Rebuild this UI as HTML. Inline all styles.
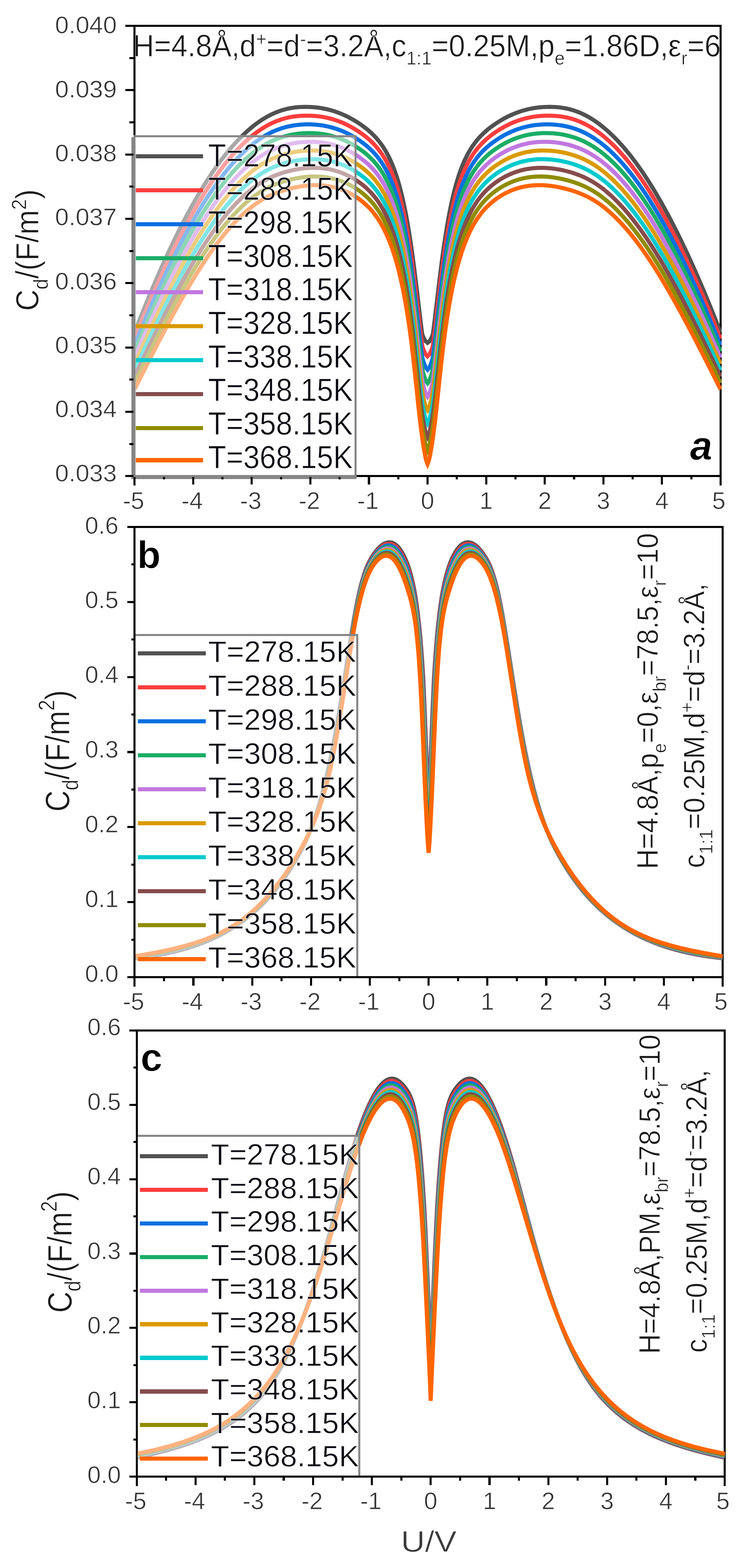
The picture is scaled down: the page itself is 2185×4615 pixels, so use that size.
<!DOCTYPE html>
<html lang="en">
<head>
<meta charset="utf-8">
<title>Differential capacitance curves</title>
<style>
html,body{margin:0;padding:0;background:#fff;}
body{width:2185px;height:4615px;overflow:hidden;}
svg{display:block;}
svg text{font-family:"Liberation Sans", Arial, sans-serif;white-space:pre;stroke:#fff;stroke-width:1.1px;}
</style>
</head>
<body>
<svg width="2185" height="4615" viewBox="0 0 2185 4615">
<rect x="0" y="0" width="2185" height="4615" fill="#fff"/>
<g shape-rendering="crispEdges">
<rect x="393.2" y="72.9" width="1731.6" height="6.1" fill="#000"/>
<rect x="393.2" y="1398.2" width="1731.6" height="6.1" fill="#000"/>
<rect x="393.2" y="72.9" width="6.1" height="1331.4" fill="#000"/>
<rect x="2118.7" y="72.9" width="6.1" height="1356.0" fill="#000"/>
</g>
<clipPath id="clipA"><rect x="399.4" y="76.0" width="1725.5" height="1325.3"/></clipPath>
<g clip-path="url(#clipA)" fill="none" stroke-width="12.0" stroke-linejoin="miter" stroke-miterlimit="3" stroke-linecap="butt">
<path d="M396.3,978.5 397.0,976.6 399.9,969.1 402.8,961.7 405.8,954.2 408.7,946.8 411.7,939.3 414.6,931.9 417.6,924.5 420.6,917.0 423.6,909.6 426.6,902.2 429.7,894.8 432.7,887.4 435.8,880.0 438.8,872.6 441.9,865.2 445.0,857.8 448.1,850.4 451.3,843.1 454.4,835.7 457.6,828.3 460.8,821.0 464.0,813.6 467.2,806.3 470.4,799.0 473.6,791.7 476.9,784.4 480.2,777.1 483.5,769.8 486.8,762.5 490.2,755.2 493.5,747.9 496.9,740.7 500.3,733.4 503.8,726.2 507.2,719.0 510.7,711.7 514.2,704.5 517.7,697.3 521.2,690.2 524.8,683.0 528.4,675.8 532.0,668.7 535.6,661.6 539.3,654.4 543.0,647.3 546.7,640.3 550.5,633.2 554.3,626.1 558.1,619.1 561.9,612.1 565.8,605.1 569.7,598.1 573.7,591.1 577.7,584.2 581.7,577.2 585.8,570.3 589.9,563.5 594.0,556.6 598.2,549.8 602.4,543.0 606.7,536.2 611.0,529.5 615.4,522.7 619.8,516.1 624.2,509.4 628.7,502.8 633.3,496.2 637.9,489.7 642.6,483.2 647.3,476.7 652.1,470.3 657.0,463.9 661.9,457.6 666.9,451.4 672.0,445.2 677.1,439.0 682.3,432.9 687.6,426.9 693.0,421.0 698.4,415.1 703.9,409.3 709.6,403.6 715.3,398.0 721.1,392.5 727.0,387.0 733.0,381.7 739.1,376.6 745.3,371.5 751.6,366.6 758.0,361.8 764.6,357.2 771.2,352.7 778.0,348.5 784.9,344.4 791.9,340.6 799.1,336.9 806.3,333.6 813.7,330.4 821.2,327.6 828.7,325.0 836.4,322.7 844.2,320.7 852.0,319.0 859.9,317.6 867.8,316.4 875.8,315.6 883.7,315.0 891.7,314.7 899.7,314.6 907.8,314.7 915.8,315.0 923.7,315.5 931.7,316.3 939.7,317.3 947.6,318.5 955.4,320.0 963.3,321.7 971.0,323.6 978.8,325.8 986.4,328.1 994.0,330.8 1001.4,333.6 1008.8,336.7 1016.1,340.0 1023.4,343.4 1030.5,347.1 1037.5,351.0 1044.4,355.0 1051.2,359.2 1057.9,363.6 1064.5,368.1 1071.0,372.8 1077.4,377.7 1083.6,382.7 1089.6,388.0 1095.5,393.4 1101.2,399.0 1106.7,404.9 1112.0,410.9 1117.0,417.1 1121.9,423.5 1126.5,430.0 1130.9,436.7 1135.1,443.5 1139.1,450.5 1142.8,457.5 1146.4,464.7 1149.9,471.9 1153.1,479.3 1156.2,486.6 1159.1,494.1 1161.9,501.6 1164.6,509.1 1167.1,516.7 1169.6,524.4 1171.9,532.0 1174.2,539.7 1176.4,547.4 1178.4,555.1 1180.5,562.9 1182.4,570.7 1184.3,578.4 1186.1,586.2 1187.8,594.1 1189.5,601.9 1191.2,609.7 1192.8,617.6 1194.4,625.4 1195.9,633.3 1197.3,641.2 1198.8,649.0 1200.1,656.9 1201.5,664.8 1202.8,672.7 1204.1,680.6 1205.4,688.5 1206.6,696.4 1207.8,704.3 1209.0,712.3 1210.2,720.2 1211.4,728.1 1212.5,736.0 1213.6,744.0 1214.7,751.9 1215.8,759.8 1216.8,767.8 1217.9,775.7 1218.9,783.6 1219.9,791.6 1220.9,799.5 1221.9,807.5 1222.9,815.4 1223.9,823.4 1224.9,831.3 1225.8,839.3 1226.8,847.2 1227.8,855.2 1228.7,863.1 1229.6,871.1 1230.6,879.0 1231.5,887.0 1232.4,894.9 1233.4,902.9 1234.3,910.8 1235.3,918.8 1236.2,926.7 1237.1,934.7 1238.1,942.6 1239.1,950.6 1240.1,958.5 1241.1,966.5 1242.1,974.4 1243.2,982.3 1245.6,990.0 1248.9,997.2 1253.1,1004.0 1259.1,1009.0 1265.0,1004.0 1269.2,997.2 1272.5,990.0 1274.9,982.3 1276.0,974.4 1277.0,966.5 1278.0,958.5 1279.0,950.6 1280.0,942.6 1281.0,934.7 1281.9,926.7 1282.8,918.8 1283.8,910.8 1284.7,902.9 1285.7,894.9 1286.6,887.0 1287.5,879.0 1288.5,871.1 1289.4,863.1 1290.3,855.2 1291.3,847.2 1292.3,839.3 1293.2,831.3 1294.2,823.4 1295.2,815.4 1296.2,807.5 1297.2,799.5 1298.2,791.6 1299.2,783.6 1300.2,775.7 1301.3,767.8 1302.3,759.8 1303.4,751.9 1304.5,744.0 1305.6,736.0 1306.7,728.1 1307.9,720.2 1309.1,712.3 1310.3,704.3 1311.5,696.4 1312.7,688.5 1314.0,680.6 1315.3,672.7 1316.6,664.8 1318.0,656.9 1319.3,649.0 1320.8,641.2 1322.2,633.3 1323.7,625.4 1325.3,617.6 1326.9,609.7 1328.6,601.9 1330.3,594.1 1332.0,586.2 1333.8,578.4 1335.7,570.7 1337.6,562.9 1339.7,555.1 1341.7,547.4 1343.9,539.7 1346.2,532.0 1348.5,524.4 1351.0,516.7 1353.5,509.1 1356.2,501.6 1359.0,494.1 1361.9,486.6 1365.0,479.3 1368.2,471.9 1371.7,464.7 1375.3,457.5 1379.0,450.5 1383.0,443.5 1387.2,436.7 1391.6,430.0 1396.2,423.5 1401.1,417.1 1406.1,410.9 1411.4,404.9 1416.9,399.0 1422.6,393.4 1428.5,388.0 1434.5,382.7 1440.7,377.7 1447.1,372.8 1453.6,368.1 1460.2,363.6 1466.9,359.2 1473.7,355.0 1480.6,351.0 1487.6,347.1 1494.7,343.4 1502.0,340.0 1509.3,336.7 1516.7,333.6 1524.1,330.8 1531.7,328.1 1539.3,325.8 1547.1,323.6 1554.8,321.7 1562.7,320.0 1570.5,318.5 1578.4,317.3 1586.4,316.3 1594.4,315.5 1602.3,315.0 1610.3,314.7 1618.4,314.6 1626.4,314.7 1634.4,315.0 1642.3,315.6 1650.3,316.4 1658.2,317.6 1666.1,319.0 1673.9,320.7 1681.7,322.7 1689.4,325.0 1696.9,327.6 1704.4,330.4 1711.8,333.6 1719.0,336.9 1726.2,340.6 1733.2,344.4 1740.1,348.5 1746.9,352.7 1753.5,357.2 1760.1,361.8 1766.5,366.6 1772.8,371.5 1779.0,376.6 1785.1,381.7 1791.1,387.0 1797.0,392.5 1802.8,398.0 1808.5,403.6 1814.2,409.3 1819.7,415.1 1825.1,421.0 1830.5,426.9 1835.8,432.9 1841.0,439.0 1846.1,445.2 1851.2,451.4 1856.2,457.6 1861.1,463.9 1866.0,470.3 1870.8,476.7 1875.5,483.2 1880.2,489.7 1884.8,496.2 1889.4,502.8 1893.9,509.4 1898.3,516.1 1902.7,522.7 1907.1,529.5 1911.4,536.2 1915.7,543.0 1919.9,549.8 1924.1,556.6 1928.2,563.5 1932.3,570.3 1936.4,577.2 1940.4,584.2 1944.4,591.1 1948.4,598.1 1952.3,605.1 1956.2,612.1 1960.0,619.1 1963.8,626.1 1967.6,633.2 1971.4,640.3 1975.1,647.3 1978.8,654.4 1982.5,661.6 1986.1,668.7 1989.7,675.8 1993.3,683.0 1996.9,690.2 2000.4,697.3 2003.9,704.5 2007.4,711.7 2010.9,719.0 2014.3,726.2 2017.8,733.4 2021.2,740.7 2024.6,747.9 2027.9,755.2 2031.3,762.5 2034.6,769.8 2037.9,777.1 2041.2,784.4 2044.5,791.7 2047.7,799.0 2050.9,806.3 2054.1,813.6 2057.3,821.0 2060.5,828.3 2063.7,835.7 2066.8,843.1 2070.0,850.4 2073.1,857.8 2076.2,865.2 2079.3,872.6 2082.3,880.0 2085.4,887.4 2088.4,894.8 2091.5,902.2 2094.5,909.6 2097.5,917.0 2100.5,924.5 2103.5,931.9 2106.4,939.3 2109.4,946.8 2112.3,954.2 2115.3,961.7 2118.2,969.1 2121.1,976.6 2121.8,978.5" stroke="#515151"/>
<path d="M396.3,997.1 397.0,995.2 400.0,987.8 403.0,980.4 406.0,972.9 409.0,965.5 412.0,958.1 415.0,950.7 418.0,943.3 421.1,935.9 424.2,928.5 427.2,921.1 430.3,913.7 433.4,906.4 436.5,899.0 439.7,891.6 442.8,884.3 446.0,876.9 449.1,869.6 452.3,862.2 455.5,854.9 458.7,847.6 462.0,840.3 465.2,833.0 468.5,825.7 471.8,818.4 475.1,811.1 478.4,803.8 481.7,796.5 485.1,789.3 488.4,782.0 491.8,774.8 495.2,767.5 498.7,760.3 502.1,753.1 505.6,745.9 509.1,738.7 512.6,731.5 516.1,724.3 519.7,717.1 523.3,710.0 526.9,702.8 530.5,695.7 534.2,688.6 537.9,681.5 541.6,674.4 545.3,667.3 549.1,660.3 552.9,653.2 556.7,646.2 560.6,639.2 564.5,632.2 568.4,625.2 572.3,618.3 576.3,611.4 580.4,604.4 584.4,597.6 588.5,590.7 592.7,583.8 596.9,577.0 601.1,570.2 605.4,563.5 609.7,556.7 614.0,550.0 618.4,543.3 622.9,536.7 627.4,530.1 632.0,523.5 636.6,517.0 641.3,510.5 646.0,504.0 650.8,497.6 655.6,491.3 660.5,485.0 665.5,478.7 670.6,472.5 675.7,466.3 680.9,460.3 686.2,454.2 691.5,448.3 697.0,442.4 702.5,436.6 708.1,430.9 713.8,425.3 719.6,419.8 725.4,414.4 731.4,409.0 737.5,403.8 743.7,398.8 750.0,393.8 756.4,389.1 762.9,384.4 769.6,380.0 776.3,375.7 783.2,371.6 790.2,367.8 797.3,364.1 804.6,360.7 811.9,357.5 819.4,354.6 826.9,352.0 834.6,349.6 842.3,347.5 850.1,345.7 857.9,344.1 865.8,342.9 873.8,341.9 881.7,341.2 889.7,340.7 897.7,340.4 905.7,340.4 913.7,340.5 921.7,340.9 929.7,341.5 937.6,342.4 945.5,343.4 953.4,344.7 961.3,346.3 969.1,348.1 976.8,350.1 984.5,352.4 992.1,354.9 999.6,357.7 1007.0,360.6 1014.4,363.8 1021.6,367.3 1028.7,370.9 1035.8,374.7 1042.7,378.7 1049.5,382.9 1056.2,387.2 1062.8,391.7 1069.3,396.4 1075.7,401.2 1081.9,406.3 1087.9,411.5 1093.8,417.0 1099.5,422.6 1104.9,428.5 1110.2,434.5 1115.2,440.7 1120.1,447.1 1124.7,453.6 1129.1,460.3 1133.3,467.1 1137.3,474.0 1141.1,481.1 1144.7,488.2 1148.1,495.4 1151.4,502.7 1154.5,510.1 1157.5,517.5 1160.3,525.0 1163.0,532.6 1165.6,540.1 1168.0,547.7 1170.4,555.4 1172.7,563.1 1174.9,570.7 1177.0,578.5 1179.0,586.2 1181.0,594.0 1182.9,601.7 1184.7,609.5 1186.5,617.3 1188.2,625.1 1189.9,633.0 1191.5,640.8 1193.1,648.6 1194.6,656.5 1196.1,664.3 1197.5,672.2 1198.9,680.1 1200.3,688.0 1201.7,695.9 1203.0,703.8 1204.2,711.7 1205.5,719.6 1206.7,727.5 1207.9,735.4 1209.1,743.3 1210.2,751.2 1211.4,759.1 1212.5,767.0 1213.6,775.0 1214.6,782.9 1215.7,790.8 1216.7,798.8 1217.8,806.7 1218.8,814.6 1219.8,822.6 1220.8,830.5 1221.8,838.4 1222.7,846.4 1223.7,854.3 1224.7,862.3 1225.6,870.2 1226.5,878.2 1227.5,886.1 1228.4,894.1 1229.3,902.0 1230.3,909.9 1231.2,917.9 1232.1,925.8 1233.0,933.8 1234.0,941.7 1234.9,949.7 1235.8,957.6 1236.8,965.6 1237.7,973.5 1238.7,981.5 1239.7,989.4 1240.7,997.3 1241.7,1005.3 1242.8,1013.2 1244.3,1021.0 1246.9,1028.6 1249.9,1036.0 1253.7,1043.0 1259.1,1048.7 1264.4,1043.0 1268.2,1036.0 1271.2,1028.6 1273.8,1021.0 1275.3,1013.2 1276.4,1005.3 1277.4,997.3 1278.4,989.4 1279.4,981.5 1280.4,973.5 1281.3,965.6 1282.3,957.6 1283.2,949.7 1284.1,941.7 1285.1,933.8 1286.0,925.8 1286.9,917.9 1287.8,909.9 1288.8,902.0 1289.7,894.1 1290.6,886.1 1291.6,878.2 1292.5,870.2 1293.4,862.3 1294.4,854.3 1295.4,846.4 1296.3,838.4 1297.3,830.5 1298.3,822.6 1299.3,814.6 1300.3,806.7 1301.4,798.8 1302.4,790.8 1303.5,782.9 1304.5,775.0 1305.6,767.0 1306.7,759.1 1307.9,751.2 1309.0,743.3 1310.2,735.4 1311.4,727.5 1312.6,719.6 1313.9,711.7 1315.1,703.8 1316.4,695.9 1317.8,688.0 1319.2,680.1 1320.6,672.2 1322.0,664.3 1323.5,656.5 1325.0,648.6 1326.6,640.8 1328.2,633.0 1329.9,625.1 1331.6,617.3 1333.4,609.5 1335.2,601.7 1337.1,594.0 1339.1,586.2 1341.1,578.5 1343.2,570.7 1345.4,563.1 1347.7,555.4 1350.1,547.7 1352.5,540.1 1355.1,532.6 1357.8,525.0 1360.6,517.5 1363.6,510.1 1366.7,502.7 1370.0,495.4 1373.4,488.2 1377.0,481.1 1380.8,474.0 1384.8,467.1 1389.0,460.3 1393.4,453.6 1398.0,447.1 1402.9,440.7 1407.9,434.5 1413.2,428.5 1418.6,422.6 1424.3,417.0 1430.2,411.5 1436.2,406.3 1442.4,401.2 1448.8,396.4 1455.3,391.7 1461.9,387.2 1468.6,382.9 1475.4,378.7 1482.3,374.7 1489.4,370.9 1496.5,367.3 1503.7,363.8 1511.1,360.6 1518.5,357.7 1526.0,354.9 1533.6,352.4 1541.3,350.1 1549.0,348.1 1556.8,346.3 1564.7,344.7 1572.6,343.4 1580.5,342.4 1588.4,341.5 1596.4,340.9 1604.4,340.5 1612.4,340.4 1620.4,340.4 1628.4,340.7 1636.4,341.2 1644.3,341.9 1652.3,342.9 1660.2,344.1 1668.0,345.7 1675.8,347.5 1683.5,349.6 1691.2,352.0 1698.7,354.6 1706.2,357.5 1713.5,360.7 1720.8,364.1 1727.9,367.8 1734.9,371.6 1741.8,375.7 1748.5,380.0 1755.2,384.4 1761.7,389.1 1768.1,393.8 1774.4,398.8 1780.6,403.8 1786.7,409.0 1792.7,414.4 1798.5,419.8 1804.3,425.3 1810.0,430.9 1815.6,436.6 1821.1,442.4 1826.6,448.3 1831.9,454.2 1837.2,460.3 1842.4,466.3 1847.5,472.5 1852.6,478.7 1857.6,485.0 1862.5,491.3 1867.3,497.6 1872.1,504.0 1876.8,510.5 1881.5,517.0 1886.1,523.5 1890.7,530.1 1895.2,536.7 1899.7,543.3 1904.1,550.0 1908.4,556.7 1912.7,563.5 1917.0,570.2 1921.2,577.0 1925.4,583.8 1929.6,590.7 1933.7,597.6 1937.7,604.4 1941.8,611.4 1945.8,618.3 1949.7,625.2 1953.6,632.2 1957.5,639.2 1961.4,646.2 1965.2,653.2 1969.0,660.3 1972.8,667.3 1976.5,674.4 1980.2,681.5 1983.9,688.6 1987.6,695.7 1991.2,702.8 1994.8,710.0 1998.4,717.1 2002.0,724.3 2005.5,731.5 2009.0,738.7 2012.5,745.9 2016.0,753.1 2019.4,760.3 2022.9,767.5 2026.3,774.8 2029.7,782.0 2033.0,789.3 2036.4,796.5 2039.7,803.8 2043.0,811.1 2046.3,818.4 2049.6,825.7 2052.9,833.0 2056.1,840.3 2059.4,847.6 2062.6,854.9 2065.8,862.2 2069.0,869.6 2072.1,876.9 2075.3,884.3 2078.4,891.6 2081.6,899.0 2084.7,906.4 2087.8,913.7 2090.9,921.1 2093.9,928.5 2097.0,935.9 2100.1,943.3 2103.1,950.7 2106.1,958.1 2109.1,965.5 2112.1,972.9 2115.1,980.4 2118.1,987.8 2121.1,995.2 2121.8,997.1" stroke="#FB3E3E"/>
<path d="M396.3,1015.7 396.3,1015.7 399.3,1008.3 402.4,1000.9 405.4,993.5 408.5,986.1 411.6,978.7 414.7,971.3 417.8,963.9 420.9,956.6 424.0,949.2 427.1,941.8 430.3,934.5 433.4,927.1 436.6,919.8 439.8,912.4 443.0,905.1 446.2,897.8 449.4,890.4 452.7,883.1 455.9,875.8 459.2,868.5 462.5,861.2 465.8,853.9 469.1,846.6 472.4,839.3 475.8,832.1 479.1,824.8 482.5,817.6 485.9,810.3 489.3,803.1 492.8,795.9 496.2,788.6 499.7,781.4 503.2,774.2 506.7,767.0 510.3,759.9 513.8,752.7 517.4,745.5 521.0,738.4 524.6,731.3 528.3,724.1 532.0,717.0 535.7,709.9 539.4,702.8 543.2,695.8 546.9,688.7 550.7,681.7 554.6,674.7 558.5,667.6 562.4,660.7 566.3,653.7 570.3,646.7 574.2,639.8 578.3,632.9 582.3,626.0 586.5,619.1 590.6,612.3 594.8,605.5 599.0,598.7 603.3,591.9 607.6,585.1 612.0,578.4 616.4,571.7 620.8,565.1 625.3,558.5 629.9,551.9 634.5,545.4 639.1,538.9 643.9,532.4 648.6,526.0 653.5,519.6 658.4,513.3 663.4,507.0 668.4,500.8 673.5,494.6 678.7,488.5 683.9,482.5 689.3,476.5 694.7,470.6 700.2,464.8 705.8,459.1 711.4,453.4 717.2,447.9 723.1,442.4 729.0,437.1 735.1,431.8 741.3,426.7 747.5,421.8 753.9,417.0 760.4,412.3 767.0,407.8 773.8,403.5 780.6,399.4 787.6,395.4 794.7,391.7 801.9,388.3 809.2,385.0 816.7,382.0 824.2,379.3 831.8,376.8 839.5,374.6 847.2,372.6 855.1,371.0 862.9,369.5 870.9,368.4 878.8,367.4 886.8,366.8 894.8,366.3 902.8,366.1 910.8,366.1 918.8,366.3 926.8,366.7 934.7,367.4 942.7,368.3 950.6,369.4 958.5,370.8 966.3,372.5 974.1,374.4 981.8,376.5 989.5,378.9 997.0,381.5 1004.5,384.4 1011.9,387.4 1019.2,390.8 1026.3,394.3 1033.4,398.0 1040.4,402.0 1047.2,406.1 1054.0,410.4 1060.6,414.9 1067.1,419.6 1073.5,424.4 1079.7,429.5 1085.8,434.7 1091.6,440.1 1097.3,445.8 1102.8,451.6 1108.1,457.6 1113.1,463.8 1118.0,470.2 1122.6,476.7 1127.0,483.4 1131.2,490.2 1135.2,497.1 1139.1,504.1 1142.7,511.3 1146.2,518.5 1149.5,525.8 1152.6,533.1 1155.6,540.6 1158.5,548.0 1161.2,555.6 1163.8,563.1 1166.4,570.7 1168.8,578.3 1171.1,586.0 1173.3,593.7 1175.4,601.4 1177.5,609.1 1179.5,616.9 1181.4,624.7 1183.3,632.4 1185.1,640.2 1186.8,648.1 1188.5,655.9 1190.2,663.7 1191.8,671.6 1193.3,679.4 1194.8,687.3 1196.3,695.1 1197.7,703.0 1199.1,710.9 1200.4,718.8 1201.8,726.7 1203.0,734.6 1204.3,742.5 1205.5,750.4 1206.7,758.3 1207.9,766.2 1209.1,774.1 1210.2,782.1 1211.3,790.0 1212.4,797.9 1213.5,805.9 1214.6,813.8 1215.6,821.7 1216.6,829.7 1217.7,837.6 1218.7,845.5 1219.6,853.5 1220.6,861.4 1221.6,869.4 1222.5,877.3 1223.5,885.3 1224.4,893.2 1225.4,901.2 1226.3,909.1 1227.2,917.1 1228.1,925.0 1229.1,933.0 1230.0,940.9 1230.9,948.9 1231.8,956.8 1232.7,964.8 1233.6,972.7 1234.5,980.7 1235.5,988.6 1236.4,996.6 1237.4,1004.5 1238.3,1012.5 1239.3,1020.4 1240.3,1028.3 1241.3,1036.3 1242.4,1044.2 1243.6,1052.1 1245.6,1059.9 1248.0,1067.5 1250.8,1075.0 1254.1,1082.2 1259.1,1088.3 1264.0,1082.2 1267.3,1075.0 1270.1,1067.5 1272.5,1059.9 1274.5,1052.1 1275.7,1044.2 1276.8,1036.3 1277.8,1028.3 1278.8,1020.4 1279.8,1012.5 1280.7,1004.5 1281.7,996.6 1282.6,988.6 1283.6,980.7 1284.5,972.7 1285.4,964.8 1286.3,956.8 1287.2,948.9 1288.1,940.9 1289.0,933.0 1290.0,925.0 1290.9,917.1 1291.8,909.1 1292.7,901.2 1293.7,893.2 1294.6,885.3 1295.6,877.3 1296.5,869.4 1297.5,861.4 1298.5,853.5 1299.4,845.5 1300.4,837.6 1301.5,829.7 1302.5,821.7 1303.5,813.8 1304.6,805.9 1305.7,797.9 1306.8,790.0 1307.9,782.1 1309.0,774.1 1310.2,766.2 1311.4,758.3 1312.6,750.4 1313.8,742.5 1315.1,734.6 1316.3,726.7 1317.7,718.8 1319.0,710.9 1320.4,703.0 1321.8,695.1 1323.3,687.3 1324.8,679.4 1326.3,671.6 1327.9,663.7 1329.6,655.9 1331.3,648.1 1333.0,640.2 1334.8,632.4 1336.7,624.7 1338.6,616.9 1340.6,609.1 1342.7,601.4 1344.8,593.7 1347.0,586.0 1349.3,578.3 1351.7,570.7 1354.3,563.1 1356.9,555.6 1359.6,548.0 1362.5,540.6 1365.5,533.1 1368.6,525.8 1371.9,518.5 1375.4,511.3 1379.0,504.1 1382.9,497.1 1386.9,490.2 1391.1,483.4 1395.5,476.7 1400.1,470.2 1405.0,463.8 1410.0,457.6 1415.3,451.6 1420.8,445.8 1426.5,440.1 1432.3,434.7 1438.4,429.5 1444.6,424.4 1451.0,419.6 1457.5,414.9 1464.1,410.4 1470.9,406.1 1477.7,402.0 1484.7,398.0 1491.8,394.3 1498.9,390.8 1506.2,387.4 1513.6,384.4 1521.1,381.5 1528.6,378.9 1536.3,376.5 1544.0,374.4 1551.8,372.5 1559.6,370.8 1567.5,369.4 1575.4,368.3 1583.4,367.4 1591.3,366.7 1599.3,366.3 1607.3,366.1 1615.3,366.1 1623.3,366.3 1631.3,366.8 1639.3,367.4 1647.2,368.4 1655.2,369.5 1663.0,371.0 1670.9,372.6 1678.6,374.6 1686.3,376.8 1693.9,379.3 1701.4,382.0 1708.9,385.0 1716.2,388.3 1723.4,391.7 1730.5,395.4 1737.5,399.4 1744.3,403.5 1751.1,407.8 1757.7,412.3 1764.2,417.0 1770.6,421.8 1776.8,426.7 1783.0,431.8 1789.1,437.1 1795.0,442.4 1800.9,447.9 1806.7,453.4 1812.3,459.1 1817.9,464.8 1823.4,470.6 1828.8,476.5 1834.2,482.5 1839.4,488.5 1844.6,494.6 1849.7,500.8 1854.7,507.0 1859.7,513.3 1864.6,519.6 1869.5,526.0 1874.2,532.4 1879.0,538.9 1883.6,545.4 1888.2,551.9 1892.8,558.5 1897.3,565.1 1901.7,571.7 1906.1,578.4 1910.5,585.1 1914.8,591.9 1919.1,598.7 1923.3,605.5 1927.5,612.3 1931.6,619.1 1935.8,626.0 1939.8,632.9 1943.9,639.8 1947.8,646.7 1951.8,653.7 1955.7,660.7 1959.6,667.6 1963.5,674.7 1967.4,681.7 1971.2,688.7 1974.9,695.8 1978.7,702.8 1982.4,709.9 1986.1,717.0 1989.8,724.1 1993.5,731.3 1997.1,738.4 2000.7,745.5 2004.3,752.7 2007.8,759.9 2011.4,767.0 2014.9,774.2 2018.4,781.4 2021.9,788.6 2025.3,795.9 2028.8,803.1 2032.2,810.3 2035.6,817.6 2039.0,824.8 2042.3,832.1 2045.7,839.3 2049.0,846.6 2052.3,853.9 2055.6,861.2 2058.9,868.5 2062.2,875.8 2065.4,883.1 2068.7,890.4 2071.9,897.8 2075.1,905.1 2078.3,912.4 2081.5,919.8 2084.7,927.1 2087.8,934.5 2091.0,941.8 2094.1,949.2 2097.2,956.6 2100.3,963.9 2103.4,971.3 2106.5,978.7 2109.6,986.1 2112.7,993.5 2115.7,1000.9 2118.8,1008.3 2121.8,1015.7 2121.8,1015.7" stroke="#0A70E0"/>
<path d="M396.3,1034.3 398.6,1028.8 401.7,1021.4 404.9,1014.0 408.0,1006.6 411.1,999.3 414.3,991.9 417.4,984.6 420.6,977.2 423.8,969.9 427.0,962.5 430.2,955.2 433.4,947.9 436.7,940.5 439.9,933.2 443.2,925.9 446.4,918.6 449.7,911.3 453.0,904.0 456.3,896.7 459.7,889.4 463.0,882.1 466.4,874.9 469.7,867.6 473.1,860.3 476.5,853.1 479.9,845.8 483.4,838.6 486.8,831.4 490.3,824.2 493.8,817.0 497.3,809.8 500.8,802.6 504.4,795.4 507.9,788.2 511.5,781.1 515.1,773.9 518.7,766.8 522.4,759.6 526.1,752.5 529.8,745.4 533.5,738.3 537.2,731.2 541.0,724.2 544.8,717.1 548.6,710.1 552.5,703.1 556.3,696.1 560.2,689.1 564.2,682.1 568.2,675.1 572.2,668.2 576.2,661.3 580.3,654.4 584.4,647.5 588.5,640.7 592.7,633.9 596.9,627.1 601.2,620.3 605.5,613.5 609.9,606.8 614.3,600.1 618.7,593.5 623.2,586.8 627.8,580.3 632.4,573.7 637.0,567.2 641.8,560.7 646.5,554.3 651.4,547.9 656.3,541.6 661.2,535.3 666.2,529.0 671.3,522.9 676.5,516.7 681.7,510.7 687.1,504.7 692.5,498.8 697.9,492.9 703.5,487.2 709.2,481.5 714.9,475.9 720.7,470.5 726.7,465.1 732.7,459.8 738.9,454.7 745.1,449.7 751.5,444.8 758.0,440.1 764.6,435.6 771.3,431.2 778.1,427.1 785.1,423.1 792.2,419.3 799.3,415.8 806.6,412.5 814.0,409.4 821.5,406.6 829.1,404.1 836.8,401.7 844.5,399.7 852.3,397.8 860.1,396.2 868.0,394.9 876.0,393.8 883.9,393.0 891.9,392.3 899.9,391.9 907.9,391.8 915.9,391.8 923.9,392.0 931.9,392.5 939.9,393.3 947.8,394.2 955.8,395.5 963.6,396.9 971.4,398.7 979.2,400.7 986.9,402.9 994.5,405.4 1002.0,408.1 1009.5,411.1 1016.8,414.4 1024.0,417.8 1031.1,421.5 1038.1,425.4 1045.0,429.4 1051.8,433.7 1058.4,438.2 1065.0,442.8 1071.4,447.6 1077.6,452.6 1083.7,457.9 1089.5,463.3 1095.2,468.9 1100.7,474.8 1106.0,480.8 1111.1,487.0 1115.9,493.4 1120.6,499.9 1125.0,506.5 1129.2,513.3 1133.3,520.3 1137.1,527.3 1140.8,534.4 1144.3,541.6 1147.6,548.9 1150.8,556.2 1153.8,563.6 1156.7,571.1 1159.5,578.6 1162.2,586.2 1164.7,593.8 1167.1,601.4 1169.5,609.1 1171.7,616.7 1173.9,624.4 1176.0,632.2 1178.0,639.9 1180.0,647.7 1181.9,655.5 1183.7,663.3 1185.5,671.1 1187.2,678.9 1188.8,686.7 1190.5,694.6 1192.0,702.4 1193.5,710.3 1195.0,718.2 1196.5,726.0 1197.9,733.9 1199.2,741.8 1200.6,749.7 1201.9,757.6 1203.2,765.5 1204.4,773.4 1205.6,781.3 1206.8,789.3 1208.0,797.2 1209.1,805.1 1210.2,813.0 1211.3,821.0 1212.4,828.9 1213.5,836.8 1214.5,844.8 1215.5,852.7 1216.6,860.7 1217.6,868.6 1218.5,876.6 1219.5,884.5 1220.5,892.5 1221.4,900.4 1222.4,908.4 1223.3,916.3 1224.2,924.3 1225.2,932.2 1226.1,940.2 1227.0,948.1 1227.9,956.1 1228.8,964.1 1229.7,972.0 1230.6,980.0 1231.5,987.9 1232.4,995.9 1233.3,1003.8 1234.2,1011.8 1235.1,1019.7 1236.1,1027.7 1237.0,1035.7 1238.0,1043.6 1238.9,1051.6 1239.9,1059.5 1240.9,1067.4 1242.0,1075.4 1243.1,1083.3 1244.7,1091.2 1246.7,1098.9 1249.0,1106.6 1251.5,1114.2 1254.6,1121.6 1259.1,1128.0 1263.5,1121.6 1266.6,1114.2 1269.1,1106.6 1271.4,1098.9 1273.4,1091.2 1275.0,1083.3 1276.1,1075.4 1277.2,1067.4 1278.2,1059.5 1279.2,1051.6 1280.1,1043.6 1281.1,1035.7 1282.0,1027.7 1283.0,1019.7 1283.9,1011.8 1284.8,1003.8 1285.7,995.9 1286.6,987.9 1287.5,980.0 1288.4,972.0 1289.3,964.1 1290.2,956.1 1291.1,948.1 1292.0,940.2 1292.9,932.2 1293.9,924.3 1294.8,916.3 1295.7,908.4 1296.7,900.4 1297.6,892.5 1298.6,884.5 1299.6,876.6 1300.5,868.6 1301.5,860.7 1302.6,852.7 1303.6,844.8 1304.6,836.8 1305.7,828.9 1306.8,821.0 1307.9,813.0 1309.0,805.1 1310.1,797.2 1311.3,789.3 1312.5,781.3 1313.7,773.4 1314.9,765.5 1316.2,757.6 1317.5,749.7 1318.9,741.8 1320.2,733.9 1321.6,726.0 1323.1,718.2 1324.6,710.3 1326.1,702.4 1327.6,694.6 1329.3,686.7 1330.9,678.9 1332.6,671.1 1334.4,663.3 1336.2,655.5 1338.1,647.7 1340.1,639.9 1342.1,632.2 1344.2,624.4 1346.4,616.7 1348.6,609.1 1351.0,601.4 1353.4,593.8 1355.9,586.2 1358.6,578.6 1361.4,571.1 1364.3,563.6 1367.3,556.2 1370.5,548.9 1373.8,541.6 1377.3,534.4 1381.0,527.3 1384.8,520.3 1388.9,513.3 1393.1,506.5 1397.5,499.9 1402.2,493.4 1407.0,487.0 1412.1,480.8 1417.4,474.8 1422.9,468.9 1428.6,463.3 1434.4,457.9 1440.5,452.6 1446.7,447.6 1453.1,442.8 1459.7,438.2 1466.3,433.7 1473.1,429.4 1480.0,425.4 1487.0,421.5 1494.1,417.8 1501.3,414.4 1508.6,411.1 1516.1,408.1 1523.6,405.4 1531.2,402.9 1538.9,400.7 1546.7,398.7 1554.5,396.9 1562.3,395.5 1570.3,394.2 1578.2,393.3 1586.2,392.5 1594.2,392.0 1602.2,391.8 1610.2,391.8 1618.2,391.9 1626.2,392.3 1634.2,393.0 1642.1,393.8 1650.1,394.9 1658.0,396.2 1665.8,397.8 1673.6,399.7 1681.3,401.7 1689.0,404.1 1696.6,406.6 1704.1,409.4 1711.5,412.5 1718.8,415.8 1725.9,419.3 1733.0,423.1 1740.0,427.1 1746.8,431.2 1753.5,435.6 1760.1,440.1 1766.6,444.8 1773.0,449.7 1779.2,454.7 1785.4,459.8 1791.4,465.1 1797.4,470.5 1803.2,475.9 1808.9,481.5 1814.6,487.2 1820.2,492.9 1825.6,498.8 1831.0,504.7 1836.4,510.7 1841.6,516.7 1846.8,522.9 1851.9,529.0 1856.9,535.3 1861.8,541.6 1866.7,547.9 1871.6,554.3 1876.3,560.7 1881.1,567.2 1885.7,573.7 1890.3,580.3 1894.9,586.8 1899.4,593.5 1903.8,600.1 1908.2,606.8 1912.6,613.5 1916.9,620.3 1921.2,627.1 1925.4,633.9 1929.6,640.7 1933.7,647.5 1937.8,654.4 1941.9,661.3 1945.9,668.2 1949.9,675.1 1953.9,682.1 1957.9,689.1 1961.8,696.1 1965.6,703.1 1969.5,710.1 1973.3,717.1 1977.1,724.2 1980.9,731.2 1984.6,738.3 1988.3,745.4 1992.0,752.5 1995.7,759.6 1999.4,766.8 2003.0,773.9 2006.6,781.1 2010.2,788.2 2013.7,795.4 2017.3,802.6 2020.8,809.8 2024.3,817.0 2027.8,824.2 2031.3,831.4 2034.7,838.6 2038.2,845.8 2041.6,853.1 2045.0,860.3 2048.4,867.6 2051.7,874.9 2055.1,882.1 2058.4,889.4 2061.8,896.7 2065.1,904.0 2068.4,911.3 2071.7,918.6 2074.9,925.9 2078.2,933.2 2081.4,940.5 2084.7,947.9 2087.9,955.2 2091.1,962.5 2094.3,969.9 2097.5,977.2 2100.7,984.6 2103.8,991.9 2107.0,999.3 2110.1,1006.6 2113.2,1014.0 2116.4,1021.4 2119.5,1028.8 2121.8,1034.3" stroke="#1AAD66"/>
<path d="M396.3,1052.9 398.7,1047.4 401.9,1040.1 405.0,1032.7 408.2,1025.4 411.5,1018.1 414.7,1010.7 417.9,1003.4 421.1,996.1 424.4,988.8 427.7,981.5 430.9,974.2 434.2,966.9 437.5,959.6 440.8,952.3 444.1,945.0 447.5,937.7 450.8,930.4 454.2,923.2 457.5,915.9 460.9,908.7 464.3,901.4 467.7,894.2 471.2,886.9 474.6,879.7 478.0,872.5 481.5,865.3 485.0,858.1 488.5,850.9 492.0,843.7 495.6,836.5 499.1,829.3 502.7,822.2 506.3,815.0 509.9,807.9 513.5,800.8 517.2,793.6 520.9,786.5 524.6,779.4 528.3,772.3 532.0,765.3 535.8,758.2 539.6,751.1 543.4,744.1 547.2,737.1 551.1,730.1 555.0,723.1 558.9,716.1 562.8,709.1 566.8,702.2 570.8,695.3 574.9,688.4 579.0,681.5 583.1,674.6 587.2,667.8 591.4,661.0 595.7,654.2 599.9,647.4 604.3,640.7 608.6,633.9 613.0,627.3 617.5,620.6 622.0,614.0 626.5,607.4 631.1,600.9 635.8,594.4 640.5,587.9 645.3,581.5 650.1,575.1 655.0,568.7 659.9,562.4 665.0,556.2 670.1,550.0 675.2,543.9 680.4,537.9 685.8,531.9 691.1,526.0 696.6,520.1 702.2,514.4 707.8,508.7 713.6,503.1 719.4,497.6 725.3,492.2 731.3,487.0 737.5,481.8 743.7,476.8 750.1,472.0 756.5,467.2 763.1,462.7 769.8,458.3 776.7,454.1 783.6,450.2 790.7,446.4 797.8,442.8 805.1,439.5 812.5,436.4 820.0,433.6 827.5,431.0 835.2,428.6 842.9,426.4 850.7,424.5 858.5,422.8 866.3,421.4 874.3,420.1 882.2,419.1 890.2,418.4 898.1,417.8 906.1,417.5 914.1,417.4 922.1,417.5 930.1,417.8 938.1,418.4 946.1,419.2 954.0,420.3 961.9,421.7 969.7,423.3 977.5,425.2 985.2,427.3 992.9,429.7 1000.4,432.3 1007.9,435.2 1015.2,438.4 1022.5,441.7 1029.6,445.4 1036.7,449.2 1043.6,453.2 1050.4,457.5 1057.0,461.9 1063.6,466.5 1069.9,471.4 1076.2,476.4 1082.2,481.6 1088.1,487.1 1093.8,492.7 1099.2,498.5 1104.5,504.6 1109.6,510.8 1114.4,517.1 1119.0,523.7 1123.5,530.3 1127.7,537.1 1131.7,544.0 1135.6,551.1 1139.3,558.2 1142.8,565.4 1146.1,572.6 1149.3,580.0 1152.3,587.4 1155.3,594.8 1158.0,602.3 1160.7,609.9 1163.3,617.5 1165.7,625.1 1168.1,632.7 1170.4,640.4 1172.6,648.1 1174.7,655.8 1176.7,663.6 1178.7,671.3 1180.6,679.1 1182.4,686.9 1184.2,694.7 1185.9,702.5 1187.6,710.3 1189.3,718.2 1190.8,726.0 1192.4,733.9 1193.9,741.7 1195.3,749.6 1196.8,757.5 1198.1,765.3 1199.5,773.2 1200.8,781.1 1202.1,789.0 1203.3,796.9 1204.6,804.8 1205.8,812.8 1206.9,820.7 1208.1,828.6 1209.2,836.5 1210.3,844.5 1211.4,852.4 1212.4,860.3 1213.5,868.3 1214.5,876.2 1215.5,884.1 1216.5,892.1 1217.5,900.0 1218.5,908.0 1219.4,915.9 1220.4,923.9 1221.3,931.8 1222.2,939.8 1223.2,947.7 1224.1,955.7 1225.0,963.6 1225.9,971.6 1226.8,979.5 1227.7,987.5 1228.6,995.4 1229.5,1003.4 1230.3,1011.3 1231.2,1019.3 1232.1,1027.2 1233.0,1035.2 1233.9,1043.1 1234.8,1051.1 1235.8,1059.0 1236.7,1067.0 1237.6,1074.9 1238.6,1082.9 1239.6,1090.8 1240.6,1098.8 1241.6,1106.7 1242.7,1114.6 1244.0,1122.5 1245.7,1130.3 1247.7,1138.1 1249.7,1145.8 1252.1,1153.5 1254.9,1161.0 1259.1,1167.7 1263.2,1161.0 1266.0,1153.5 1268.4,1145.8 1270.4,1138.1 1272.4,1130.3 1274.1,1122.5 1275.4,1114.6 1276.5,1106.7 1277.5,1098.8 1278.5,1090.8 1279.5,1082.9 1280.5,1074.9 1281.4,1067.0 1282.3,1059.0 1283.3,1051.1 1284.2,1043.1 1285.1,1035.2 1286.0,1027.2 1286.9,1019.3 1287.8,1011.3 1288.6,1003.4 1289.5,995.4 1290.4,987.5 1291.3,979.5 1292.2,971.6 1293.1,963.6 1294.0,955.7 1294.9,947.7 1295.9,939.8 1296.8,931.8 1297.7,923.9 1298.7,915.9 1299.6,908.0 1300.6,900.0 1301.6,892.1 1302.6,884.1 1303.6,876.2 1304.6,868.3 1305.7,860.3 1306.7,852.4 1307.8,844.5 1308.9,836.5 1310.0,828.6 1311.2,820.7 1312.3,812.8 1313.5,804.8 1314.8,796.9 1316.0,789.0 1317.3,781.1 1318.6,773.2 1320.0,765.3 1321.3,757.5 1322.8,749.6 1324.2,741.7 1325.7,733.9 1327.3,726.0 1328.8,718.2 1330.5,710.3 1332.2,702.5 1333.9,694.7 1335.7,686.9 1337.5,679.1 1339.4,671.3 1341.4,663.6 1343.4,655.8 1345.5,648.1 1347.7,640.4 1350.0,632.7 1352.4,625.1 1354.8,617.5 1357.4,609.9 1360.1,602.3 1362.8,594.8 1365.8,587.4 1368.8,580.0 1372.0,572.6 1375.3,565.4 1378.8,558.2 1382.5,551.1 1386.4,544.0 1390.4,537.1 1394.6,530.3 1399.1,523.7 1403.7,517.1 1408.5,510.8 1413.6,504.6 1418.9,498.5 1424.3,492.7 1430.0,487.1 1435.9,481.6 1441.9,476.4 1448.2,471.4 1454.5,466.5 1461.1,461.9 1467.7,457.5 1474.5,453.2 1481.4,449.2 1488.5,445.4 1495.6,441.7 1502.9,438.4 1510.2,435.2 1517.7,432.3 1525.2,429.7 1532.9,427.3 1540.6,425.2 1548.4,423.3 1556.2,421.7 1564.1,420.3 1572.0,419.2 1580.0,418.4 1588.0,417.8 1596.0,417.5 1604.0,417.4 1612.0,417.5 1620.0,417.8 1627.9,418.4 1635.9,419.1 1643.8,420.1 1651.8,421.4 1659.6,422.8 1667.4,424.5 1675.2,426.4 1682.9,428.6 1690.6,431.0 1698.1,433.6 1705.6,436.4 1713.0,439.5 1720.3,442.8 1727.4,446.4 1734.5,450.2 1741.4,454.1 1748.3,458.3 1755.0,462.7 1761.6,467.2 1768.0,472.0 1774.4,476.8 1780.6,481.8 1786.8,487.0 1792.8,492.2 1798.7,497.6 1804.5,503.1 1810.3,508.7 1815.9,514.4 1821.5,520.1 1827.0,526.0 1832.3,531.9 1837.7,537.9 1842.9,543.9 1848.0,550.0 1853.1,556.2 1858.2,562.4 1863.1,568.7 1868.0,575.1 1872.8,581.5 1877.6,587.9 1882.3,594.4 1887.0,600.9 1891.6,607.4 1896.1,614.0 1900.6,620.6 1905.1,627.3 1909.5,633.9 1913.8,640.7 1918.2,647.4 1922.4,654.2 1926.7,661.0 1930.9,667.8 1935.0,674.6 1939.1,681.5 1943.2,688.4 1947.3,695.3 1951.3,702.2 1955.3,709.1 1959.2,716.1 1963.1,723.1 1967.0,730.1 1970.9,737.1 1974.7,744.1 1978.5,751.1 1982.3,758.2 1986.1,765.3 1989.8,772.3 1993.5,779.4 1997.2,786.5 2000.9,793.6 2004.6,800.8 2008.2,807.9 2011.8,815.0 2015.4,822.2 2019.0,829.3 2022.5,836.5 2026.1,843.7 2029.6,850.9 2033.1,858.1 2036.6,865.3 2040.1,872.5 2043.5,879.7 2046.9,886.9 2050.4,894.2 2053.8,901.4 2057.2,908.7 2060.6,915.9 2063.9,923.2 2067.3,930.4 2070.6,937.7 2074.0,945.0 2077.3,952.3 2080.6,959.6 2083.9,966.9 2087.2,974.2 2090.4,981.5 2093.7,988.8 2097.0,996.1 2100.2,1003.4 2103.4,1010.7 2106.6,1018.1 2109.9,1025.4 2113.1,1032.7 2116.2,1040.1 2119.4,1047.4 2121.8,1052.9" stroke="#C078E0"/>
<path d="M396.3,1071.5 398.7,1066.1 402.0,1058.7 405.3,1051.4 408.5,1044.1 411.8,1036.8 415.1,1029.6 418.4,1022.3 421.7,1015.0 425.0,1007.7 428.3,1000.4 431.7,993.2 435.0,985.9 438.4,978.6 441.8,971.4 445.1,964.1 448.5,956.9 451.9,949.6 455.4,942.4 458.8,935.2 462.2,927.9 465.7,920.7 469.1,913.5 472.6,906.3 476.1,899.1 479.6,891.9 483.2,884.7 486.7,877.6 490.2,870.4 493.8,863.2 497.4,856.1 501.0,849.0 504.6,841.8 508.3,834.7 511.9,827.6 515.6,820.5 519.3,813.4 523.0,806.3 526.8,799.2 530.5,792.2 534.3,785.1 538.1,778.1 542.0,771.1 545.8,764.0 549.7,757.0 553.6,750.1 557.5,743.1 561.5,736.1 565.5,729.2 569.5,722.3 573.6,715.4 577.7,708.5 581.8,701.7 586.0,694.8 590.2,688.0 594.4,681.3 598.7,674.5 603.0,667.8 607.4,661.1 611.8,654.4 616.2,647.7 620.7,641.1 625.3,634.5 629.9,628.0 634.5,621.5 639.3,615.0 644.0,608.6 648.8,602.2 653.7,595.9 658.7,589.6 663.7,583.4 668.8,577.2 673.9,571.1 679.2,565.0 684.5,559.0 689.9,553.1 695.3,547.3 700.9,541.5 706.5,535.8 712.2,530.2 718.0,524.7 724.0,519.4 730.0,514.1 736.1,508.9 742.3,503.9 748.7,499.0 755.1,494.3 761.7,489.8 768.4,485.4 775.2,481.2 782.2,477.2 789.2,473.4 796.4,469.9 803.6,466.5 811.0,463.4 818.5,460.5 826.0,457.9 833.6,455.4 841.3,453.2 849.1,451.2 856.9,449.4 864.7,447.9 872.6,446.5 880.5,445.4 888.5,444.5 896.4,443.8 904.4,443.3 912.4,443.0 920.4,443.0 928.4,443.2 936.4,443.6 944.4,444.3 952.3,445.3 960.2,446.5 968.1,447.9 975.9,449.7 983.6,451.7 991.3,454.0 998.9,456.5 1006.4,459.3 1013.7,462.4 1021.0,465.7 1028.2,469.3 1035.2,473.1 1042.2,477.1 1049.0,481.3 1055.6,485.7 1062.2,490.3 1068.6,495.1 1074.8,500.1 1080.8,505.4 1086.7,510.8 1092.4,516.5 1097.8,522.3 1103.1,528.3 1108.1,534.6 1112.9,540.9 1117.6,547.5 1122.0,554.1 1126.2,560.9 1130.2,567.8 1134.1,574.9 1137.7,582.0 1141.3,589.2 1144.6,596.4 1147.8,603.8 1150.9,611.1 1153.8,618.6 1156.6,626.1 1159.3,633.6 1161.9,641.2 1164.3,648.8 1166.7,656.4 1169.0,664.1 1171.2,671.8 1173.4,679.5 1175.4,687.2 1177.4,695.0 1179.3,702.8 1181.2,710.5 1183.0,718.3 1184.7,726.1 1186.4,734.0 1188.1,741.8 1189.7,749.6 1191.2,757.5 1192.7,765.3 1194.2,773.2 1195.6,781.1 1197.0,788.9 1198.4,796.8 1199.7,804.7 1201.0,812.6 1202.3,820.5 1203.5,828.4 1204.7,836.3 1205.9,844.2 1207.1,852.2 1208.2,860.1 1209.3,868.0 1210.4,875.9 1211.4,883.9 1212.5,891.8 1213.5,899.7 1214.5,907.7 1215.5,915.6 1216.5,923.5 1217.5,931.5 1218.4,939.4 1219.4,947.4 1220.3,955.3 1221.2,963.3 1222.1,971.2 1223.0,979.2 1223.9,987.1 1224.8,995.1 1225.7,1003.0 1226.6,1011.0 1227.5,1018.9 1228.4,1026.9 1229.2,1034.8 1230.1,1042.8 1231.0,1050.7 1231.9,1058.7 1232.8,1066.6 1233.7,1074.6 1234.6,1082.5 1235.5,1090.5 1236.4,1098.4 1237.3,1106.4 1238.3,1114.3 1239.3,1122.2 1240.3,1130.2 1241.3,1138.1 1242.4,1146.0 1243.5,1154.0 1245.0,1161.8 1246.7,1169.6 1248.5,1177.4 1250.4,1185.2 1252.6,1192.9 1255.2,1200.4 1259.1,1207.3 1262.9,1200.4 1265.5,1192.9 1267.7,1185.2 1269.6,1177.4 1271.4,1169.6 1273.1,1161.8 1274.6,1154.0 1275.7,1146.0 1276.8,1138.1 1277.8,1130.2 1278.8,1122.2 1279.8,1114.3 1280.8,1106.4 1281.7,1098.4 1282.6,1090.5 1283.5,1082.5 1284.4,1074.6 1285.3,1066.6 1286.2,1058.7 1287.1,1050.7 1288.0,1042.8 1288.9,1034.8 1289.7,1026.9 1290.6,1018.9 1291.5,1011.0 1292.4,1003.0 1293.3,995.1 1294.2,987.1 1295.1,979.2 1296.0,971.2 1296.9,963.3 1297.8,955.3 1298.7,947.4 1299.7,939.4 1300.6,931.5 1301.6,923.5 1302.6,915.6 1303.6,907.7 1304.6,899.7 1305.6,891.8 1306.7,883.9 1307.7,875.9 1308.8,868.0 1309.9,860.1 1311.0,852.2 1312.2,844.2 1313.4,836.3 1314.6,828.4 1315.8,820.5 1317.1,812.6 1318.4,804.7 1319.7,796.8 1321.1,788.9 1322.5,781.1 1323.9,773.2 1325.4,765.3 1326.9,757.5 1328.4,749.6 1330.0,741.8 1331.7,734.0 1333.4,726.1 1335.1,718.3 1336.9,710.5 1338.8,702.8 1340.7,695.0 1342.7,687.2 1344.7,679.5 1346.9,671.8 1349.1,664.1 1351.4,656.4 1353.8,648.8 1356.2,641.2 1358.8,633.6 1361.5,626.1 1364.3,618.6 1367.2,611.1 1370.3,603.8 1373.5,596.4 1376.8,589.2 1380.4,582.0 1384.0,574.9 1387.9,567.8 1391.9,560.9 1396.1,554.1 1400.5,547.5 1405.2,540.9 1410.0,534.6 1415.0,528.3 1420.3,522.3 1425.7,516.5 1431.4,510.8 1437.3,505.4 1443.3,500.1 1449.5,495.1 1455.9,490.3 1462.5,485.7 1469.1,481.3 1475.9,477.1 1482.9,473.1 1489.9,469.3 1497.1,465.7 1504.4,462.4 1511.7,459.3 1519.2,456.5 1526.8,454.0 1534.5,451.7 1542.2,449.7 1550.0,447.9 1557.9,446.5 1565.8,445.3 1573.7,444.3 1581.7,443.6 1589.7,443.2 1597.7,443.0 1605.7,443.0 1613.7,443.3 1621.7,443.8 1629.6,444.5 1637.6,445.4 1645.5,446.5 1653.4,447.9 1661.2,449.4 1669.0,451.2 1676.8,453.2 1684.5,455.4 1692.1,457.9 1699.6,460.5 1707.1,463.4 1714.5,466.5 1721.7,469.9 1728.9,473.4 1735.9,477.2 1742.9,481.2 1749.7,485.4 1756.4,489.8 1763.0,494.3 1769.4,499.0 1775.8,503.9 1782.0,508.9 1788.1,514.1 1794.1,519.4 1800.1,524.7 1805.9,530.2 1811.6,535.8 1817.2,541.5 1822.8,547.3 1828.2,553.1 1833.6,559.0 1838.9,565.0 1844.2,571.1 1849.3,577.2 1854.4,583.4 1859.4,589.6 1864.4,595.9 1869.3,602.2 1874.1,608.6 1878.8,615.0 1883.6,621.5 1888.2,628.0 1892.8,634.5 1897.4,641.1 1901.9,647.7 1906.3,654.4 1910.7,661.1 1915.1,667.8 1919.4,674.5 1923.7,681.3 1927.9,688.0 1932.1,694.8 1936.3,701.7 1940.4,708.5 1944.5,715.4 1948.6,722.3 1952.6,729.2 1956.6,736.1 1960.6,743.1 1964.5,750.1 1968.4,757.0 1972.3,764.0 1976.1,771.1 1980.0,778.1 1983.8,785.1 1987.6,792.2 1991.3,799.2 1995.1,806.3 1998.8,813.4 2002.5,820.5 2006.2,827.6 2009.8,834.7 2013.5,841.8 2017.1,849.0 2020.7,856.1 2024.3,863.2 2027.9,870.4 2031.4,877.6 2034.9,884.7 2038.5,891.9 2042.0,899.1 2045.5,906.3 2049.0,913.5 2052.4,920.7 2055.9,927.9 2059.3,935.2 2062.7,942.4 2066.2,949.6 2069.6,956.9 2073.0,964.1 2076.3,971.4 2079.7,978.6 2083.1,985.9 2086.4,993.2 2089.8,1000.4 2093.1,1007.7 2096.4,1015.0 2099.7,1022.3 2103.0,1029.6 2106.3,1036.8 2109.6,1044.1 2112.8,1051.4 2116.1,1058.7 2119.4,1066.1 2121.8,1071.5" stroke="#DA9A00"/>
<path d="M396.3,1090.2 398.0,1086.5 401.3,1079.2 404.6,1072.0 408.0,1064.7 411.3,1057.4 414.7,1050.2 418.1,1042.9 421.5,1035.6 424.8,1028.4 428.2,1021.1 431.6,1013.9 435.1,1006.6 438.5,999.4 441.9,992.2 445.4,984.9 448.8,977.7 452.3,970.5 455.8,963.3 459.3,956.1 462.8,948.9 466.3,941.7 469.8,934.5 473.3,927.3 476.9,920.1 480.5,913.0 484.0,905.8 487.6,898.7 491.2,891.5 494.9,884.4 498.5,877.2 502.2,870.1 505.8,863.0 509.5,855.9 513.2,848.8 517.0,841.7 520.7,834.6 524.5,827.6 528.2,820.5 532.0,813.5 535.9,806.4 539.7,799.4 543.6,792.4 547.5,785.4 551.4,778.4 555.4,771.5 559.4,764.5 563.4,757.6 567.4,750.7 571.5,743.8 575.6,736.9 579.7,730.0 583.9,723.2 588.1,716.4 592.3,709.6 596.6,702.8 600.9,696.1 605.3,689.4 609.7,682.7 614.1,676.1 618.7,669.4 623.2,662.8 627.8,656.3 632.5,649.8 637.2,643.3 641.9,636.9 646.7,630.5 651.6,624.1 656.6,617.8 661.6,611.6 666.7,605.4 671.8,599.2 677.0,593.2 682.3,587.2 687.7,581.2 693.1,575.4 698.6,569.6 704.3,563.9 710.0,558.2 715.8,552.7 721.7,547.3 727.7,542.0 733.8,536.8 740.0,531.8 746.3,526.9 752.7,522.1 759.3,517.5 766.0,513.1 772.8,508.9 779.7,504.8 786.7,501.0 793.9,497.4 801.1,494.0 808.5,490.8 815.9,487.9 823.4,485.1 831.0,482.6 838.7,480.3 846.4,478.2 854.2,476.3 862.0,474.6 869.9,473.1 877.8,471.8 885.7,470.7 893.7,469.8 901.7,469.2 909.6,468.7 917.7,468.5 925.7,468.5 933.7,468.8 941.6,469.3 949.6,470.1 957.6,471.2 965.4,472.5 973.3,474.1 981.1,475.9 988.8,478.1 996.4,480.5 1004.0,483.2 1011.4,486.1 1018.7,489.3 1026.0,492.8 1033.1,496.5 1040.0,500.4 1046.9,504.6 1053.6,509.0 1060.1,513.6 1066.5,518.4 1072.8,523.4 1078.9,528.6 1084.7,534.0 1090.4,539.7 1095.9,545.5 1101.2,551.5 1106.2,557.7 1111.1,564.1 1115.7,570.6 1120.1,577.3 1124.4,584.1 1128.4,591.0 1132.3,598.0 1136.0,605.1 1139.5,612.3 1142.9,619.6 1146.1,626.9 1149.2,634.3 1152.1,641.7 1154.9,649.2 1157.7,656.8 1160.3,664.3 1162.8,671.9 1165.2,679.6 1167.5,687.2 1169.7,694.9 1171.9,702.6 1174.0,710.4 1176.0,718.1 1177.9,725.9 1179.8,733.7 1181.6,741.5 1183.4,749.3 1185.1,757.1 1186.8,764.9 1188.4,772.8 1190.0,780.6 1191.5,788.5 1193.0,796.3 1194.4,804.2 1195.9,812.1 1197.2,820.0 1198.6,827.9 1199.9,835.8 1201.2,843.7 1202.4,851.6 1203.6,859.5 1204.8,867.4 1206.0,875.3 1207.1,883.3 1208.2,891.2 1209.3,899.1 1210.4,907.1 1211.5,915.0 1212.5,922.9 1213.5,930.9 1214.5,938.8 1215.5,946.8 1216.4,954.7 1217.4,962.7 1218.3,970.6 1219.3,978.6 1220.2,986.5 1221.1,994.5 1222.0,1002.4 1222.9,1010.4 1223.8,1018.3 1224.7,1026.3 1225.5,1034.3 1226.4,1042.2 1227.3,1050.2 1228.1,1058.1 1229.0,1066.1 1229.9,1074.1 1230.7,1082.0 1231.6,1090.0 1232.5,1097.9 1233.4,1105.9 1234.3,1113.8 1235.2,1121.8 1236.1,1129.8 1237.0,1137.7 1238.0,1145.7 1238.9,1153.6 1239.9,1161.6 1241.0,1169.5 1242.0,1177.4 1243.1,1185.4 1244.4,1193.3 1245.9,1201.1 1247.5,1209.0 1249.2,1216.8 1251.0,1224.6 1253.0,1232.3 1255.5,1240.0 1259.1,1247.0 1262.6,1240.0 1265.1,1232.3 1267.1,1224.6 1268.9,1216.8 1270.6,1209.0 1272.2,1201.1 1273.7,1193.3 1275.0,1185.4 1276.1,1177.4 1277.1,1169.5 1278.2,1161.6 1279.2,1153.6 1280.1,1145.7 1281.1,1137.7 1282.0,1129.8 1282.9,1121.8 1283.8,1113.8 1284.7,1105.9 1285.6,1097.9 1286.5,1090.0 1287.4,1082.0 1288.2,1074.1 1289.1,1066.1 1290.0,1058.1 1290.8,1050.2 1291.7,1042.2 1292.6,1034.3 1293.4,1026.3 1294.3,1018.3 1295.2,1010.4 1296.1,1002.4 1297.0,994.5 1297.9,986.5 1298.8,978.6 1299.8,970.6 1300.7,962.7 1301.7,954.7 1302.6,946.8 1303.6,938.8 1304.6,930.9 1305.6,922.9 1306.6,915.0 1307.7,907.1 1308.8,899.1 1309.9,891.2 1311.0,883.3 1312.1,875.3 1313.3,867.4 1314.5,859.5 1315.7,851.6 1316.9,843.7 1318.2,835.8 1319.5,827.9 1320.9,820.0 1322.2,812.1 1323.7,804.2 1325.1,796.3 1326.6,788.5 1328.1,780.6 1329.7,772.8 1331.3,764.9 1333.0,757.1 1334.7,749.3 1336.5,741.5 1338.3,733.7 1340.2,725.9 1342.1,718.1 1344.1,710.4 1346.2,702.6 1348.4,694.9 1350.6,687.2 1352.9,679.6 1355.3,671.9 1357.8,664.3 1360.4,656.8 1363.2,649.2 1366.0,641.7 1368.9,634.3 1372.0,626.9 1375.2,619.6 1378.6,612.3 1382.1,605.1 1385.8,598.0 1389.7,591.0 1393.7,584.1 1398.0,577.3 1402.4,570.6 1407.0,564.1 1411.9,557.7 1416.9,551.5 1422.2,545.5 1427.7,539.7 1433.4,534.0 1439.2,528.6 1445.3,523.4 1451.6,518.4 1458.0,513.6 1464.5,509.0 1471.2,504.6 1478.1,500.4 1485.0,496.5 1492.1,492.8 1499.4,489.3 1506.7,486.1 1514.1,483.2 1521.7,480.5 1529.3,478.1 1537.0,475.9 1544.8,474.1 1552.7,472.5 1560.5,471.2 1568.5,470.1 1576.5,469.3 1584.4,468.8 1592.4,468.5 1600.4,468.5 1608.5,468.7 1616.4,469.2 1624.4,469.8 1632.4,470.7 1640.3,471.8 1648.2,473.1 1656.1,474.6 1663.9,476.3 1671.7,478.2 1679.4,480.3 1687.1,482.6 1694.7,485.1 1702.2,487.9 1709.6,490.8 1717.0,494.0 1724.2,497.4 1731.4,501.0 1738.4,504.8 1745.3,508.9 1752.1,513.1 1758.8,517.5 1765.4,522.1 1771.8,526.9 1778.1,531.8 1784.3,536.8 1790.4,542.0 1796.4,547.3 1802.3,552.7 1808.1,558.2 1813.8,563.9 1819.5,569.6 1825.0,575.4 1830.4,581.2 1835.8,587.2 1841.1,593.2 1846.3,599.2 1851.4,605.4 1856.5,611.6 1861.5,617.8 1866.5,624.1 1871.4,630.5 1876.2,636.9 1880.9,643.3 1885.6,649.8 1890.3,656.3 1894.9,662.8 1899.4,669.4 1904.0,676.1 1908.4,682.7 1912.8,689.4 1917.2,696.1 1921.5,702.8 1925.8,709.6 1930.0,716.4 1934.2,723.2 1938.4,730.0 1942.5,736.9 1946.6,743.8 1950.7,750.7 1954.7,757.6 1958.7,764.5 1962.7,771.5 1966.7,778.4 1970.6,785.4 1974.5,792.4 1978.4,799.4 1982.2,806.4 1986.1,813.5 1989.9,820.5 1993.6,827.6 1997.4,834.6 2001.1,841.7 2004.9,848.8 2008.6,855.9 2012.3,863.0 2015.9,870.1 2019.6,877.2 2023.2,884.4 2026.9,891.5 2030.5,898.7 2034.1,905.8 2037.6,913.0 2041.2,920.1 2044.8,927.3 2048.3,934.5 2051.8,941.7 2055.3,948.9 2058.8,956.1 2062.3,963.3 2065.8,970.5 2069.3,977.7 2072.7,984.9 2076.2,992.2 2079.6,999.4 2083.0,1006.6 2086.5,1013.9 2089.9,1021.1 2093.3,1028.4 2096.6,1035.6 2100.0,1042.9 2103.4,1050.2 2106.8,1057.4 2110.1,1064.7 2113.5,1072.0 2116.8,1079.2 2120.1,1086.5 2121.8,1090.2" stroke="#00CACD"/>
<path d="M396.3,1108.8 398.0,1105.2 401.4,1097.9 404.8,1090.7 408.3,1083.4 411.7,1076.2 415.1,1069.0 418.6,1061.8 422.0,1054.5 425.5,1047.3 429.0,1040.1 432.4,1032.9 435.9,1025.7 439.4,1018.5 442.9,1011.3 446.4,1004.1 450.0,996.9 453.5,989.7 457.0,982.6 460.6,975.4 464.1,968.2 467.7,961.0 471.3,953.9 474.9,946.7 478.5,939.6 482.1,932.5 485.8,925.3 489.4,918.2 493.1,911.1 496.7,904.0 500.4,896.9 504.1,889.8 507.9,882.7 511.6,875.6 515.3,868.5 519.1,861.5 522.9,854.4 526.7,847.4 530.5,840.4 534.4,833.3 538.3,826.3 542.2,819.3 546.1,812.4 550.0,805.4 554.0,798.4 558.0,791.5 562.0,784.6 566.0,777.7 570.1,770.8 574.2,763.9 578.4,757.1 582.6,750.3 586.8,743.4 591.0,736.7 595.3,729.9 599.6,723.2 604.0,716.5 608.4,709.8 612.9,703.2 617.4,696.5 622.0,690.0 626.6,683.4 631.2,676.9 635.9,670.4 640.7,664.0 645.5,657.6 650.4,651.3 655.3,645.0 660.3,638.7 665.4,632.5 670.5,626.4 675.7,620.3 681.0,614.3 686.4,608.3 691.8,602.5 697.4,596.7 703.0,591.0 708.7,585.4 714.5,579.8 720.3,574.4 726.3,569.1 732.4,563.9 738.6,558.9 744.9,553.9 751.4,549.2 757.9,544.6 764.6,540.1 771.4,535.9 778.3,531.9 785.3,528.0 792.4,524.4 799.7,521.0 807.0,517.8 814.4,514.8 822.0,512.1 829.5,509.5 837.2,507.1 844.9,505.0 852.7,503.0 860.4,501.2 868.3,499.5 876.2,498.1 884.1,496.9 892.0,495.9 900.0,495.1 908.0,494.5 916.0,494.1 924.0,494.0 932.0,494.1 940.0,494.5 947.9,495.1 955.9,496.1 963.8,497.2 971.7,498.7 979.5,500.4 987.2,502.5 994.9,504.8 1002.5,507.4 1009.9,510.2 1017.3,513.4 1024.5,516.8 1031.7,520.4 1038.6,524.3 1045.5,528.4 1052.2,532.8 1058.8,537.4 1065.2,542.1 1071.5,547.1 1077.5,552.3 1083.4,557.8 1089.1,563.4 1094.6,569.3 1099.8,575.3 1104.9,581.5 1109.7,587.9 1114.3,594.4 1118.7,601.1 1122.9,607.9 1127.0,614.8 1130.8,621.8 1134.5,628.9 1138.0,636.1 1141.4,643.4 1144.6,650.7 1147.7,658.1 1150.7,665.5 1153.5,673.0 1156.3,680.5 1158.9,688.1 1161.4,695.7 1163.8,703.3 1166.2,711.0 1168.4,718.7 1170.6,726.4 1172.7,734.1 1174.7,741.8 1176.7,749.6 1178.6,757.4 1180.4,765.1 1182.2,773.0 1183.9,780.8 1185.6,788.6 1187.3,796.4 1188.8,804.3 1190.4,812.1 1191.9,820.0 1193.3,827.9 1194.8,835.7 1196.2,843.6 1197.5,851.5 1198.8,859.4 1200.1,867.3 1201.4,875.2 1202.6,883.1 1203.8,891.0 1205.0,898.9 1206.1,906.9 1207.3,914.8 1208.4,922.7 1209.4,930.7 1210.5,938.6 1211.5,946.5 1212.5,954.5 1213.5,962.4 1214.5,970.3 1215.5,978.3 1216.4,986.2 1217.4,994.2 1218.3,1002.1 1219.2,1010.1 1220.1,1018.0 1221.0,1026.0 1221.9,1034.0 1222.8,1041.9 1223.6,1049.9 1224.5,1057.8 1225.4,1065.8 1226.2,1073.7 1227.1,1081.7 1227.9,1089.7 1228.8,1097.6 1229.7,1105.6 1230.5,1113.5 1231.4,1121.5 1232.2,1129.4 1233.1,1137.4 1234.0,1145.4 1234.9,1153.3 1235.8,1161.3 1236.7,1169.2 1237.7,1177.2 1238.6,1185.1 1239.6,1193.1 1240.6,1201.0 1241.7,1208.9 1242.8,1216.9 1243.9,1224.8 1245.3,1232.7 1246.7,1240.5 1248.2,1248.4 1249.8,1256.3 1251.5,1264.1 1253.4,1271.8 1255.7,1279.5 1259.1,1286.7 1262.4,1279.5 1264.7,1271.8 1266.6,1264.1 1268.3,1256.3 1269.9,1248.4 1271.4,1240.5 1272.8,1232.7 1274.2,1224.8 1275.3,1216.9 1276.4,1208.9 1277.5,1201.0 1278.5,1193.1 1279.5,1185.1 1280.4,1177.2 1281.4,1169.2 1282.3,1161.3 1283.2,1153.3 1284.1,1145.4 1285.0,1137.4 1285.9,1129.4 1286.7,1121.5 1287.6,1113.5 1288.4,1105.6 1289.3,1097.6 1290.2,1089.7 1291.0,1081.7 1291.9,1073.7 1292.7,1065.8 1293.6,1057.8 1294.5,1049.9 1295.3,1041.9 1296.2,1034.0 1297.1,1026.0 1298.0,1018.0 1298.9,1010.1 1299.8,1002.1 1300.7,994.2 1301.7,986.2 1302.6,978.3 1303.6,970.3 1304.6,962.4 1305.6,954.5 1306.6,946.5 1307.6,938.6 1308.7,930.7 1309.7,922.7 1310.8,914.8 1312.0,906.9 1313.1,898.9 1314.3,891.0 1315.5,883.1 1316.7,875.2 1318.0,867.3 1319.3,859.4 1320.6,851.5 1321.9,843.6 1323.3,835.7 1324.8,827.9 1326.2,820.0 1327.7,812.1 1329.3,804.3 1330.8,796.4 1332.5,788.6 1334.2,780.8 1335.9,773.0 1337.7,765.1 1339.5,757.4 1341.4,749.6 1343.4,741.8 1345.4,734.1 1347.5,726.4 1349.7,718.7 1351.9,711.0 1354.3,703.3 1356.7,695.7 1359.2,688.1 1361.8,680.5 1364.6,673.0 1367.4,665.5 1370.4,658.1 1373.5,650.7 1376.7,643.4 1380.1,636.1 1383.6,628.9 1387.3,621.8 1391.1,614.8 1395.2,607.9 1399.4,601.1 1403.8,594.4 1408.4,587.9 1413.2,581.5 1418.3,575.3 1423.5,569.3 1429.0,563.4 1434.7,557.8 1440.6,552.3 1446.6,547.1 1452.9,542.1 1459.3,537.4 1465.9,532.8 1472.6,528.4 1479.5,524.3 1486.4,520.4 1493.6,516.8 1500.8,513.4 1508.2,510.2 1515.6,507.4 1523.2,504.8 1530.9,502.5 1538.6,500.4 1546.4,498.7 1554.3,497.2 1562.2,496.1 1570.2,495.1 1578.1,494.5 1586.1,494.1 1594.1,494.0 1602.1,494.1 1610.1,494.5 1618.1,495.1 1626.1,495.9 1634.0,496.9 1641.9,498.1 1649.8,499.5 1657.7,501.2 1665.4,503.0 1673.2,505.0 1680.9,507.1 1688.6,509.5 1696.1,512.1 1703.7,514.8 1711.1,517.8 1718.4,521.0 1725.7,524.4 1732.8,528.0 1739.8,531.9 1746.7,535.9 1753.5,540.1 1760.2,544.6 1766.7,549.2 1773.2,553.9 1779.5,558.9 1785.7,563.9 1791.8,569.1 1797.8,574.4 1803.6,579.8 1809.4,585.4 1815.1,591.0 1820.7,596.7 1826.3,602.5 1831.7,608.3 1837.1,614.3 1842.4,620.3 1847.6,626.4 1852.7,632.5 1857.8,638.7 1862.8,645.0 1867.7,651.3 1872.6,657.6 1877.4,664.0 1882.2,670.4 1886.9,676.9 1891.5,683.4 1896.1,690.0 1900.7,696.5 1905.2,703.2 1909.7,709.8 1914.1,716.5 1918.5,723.2 1922.8,729.9 1927.1,736.7 1931.3,743.4 1935.5,750.3 1939.7,757.1 1943.9,763.9 1948.0,770.8 1952.1,777.7 1956.1,784.6 1960.1,791.5 1964.1,798.4 1968.1,805.4 1972.0,812.4 1975.9,819.3 1979.8,826.3 1983.7,833.3 1987.6,840.4 1991.4,847.4 1995.2,854.4 1999.0,861.5 2002.8,868.5 2006.5,875.6 2010.2,882.7 2014.0,889.8 2017.7,896.9 2021.4,904.0 2025.0,911.1 2028.7,918.2 2032.3,925.3 2036.0,932.5 2039.6,939.6 2043.2,946.7 2046.8,953.9 2050.4,961.0 2054.0,968.2 2057.5,975.4 2061.1,982.6 2064.6,989.7 2068.1,996.9 2071.7,1004.1 2075.2,1011.3 2078.7,1018.5 2082.2,1025.7 2085.7,1032.9 2089.1,1040.1 2092.6,1047.3 2096.1,1054.5 2099.5,1061.8 2103.0,1069.0 2106.4,1076.2 2109.8,1083.4 2113.3,1090.7 2116.7,1097.9 2120.1,1105.2 2121.8,1108.8" stroke="#864C4C"/>
<path d="M396.3,1127.4 398.0,1123.8 401.5,1116.6 405.0,1109.4 408.6,1102.2 412.1,1095.0 415.6,1087.8 419.1,1080.6 422.6,1073.5 426.2,1066.3 429.7,1059.1 433.3,1051.9 436.8,1044.8 440.4,1037.6 444.0,1030.4 447.5,1023.3 451.1,1016.1 454.7,1009.0 458.3,1001.8 461.9,994.7 465.6,987.6 469.2,980.4 472.8,973.3 476.5,966.2 480.2,959.1 483.8,952.0 487.5,944.9 491.2,937.8 494.9,930.7 498.7,923.6 502.4,916.5 506.2,909.5 509.9,902.4 513.7,895.4 517.5,888.3 521.3,881.3 525.2,874.3 529.0,867.2 532.9,860.2 536.8,853.3 540.7,846.3 544.6,839.3 548.6,832.4 552.6,825.4 556.6,818.5 560.6,811.6 564.7,804.7 568.8,797.8 572.9,790.9 577.1,784.1 581.2,777.3 585.5,770.5 589.7,763.7 594.0,757.0 598.4,750.2 602.7,743.5 607.2,736.9 611.6,730.2 616.1,723.6 620.7,717.0 625.3,710.5 630.0,704.0 634.7,697.5 639.4,691.1 644.3,684.7 649.1,678.4 654.1,672.1 659.1,665.8 664.1,659.6 669.3,653.5 674.5,647.4 679.8,641.4 685.1,635.5 690.6,629.6 696.1,623.8 701.7,618.1 707.4,612.4 713.1,606.9 719.0,601.5 725.0,596.2 731.1,591.0 737.3,585.9 743.6,581.0 750.0,576.2 756.6,571.6 763.2,567.2 770.0,562.9 776.9,558.9 783.9,555.0 791.0,551.4 798.3,547.9 805.6,544.7 813.0,541.7 820.5,539.0 828.1,536.4 835.7,534.0 843.4,531.7 851.1,529.7 858.9,527.8 866.7,526.0 874.6,524.5 882.5,523.1 890.4,522.0 898.3,521.0 906.3,520.3 914.3,519.8 922.3,519.5 930.3,519.5 938.3,519.7 946.3,520.2 954.2,521.0 962.1,522.0 970.0,523.4 977.9,525.0 985.6,526.9 993.3,529.1 1000.9,531.6 1008.4,534.4 1015.8,537.4 1023.1,540.8 1030.3,544.3 1037.3,548.2 1044.2,552.3 1050.9,556.6 1057.5,561.1 1063.9,565.9 1070.2,570.9 1076.2,576.1 1082.1,581.5 1087.8,587.2 1093.2,593.0 1098.5,599.1 1103.5,605.3 1108.3,611.7 1112.9,618.2 1117.3,624.9 1121.6,631.7 1125.6,638.6 1129.4,645.6 1133.1,652.7 1136.6,659.9 1140.0,667.2 1143.2,674.5 1146.3,681.9 1149.3,689.3 1152.2,696.8 1154.9,704.3 1157.5,711.9 1160.1,719.5 1162.5,727.1 1164.9,734.7 1167.1,742.4 1169.3,750.1 1171.4,757.8 1173.5,765.5 1175.4,773.3 1177.4,781.1 1179.2,788.9 1181.0,796.7 1182.8,804.5 1184.5,812.3 1186.1,820.1 1187.7,828.0 1189.3,835.8 1190.8,843.7 1192.3,851.5 1193.7,859.4 1195.1,867.3 1196.5,875.2 1197.8,883.1 1199.1,890.9 1200.4,898.8 1201.6,906.8 1202.8,914.7 1204.0,922.6 1205.1,930.5 1206.3,938.4 1207.4,946.3 1208.5,954.3 1209.5,962.2 1210.6,970.1 1211.6,978.1 1212.6,986.0 1213.6,994.0 1214.5,1001.9 1215.5,1009.8 1216.4,1017.8 1217.3,1025.7 1218.2,1033.7 1219.1,1041.6 1220.0,1049.6 1220.9,1057.5 1221.8,1065.5 1222.7,1073.5 1223.5,1081.4 1224.4,1089.4 1225.2,1097.3 1226.1,1105.3 1226.9,1113.2 1227.8,1121.2 1228.6,1129.2 1229.4,1137.1 1230.3,1145.1 1231.1,1153.0 1232.0,1161.0 1232.9,1168.9 1233.7,1176.9 1234.6,1184.8 1235.5,1192.8 1236.4,1200.7 1237.4,1208.7 1238.3,1216.6 1239.3,1224.6 1240.3,1232.5 1241.3,1240.5 1242.4,1248.4 1243.5,1256.3 1244.8,1264.2 1246.0,1272.1 1247.4,1280.0 1248.8,1287.9 1250.3,1295.7 1251.9,1303.6 1253.7,1311.4 1255.9,1319.1 1259.1,1326.3 1262.2,1319.1 1264.4,1311.4 1266.2,1303.6 1267.8,1295.7 1269.3,1287.9 1270.7,1280.0 1272.1,1272.1 1273.3,1264.2 1274.6,1256.3 1275.7,1248.4 1276.8,1240.5 1277.8,1232.5 1278.8,1224.6 1279.8,1216.6 1280.7,1208.7 1281.7,1200.7 1282.6,1192.8 1283.5,1184.8 1284.4,1176.9 1285.2,1168.9 1286.1,1161.0 1287.0,1153.0 1287.8,1145.1 1288.7,1137.1 1289.5,1129.2 1290.3,1121.2 1291.2,1113.2 1292.0,1105.3 1292.9,1097.3 1293.7,1089.4 1294.6,1081.4 1295.4,1073.5 1296.3,1065.5 1297.2,1057.5 1298.1,1049.6 1299.0,1041.6 1299.9,1033.7 1300.8,1025.7 1301.7,1017.8 1302.6,1009.8 1303.6,1001.9 1304.5,994.0 1305.5,986.0 1306.5,978.1 1307.5,970.1 1308.6,962.2 1309.6,954.3 1310.7,946.3 1311.8,938.4 1313.0,930.5 1314.1,922.6 1315.3,914.7 1316.5,906.8 1317.7,898.8 1319.0,890.9 1320.3,883.1 1321.6,875.2 1323.0,867.3 1324.4,859.4 1325.8,851.5 1327.3,843.7 1328.8,835.8 1330.4,828.0 1332.0,820.1 1333.6,812.3 1335.3,804.5 1337.1,796.7 1338.9,788.9 1340.7,781.1 1342.7,773.3 1344.6,765.5 1346.7,757.8 1348.8,750.1 1351.0,742.4 1353.2,734.7 1355.6,727.1 1358.0,719.5 1360.6,711.9 1363.2,704.3 1365.9,696.8 1368.8,689.3 1371.8,681.9 1374.9,674.5 1378.1,667.2 1381.5,659.9 1385.0,652.7 1388.7,645.6 1392.5,638.6 1396.5,631.7 1400.8,624.9 1405.2,618.2 1409.8,611.7 1414.6,605.3 1419.6,599.1 1424.9,593.0 1430.3,587.2 1436.0,581.5 1441.9,576.1 1447.9,570.9 1454.2,565.9 1460.6,561.1 1467.2,556.6 1473.9,552.3 1480.8,548.2 1487.8,544.3 1495.0,540.8 1502.3,537.4 1509.7,534.4 1517.2,531.6 1524.8,529.1 1532.5,526.9 1540.2,525.0 1548.1,523.4 1556.0,522.0 1563.9,521.0 1571.8,520.2 1579.8,519.7 1587.8,519.5 1595.8,519.5 1603.8,519.8 1611.8,520.3 1619.8,521.0 1627.7,522.0 1635.6,523.1 1643.5,524.5 1651.4,526.0 1659.2,527.8 1667.0,529.7 1674.7,531.7 1682.4,534.0 1690.0,536.4 1697.6,539.0 1705.1,541.7 1712.5,544.7 1719.8,547.9 1727.1,551.4 1734.2,555.0 1741.2,558.9 1748.1,562.9 1754.9,567.2 1761.5,571.6 1768.1,576.2 1774.5,581.0 1780.8,585.9 1787.0,591.0 1793.1,596.2 1799.1,601.5 1805.0,606.9 1810.7,612.4 1816.4,618.1 1822.0,623.8 1827.5,629.6 1833.0,635.5 1838.3,641.4 1843.6,647.4 1848.8,653.5 1854.0,659.6 1859.0,665.8 1864.0,672.1 1869.0,678.4 1873.8,684.7 1878.7,691.1 1883.4,697.5 1888.1,704.0 1892.8,710.5 1897.4,717.0 1902.0,723.6 1906.5,730.2 1910.9,736.9 1915.4,743.5 1919.7,750.2 1924.1,757.0 1928.4,763.7 1932.6,770.5 1936.9,777.3 1941.0,784.1 1945.2,790.9 1949.3,797.8 1953.4,804.7 1957.5,811.6 1961.5,818.5 1965.5,825.4 1969.5,832.4 1973.5,839.3 1977.4,846.3 1981.3,853.3 1985.2,860.2 1989.1,867.2 1992.9,874.3 1996.8,881.3 2000.6,888.3 2004.4,895.4 2008.2,902.4 2011.9,909.5 2015.7,916.5 2019.4,923.6 2023.2,930.7 2026.9,937.8 2030.6,944.9 2034.3,952.0 2037.9,959.1 2041.6,966.2 2045.3,973.3 2048.9,980.4 2052.5,987.6 2056.2,994.7 2059.8,1001.8 2063.4,1009.0 2067.0,1016.1 2070.6,1023.3 2074.1,1030.4 2077.7,1037.6 2081.3,1044.8 2084.8,1051.9 2088.4,1059.1 2091.9,1066.3 2095.5,1073.5 2099.0,1080.6 2102.5,1087.8 2106.0,1095.0 2109.5,1102.2 2113.1,1109.4 2116.6,1116.6 2120.1,1123.8 2121.8,1127.4" stroke="#8F8C00"/>
<path d="M396.3,1146.0 398.1,1142.4 401.7,1135.3 405.3,1128.1 408.9,1121.0 412.5,1113.8 416.1,1106.7 419.7,1099.5 423.3,1092.4 426.9,1085.3 430.5,1078.1 434.1,1071.0 437.8,1063.9 441.4,1056.7 445.0,1049.6 448.7,1042.5 452.3,1035.4 456.0,1028.3 459.7,1021.2 463.3,1014.0 467.0,1006.9 470.7,999.8 474.4,992.8 478.1,985.7 481.8,978.6 485.6,971.5 489.3,964.4 493.1,957.4 496.8,950.3 500.6,943.3 504.4,936.2 508.2,929.2 512.0,922.2 515.9,915.1 519.7,908.1 523.6,901.1 527.5,894.1 531.4,887.1 535.3,880.2 539.2,873.2 543.2,866.2 547.2,859.3 551.2,852.4 555.2,845.5 559.2,838.6 563.3,831.7 567.4,824.8 571.6,818.0 575.7,811.1 579.9,804.3 584.2,797.5 588.4,790.8 592.7,784.0 597.1,777.3 601.5,770.6 605.9,763.9 610.4,757.3 614.9,750.7 619.4,744.1 624.1,737.6 628.7,731.1 633.4,724.6 638.2,718.2 643.0,711.8 647.9,705.5 652.8,699.2 657.8,692.9 662.9,686.7 668.0,680.6 673.2,674.5 678.5,668.5 683.8,662.6 689.3,656.7 694.8,650.9 700.4,645.2 706.1,639.5 711.8,634.0 717.7,628.6 723.7,623.2 729.8,618.0 736.0,613.0 742.2,608.0 748.7,603.2 755.2,598.6 761.8,594.2 768.6,589.9 775.5,585.9 782.5,582.0 789.6,578.3 796.9,574.9 804.2,571.7 811.6,568.7 819.1,565.9 826.6,563.3 834.3,560.8 841.9,558.5 849.6,556.4 857.4,554.4 865.2,552.6 873.0,550.9 880.9,549.4 888.7,548.1 896.7,547.0 904.6,546.2 912.6,545.5 920.6,545.1 928.6,544.9 936.6,545.0 944.6,545.4 952.6,546.0 960.5,546.9 968.4,548.1 976.3,549.6 984.1,551.4 991.8,553.5 999.4,555.9 1007.0,558.5 1014.4,561.5 1021.7,564.8 1028.9,568.3 1035.9,572.1 1042.8,576.1 1049.6,580.4 1056.2,584.9 1062.6,589.7 1068.9,594.7 1074.9,599.9 1080.8,605.3 1086.5,610.9 1091.9,616.8 1097.2,622.8 1102.2,629.1 1107.0,635.5 1111.6,642.0 1116.0,648.7 1120.2,655.5 1124.2,662.4 1128.1,669.4 1131.7,676.5 1135.3,683.7 1138.6,691.0 1141.9,698.3 1145.0,705.7 1147.9,713.1 1150.8,720.6 1153.6,728.1 1156.2,735.6 1158.7,743.2 1161.2,750.8 1163.6,758.5 1165.8,766.1 1168.0,773.8 1170.2,781.5 1172.2,789.3 1174.2,797.0 1176.1,804.8 1178.0,812.6 1179.8,820.4 1181.6,828.2 1183.3,836.0 1185.0,843.8 1186.6,851.6 1188.1,859.5 1189.7,867.3 1191.2,875.2 1192.6,883.1 1194.0,890.9 1195.4,898.8 1196.7,906.7 1198.1,914.6 1199.3,922.5 1200.6,930.4 1201.8,938.3 1203.0,946.2 1204.2,954.1 1205.3,962.1 1206.4,970.0 1207.5,977.9 1208.6,985.8 1209.6,993.8 1210.6,1001.7 1211.6,1009.6 1212.6,1017.6 1213.6,1025.5 1214.5,1033.5 1215.5,1041.4 1216.4,1049.4 1217.3,1057.3 1218.2,1065.3 1219.1,1073.2 1220.0,1081.2 1220.8,1089.1 1221.7,1097.1 1222.6,1105.0 1223.4,1113.0 1224.2,1120.9 1225.1,1128.9 1225.9,1136.8 1226.8,1144.8 1227.6,1152.8 1228.4,1160.7 1229.2,1168.7 1230.1,1176.6 1230.9,1184.6 1231.8,1192.5 1232.6,1200.5 1233.5,1208.5 1234.4,1216.4 1235.2,1224.4 1236.2,1232.3 1237.1,1240.3 1238.0,1248.2 1239.0,1256.1 1240.0,1264.1 1241.0,1272.0 1242.1,1279.9 1243.2,1287.9 1244.3,1295.8 1245.5,1303.7 1246.7,1311.6 1248.0,1319.5 1249.4,1327.4 1250.8,1335.3 1252.3,1343.1 1254.0,1350.9 1256.1,1358.7 1259.1,1366.0 1262.0,1358.7 1264.1,1350.9 1265.8,1343.1 1267.3,1335.3 1268.7,1327.4 1270.1,1319.5 1271.4,1311.6 1272.6,1303.7 1273.8,1295.8 1274.9,1287.9 1276.0,1279.9 1277.1,1272.0 1278.1,1264.1 1279.1,1256.1 1280.1,1248.2 1281.0,1240.3 1281.9,1232.3 1282.9,1224.4 1283.7,1216.4 1284.6,1208.5 1285.5,1200.5 1286.3,1192.5 1287.2,1184.6 1288.0,1176.6 1288.9,1168.7 1289.7,1160.7 1290.5,1152.8 1291.3,1144.8 1292.2,1136.8 1293.0,1128.9 1293.9,1120.9 1294.7,1113.0 1295.5,1105.0 1296.4,1097.1 1297.3,1089.1 1298.1,1081.2 1299.0,1073.2 1299.9,1065.3 1300.8,1057.3 1301.7,1049.4 1302.6,1041.4 1303.6,1033.5 1304.5,1025.5 1305.5,1017.6 1306.5,1009.6 1307.5,1001.7 1308.5,993.8 1309.5,985.8 1310.6,977.9 1311.7,970.0 1312.8,962.1 1313.9,954.1 1315.1,946.2 1316.3,938.3 1317.5,930.4 1318.8,922.5 1320.0,914.6 1321.4,906.7 1322.7,898.8 1324.1,890.9 1325.5,883.1 1326.9,875.2 1328.4,867.3 1330.0,859.5 1331.5,851.6 1333.1,843.8 1334.8,836.0 1336.5,828.2 1338.3,820.4 1340.1,812.6 1342.0,804.8 1343.9,797.0 1345.9,789.3 1347.9,781.5 1350.1,773.8 1352.3,766.1 1354.5,758.5 1356.9,750.8 1359.4,743.2 1361.9,735.6 1364.5,728.1 1367.3,720.6 1370.2,713.1 1373.1,705.7 1376.2,698.3 1379.5,691.0 1382.8,683.7 1386.4,676.5 1390.0,669.4 1393.9,662.4 1397.9,655.5 1402.1,648.7 1406.5,642.0 1411.1,635.5 1415.9,629.1 1420.9,622.8 1426.2,616.8 1431.6,610.9 1437.3,605.3 1443.2,599.9 1449.2,594.7 1455.5,589.7 1461.9,584.9 1468.5,580.4 1475.3,576.1 1482.2,572.1 1489.2,568.3 1496.4,564.8 1503.7,561.5 1511.1,558.5 1518.7,555.9 1526.3,553.5 1534.0,551.4 1541.8,549.6 1549.7,548.1 1557.6,546.9 1565.5,546.0 1573.5,545.4 1581.5,545.0 1589.5,544.9 1597.5,545.1 1605.5,545.5 1613.5,546.2 1621.4,547.0 1629.4,548.1 1637.2,549.4 1645.1,550.9 1652.9,552.6 1660.7,554.4 1668.5,556.4 1676.2,558.5 1683.8,560.8 1691.5,563.3 1699.0,565.9 1706.5,568.7 1713.9,571.7 1721.2,574.9 1728.5,578.3 1735.6,582.0 1742.6,585.9 1749.5,589.9 1756.3,594.2 1762.9,598.6 1769.4,603.2 1775.9,608.0 1782.1,613.0 1788.3,618.0 1794.4,623.2 1800.4,628.6 1806.3,634.0 1812.0,639.5 1817.7,645.2 1823.3,650.9 1828.8,656.7 1834.3,662.6 1839.6,668.5 1844.9,674.5 1850.1,680.6 1855.2,686.7 1860.3,692.9 1865.3,699.2 1870.2,705.5 1875.1,711.8 1879.9,718.2 1884.7,724.6 1889.4,731.1 1894.0,737.6 1898.7,744.1 1903.2,750.7 1907.7,757.3 1912.2,763.9 1916.6,770.6 1921.0,777.3 1925.4,784.0 1929.7,790.8 1933.9,797.5 1938.2,804.3 1942.4,811.1 1946.5,818.0 1950.7,824.8 1954.8,831.7 1958.9,838.6 1962.9,845.5 1966.9,852.4 1970.9,859.3 1974.9,866.2 1978.9,873.2 1982.8,880.2 1986.7,887.1 1990.6,894.1 1994.5,901.1 1998.4,908.1 2002.2,915.1 2006.1,922.2 2009.9,929.2 2013.7,936.2 2017.5,943.3 2021.3,950.3 2025.0,957.4 2028.8,964.4 2032.5,971.5 2036.3,978.6 2040.0,985.7 2043.7,992.8 2047.4,999.8 2051.1,1006.9 2054.8,1014.0 2058.4,1021.2 2062.1,1028.3 2065.8,1035.4 2069.4,1042.5 2073.1,1049.6 2076.7,1056.7 2080.3,1063.9 2084.0,1071.0 2087.6,1078.1 2091.2,1085.3 2094.8,1092.4 2098.4,1099.5 2102.0,1106.7 2105.6,1113.8 2109.2,1121.0 2112.8,1128.1 2116.4,1135.3 2120.0,1142.4 2121.8,1146.0" stroke="#FF6501"/>
</g>
<rect x="387.0" y="397.5" width="663.0" height="1012.5" fill="#fff" fill-opacity="0.5"/>
<g shape-rendering="crispEdges">
<rect x="399.3" y="397.5" width="650.7" height="6.1" fill="#868686"/>
<rect x="1043.9" y="397.5" width="6.1" height="1012.5" fill="#868686"/>
<rect x="387.0" y="403.6" width="12.3" height="1006.4" fill="#868686"/>
<rect x="387.0" y="1397.7" width="663.0" height="12.3" fill="#868686"/>
<rect x="399.5" y="453.9" width="198.5" height="12.3" fill="#515151"/>
<rect x="399.5" y="553.9" width="198.5" height="12.3" fill="#FB3E3E"/>
<rect x="399.5" y="653.9" width="198.5" height="12.3" fill="#0A70E0"/>
<rect x="399.5" y="753.9" width="198.5" height="12.3" fill="#1AAD66"/>
<rect x="399.5" y="853.9" width="198.5" height="12.3" fill="#C078E0"/>
<rect x="399.5" y="953.9" width="198.5" height="12.3" fill="#DA9A00"/>
<rect x="399.5" y="1053.9" width="198.5" height="12.3" fill="#00CACD"/>
<rect x="399.5" y="1153.9" width="198.5" height="12.3" fill="#864C4C"/>
<rect x="399.5" y="1253.9" width="198.5" height="12.3" fill="#8F8C00"/>
<rect x="399.5" y="1348.4" width="198.5" height="12.3" fill="#FF6501"/>
</g>
<text x="613.0" y="489.5" font-size="95.0" text-anchor="start" fill="#0a0a14" textLength="426.0" lengthAdjust="spacingAndGlyphs">T=278.15K</text>
<text x="613.0" y="588.2" font-size="95.0" text-anchor="start" fill="#0a0a14" textLength="426.0" lengthAdjust="spacingAndGlyphs">T=288.15K</text>
<text x="613.0" y="686.9" font-size="95.0" text-anchor="start" fill="#0a0a14" textLength="426.0" lengthAdjust="spacingAndGlyphs">T=298.15K</text>
<text x="613.0" y="785.6" font-size="95.0" text-anchor="start" fill="#0a0a14" textLength="426.0" lengthAdjust="spacingAndGlyphs">T=308.15K</text>
<text x="613.0" y="884.3" font-size="95.0" text-anchor="start" fill="#0a0a14" textLength="426.0" lengthAdjust="spacingAndGlyphs">T=318.15K</text>
<text x="613.0" y="983.0" font-size="95.0" text-anchor="start" fill="#0a0a14" textLength="426.0" lengthAdjust="spacingAndGlyphs">T=328.15K</text>
<text x="613.0" y="1081.7" font-size="95.0" text-anchor="start" fill="#0a0a14" textLength="426.0" lengthAdjust="spacingAndGlyphs">T=338.15K</text>
<text x="613.0" y="1180.4" font-size="95.0" text-anchor="start" fill="#0a0a14" textLength="426.0" lengthAdjust="spacingAndGlyphs">T=348.15K</text>
<text x="613.0" y="1279.1" font-size="95.0" text-anchor="start" fill="#0a0a14" textLength="426.0" lengthAdjust="spacingAndGlyphs">T=358.15K</text>
<text x="613.0" y="1377.8" font-size="95.0" text-anchor="start" fill="#0a0a14" textLength="426.0" lengthAdjust="spacingAndGlyphs">T=368.15K</text>
<g shape-rendering="crispEdges">
<rect x="368.7" y="1398.2" width="24.6" height="6.1" fill="#000"/>
<rect x="381.0" y="1303.6" width="12.3" height="6.1" fill="#000"/>
<rect x="368.7" y="1208.9" width="24.6" height="6.1" fill="#000"/>
<rect x="381.0" y="1114.2" width="12.3" height="6.1" fill="#000"/>
<rect x="368.7" y="1019.6" width="24.6" height="6.1" fill="#000"/>
<rect x="381.0" y="924.9" width="12.3" height="6.1" fill="#000"/>
<rect x="368.7" y="830.2" width="24.6" height="6.1" fill="#000"/>
<rect x="381.0" y="735.6" width="12.3" height="6.1" fill="#000"/>
<rect x="368.7" y="640.9" width="24.6" height="6.1" fill="#000"/>
<rect x="381.0" y="546.3" width="12.3" height="6.1" fill="#000"/>
<rect x="368.7" y="451.6" width="24.6" height="6.1" fill="#000"/>
<rect x="381.0" y="356.9" width="12.3" height="6.1" fill="#000"/>
<rect x="368.7" y="262.3" width="24.6" height="6.1" fill="#000"/>
<rect x="381.0" y="167.6" width="12.3" height="6.1" fill="#000"/>
<rect x="368.7" y="72.9" width="24.6" height="6.1" fill="#000"/>
<rect x="393.2" y="1404.4" width="6.1" height="24.6" fill="#000"/>
<rect x="479.5" y="1404.4" width="6.1" height="6.1" fill="#000"/>
<rect x="565.8" y="1404.4" width="6.1" height="21.5" fill="#000"/>
<rect x="652.1" y="1404.4" width="6.1" height="6.1" fill="#000"/>
<rect x="738.3" y="1404.4" width="6.1" height="21.5" fill="#000"/>
<rect x="824.6" y="1404.4" width="6.1" height="6.1" fill="#000"/>
<rect x="910.9" y="1404.4" width="6.1" height="21.5" fill="#000"/>
<rect x="997.2" y="1404.4" width="6.1" height="6.1" fill="#000"/>
<rect x="1083.4" y="1404.4" width="6.1" height="21.5" fill="#000"/>
<rect x="1169.7" y="1404.4" width="6.1" height="6.1" fill="#000"/>
<rect x="1256.0" y="1404.4" width="6.1" height="21.5" fill="#000"/>
<rect x="1342.3" y="1404.4" width="6.1" height="6.1" fill="#000"/>
<rect x="1428.5" y="1404.4" width="6.1" height="21.5" fill="#000"/>
<rect x="1514.8" y="1404.4" width="6.1" height="6.1" fill="#000"/>
<rect x="1601.1" y="1404.4" width="6.1" height="21.5" fill="#000"/>
<rect x="1687.4" y="1404.4" width="6.1" height="6.1" fill="#000"/>
<rect x="1773.6" y="1404.4" width="6.1" height="21.5" fill="#000"/>
<rect x="1859.9" y="1404.4" width="6.1" height="6.1" fill="#000"/>
<rect x="1946.2" y="1404.4" width="6.1" height="21.5" fill="#000"/>
<rect x="2032.5" y="1404.4" width="6.1" height="6.1" fill="#000"/>
<rect x="2118.7" y="1404.4" width="6.1" height="24.6" fill="#000"/>
</g>
<text x="344.0" y="1416.5" font-size="71.0" text-anchor="end" fill="#343434" textLength="182.0" lengthAdjust="spacingAndGlyphs">0.033</text>
<text x="344.0" y="1228.2" font-size="71.0" text-anchor="end" fill="#343434" textLength="182.0" lengthAdjust="spacingAndGlyphs">0.034</text>
<text x="344.0" y="1039.9" font-size="71.0" text-anchor="end" fill="#343434" textLength="182.0" lengthAdjust="spacingAndGlyphs">0.035</text>
<text x="344.0" y="851.6" font-size="71.0" text-anchor="end" fill="#343434" textLength="182.0" lengthAdjust="spacingAndGlyphs">0.036</text>
<text x="344.0" y="663.3" font-size="71.0" text-anchor="end" fill="#343434" textLength="182.0" lengthAdjust="spacingAndGlyphs">0.037</text>
<text x="344.0" y="475.0" font-size="71.0" text-anchor="end" fill="#343434" textLength="182.0" lengthAdjust="spacingAndGlyphs">0.038</text>
<text x="344.0" y="286.7" font-size="71.0" text-anchor="end" fill="#343434" textLength="182.0" lengthAdjust="spacingAndGlyphs">0.039</text>
<text x="344.0" y="98.4" font-size="71.0" text-anchor="end" fill="#343434" textLength="182.0" lengthAdjust="spacingAndGlyphs">0.040</text>
<text x="393.3" y="1498.0" font-size="71.0" text-anchor="middle" fill="#343434">-5</text>
<text x="565.9" y="1498.0" font-size="71.0" text-anchor="middle" fill="#343434">-4</text>
<text x="738.4" y="1498.0" font-size="71.0" text-anchor="middle" fill="#343434">-3</text>
<text x="911.0" y="1498.0" font-size="71.0" text-anchor="middle" fill="#343434">-2</text>
<text x="1083.5" y="1498.0" font-size="71.0" text-anchor="middle" fill="#343434">-1</text>
<text x="1259.1" y="1498.0" font-size="71.0" text-anchor="middle" fill="#343434">0</text>
<text x="1431.6" y="1498.0" font-size="71.0" text-anchor="middle" fill="#343434">1</text>
<text x="1604.2" y="1498.0" font-size="71.0" text-anchor="middle" fill="#343434">2</text>
<text x="1776.7" y="1498.0" font-size="71.0" text-anchor="middle" fill="#343434">3</text>
<text x="1949.3" y="1498.0" font-size="71.0" text-anchor="middle" fill="#343434">4</text>
<text x="2116.8" y="1498.0" font-size="71.0" text-anchor="middle" fill="#343434">5</text>
<text x="391.5" y="165.5" font-size="90.0" text-anchor="start" fill="#1a1a1a" textLength="1731.0" lengthAdjust="spacingAndGlyphs">H=4.8Å,d<tspan dy="-32" font-size="56">+</tspan><tspan dy="32">=d</tspan><tspan dy="-32" font-size="56">-</tspan><tspan dy="32">=3.2Å,c</tspan><tspan dy="24" font-size="56">1:1</tspan><tspan dy="-24">=0.25M,p</tspan><tspan dy="24" font-size="56">e</tspan><tspan dy="-24">=1.86D,ε</tspan><tspan dy="24" font-size="56">r</tspan><tspan dy="-24">=6</tspan></text>
<text x="2032.0" y="1353.0" font-size="118.0" text-anchor="start" fill="#000" font-weight="bold" font-style="italic">a</text>
<text transform="translate(113.0,915.0) rotate(-90)" font-size="94.0" text-anchor="start" fill="#1a1a1a" textLength="358.0" lengthAdjust="spacingAndGlyphs">C<tspan dy="28" font-size="62">d</tspan><tspan dy="-28">/(F/m</tspan><tspan dy="-36" font-size="62">2</tspan><tspan dy="36">)</tspan></text>
<g shape-rendering="crispEdges">
<rect x="393.2" y="1547.9" width="1737.8" height="6.1" fill="#000"/>
<rect x="393.2" y="2872.9" width="1737.8" height="6.1" fill="#000"/>
<rect x="393.2" y="1547.9" width="6.1" height="1331.1" fill="#000"/>
<rect x="2124.9" y="1547.9" width="6.1" height="1355.7" fill="#000"/>
</g>
<clipPath id="clipB"><rect x="399.4" y="1551.0" width="1731.7" height="1325.0"/></clipPath>
<g clip-path="url(#clipB)" fill="none" stroke-width="12.0" stroke-linejoin="miter" stroke-miterlimit="3" stroke-linecap="butt">
<path d="M396.3,2820.4 402.3,2819.8 410.2,2818.8 418.2,2817.9 426.1,2816.8 434.0,2815.7 442.0,2814.6 449.9,2813.4 457.8,2812.1 465.7,2810.7 473.5,2809.3 481.4,2807.7 489.2,2806.2 497.1,2804.5 504.9,2802.7 512.7,2800.9 520.4,2799.0 528.2,2797.0 535.9,2794.9 543.6,2792.7 551.3,2790.5 559.0,2788.1 566.6,2785.7 574.2,2783.1 581.7,2780.5 589.2,2777.7 596.7,2774.9 604.1,2771.9 611.5,2768.8 618.9,2765.7 626.2,2762.4 633.5,2759.0 640.7,2755.5 647.8,2751.9 654.9,2748.2 661.9,2744.4 668.9,2740.4 675.8,2736.4 682.7,2732.2 689.4,2728.0 696.1,2723.6 702.8,2719.1 709.3,2714.5 715.8,2709.8 722.2,2705.1 728.5,2700.1 734.8,2695.1 741.0,2690.0 747.0,2684.8 753.0,2679.5 759.0,2674.2 764.8,2668.7 770.5,2663.1 776.2,2657.4 781.8,2651.7 787.3,2645.9 792.7,2640.0 798.0,2634.0 803.2,2627.9 808.4,2621.8 813.4,2615.6 818.4,2609.3 823.3,2603.0 828.1,2596.6 832.8,2590.1 837.5,2583.6 842.0,2577.0 846.5,2570.4 850.9,2563.7 855.3,2557.0 859.5,2550.2 863.7,2543.4 867.8,2536.5 871.9,2529.6 875.9,2522.7 879.8,2515.7 883.6,2508.6 887.3,2501.6 891.0,2494.4 894.6,2487.3 898.1,2480.1 901.4,2472.8 904.7,2465.5 908.0,2458.2 911.1,2450.8 914.1,2443.4 917.1,2436.0 919.9,2428.5 922.7,2421.0 925.4,2413.5 928.0,2405.9 930.6,2398.3 933.1,2390.7 935.5,2383.1 937.8,2375.4 940.1,2367.8 942.4,2360.1 944.6,2352.4 946.7,2344.7 948.8,2336.9 950.9,2329.2 952.9,2321.4 954.9,2313.7 956.8,2305.9 958.7,2298.1 960.6,2290.4 962.4,2282.6 964.2,2274.8 966.0,2267.0 967.7,2259.1 969.4,2251.3 971.1,2243.5 972.8,2235.7 974.4,2227.8 976.0,2220.0 977.6,2212.1 979.1,2204.3 980.7,2196.4 982.2,2188.6 983.7,2180.7 985.2,2172.8 986.6,2165.0 988.1,2157.1 989.5,2149.2 990.9,2141.3 992.3,2133.5 993.6,2125.6 995.0,2117.7 996.3,2109.8 997.7,2101.9 999.0,2094.0 1000.3,2086.1 1001.6,2078.2 1002.9,2070.3 1004.2,2062.4 1005.4,2054.5 1006.7,2046.6 1008.0,2038.7 1009.2,2030.8 1010.5,2022.9 1011.7,2015.0 1013.0,2007.1 1014.2,1999.1 1015.4,1991.2 1016.7,1983.3 1017.9,1975.4 1019.1,1967.5 1020.3,1959.6 1021.6,1951.7 1022.8,1943.8 1024.0,1935.9 1025.3,1928.0 1026.5,1920.0 1027.7,1912.1 1029.0,1904.2 1030.2,1896.3 1031.5,1888.4 1032.8,1880.5 1034.0,1872.6 1035.3,1864.7 1036.6,1856.8 1037.9,1848.9 1039.2,1841.0 1040.6,1833.1 1041.9,1825.2 1043.3,1817.3 1044.7,1809.5 1046.1,1801.6 1047.6,1793.7 1049.0,1785.8 1050.6,1778.0 1052.1,1770.1 1053.7,1762.3 1055.4,1754.5 1057.1,1746.7 1058.9,1738.8 1060.8,1731.1 1062.7,1723.3 1064.8,1715.6 1066.9,1707.8 1069.2,1700.2 1071.5,1692.5 1074.1,1684.9 1076.7,1677.4 1079.6,1669.9 1082.7,1662.5 1086.1,1655.3 1089.8,1648.2 1093.8,1641.2 1098.1,1634.5 1102.7,1627.9 1107.6,1621.6 1112.7,1615.5 1118.3,1609.8 1124.4,1604.6 1131.1,1600.2 1138.5,1597.2 1146.3,1596.0 1154.2,1597.1 1161.4,1600.4 1167.8,1605.2 1173.4,1610.9 1178.3,1617.2 1182.7,1623.9 1186.7,1630.8 1190.4,1637.9 1193.8,1645.1 1197.0,1652.5 1199.9,1660.0 1202.5,1667.5 1205.0,1675.1 1207.3,1682.8 1209.5,1690.5 1211.5,1698.2 1213.4,1706.0 1215.2,1713.8 1216.9,1721.6 1218.5,1729.5 1220.0,1737.3 1221.4,1745.2 1222.8,1753.1 1224.1,1761.0 1225.3,1768.9 1226.5,1776.8 1227.6,1784.8 1228.7,1792.7 1229.7,1800.6 1230.7,1808.6 1231.6,1816.5 1232.5,1824.5 1233.4,1832.4 1234.3,1840.4 1235.1,1848.4 1235.9,1856.3 1236.6,1864.3 1237.4,1872.3 1238.1,1880.2 1238.8,1888.2 1239.4,1896.2 1240.1,1904.2 1240.7,1912.1 1241.3,1920.1 1241.9,1928.1 1242.5,1936.1 1243.0,1944.1 1243.6,1952.1 1244.1,1960.1 1244.6,1968.0 1245.1,1976.0 1245.6,1984.0 1246.1,1992.0 1246.6,2000.0 1246.9,2008.0 1247.3,2016.0 1247.6,2024.0 1248.0,2032.0 1248.3,2040.0 1248.7,2048.0 1249.0,2056.0 1249.4,2064.0 1249.7,2072.0 1250.0,2080.0 1250.4,2088.0 1250.7,2096.0 1251.0,2104.0 1251.4,2112.0 1251.7,2120.0 1252.0,2128.0 1252.3,2136.0 1252.7,2144.0 1253.0,2152.0 1253.3,2160.0 1253.6,2168.0 1253.9,2176.0 1254.2,2184.0 1254.5,2192.0 1254.9,2200.0 1255.2,2208.0 1255.5,2216.0 1255.8,2224.0 1256.0,2232.0 1256.3,2240.0 1256.6,2248.0 1256.9,2256.0 1257.2,2264.0 1257.5,2272.0 1257.8,2280.0 1258.0,2288.0 1258.3,2296.0 1258.6,2304.0 1258.8,2312.0 1259.1,2320.0 1259.3,2328.0 1259.6,2336.0 1259.8,2344.0 1260.1,2352.0 1260.3,2360.0 1260.5,2368.0 1260.7,2376.0 1261.0,2384.0 1261.2,2392.0 1261.4,2400.0 1261.6,2408.0 1261.7,2416.0 1261.9,2424.0 1262.0,2432.0 1262.2,2440.0 1262.3,2432.0 1262.4,2424.0 1262.6,2416.0 1262.7,2408.0 1262.9,2400.0 1263.1,2392.0 1263.3,2384.0 1263.6,2376.0 1263.8,2368.0 1264.0,2360.0 1264.2,2352.0 1264.5,2344.0 1264.7,2336.0 1265.0,2328.0 1265.2,2320.0 1265.5,2312.0 1265.7,2304.0 1266.0,2296.0 1266.3,2288.0 1266.5,2280.0 1266.8,2272.0 1267.1,2264.0 1267.4,2256.0 1267.7,2248.0 1268.0,2240.0 1268.3,2232.0 1268.5,2224.0 1268.8,2216.0 1269.1,2208.0 1269.4,2200.0 1269.8,2192.0 1270.1,2184.0 1270.4,2176.0 1270.7,2168.0 1271.0,2160.0 1271.3,2152.0 1271.6,2144.0 1272.0,2136.0 1272.3,2128.0 1272.6,2120.0 1272.9,2112.0 1273.3,2104.0 1273.6,2096.0 1273.9,2088.0 1274.3,2080.0 1274.6,2072.0 1274.9,2064.0 1275.3,2056.0 1275.6,2048.0 1276.0,2040.0 1276.3,2032.0 1276.7,2024.0 1277.0,2016.0 1277.4,2008.0 1277.7,2000.0 1278.2,1992.0 1278.7,1984.0 1279.2,1976.0 1279.7,1968.0 1280.2,1960.1 1280.7,1952.1 1281.3,1944.1 1281.8,1936.1 1282.4,1928.1 1283.0,1920.1 1283.6,1912.1 1284.2,1904.2 1284.9,1896.2 1285.5,1888.2 1286.2,1880.2 1286.9,1872.3 1287.7,1864.3 1288.4,1856.3 1289.2,1848.4 1290.0,1840.4 1290.9,1832.4 1291.8,1824.5 1292.7,1816.5 1293.6,1808.6 1294.6,1800.6 1295.6,1792.7 1296.7,1784.8 1297.8,1776.8 1299.0,1768.9 1300.2,1761.0 1301.5,1753.1 1302.9,1745.2 1304.3,1737.3 1305.8,1729.5 1307.4,1721.6 1309.1,1713.8 1310.9,1706.0 1312.8,1698.2 1314.8,1690.5 1317.0,1682.8 1319.3,1675.1 1321.8,1667.5 1324.4,1660.0 1327.3,1652.5 1330.5,1645.1 1333.9,1637.9 1337.6,1630.8 1341.6,1623.9 1346.0,1617.2 1350.9,1610.9 1356.5,1605.2 1362.9,1600.4 1370.1,1597.1 1378.0,1596.0 1385.8,1597.2 1393.2,1600.2 1399.9,1604.6 1406.0,1609.8 1411.6,1615.5 1416.7,1621.6 1421.6,1627.9 1426.2,1634.5 1430.5,1641.2 1434.5,1648.2 1438.2,1655.3 1441.6,1662.5 1444.7,1669.9 1447.6,1677.4 1450.2,1684.9 1452.8,1692.5 1455.1,1700.2 1457.4,1707.8 1459.5,1715.6 1461.6,1723.3 1463.5,1731.1 1465.4,1738.8 1467.2,1746.7 1468.9,1754.5 1470.6,1762.3 1472.2,1770.1 1473.7,1778.0 1475.3,1785.8 1476.7,1793.7 1478.2,1801.6 1479.6,1809.5 1481.0,1817.3 1482.4,1825.2 1483.7,1833.1 1485.1,1841.0 1486.4,1848.9 1487.7,1856.8 1489.0,1864.7 1490.3,1872.6 1491.5,1880.5 1492.8,1888.4 1494.1,1896.3 1495.3,1904.2 1496.6,1912.1 1497.8,1920.0 1499.0,1928.0 1500.3,1935.9 1501.5,1943.8 1502.7,1951.7 1504.0,1959.6 1505.2,1967.5 1506.4,1975.4 1507.6,1983.3 1508.9,1991.2 1510.1,1999.1 1511.3,2007.1 1512.6,2015.0 1513.8,2022.9 1515.1,2030.8 1516.3,2038.7 1517.6,2046.6 1518.9,2054.5 1520.1,2062.4 1521.4,2070.3 1522.7,2078.2 1524.0,2086.1 1525.3,2094.0 1526.6,2101.9 1528.0,2109.8 1529.3,2117.7 1530.7,2125.6 1532.0,2133.5 1533.4,2141.3 1534.8,2149.2 1536.2,2157.1 1537.7,2165.0 1539.1,2172.8 1540.6,2180.7 1542.1,2188.6 1543.6,2196.4 1545.2,2204.3 1546.7,2212.1 1548.3,2220.0 1549.9,2227.8 1551.5,2235.7 1553.2,2243.5 1554.9,2251.3 1556.6,2259.1 1558.3,2267.0 1560.1,2274.8 1561.9,2282.6 1563.7,2290.4 1565.6,2298.1 1567.5,2305.9 1569.4,2313.7 1571.4,2321.4 1573.4,2329.2 1575.5,2336.9 1577.6,2344.7 1579.7,2352.4 1581.9,2360.1 1584.2,2367.8 1586.5,2375.4 1588.8,2383.1 1591.2,2390.7 1593.7,2398.3 1596.3,2405.9 1598.9,2413.5 1601.6,2421.0 1604.4,2428.5 1607.2,2436.0 1610.2,2443.4 1613.2,2450.8 1616.3,2458.2 1619.6,2465.5 1622.9,2472.8 1626.2,2480.1 1629.7,2487.3 1633.3,2494.4 1637.0,2501.6 1640.7,2508.6 1644.5,2515.7 1648.4,2522.7 1652.4,2529.6 1656.5,2536.5 1660.6,2543.4 1664.8,2550.2 1669.0,2557.0 1673.4,2563.7 1677.8,2570.4 1682.3,2577.0 1686.8,2583.6 1691.5,2590.1 1696.2,2596.6 1701.0,2603.0 1705.9,2609.3 1710.9,2615.6 1715.9,2621.8 1721.1,2627.9 1726.3,2634.0 1731.6,2640.0 1737.0,2645.9 1742.5,2651.7 1748.1,2657.4 1753.8,2663.1 1759.5,2668.7 1765.3,2674.2 1771.3,2679.5 1777.3,2684.8 1783.3,2690.0 1789.5,2695.1 1795.8,2700.1 1802.1,2705.1 1808.5,2709.8 1815.0,2714.5 1821.5,2719.1 1828.2,2723.6 1834.9,2728.0 1841.6,2732.2 1848.5,2736.4 1855.4,2740.4 1862.4,2744.4 1869.4,2748.2 1876.5,2751.9 1883.6,2755.5 1890.8,2759.0 1898.1,2762.4 1905.4,2765.7 1912.8,2768.8 1920.2,2771.9 1927.6,2774.9 1935.1,2777.7 1942.6,2780.5 1950.1,2783.1 1957.7,2785.7 1965.3,2788.1 1973.0,2790.5 1980.7,2792.7 1988.4,2794.9 1996.1,2797.0 2003.9,2799.0 2011.6,2800.9 2019.4,2802.7 2027.2,2804.5 2035.1,2806.2 2042.9,2807.7 2050.8,2809.3 2058.6,2810.7 2066.5,2812.1 2074.4,2813.4 2082.3,2814.6 2090.3,2815.7 2098.2,2816.8 2106.1,2817.9 2114.1,2818.8 2122.0,2819.8 2128.0,2820.4" stroke="#515151"/>
<path d="M396.3,2819.8 400.3,2819.3 408.2,2818.3 416.2,2817.3 424.1,2816.3 432.0,2815.2 439.9,2814.0 447.8,2812.8 455.7,2811.5 463.6,2810.1 471.5,2808.7 479.4,2807.2 487.2,2805.6 495.0,2803.9 502.9,2802.2 510.7,2800.4 518.4,2798.5 526.2,2796.6 533.9,2794.5 541.6,2792.4 549.3,2790.1 557.0,2787.8 564.6,2785.4 572.2,2782.9 579.8,2780.3 587.3,2777.6 594.8,2774.8 602.3,2771.9 609.7,2768.9 617.1,2765.7 624.4,2762.5 631.6,2759.2 638.9,2755.7 646.0,2752.2 653.2,2748.5 660.2,2744.7 667.2,2740.8 674.1,2736.8 681.0,2732.7 687.8,2728.5 694.5,2724.1 701.2,2719.7 707.7,2715.1 714.2,2710.4 720.6,2705.7 727.0,2700.8 733.3,2695.8 739.4,2690.7 745.5,2685.5 751.5,2680.2 757.5,2674.9 763.3,2669.4 769.1,2663.8 774.7,2658.2 780.3,2652.5 785.8,2646.6 791.2,2640.8 796.6,2634.8 801.8,2628.7 807.0,2622.6 812.0,2616.4 817.0,2610.2 822.0,2603.9 826.8,2597.5 831.5,2591.0 836.2,2584.5 840.8,2578.0 845.3,2571.4 849.7,2564.7 854.1,2558.0 858.4,2551.2 862.6,2544.4 866.7,2537.6 870.8,2530.7 874.8,2523.8 878.8,2516.8 882.6,2509.8 886.4,2502.7 890.1,2495.6 893.7,2488.5 897.2,2481.3 900.7,2474.1 904.0,2466.8 907.3,2459.5 910.5,2452.2 913.6,2444.8 916.6,2437.4 919.5,2429.9 922.3,2422.4 925.0,2414.9 927.7,2407.4 930.3,2399.8 932.8,2392.2 935.3,2384.6 937.7,2376.9 940.0,2369.3 942.3,2361.6 944.6,2353.9 946.7,2346.2 948.9,2338.5 950.9,2330.8 953.0,2323.1 955.0,2315.3 956.9,2307.5 958.9,2299.8 960.8,2292.0 962.6,2284.2 964.4,2276.4 966.2,2268.6 968.0,2260.8 969.7,2253.0 971.4,2245.2 973.0,2237.3 974.7,2229.5 976.3,2221.7 977.9,2213.8 979.4,2206.0 981.0,2198.1 982.5,2190.3 984.0,2182.4 985.5,2174.5 986.9,2166.7 988.4,2158.8 989.8,2150.9 991.2,2143.0 992.5,2135.1 993.9,2127.3 995.3,2119.4 996.6,2111.5 997.9,2103.6 999.3,2095.7 1000.6,2087.8 1001.9,2079.9 1003.1,2072.0 1004.4,2064.1 1005.7,2056.2 1007.0,2048.3 1008.2,2040.4 1009.5,2032.5 1010.7,2024.6 1011.9,2016.7 1013.2,2008.8 1014.4,2000.9 1015.7,1992.9 1016.9,1985.0 1018.1,1977.1 1019.3,1969.2 1020.6,1961.3 1021.8,1953.4 1023.0,1945.5 1024.2,1937.6 1025.5,1929.7 1026.7,1921.8 1028.0,1913.9 1029.2,1906.0 1030.5,1898.1 1031.7,1890.2 1033.0,1882.3 1034.3,1874.3 1035.5,1866.4 1036.8,1858.6 1038.1,1850.7 1039.5,1842.8 1040.8,1834.9 1042.2,1827.0 1043.6,1819.1 1045.0,1811.2 1046.4,1803.4 1047.9,1795.5 1049.4,1787.6 1050.9,1779.8 1052.5,1771.9 1054.1,1764.1 1055.8,1756.3 1057.6,1748.5 1059.4,1740.7 1061.3,1732.9 1063.3,1725.1 1065.3,1717.4 1067.5,1709.7 1069.7,1702.0 1072.2,1694.4 1074.7,1686.8 1077.4,1679.3 1080.4,1671.8 1083.5,1664.5 1086.9,1657.2 1090.7,1650.2 1094.7,1643.2 1099.1,1636.5 1103.7,1630.0 1108.7,1623.8 1114.0,1617.8 1119.7,1612.2 1126.0,1607.3 1133.0,1603.4 1140.6,1601.0 1148.5,1600.8 1156.1,1602.9 1163.0,1607.0 1169.0,1612.2 1174.2,1618.2 1178.9,1624.7 1183.1,1631.5 1187.0,1638.5 1190.6,1645.7 1193.9,1653.0 1196.9,1660.4 1199.8,1667.8 1202.4,1675.4 1204.9,1683.0 1207.2,1690.7 1209.4,1698.4 1211.4,1706.1 1213.3,1713.9 1215.1,1721.7 1216.8,1729.5 1218.3,1737.4 1219.8,1745.2 1221.2,1753.1 1222.6,1761.0 1223.9,1768.9 1225.1,1776.8 1226.2,1784.7 1227.3,1792.7 1228.4,1800.6 1229.4,1808.5 1230.3,1816.5 1231.3,1824.4 1232.1,1832.4 1233.0,1840.3 1233.8,1848.3 1234.6,1856.3 1235.3,1864.2 1236.1,1872.2 1236.8,1880.2 1237.5,1888.1 1238.1,1896.1 1238.8,1904.1 1239.4,1912.1 1240.0,1920.1 1240.6,1928.0 1241.2,1936.0 1241.7,1944.0 1242.3,1952.0 1242.8,1960.0 1243.3,1968.0 1243.8,1976.0 1244.3,1983.9 1244.8,1991.9 1245.3,1999.9 1245.8,2007.9 1246.2,2015.9 1246.6,2023.9 1247.0,2031.9 1247.3,2039.9 1247.7,2047.9 1248.0,2055.9 1248.4,2063.9 1248.7,2071.9 1249.1,2079.9 1249.4,2087.9 1249.7,2095.9 1250.1,2103.9 1250.4,2111.8 1250.7,2119.8 1251.1,2127.8 1251.4,2135.8 1251.7,2143.8 1252.1,2151.8 1252.4,2159.8 1252.7,2167.8 1253.0,2175.8 1253.4,2183.8 1253.7,2191.8 1254.0,2199.8 1254.3,2207.8 1254.6,2215.8 1254.9,2223.8 1255.3,2231.8 1255.6,2239.8 1255.9,2247.8 1256.2,2255.8 1256.5,2263.8 1256.8,2271.8 1257.1,2279.8 1257.4,2287.8 1257.7,2295.8 1257.9,2303.8 1258.2,2311.8 1258.5,2319.8 1258.8,2327.8 1259.0,2335.8 1259.3,2343.8 1259.6,2351.8 1259.8,2359.8 1260.1,2367.8 1260.3,2375.8 1260.6,2383.8 1260.8,2391.8 1261.1,2399.8 1261.3,2407.8 1261.5,2415.8 1261.7,2423.8 1261.9,2431.8 1262.0,2439.8 1262.2,2447.8 1262.3,2439.8 1262.4,2431.8 1262.6,2423.8 1262.8,2415.8 1263.0,2407.8 1263.2,2399.8 1263.5,2391.8 1263.7,2383.8 1264.0,2375.8 1264.2,2367.8 1264.5,2359.8 1264.7,2351.8 1265.0,2343.8 1265.3,2335.8 1265.5,2327.8 1265.8,2319.8 1266.1,2311.8 1266.4,2303.8 1266.6,2295.8 1266.9,2287.8 1267.2,2279.8 1267.5,2271.8 1267.8,2263.8 1268.1,2255.8 1268.4,2247.8 1268.7,2239.8 1269.0,2231.8 1269.4,2223.8 1269.7,2215.8 1270.0,2207.8 1270.3,2199.8 1270.6,2191.8 1270.9,2183.8 1271.3,2175.8 1271.6,2167.8 1271.9,2159.8 1272.2,2151.8 1272.6,2143.8 1272.9,2135.8 1273.2,2127.8 1273.6,2119.8 1273.9,2111.8 1274.2,2103.9 1274.6,2095.9 1274.9,2087.9 1275.2,2079.9 1275.6,2071.9 1275.9,2063.9 1276.3,2055.9 1276.6,2047.9 1277.0,2039.9 1277.3,2031.9 1277.7,2023.9 1278.1,2015.9 1278.5,2007.9 1279.0,1999.9 1279.5,1991.9 1280.0,1983.9 1280.5,1976.0 1281.0,1968.0 1281.5,1960.0 1282.0,1952.0 1282.6,1944.0 1283.1,1936.0 1283.7,1928.0 1284.3,1920.1 1284.9,1912.1 1285.5,1904.1 1286.2,1896.1 1286.8,1888.1 1287.5,1880.2 1288.2,1872.2 1289.0,1864.2 1289.7,1856.3 1290.5,1848.3 1291.3,1840.3 1292.2,1832.4 1293.0,1824.4 1294.0,1816.5 1294.9,1808.5 1295.9,1800.6 1297.0,1792.7 1298.1,1784.7 1299.2,1776.8 1300.4,1768.9 1301.7,1761.0 1303.1,1753.1 1304.5,1745.2 1306.0,1737.4 1307.5,1729.5 1309.2,1721.7 1311.0,1713.9 1312.9,1706.1 1314.9,1698.4 1317.1,1690.7 1319.4,1683.0 1321.9,1675.4 1324.5,1667.8 1327.4,1660.4 1330.4,1653.0 1333.7,1645.7 1337.3,1638.5 1341.2,1631.5 1345.4,1624.7 1350.1,1618.2 1355.3,1612.2 1361.3,1607.0 1368.2,1602.9 1375.8,1600.8 1383.7,1601.0 1391.3,1603.4 1398.3,1607.3 1404.6,1612.2 1410.3,1617.8 1415.6,1623.8 1420.6,1630.0 1425.2,1636.5 1429.6,1643.2 1433.6,1650.2 1437.4,1657.2 1440.8,1664.5 1443.9,1671.8 1446.9,1679.3 1449.6,1686.8 1452.1,1694.4 1454.6,1702.0 1456.8,1709.7 1459.0,1717.4 1461.0,1725.1 1463.0,1732.9 1464.9,1740.7 1466.7,1748.5 1468.5,1756.3 1470.2,1764.1 1471.8,1771.9 1473.4,1779.8 1474.9,1787.6 1476.4,1795.5 1477.9,1803.4 1479.3,1811.2 1480.7,1819.1 1482.1,1827.0 1483.5,1834.9 1484.8,1842.8 1486.2,1850.7 1487.5,1858.6 1488.8,1866.4 1490.0,1874.3 1491.3,1882.3 1492.6,1890.2 1493.8,1898.1 1495.1,1906.0 1496.3,1913.9 1497.6,1921.8 1498.8,1929.7 1500.1,1937.6 1501.3,1945.5 1502.5,1953.4 1503.7,1961.3 1505.0,1969.2 1506.2,1977.1 1507.4,1985.0 1508.6,1992.9 1509.9,2000.9 1511.1,2008.8 1512.4,2016.7 1513.6,2024.6 1514.8,2032.5 1516.1,2040.4 1517.3,2048.3 1518.6,2056.2 1519.9,2064.1 1521.2,2072.0 1522.4,2079.9 1523.7,2087.8 1525.0,2095.7 1526.4,2103.6 1527.7,2111.5 1529.0,2119.4 1530.4,2127.3 1531.8,2135.1 1533.1,2143.0 1534.5,2150.9 1535.9,2158.8 1537.4,2166.7 1538.8,2174.5 1540.3,2182.4 1541.8,2190.3 1543.3,2198.1 1544.9,2206.0 1546.4,2213.8 1548.0,2221.7 1549.6,2229.5 1551.3,2237.3 1552.9,2245.2 1554.6,2253.0 1556.3,2260.8 1558.1,2268.6 1559.9,2276.4 1561.7,2284.2 1563.5,2292.0 1565.4,2299.8 1567.4,2307.5 1569.3,2315.3 1571.3,2323.1 1573.4,2330.8 1575.4,2338.5 1577.6,2346.2 1579.7,2353.9 1582.0,2361.6 1584.3,2369.3 1586.6,2376.9 1589.0,2384.6 1591.5,2392.2 1594.0,2399.8 1596.6,2407.4 1599.3,2414.9 1602.0,2422.4 1604.8,2429.9 1607.7,2437.4 1610.7,2444.8 1613.8,2452.2 1617.0,2459.5 1620.3,2466.8 1623.6,2474.1 1627.1,2481.3 1630.6,2488.5 1634.2,2495.6 1637.9,2502.7 1641.7,2509.8 1645.5,2516.8 1649.5,2523.8 1653.5,2530.7 1657.6,2537.6 1661.7,2544.4 1665.9,2551.2 1670.2,2558.0 1674.6,2564.7 1679.0,2571.4 1683.5,2578.0 1688.1,2584.5 1692.8,2591.0 1697.5,2597.5 1702.3,2603.9 1707.3,2610.2 1712.3,2616.4 1717.3,2622.6 1722.5,2628.7 1727.7,2634.8 1733.1,2640.8 1738.5,2646.6 1744.0,2652.5 1749.6,2658.2 1755.2,2663.8 1761.0,2669.4 1766.8,2674.9 1772.8,2680.2 1778.8,2685.5 1784.9,2690.7 1791.0,2695.8 1797.3,2700.8 1803.7,2705.7 1810.1,2710.4 1816.6,2715.1 1823.1,2719.7 1829.8,2724.1 1836.5,2728.5 1843.3,2732.7 1850.2,2736.8 1857.1,2740.8 1864.1,2744.7 1871.1,2748.5 1878.3,2752.2 1885.4,2755.7 1892.7,2759.2 1899.9,2762.5 1907.2,2765.7 1914.6,2768.9 1922.0,2771.9 1929.5,2774.8 1937.0,2777.6 1944.5,2780.3 1952.1,2782.9 1959.7,2785.4 1967.3,2787.8 1975.0,2790.1 1982.7,2792.4 1990.4,2794.5 1998.1,2796.6 2005.9,2798.5 2013.6,2800.4 2021.4,2802.2 2029.3,2803.9 2037.1,2805.6 2044.9,2807.2 2052.8,2808.7 2060.7,2810.1 2068.6,2811.5 2076.5,2812.8 2084.4,2814.0 2092.3,2815.2 2100.2,2816.3 2108.1,2817.3 2116.1,2818.3 2124.0,2819.3 2128.0,2819.8" stroke="#FB3E3E"/>
<path d="M396.3,2819.1 398.3,2818.9 406.2,2817.9 414.2,2816.8 422.1,2815.8 430.0,2814.6 437.9,2813.4 445.8,2812.2 453.7,2810.9 461.6,2809.5 469.5,2808.1 477.3,2806.6 485.2,2805.0 493.0,2803.4 500.8,2801.7 508.6,2799.9 516.4,2798.0 524.2,2796.1 531.9,2794.1 539.7,2792.0 547.3,2789.8 555.0,2787.5 562.7,2785.1 570.3,2782.7 577.9,2780.1 585.4,2777.5 592.9,2774.7 600.4,2771.8 607.8,2768.9 615.2,2765.8 622.6,2762.6 629.8,2759.3 637.1,2755.9 644.3,2752.4 651.4,2748.8 658.5,2745.1 665.5,2741.2 672.5,2737.2 679.3,2733.2 686.1,2729.0 692.9,2724.6 699.6,2720.2 706.1,2715.7 712.7,2711.0 719.1,2706.3 725.4,2701.4 731.7,2696.4 737.9,2691.4 744.0,2686.2 750.0,2680.9 756.0,2675.6 761.8,2670.1 767.6,2664.6 773.3,2658.9 778.9,2653.2 784.4,2647.4 789.8,2641.5 795.2,2635.6 800.4,2629.6 805.6,2623.4 810.7,2617.3 815.7,2611.0 820.6,2604.7 825.5,2598.4 830.2,2591.9 834.9,2585.5 839.5,2578.9 844.1,2572.3 848.5,2565.7 852.9,2559.0 857.2,2552.2 861.5,2545.5 865.6,2538.6 869.7,2531.8 873.8,2524.8 877.7,2517.9 881.6,2510.9 885.5,2503.9 889.2,2496.8 892.9,2489.7 896.4,2482.5 899.9,2475.3 903.3,2468.1 906.6,2460.8 909.8,2453.5 913.0,2446.1 916.0,2438.7 919.0,2431.3 921.9,2423.8 924.7,2416.3 927.4,2408.8 930.0,2401.2 932.6,2393.7 935.1,2386.1 937.6,2378.4 939.9,2370.8 942.3,2363.1 944.5,2355.5 946.8,2347.8 948.9,2340.1 951.0,2332.4 953.1,2324.6 955.1,2316.9 957.1,2309.1 959.1,2301.4 961.0,2293.6 962.8,2285.8 964.7,2278.0 966.5,2270.2 968.2,2262.4 970.0,2254.6 971.7,2246.8 973.3,2239.0 975.0,2231.1 976.6,2223.3 978.2,2215.5 979.7,2207.6 981.3,2199.8 982.8,2191.9 984.3,2184.0 985.8,2176.2 987.2,2168.3 988.6,2160.4 990.1,2152.6 991.5,2144.7 992.8,2136.8 994.2,2128.9 995.5,2121.0 996.9,2113.1 998.2,2105.2 999.5,2097.3 1000.8,2089.5 1002.1,2081.6 1003.4,2073.7 1004.7,2065.8 1005.9,2057.9 1007.2,2050.0 1008.4,2042.0 1009.7,2034.1 1010.9,2026.2 1012.2,2018.3 1013.4,2010.4 1014.6,2002.5 1015.9,1994.6 1017.1,1986.7 1018.3,1978.8 1019.6,1970.9 1020.8,1963.0 1022.0,1955.1 1023.2,1947.2 1024.5,1939.3 1025.7,1931.4 1026.9,1923.4 1028.2,1915.5 1029.4,1907.6 1030.7,1899.7 1031.9,1891.8 1033.2,1883.9 1034.5,1876.0 1035.8,1868.1 1037.1,1860.2 1038.4,1852.3 1039.7,1844.5 1041.1,1836.6 1042.5,1828.7 1043.9,1820.8 1045.3,1812.9 1046.7,1805.1 1048.2,1797.2 1049.7,1789.3 1051.3,1781.5 1052.9,1773.7 1054.6,1765.8 1056.3,1758.0 1058.0,1750.2 1059.9,1742.4 1061.8,1734.7 1063.8,1726.9 1065.9,1719.2 1068.1,1711.5 1070.4,1703.8 1072.8,1696.2 1075.4,1688.6 1078.2,1681.1 1081.1,1673.7 1084.3,1666.4 1087.8,1659.1 1091.6,1652.1 1095.7,1645.2 1100.1,1638.6 1104.8,1632.1 1109.9,1625.9 1115.3,1620.0 1121.2,1614.7 1127.8,1610.1 1135.0,1606.7 1142.7,1605.1 1150.6,1606.0 1157.9,1609.0 1164.4,1613.7 1170.0,1619.3 1175.0,1625.6 1179.5,1632.3 1183.5,1639.2 1187.2,1646.2 1190.7,1653.5 1193.9,1660.8 1196.9,1668.2 1199.7,1675.7 1202.3,1683.3 1204.8,1690.9 1207.1,1698.5 1209.2,1706.2 1211.3,1714.0 1213.2,1721.8 1214.9,1729.6 1216.6,1737.4 1218.2,1745.2 1219.7,1753.1 1221.1,1761.0 1222.4,1768.9 1223.7,1776.8 1224.9,1784.7 1226.0,1792.6 1227.1,1800.5 1228.1,1808.5 1229.1,1816.4 1230.0,1824.3 1230.9,1832.3 1231.8,1840.3 1232.6,1848.2 1233.4,1856.2 1234.2,1864.1 1234.9,1872.1 1235.6,1880.1 1236.3,1888.1 1236.9,1896.0 1237.6,1904.0 1238.2,1912.0 1238.8,1920.0 1239.4,1927.9 1240.0,1935.9 1240.5,1943.9 1241.1,1951.9 1241.6,1959.9 1242.1,1967.9 1242.6,1975.8 1243.1,1983.8 1243.6,1991.8 1244.1,1999.8 1244.5,2007.8 1245.0,2015.8 1245.4,2023.8 1245.9,2031.8 1246.3,2039.8 1246.7,2047.7 1247.0,2055.7 1247.4,2063.7 1247.7,2071.7 1248.1,2079.7 1248.4,2087.7 1248.8,2095.7 1249.1,2103.7 1249.4,2111.7 1249.8,2119.7 1250.1,2127.7 1250.5,2135.7 1250.8,2143.7 1251.1,2151.7 1251.5,2159.7 1251.8,2167.7 1252.1,2175.7 1252.5,2183.7 1252.8,2191.7 1253.1,2199.7 1253.4,2207.6 1253.8,2215.6 1254.1,2223.6 1254.4,2231.6 1254.7,2239.6 1255.1,2247.6 1255.4,2255.6 1255.7,2263.6 1256.0,2271.6 1256.3,2279.6 1256.6,2287.6 1256.9,2295.6 1257.2,2303.6 1257.5,2311.6 1257.8,2319.6 1258.1,2327.6 1258.4,2335.6 1258.7,2343.6 1259.0,2351.6 1259.3,2359.6 1259.6,2367.6 1259.9,2375.6 1260.1,2383.6 1260.4,2391.6 1260.7,2399.6 1260.9,2407.6 1261.2,2415.6 1261.4,2423.6 1261.6,2431.6 1261.8,2439.6 1262.0,2447.6 1262.2,2455.6 1262.3,2447.6 1262.5,2439.6 1262.7,2431.6 1262.9,2423.6 1263.1,2415.6 1263.4,2407.6 1263.6,2399.6 1263.9,2391.6 1264.2,2383.6 1264.4,2375.6 1264.7,2367.6 1265.0,2359.6 1265.3,2351.6 1265.6,2343.6 1265.9,2335.6 1266.2,2327.6 1266.5,2319.6 1266.8,2311.6 1267.1,2303.6 1267.4,2295.6 1267.7,2287.6 1268.0,2279.6 1268.3,2271.6 1268.6,2263.6 1268.9,2255.6 1269.2,2247.6 1269.6,2239.6 1269.9,2231.6 1270.2,2223.6 1270.5,2215.6 1270.9,2207.6 1271.2,2199.7 1271.5,2191.7 1271.8,2183.7 1272.2,2175.7 1272.5,2167.7 1272.8,2159.7 1273.2,2151.7 1273.5,2143.7 1273.8,2135.7 1274.2,2127.7 1274.5,2119.7 1274.9,2111.7 1275.2,2103.7 1275.5,2095.7 1275.9,2087.7 1276.2,2079.7 1276.6,2071.7 1276.9,2063.7 1277.3,2055.7 1277.6,2047.7 1278.0,2039.8 1278.4,2031.8 1278.9,2023.8 1279.3,2015.8 1279.8,2007.8 1280.2,1999.8 1280.7,1991.8 1281.2,1983.8 1281.7,1975.8 1282.2,1967.9 1282.7,1959.9 1283.2,1951.9 1283.8,1943.9 1284.3,1935.9 1284.9,1927.9 1285.5,1920.0 1286.1,1912.0 1286.7,1904.0 1287.4,1896.0 1288.0,1888.1 1288.7,1880.1 1289.4,1872.1 1290.1,1864.1 1290.9,1856.2 1291.7,1848.2 1292.5,1840.3 1293.4,1832.3 1294.3,1824.3 1295.2,1816.4 1296.2,1808.5 1297.2,1800.5 1298.3,1792.6 1299.4,1784.7 1300.6,1776.8 1301.9,1768.9 1303.2,1761.0 1304.6,1753.1 1306.1,1745.2 1307.7,1737.4 1309.4,1729.6 1311.1,1721.8 1313.0,1714.0 1315.1,1706.2 1317.2,1698.5 1319.5,1690.9 1322.0,1683.3 1324.6,1675.7 1327.4,1668.2 1330.4,1660.8 1333.6,1653.5 1337.1,1646.2 1340.8,1639.2 1344.8,1632.3 1349.3,1625.6 1354.3,1619.3 1359.9,1613.7 1366.4,1609.0 1373.7,1606.0 1381.6,1605.1 1389.3,1606.7 1396.5,1610.1 1403.1,1614.7 1409.0,1620.0 1414.4,1625.9 1419.5,1632.1 1424.2,1638.6 1428.6,1645.2 1432.7,1652.1 1436.5,1659.1 1440.0,1666.4 1443.2,1673.7 1446.1,1681.1 1448.9,1688.6 1451.5,1696.2 1453.9,1703.8 1456.2,1711.5 1458.4,1719.2 1460.5,1726.9 1462.5,1734.7 1464.4,1742.4 1466.3,1750.2 1468.0,1758.0 1469.7,1765.8 1471.4,1773.7 1473.0,1781.5 1474.6,1789.3 1476.1,1797.2 1477.6,1805.1 1479.0,1812.9 1480.4,1820.8 1481.8,1828.7 1483.2,1836.6 1484.6,1844.5 1485.9,1852.3 1487.2,1860.2 1488.5,1868.1 1489.8,1876.0 1491.1,1883.9 1492.4,1891.8 1493.6,1899.7 1494.9,1907.6 1496.1,1915.5 1497.4,1923.4 1498.6,1931.4 1499.8,1939.3 1501.1,1947.2 1502.3,1955.1 1503.5,1963.0 1504.7,1970.9 1506.0,1978.8 1507.2,1986.7 1508.4,1994.6 1509.7,2002.5 1510.9,2010.4 1512.1,2018.3 1513.4,2026.2 1514.6,2034.1 1515.9,2042.0 1517.1,2050.0 1518.4,2057.9 1519.6,2065.8 1520.9,2073.7 1522.2,2081.6 1523.5,2089.5 1524.8,2097.3 1526.1,2105.2 1527.4,2113.1 1528.8,2121.0 1530.1,2128.9 1531.5,2136.8 1532.8,2144.7 1534.2,2152.6 1535.7,2160.4 1537.1,2168.3 1538.5,2176.2 1540.0,2184.0 1541.5,2191.9 1543.0,2199.8 1544.6,2207.6 1546.1,2215.5 1547.7,2223.3 1549.3,2231.1 1551.0,2239.0 1552.6,2246.8 1554.3,2254.6 1556.1,2262.4 1557.8,2270.2 1559.6,2278.0 1561.5,2285.8 1563.3,2293.6 1565.2,2301.4 1567.2,2309.1 1569.2,2316.9 1571.2,2324.6 1573.3,2332.4 1575.4,2340.1 1577.5,2347.8 1579.8,2355.5 1582.0,2363.1 1584.4,2370.8 1586.7,2378.4 1589.2,2386.1 1591.7,2393.7 1594.3,2401.2 1596.9,2408.8 1599.6,2416.3 1602.4,2423.8 1605.3,2431.3 1608.3,2438.7 1611.3,2446.1 1614.5,2453.5 1617.7,2460.8 1621.0,2468.1 1624.4,2475.3 1627.9,2482.5 1631.4,2489.7 1635.1,2496.8 1638.8,2503.9 1642.7,2510.9 1646.6,2517.9 1650.5,2524.8 1654.6,2531.8 1658.7,2538.6 1662.8,2545.5 1667.1,2552.2 1671.4,2559.0 1675.8,2565.7 1680.2,2572.3 1684.8,2578.9 1689.4,2585.5 1694.1,2591.9 1698.8,2598.4 1703.7,2604.7 1708.6,2611.0 1713.6,2617.3 1718.7,2623.4 1723.9,2629.6 1729.1,2635.6 1734.5,2641.5 1739.9,2647.4 1745.4,2653.2 1751.0,2658.9 1756.7,2664.6 1762.5,2670.1 1768.3,2675.6 1774.3,2680.9 1780.3,2686.2 1786.4,2691.4 1792.6,2696.4 1798.9,2701.4 1805.2,2706.3 1811.6,2711.0 1818.2,2715.7 1824.7,2720.2 1831.4,2724.6 1838.2,2729.0 1845.0,2733.2 1851.8,2737.2 1858.8,2741.2 1865.8,2745.1 1872.9,2748.8 1880.0,2752.4 1887.2,2755.9 1894.5,2759.3 1901.7,2762.6 1909.1,2765.8 1916.5,2768.9 1923.9,2771.8 1931.4,2774.7 1938.9,2777.5 1946.4,2780.1 1954.0,2782.7 1961.6,2785.1 1969.3,2787.5 1977.0,2789.8 1984.6,2792.0 1992.4,2794.1 2000.1,2796.1 2007.9,2798.0 2015.7,2799.9 2023.5,2801.7 2031.3,2803.4 2039.1,2805.0 2047.0,2806.6 2054.8,2808.1 2062.7,2809.5 2070.6,2810.9 2078.5,2812.2 2086.4,2813.4 2094.3,2814.6 2102.2,2815.8 2110.1,2816.8 2118.1,2817.9 2126.0,2818.9 2128.0,2819.1" stroke="#0A70E0"/>
<path d="M396.3,2818.4 396.3,2818.4 404.2,2817.4 412.2,2816.4 420.1,2815.2 428.0,2814.1 435.9,2812.9 443.8,2811.6 451.7,2810.3 459.6,2808.9 467.5,2807.5 475.3,2806.0 483.2,2804.4 491.0,2802.8 498.8,2801.1 506.6,2799.4 514.4,2797.5 522.2,2795.6 529.9,2793.6 537.7,2791.6 545.4,2789.4 553.1,2787.2 560.7,2784.8 568.3,2782.4 575.9,2779.9 583.5,2777.3 591.0,2774.6 598.5,2771.8 606.0,2768.9 613.4,2765.8 620.7,2762.7 628.0,2759.5 635.3,2756.1 642.5,2752.7 649.7,2749.1 656.8,2745.4 663.8,2741.6 670.8,2737.6 677.7,2733.6 684.5,2729.4 691.3,2725.1 698.0,2720.7 704.6,2716.2 711.1,2711.6 717.5,2706.9 723.9,2702.0 730.2,2697.1 736.4,2692.0 742.5,2686.9 748.5,2681.6 754.5,2676.3 760.4,2670.8 766.1,2665.3 771.8,2659.7 777.4,2654.0 783.0,2648.2 788.4,2642.3 793.8,2636.4 799.0,2630.3 804.2,2624.3 809.3,2618.1 814.4,2611.9 819.3,2605.6 824.2,2599.2 829.0,2592.8 833.7,2586.3 838.3,2579.8 842.9,2573.2 847.3,2566.6 851.7,2559.9 856.1,2553.2 860.4,2546.5 864.5,2539.6 868.7,2532.8 872.7,2525.9 876.7,2519.0 880.7,2512.0 884.5,2505.0 888.3,2497.9 892.0,2490.8 895.6,2483.7 899.1,2476.5 902.6,2469.3 905.9,2462.0 909.2,2454.7 912.4,2447.4 915.5,2440.0 918.5,2432.6 921.5,2425.2 924.3,2417.7 927.1,2410.2 929.8,2402.6 932.4,2395.1 935.0,2387.5 937.4,2379.9 939.9,2372.3 942.2,2364.6 944.5,2357.0 946.8,2349.3 949.0,2341.6 951.1,2333.9 953.2,2326.2 955.3,2318.4 957.3,2310.7 959.3,2302.9 961.2,2295.2 963.1,2287.4 964.9,2279.6 966.7,2271.8 968.5,2264.0 970.2,2256.2 972.0,2248.4 973.6,2240.6 975.3,2232.7 976.9,2224.9 978.5,2217.1 980.1,2209.2 981.6,2201.4 983.1,2193.5 984.6,2185.6 986.1,2177.8 987.5,2169.9 988.9,2162.0 990.4,2154.2 991.7,2146.3 993.1,2138.4 994.5,2130.5 995.8,2122.6 997.2,2114.7 998.5,2106.9 999.8,2099.0 1001.1,2091.1 1002.4,2083.2 1003.7,2075.3 1004.9,2067.4 1006.2,2059.5 1007.4,2051.6 1008.7,2043.7 1009.9,2035.8 1011.2,2027.9 1012.4,2020.0 1013.7,2012.0 1014.9,2004.1 1016.1,1996.2 1017.3,1988.3 1018.6,1980.4 1019.8,1972.5 1021.0,1964.6 1022.2,1956.7 1023.5,1948.8 1024.7,1940.9 1025.9,1933.0 1027.2,1925.1 1028.4,1917.2 1029.7,1909.3 1030.9,1901.4 1032.2,1893.5 1033.4,1885.6 1034.7,1877.7 1036.0,1869.8 1037.3,1861.9 1038.7,1854.0 1040.0,1846.1 1041.4,1838.2 1042.8,1830.3 1044.2,1822.5 1045.6,1814.6 1047.1,1806.7 1048.6,1798.9 1050.1,1791.0 1051.7,1783.2 1053.3,1775.3 1055.0,1767.5 1056.7,1759.7 1058.5,1751.9 1060.4,1744.1 1062.3,1736.4 1064.3,1728.6 1066.5,1720.9 1068.7,1713.2 1071.0,1705.6 1073.5,1698.0 1076.1,1690.4 1078.9,1682.9 1081.9,1675.5 1085.2,1668.2 1088.7,1661.0 1092.5,1654.0 1096.7,1647.1 1101.2,1640.5 1106.0,1634.1 1111.1,1628.0 1116.7,1622.3 1122.8,1617.2 1129.6,1613.0 1137.1,1610.3 1145.0,1609.7 1152.7,1611.5 1159.6,1615.4 1165.7,1620.6 1171.0,1626.6 1175.7,1633.0 1179.9,1639.8 1183.8,1646.8 1187.4,1653.9 1190.7,1661.2 1193.9,1668.6 1196.8,1676.0 1199.6,1683.5 1202.2,1691.1 1204.6,1698.7 1206.9,1706.4 1209.1,1714.1 1211.1,1721.8 1213.0,1729.6 1214.8,1737.4 1216.5,1745.2 1218.0,1753.1 1219.5,1760.9 1220.9,1768.8 1222.2,1776.7 1223.5,1784.6 1224.6,1792.5 1225.8,1800.4 1226.8,1808.4 1227.8,1816.3 1228.8,1824.2 1229.7,1832.2 1230.6,1840.1 1231.4,1848.1 1232.2,1856.1 1233.0,1864.0 1233.7,1872.0 1234.5,1880.0 1235.1,1887.9 1235.8,1895.9 1236.4,1903.9 1237.1,1911.9 1237.7,1919.8 1238.3,1927.8 1238.8,1935.8 1239.4,1943.8 1239.9,1951.8 1240.4,1959.7 1241.0,1967.7 1241.5,1975.7 1242.0,1983.7 1242.4,1991.7 1242.9,1999.7 1243.4,2007.7 1243.8,2015.7 1244.3,2023.6 1244.7,2031.6 1245.1,2039.6 1245.6,2047.6 1246.0,2055.6 1246.4,2063.6 1246.8,2071.6 1247.1,2079.6 1247.4,2087.6 1247.8,2095.6 1248.1,2103.6 1248.5,2111.6 1248.8,2119.5 1249.1,2127.5 1249.5,2135.5 1249.8,2143.5 1250.2,2151.5 1250.5,2159.5 1250.8,2167.5 1251.2,2175.5 1251.5,2183.5 1251.8,2191.5 1252.2,2199.5 1252.5,2207.5 1252.8,2215.5 1253.2,2223.5 1253.5,2231.5 1253.8,2239.5 1254.2,2247.5 1254.5,2255.4 1254.8,2263.4 1255.2,2271.4 1255.5,2279.4 1255.8,2287.4 1256.1,2295.4 1256.5,2303.4 1256.8,2311.4 1257.1,2319.4 1257.4,2327.4 1257.7,2335.4 1258.1,2343.4 1258.4,2351.4 1258.7,2359.4 1259.0,2367.4 1259.3,2375.4 1259.6,2383.4 1259.9,2391.4 1260.2,2399.4 1260.5,2407.4 1260.7,2415.3 1261.0,2423.3 1261.3,2431.3 1261.5,2439.3 1261.8,2447.3 1262.0,2455.3 1262.2,2463.3 1262.3,2455.3 1262.5,2447.3 1262.8,2439.3 1263.0,2431.3 1263.3,2423.3 1263.6,2415.3 1263.8,2407.4 1264.1,2399.4 1264.4,2391.4 1264.7,2383.4 1265.0,2375.4 1265.3,2367.4 1265.6,2359.4 1265.9,2351.4 1266.2,2343.4 1266.6,2335.4 1266.9,2327.4 1267.2,2319.4 1267.5,2311.4 1267.8,2303.4 1268.2,2295.4 1268.5,2287.4 1268.8,2279.4 1269.1,2271.4 1269.5,2263.4 1269.8,2255.4 1270.1,2247.5 1270.5,2239.5 1270.8,2231.5 1271.1,2223.5 1271.5,2215.5 1271.8,2207.5 1272.1,2199.5 1272.5,2191.5 1272.8,2183.5 1273.1,2175.5 1273.5,2167.5 1273.8,2159.5 1274.1,2151.5 1274.5,2143.5 1274.8,2135.5 1275.2,2127.5 1275.5,2119.5 1275.8,2111.6 1276.2,2103.6 1276.5,2095.6 1276.9,2087.6 1277.2,2079.6 1277.5,2071.6 1277.9,2063.6 1278.3,2055.6 1278.7,2047.6 1279.2,2039.6 1279.6,2031.6 1280.0,2023.6 1280.5,2015.7 1280.9,2007.7 1281.4,1999.7 1281.9,1991.7 1282.3,1983.7 1282.8,1975.7 1283.3,1967.7 1283.9,1959.7 1284.4,1951.8 1284.9,1943.8 1285.5,1935.8 1286.0,1927.8 1286.6,1919.8 1287.2,1911.9 1287.9,1903.9 1288.5,1895.9 1289.2,1887.9 1289.8,1880.0 1290.6,1872.0 1291.3,1864.0 1292.1,1856.1 1292.9,1848.1 1293.7,1840.1 1294.6,1832.2 1295.5,1824.2 1296.5,1816.3 1297.5,1808.4 1298.5,1800.4 1299.7,1792.5 1300.8,1784.6 1302.1,1776.7 1303.4,1768.8 1304.8,1760.9 1306.3,1753.1 1307.8,1745.2 1309.5,1737.4 1311.3,1729.6 1313.2,1721.8 1315.2,1714.1 1317.4,1706.4 1319.7,1698.7 1322.1,1691.1 1324.7,1683.5 1327.5,1676.0 1330.4,1668.6 1333.6,1661.2 1336.9,1653.9 1340.5,1646.8 1344.4,1639.8 1348.6,1633.0 1353.3,1626.6 1358.6,1620.6 1364.7,1615.4 1371.6,1611.5 1379.3,1609.7 1387.2,1610.3 1394.7,1613.0 1401.5,1617.2 1407.6,1622.3 1413.2,1628.0 1418.3,1634.1 1423.1,1640.5 1427.6,1647.1 1431.8,1654.0 1435.6,1661.0 1439.1,1668.2 1442.4,1675.5 1445.4,1682.9 1448.2,1690.4 1450.8,1698.0 1453.3,1705.6 1455.6,1713.2 1457.8,1720.9 1460.0,1728.6 1462.0,1736.4 1463.9,1744.1 1465.8,1751.9 1467.6,1759.7 1469.3,1767.5 1471.0,1775.3 1472.6,1783.2 1474.2,1791.0 1475.7,1798.9 1477.2,1806.7 1478.7,1814.6 1480.1,1822.5 1481.5,1830.3 1482.9,1838.2 1484.3,1846.1 1485.6,1854.0 1487.0,1861.9 1488.3,1869.8 1489.6,1877.7 1490.9,1885.6 1492.1,1893.5 1493.4,1901.4 1494.6,1909.3 1495.9,1917.2 1497.1,1925.1 1498.4,1933.0 1499.6,1940.9 1500.8,1948.8 1502.1,1956.7 1503.3,1964.6 1504.5,1972.5 1505.7,1980.4 1507.0,1988.3 1508.2,1996.2 1509.4,2004.1 1510.6,2012.0 1511.9,2020.0 1513.1,2027.9 1514.4,2035.8 1515.6,2043.7 1516.9,2051.6 1518.1,2059.5 1519.4,2067.4 1520.6,2075.3 1521.9,2083.2 1523.2,2091.1 1524.5,2099.0 1525.8,2106.9 1527.1,2114.7 1528.5,2122.6 1529.8,2130.5 1531.2,2138.4 1532.6,2146.3 1533.9,2154.2 1535.4,2162.0 1536.8,2169.9 1538.2,2177.8 1539.7,2185.6 1541.2,2193.5 1542.7,2201.4 1544.2,2209.2 1545.8,2217.1 1547.4,2224.9 1549.0,2232.7 1550.7,2240.6 1552.3,2248.4 1554.1,2256.2 1555.8,2264.0 1557.6,2271.8 1559.4,2279.6 1561.2,2287.4 1563.1,2295.2 1565.0,2302.9 1567.0,2310.7 1569.0,2318.4 1571.1,2326.2 1573.2,2333.9 1575.3,2341.6 1577.5,2349.3 1579.8,2357.0 1582.1,2364.6 1584.4,2372.3 1586.9,2379.9 1589.3,2387.5 1591.9,2395.1 1594.5,2402.6 1597.2,2410.2 1600.0,2417.7 1602.8,2425.2 1605.8,2432.6 1608.8,2440.0 1611.9,2447.4 1615.1,2454.7 1618.4,2462.0 1621.7,2469.3 1625.2,2476.5 1628.7,2483.7 1632.3,2490.8 1636.0,2497.9 1639.8,2505.0 1643.6,2512.0 1647.6,2519.0 1651.6,2525.9 1655.6,2532.8 1659.8,2539.6 1663.9,2546.5 1668.2,2553.2 1672.6,2559.9 1677.0,2566.6 1681.4,2573.2 1686.0,2579.8 1690.6,2586.3 1695.3,2592.8 1700.1,2599.2 1705.0,2605.6 1709.9,2611.9 1715.0,2618.1 1720.1,2624.3 1725.3,2630.3 1730.5,2636.4 1735.9,2642.3 1741.3,2648.2 1746.9,2654.0 1752.5,2659.7 1758.2,2665.3 1763.9,2670.8 1769.8,2676.3 1775.8,2681.6 1781.8,2686.9 1787.9,2692.0 1794.1,2697.1 1800.4,2702.0 1806.8,2706.9 1813.2,2711.6 1819.7,2716.2 1826.3,2720.7 1833.0,2725.1 1839.8,2729.4 1846.6,2733.6 1853.5,2737.6 1860.5,2741.6 1867.5,2745.4 1874.6,2749.1 1881.8,2752.7 1889.0,2756.1 1896.3,2759.5 1903.6,2762.7 1910.9,2765.8 1918.3,2768.9 1925.8,2771.8 1933.3,2774.6 1940.8,2777.3 1948.4,2779.9 1956.0,2782.4 1963.6,2784.8 1971.2,2787.2 1978.9,2789.4 1986.6,2791.6 1994.4,2793.6 2002.1,2795.6 2009.9,2797.5 2017.7,2799.4 2025.5,2801.1 2033.3,2802.8 2041.1,2804.4 2049.0,2806.0 2056.8,2807.5 2064.7,2808.9 2072.6,2810.3 2080.5,2811.6 2088.4,2812.9 2096.3,2814.1 2104.2,2815.2 2112.1,2816.4 2120.1,2817.4 2128.0,2818.4 2128.0,2818.4" stroke="#1AAD66"/>
<path d="M396.3,2817.8 402.2,2817.0 410.2,2815.9 418.1,2814.7 426.0,2813.6 433.9,2812.3 441.8,2811.1 449.7,2809.7 457.6,2808.3 465.4,2806.9 473.3,2805.4 481.2,2803.9 489.0,2802.3 496.8,2800.6 504.6,2798.8 512.4,2797.0 520.2,2795.1 527.9,2793.2 535.7,2791.2 543.4,2789.0 551.1,2786.8 558.8,2784.5 566.4,2782.2 574.0,2779.7 581.6,2777.1 589.1,2774.5 596.6,2771.7 604.1,2768.8 611.5,2765.9 618.9,2762.8 626.2,2759.6 633.5,2756.3 640.8,2752.9 647.9,2749.3 655.1,2745.7 662.1,2741.9 669.1,2738.0 676.0,2734.0 682.9,2729.9 689.7,2725.6 696.4,2721.3 703.0,2716.8 709.5,2712.2 716.0,2707.4 722.4,2702.6 728.7,2697.7 734.9,2692.7 741.0,2687.5 747.1,2682.3 753.0,2676.9 758.9,2671.5 764.7,2666.0 770.4,2660.4 776.0,2654.7 781.6,2648.9 787.0,2643.1 792.4,2637.1 797.7,2631.1 802.9,2625.0 808.0,2618.9 813.0,2612.7 818.0,2606.4 822.9,2600.1 827.7,2593.7 832.4,2587.2 837.1,2580.7 841.6,2574.2 846.1,2567.5 850.6,2560.9 854.9,2554.2 859.2,2547.4 863.5,2540.6 867.6,2533.8 871.7,2526.9 875.7,2520.0 879.7,2513.1 883.6,2506.1 887.4,2499.0 891.1,2492.0 894.8,2484.8 898.4,2477.7 901.8,2470.5 905.3,2463.2 908.6,2456.0 911.8,2448.6 915.0,2441.3 918.0,2433.9 921.0,2426.5 923.9,2419.0 926.8,2411.5 929.5,2404.0 932.2,2396.5 934.8,2388.9 937.3,2381.3 939.8,2373.7 942.2,2366.1 944.5,2358.5 946.8,2350.8 949.1,2343.1 951.2,2335.4 953.4,2327.7 955.4,2320.0 957.5,2312.2 959.5,2304.5 961.4,2296.7 963.3,2288.9 965.2,2281.2 967.0,2273.4 968.8,2265.6 970.5,2257.8 972.3,2250.0 973.9,2242.1 975.6,2234.3 977.2,2226.5 978.8,2218.6 980.4,2210.8 981.9,2202.9 983.4,2195.1 984.9,2187.2 986.4,2179.4 987.8,2171.5 989.3,2163.6 990.7,2155.7 992.0,2147.9 993.4,2140.0 994.8,2132.1 996.1,2124.2 997.4,2116.3 998.8,2108.4 1000.1,2100.5 1001.4,2092.6 1002.6,2084.7 1003.9,2076.8 1005.2,2068.9 1006.4,2061.0 1007.7,2053.1 1008.9,2045.2 1010.2,2037.3 1011.4,2029.4 1012.7,2021.5 1013.9,2013.6 1015.1,2005.7 1016.3,1997.8 1017.6,1989.9 1018.8,1982.0 1020.0,1974.1 1021.2,1966.2 1022.5,1958.3 1023.7,1950.4 1024.9,1942.5 1026.2,1934.6 1027.4,1926.7 1028.6,1918.8 1029.9,1910.9 1031.2,1903.0 1032.4,1895.1 1033.7,1887.2 1035.0,1879.3 1036.3,1871.4 1037.6,1863.5 1038.9,1855.6 1040.3,1847.7 1041.7,1839.8 1043.1,1831.9 1044.5,1824.1 1045.9,1816.2 1047.4,1808.3 1048.9,1800.5 1050.5,1792.6 1052.1,1784.8 1053.7,1777.0 1055.4,1769.2 1057.2,1761.3 1059.0,1753.6 1060.9,1745.8 1062.9,1738.0 1064.9,1730.3 1067.1,1722.6 1069.3,1714.9 1071.7,1707.3 1074.2,1699.7 1076.8,1692.1 1079.7,1684.6 1082.7,1677.3 1086.0,1670.0 1089.6,1662.8 1093.5,1655.8 1097.7,1649.0 1102.3,1642.5 1107.2,1636.1 1112.5,1630.1 1118.2,1624.6 1124.6,1619.8 1131.6,1616.1 1139.3,1614.1 1147.2,1614.6 1154.6,1617.4 1161.2,1622.0 1166.9,1627.6 1171.9,1633.8 1176.3,1640.4 1180.4,1647.3 1184.1,1654.4 1187.6,1661.6 1190.8,1668.9 1193.9,1676.3 1196.7,1683.8 1199.4,1691.3 1202.0,1698.9 1204.5,1706.5 1206.8,1714.2 1208.9,1721.9 1211.0,1729.6 1212.9,1737.4 1214.7,1745.2 1216.3,1753.0 1217.9,1760.9 1219.4,1768.7 1220.7,1776.6 1222.1,1784.5 1223.3,1792.4 1224.4,1800.3 1225.5,1808.3 1226.6,1816.2 1227.6,1824.1 1228.5,1832.1 1229.4,1840.0 1230.3,1848.0 1231.1,1855.9 1231.9,1863.9 1232.6,1871.9 1233.4,1879.8 1234.1,1887.8 1234.7,1895.8 1235.4,1903.7 1236.0,1911.7 1236.6,1919.7 1237.2,1927.7 1237.7,1935.7 1238.3,1943.6 1238.8,1951.6 1239.4,1959.6 1239.9,1967.6 1240.4,1975.6 1240.9,1983.6 1241.3,1991.5 1241.8,1999.5 1242.3,2007.5 1242.7,2015.5 1243.2,2023.5 1243.6,2031.5 1244.0,2039.5 1244.5,2047.5 1244.9,2055.4 1245.3,2063.4 1245.7,2071.4 1246.1,2079.4 1246.5,2087.4 1246.8,2095.4 1247.2,2103.4 1247.5,2111.4 1247.8,2119.4 1248.2,2127.4 1248.5,2135.4 1248.8,2143.4 1249.2,2151.4 1249.5,2159.3 1249.9,2167.3 1250.2,2175.3 1250.5,2183.3 1250.9,2191.3 1251.2,2199.3 1251.6,2207.3 1251.9,2215.3 1252.2,2223.3 1252.6,2231.3 1252.9,2239.3 1253.3,2247.3 1253.6,2255.3 1253.9,2263.3 1254.3,2271.3 1254.6,2279.2 1254.9,2287.2 1255.3,2295.2 1255.6,2303.2 1256.0,2311.2 1256.3,2319.2 1256.6,2327.2 1257.0,2335.2 1257.3,2343.2 1257.6,2351.2 1258.0,2359.2 1258.3,2367.2 1258.6,2375.2 1258.9,2383.2 1259.3,2391.2 1259.6,2399.2 1259.9,2407.1 1260.2,2415.1 1260.5,2423.1 1260.8,2431.1 1261.1,2439.1 1261.4,2447.1 1261.7,2455.1 1261.9,2463.1 1262.2,2471.1 1262.4,2463.1 1262.6,2455.1 1262.9,2447.1 1263.2,2439.1 1263.5,2431.1 1263.8,2423.1 1264.1,2415.1 1264.4,2407.1 1264.7,2399.2 1265.0,2391.2 1265.4,2383.2 1265.7,2375.2 1266.0,2367.2 1266.3,2359.2 1266.7,2351.2 1267.0,2343.2 1267.3,2335.2 1267.7,2327.2 1268.0,2319.2 1268.3,2311.2 1268.7,2303.2 1269.0,2295.2 1269.4,2287.2 1269.7,2279.2 1270.0,2271.3 1270.4,2263.3 1270.7,2255.3 1271.0,2247.3 1271.4,2239.3 1271.7,2231.3 1272.1,2223.3 1272.4,2215.3 1272.7,2207.3 1273.1,2199.3 1273.4,2191.3 1273.8,2183.3 1274.1,2175.3 1274.4,2167.3 1274.8,2159.3 1275.1,2151.4 1275.5,2143.4 1275.8,2135.4 1276.1,2127.4 1276.5,2119.4 1276.8,2111.4 1277.1,2103.4 1277.5,2095.4 1277.8,2087.4 1278.2,2079.4 1278.6,2071.4 1279.0,2063.4 1279.4,2055.4 1279.8,2047.5 1280.3,2039.5 1280.7,2031.5 1281.1,2023.5 1281.6,2015.5 1282.0,2007.5 1282.5,1999.5 1283.0,1991.5 1283.4,1983.6 1283.9,1975.6 1284.4,1967.6 1284.9,1959.6 1285.5,1951.6 1286.0,1943.6 1286.6,1935.7 1287.1,1927.7 1287.7,1919.7 1288.3,1911.7 1288.9,1903.7 1289.6,1895.8 1290.2,1887.8 1290.9,1879.8 1291.7,1871.9 1292.4,1863.9 1293.2,1855.9 1294.0,1848.0 1294.9,1840.0 1295.8,1832.1 1296.7,1824.1 1297.7,1816.2 1298.8,1808.3 1299.9,1800.3 1301.0,1792.4 1302.2,1784.5 1303.6,1776.6 1304.9,1768.7 1306.4,1760.9 1308.0,1753.0 1309.6,1745.2 1311.4,1737.4 1313.3,1729.6 1315.4,1721.9 1317.5,1714.2 1319.8,1706.5 1322.3,1698.9 1324.9,1691.3 1327.6,1683.8 1330.4,1676.3 1333.5,1668.9 1336.7,1661.6 1340.2,1654.4 1343.9,1647.3 1348.0,1640.4 1352.4,1633.8 1357.4,1627.6 1363.1,1622.0 1369.7,1617.4 1377.1,1614.6 1385.0,1614.1 1392.7,1616.1 1399.7,1619.8 1406.1,1624.6 1411.8,1630.1 1417.1,1636.1 1422.0,1642.5 1426.6,1649.0 1430.8,1655.8 1434.7,1662.8 1438.3,1670.0 1441.6,1677.3 1444.6,1684.6 1447.5,1692.1 1450.1,1699.7 1452.6,1707.3 1455.0,1714.9 1457.2,1722.6 1459.4,1730.3 1461.4,1738.0 1463.4,1745.8 1465.3,1753.6 1467.1,1761.3 1468.9,1769.2 1470.6,1777.0 1472.2,1784.8 1473.8,1792.6 1475.4,1800.5 1476.9,1808.3 1478.4,1816.2 1479.8,1824.1 1481.2,1831.9 1482.6,1839.8 1484.0,1847.7 1485.4,1855.6 1486.7,1863.5 1488.0,1871.4 1489.3,1879.3 1490.6,1887.2 1491.9,1895.1 1493.1,1903.0 1494.4,1910.9 1495.7,1918.8 1496.9,1926.7 1498.1,1934.6 1499.4,1942.5 1500.6,1950.4 1501.8,1958.3 1503.1,1966.2 1504.3,1974.1 1505.5,1982.0 1506.7,1989.9 1508.0,1997.8 1509.2,2005.7 1510.4,2013.6 1511.6,2021.5 1512.9,2029.4 1514.1,2037.3 1515.4,2045.2 1516.6,2053.1 1517.9,2061.0 1519.1,2068.9 1520.4,2076.8 1521.7,2084.7 1522.9,2092.6 1524.2,2100.5 1525.5,2108.4 1526.9,2116.3 1528.2,2124.2 1529.5,2132.1 1530.9,2140.0 1532.3,2147.9 1533.6,2155.7 1535.0,2163.6 1536.5,2171.5 1537.9,2179.4 1539.4,2187.2 1540.9,2195.1 1542.4,2202.9 1543.9,2210.8 1545.5,2218.6 1547.1,2226.5 1548.7,2234.3 1550.4,2242.1 1552.0,2250.0 1553.8,2257.8 1555.5,2265.6 1557.3,2273.4 1559.1,2281.2 1561.0,2288.9 1562.9,2296.7 1564.8,2304.5 1566.8,2312.2 1568.9,2320.0 1570.9,2327.7 1573.1,2335.4 1575.2,2343.1 1577.5,2350.8 1579.8,2358.5 1582.1,2366.1 1584.5,2373.7 1587.0,2381.3 1589.5,2388.9 1592.1,2396.5 1594.8,2404.0 1597.5,2411.5 1600.4,2419.0 1603.3,2426.5 1606.3,2433.9 1609.3,2441.3 1612.5,2448.6 1615.7,2456.0 1619.0,2463.2 1622.5,2470.5 1625.9,2477.7 1629.5,2484.8 1633.2,2492.0 1636.9,2499.0 1640.7,2506.1 1644.6,2513.1 1648.6,2520.0 1652.6,2526.9 1656.7,2533.8 1660.8,2540.6 1665.1,2547.4 1669.4,2554.2 1673.7,2560.9 1678.2,2567.5 1682.7,2574.2 1687.2,2580.7 1691.9,2587.2 1696.6,2593.7 1701.4,2600.1 1706.3,2606.4 1711.3,2612.7 1716.3,2618.9 1721.4,2625.0 1726.6,2631.1 1731.9,2637.1 1737.3,2643.1 1742.7,2648.9 1748.3,2654.7 1753.9,2660.4 1759.6,2666.0 1765.4,2671.5 1771.3,2676.9 1777.2,2682.3 1783.3,2687.5 1789.4,2692.7 1795.6,2697.7 1801.9,2702.6 1808.3,2707.4 1814.8,2712.2 1821.3,2716.8 1827.9,2721.3 1834.6,2725.6 1841.4,2729.9 1848.3,2734.0 1855.2,2738.0 1862.2,2741.9 1869.2,2745.7 1876.4,2749.3 1883.5,2752.9 1890.8,2756.3 1898.1,2759.6 1905.4,2762.8 1912.8,2765.9 1920.2,2768.8 1927.7,2771.7 1935.2,2774.5 1942.7,2777.1 1950.3,2779.7 1957.9,2782.2 1965.5,2784.5 1973.2,2786.8 1980.9,2789.0 1988.6,2791.2 1996.4,2793.2 2004.1,2795.1 2011.9,2797.0 2019.7,2798.8 2027.5,2800.6 2035.3,2802.3 2043.1,2803.9 2051.0,2805.4 2058.9,2806.9 2066.7,2808.3 2074.6,2809.7 2082.5,2811.1 2090.4,2812.3 2098.3,2813.6 2106.2,2814.7 2114.1,2815.9 2122.1,2817.0 2128.0,2817.8" stroke="#C078E0"/>
<path d="M396.3,2817.1 400.3,2816.6 408.2,2815.4 416.1,2814.3 424.0,2813.0 431.9,2811.8 439.8,2810.5 447.7,2809.2 455.6,2807.8 463.4,2806.3 471.3,2804.8 479.1,2803.3 487.0,2801.7 494.8,2800.0 502.6,2798.3 510.4,2796.5 518.2,2794.7 526.0,2792.7 533.7,2790.7 541.4,2788.6 549.1,2786.5 556.8,2784.2 564.5,2781.9 572.1,2779.5 579.7,2776.9 587.2,2774.3 594.8,2771.6 602.2,2768.8 609.7,2765.9 617.1,2762.8 624.5,2759.7 631.8,2756.4 639.0,2753.1 646.2,2749.6 653.4,2746.0 660.4,2742.2 667.4,2738.4 674.4,2734.4 681.3,2730.3 688.1,2726.1 694.8,2721.7 701.4,2717.3 708.0,2712.7 714.5,2708.0 720.9,2703.2 727.2,2698.3 733.4,2693.3 739.5,2688.2 745.6,2682.9 751.6,2677.6 757.5,2672.2 763.3,2666.7 769.0,2661.1 774.6,2655.4 780.2,2649.7 785.6,2643.8 791.0,2637.9 796.3,2631.9 801.5,2625.8 806.7,2619.7 811.7,2613.5 816.7,2607.2 821.6,2600.9 826.4,2594.5 831.2,2588.1 835.8,2581.6 840.4,2575.0 845.0,2568.4 849.4,2561.8 853.8,2555.1 858.1,2548.4 862.4,2541.6 866.5,2534.8 870.7,2527.9 874.7,2521.0 878.7,2514.1 882.6,2507.1 886.5,2500.1 890.3,2493.0 894.0,2486.0 897.6,2478.8 901.1,2471.6 904.6,2464.4 907.9,2457.2 911.2,2449.9 914.4,2442.5 917.5,2435.2 920.6,2427.8 923.6,2420.4 926.4,2412.9 929.2,2405.4 932.0,2397.9 934.6,2390.3 937.2,2382.8 939.7,2375.2 942.2,2367.5 944.5,2359.9 946.9,2352.3 949.1,2344.6 951.3,2336.9 953.5,2329.2 955.6,2321.5 957.7,2313.7 959.7,2306.0 961.7,2298.2 963.6,2290.5 965.5,2282.7 967.3,2274.9 969.1,2267.1 970.9,2259.3 972.6,2251.5 974.3,2243.7 975.9,2235.9 977.6,2228.0 979.1,2220.2 980.7,2212.3 982.2,2204.5 983.8,2196.6 985.2,2188.8 986.7,2180.9 988.1,2173.0 989.6,2165.2 991.0,2157.3 992.3,2149.4 993.7,2141.5 995.1,2133.6 996.4,2125.7 997.7,2117.9 999.0,2110.0 1000.3,2102.1 1001.6,2094.2 1002.9,2086.3 1004.2,2078.4 1005.5,2070.5 1006.7,2062.6 1008.0,2054.7 1009.2,2046.8 1010.4,2038.9 1011.7,2031.0 1012.9,2023.1 1014.1,2015.2 1015.4,2007.3 1016.6,1999.3 1017.8,1991.4 1019.0,1983.5 1020.3,1975.6 1021.5,1967.7 1022.7,1959.8 1023.9,1951.9 1025.2,1944.0 1026.4,1936.1 1027.6,1928.2 1028.9,1920.3 1030.1,1912.4 1031.4,1904.5 1032.7,1896.6 1034.0,1888.7 1035.3,1880.8 1036.6,1872.9 1037.9,1865.0 1039.2,1857.1 1040.6,1849.3 1042.0,1841.4 1043.4,1833.5 1044.8,1825.6 1046.3,1817.8 1047.8,1809.9 1049.3,1802.1 1050.9,1794.2 1052.5,1786.4 1054.2,1778.6 1055.9,1770.7 1057.7,1762.9 1059.5,1755.2 1061.5,1747.4 1063.4,1739.6 1065.5,1731.9 1067.7,1724.2 1070.0,1716.5 1072.4,1708.9 1074.9,1701.3 1077.6,1693.8 1080.5,1686.3 1083.6,1679.0 1086.9,1671.7 1090.6,1664.6 1094.5,1657.6 1098.8,1650.9 1103.5,1644.4 1108.5,1638.1 1113.9,1632.3 1119.9,1626.9 1126.5,1622.5 1133.8,1619.4 1141.7,1618.4 1149.4,1620.0 1156.4,1623.6 1162.6,1628.7 1167.9,1634.7 1172.7,1641.1 1176.9,1647.9 1180.8,1654.9 1184.4,1662.0 1187.7,1669.3 1190.9,1676.7 1193.8,1684.1 1196.6,1691.6 1199.3,1699.1 1201.9,1706.7 1204.3,1714.3 1206.6,1722.0 1208.8,1729.7 1210.8,1737.4 1212.7,1745.2 1214.5,1753.0 1216.2,1760.8 1217.7,1768.7 1219.2,1776.5 1220.6,1784.4 1221.9,1792.3 1223.1,1800.2 1224.2,1808.1 1225.3,1816.0 1226.4,1824.0 1227.3,1831.9 1228.3,1839.9 1229.1,1847.8 1230.0,1855.8 1230.8,1863.7 1231.6,1871.7 1232.3,1879.7 1233.0,1887.6 1233.7,1895.6 1234.3,1903.6 1235.0,1911.5 1235.6,1919.5 1236.2,1927.5 1236.7,1935.5 1237.3,1943.5 1237.8,1951.4 1238.3,1959.4 1238.9,1967.4 1239.3,1975.4 1239.8,1983.4 1240.3,1991.4 1240.8,1999.4 1241.2,2007.3 1241.7,2015.3 1242.1,2023.3 1242.6,2031.3 1243.0,2039.3 1243.4,2047.3 1243.8,2055.3 1244.2,2063.3 1244.6,2071.3 1245.0,2079.2 1245.4,2087.2 1245.8,2095.2 1246.2,2103.2 1246.5,2111.2 1246.9,2119.2 1247.2,2127.2 1247.5,2135.2 1247.9,2143.2 1248.2,2151.2 1248.5,2159.2 1248.9,2167.2 1249.2,2175.2 1249.6,2183.1 1249.9,2191.1 1250.2,2199.1 1250.6,2207.1 1250.9,2215.1 1251.3,2223.1 1251.6,2231.1 1251.9,2239.1 1252.3,2247.1 1252.6,2255.1 1253.0,2263.1 1253.3,2271.1 1253.7,2279.1 1254.0,2287.1 1254.4,2295.0 1254.7,2303.0 1255.1,2311.0 1255.4,2319.0 1255.7,2327.0 1256.1,2335.0 1256.4,2343.0 1256.8,2351.0 1257.1,2359.0 1257.5,2367.0 1257.8,2375.0 1258.2,2383.0 1258.5,2391.0 1258.9,2399.0 1259.2,2406.9 1259.6,2414.9 1259.9,2422.9 1260.3,2430.9 1260.6,2438.9 1260.9,2446.9 1261.3,2454.9 1261.6,2462.9 1261.9,2470.9 1262.2,2478.9 1262.4,2470.9 1262.7,2462.9 1263.0,2454.9 1263.4,2446.9 1263.7,2438.9 1264.0,2430.9 1264.4,2422.9 1264.7,2414.9 1265.1,2406.9 1265.4,2399.0 1265.8,2391.0 1266.1,2383.0 1266.5,2375.0 1266.8,2367.0 1267.2,2359.0 1267.5,2351.0 1267.9,2343.0 1268.2,2335.0 1268.6,2327.0 1268.9,2319.0 1269.2,2311.0 1269.6,2303.0 1269.9,2295.0 1270.3,2287.1 1270.6,2279.1 1271.0,2271.1 1271.3,2263.1 1271.7,2255.1 1272.0,2247.1 1272.4,2239.1 1272.7,2231.1 1273.0,2223.1 1273.4,2215.1 1273.7,2207.1 1274.1,2199.1 1274.4,2191.1 1274.7,2183.1 1275.1,2175.2 1275.4,2167.2 1275.8,2159.2 1276.1,2151.2 1276.4,2143.2 1276.8,2135.2 1277.1,2127.2 1277.4,2119.2 1277.8,2111.2 1278.1,2103.2 1278.5,2095.2 1278.9,2087.2 1279.3,2079.2 1279.7,2071.3 1280.1,2063.3 1280.5,2055.3 1280.9,2047.3 1281.3,2039.3 1281.7,2031.3 1282.2,2023.3 1282.6,2015.3 1283.1,2007.3 1283.5,1999.4 1284.0,1991.4 1284.5,1983.4 1285.0,1975.4 1285.4,1967.4 1286.0,1959.4 1286.5,1951.4 1287.0,1943.5 1287.6,1935.5 1288.1,1927.5 1288.7,1919.5 1289.3,1911.5 1290.0,1903.6 1290.6,1895.6 1291.3,1887.6 1292.0,1879.7 1292.7,1871.7 1293.5,1863.7 1294.3,1855.8 1295.2,1847.8 1296.0,1839.9 1297.0,1831.9 1297.9,1824.0 1299.0,1816.0 1300.1,1808.1 1301.2,1800.2 1302.4,1792.3 1303.7,1784.4 1305.1,1776.5 1306.6,1768.7 1308.1,1760.8 1309.8,1753.0 1311.6,1745.2 1313.5,1737.4 1315.5,1729.7 1317.7,1722.0 1320.0,1714.3 1322.4,1706.7 1325.0,1699.1 1327.7,1691.6 1330.5,1684.1 1333.4,1676.7 1336.6,1669.3 1339.9,1662.0 1343.5,1654.9 1347.4,1647.9 1351.6,1641.1 1356.4,1634.7 1361.7,1628.7 1367.9,1623.6 1374.9,1620.0 1382.6,1618.4 1390.5,1619.4 1397.8,1622.5 1404.4,1626.9 1410.4,1632.3 1415.8,1638.1 1420.8,1644.4 1425.5,1650.9 1429.8,1657.6 1433.7,1664.6 1437.4,1671.7 1440.7,1679.0 1443.8,1686.3 1446.7,1693.8 1449.4,1701.3 1451.9,1708.9 1454.3,1716.5 1456.6,1724.2 1458.8,1731.9 1460.9,1739.6 1462.8,1747.4 1464.8,1755.2 1466.6,1762.9 1468.4,1770.7 1470.1,1778.6 1471.8,1786.4 1473.4,1794.2 1475.0,1802.1 1476.5,1809.9 1478.0,1817.8 1479.5,1825.6 1480.9,1833.5 1482.3,1841.4 1483.7,1849.3 1485.1,1857.1 1486.4,1865.0 1487.7,1872.9 1489.0,1880.8 1490.3,1888.7 1491.6,1896.6 1492.9,1904.5 1494.2,1912.4 1495.4,1920.3 1496.7,1928.2 1497.9,1936.1 1499.1,1944.0 1500.4,1951.9 1501.6,1959.8 1502.8,1967.7 1504.0,1975.6 1505.3,1983.5 1506.5,1991.4 1507.7,1999.3 1508.9,2007.3 1510.2,2015.2 1511.4,2023.1 1512.6,2031.0 1513.9,2038.9 1515.1,2046.8 1516.3,2054.7 1517.6,2062.6 1518.8,2070.5 1520.1,2078.4 1521.4,2086.3 1522.7,2094.2 1524.0,2102.1 1525.3,2110.0 1526.6,2117.9 1527.9,2125.7 1529.2,2133.6 1530.6,2141.5 1532.0,2149.4 1533.3,2157.3 1534.7,2165.2 1536.2,2173.0 1537.6,2180.9 1539.1,2188.8 1540.5,2196.6 1542.1,2204.5 1543.6,2212.3 1545.2,2220.2 1546.7,2228.0 1548.4,2235.9 1550.0,2243.7 1551.7,2251.5 1553.4,2259.3 1555.2,2267.1 1557.0,2274.9 1558.8,2282.7 1560.7,2290.5 1562.6,2298.2 1564.6,2306.0 1566.6,2313.7 1568.7,2321.5 1570.8,2329.2 1573.0,2336.9 1575.2,2344.6 1577.4,2352.3 1579.8,2359.9 1582.1,2367.5 1584.6,2375.2 1587.1,2382.8 1589.7,2390.3 1592.3,2397.9 1595.1,2405.4 1597.9,2412.9 1600.7,2420.4 1603.7,2427.8 1606.8,2435.2 1609.9,2442.5 1613.1,2449.9 1616.4,2457.2 1619.7,2464.4 1623.2,2471.6 1626.7,2478.8 1630.3,2486.0 1634.0,2493.0 1637.8,2500.1 1641.7,2507.1 1645.6,2514.1 1649.6,2521.0 1653.6,2527.9 1657.8,2534.8 1661.9,2541.6 1666.2,2548.4 1670.5,2555.1 1674.9,2561.8 1679.3,2568.4 1683.9,2575.0 1688.5,2581.6 1693.1,2588.1 1697.9,2594.5 1702.7,2600.9 1707.6,2607.2 1712.6,2613.5 1717.6,2619.7 1722.8,2625.8 1728.0,2631.9 1733.3,2637.9 1738.7,2643.8 1744.1,2649.7 1749.7,2655.4 1755.3,2661.1 1761.0,2666.7 1766.8,2672.2 1772.7,2677.6 1778.7,2682.9 1784.8,2688.2 1790.9,2693.3 1797.1,2698.3 1803.4,2703.2 1809.8,2708.0 1816.3,2712.7 1822.9,2717.3 1829.5,2721.7 1836.2,2726.1 1843.0,2730.3 1849.9,2734.4 1856.9,2738.4 1863.9,2742.2 1870.9,2746.0 1878.1,2749.6 1885.3,2753.1 1892.5,2756.4 1899.8,2759.7 1907.2,2762.8 1914.6,2765.9 1922.1,2768.8 1929.5,2771.6 1937.1,2774.3 1944.6,2776.9 1952.2,2779.5 1959.8,2781.9 1967.5,2784.2 1975.2,2786.5 1982.9,2788.6 1990.6,2790.7 1998.3,2792.7 2006.1,2794.7 2013.9,2796.5 2021.7,2798.3 2029.5,2800.0 2037.3,2801.7 2045.2,2803.3 2053.0,2804.8 2060.9,2806.3 2068.7,2807.8 2076.6,2809.2 2084.5,2810.5 2092.4,2811.8 2100.3,2813.0 2108.2,2814.3 2116.1,2815.4 2124.0,2816.6 2128.0,2817.1" stroke="#DA9A00"/>
<path d="M396.3,2816.5 398.3,2816.2 406.2,2815.0 414.1,2813.8 422.0,2812.6 429.9,2811.3 437.8,2810.0 445.7,2808.6 453.6,2807.2 461.4,2805.8 469.3,2804.3 477.1,2802.7 485.0,2801.1 492.8,2799.5 500.6,2797.8 508.4,2796.0 516.2,2794.2 524.0,2792.3 531.7,2790.3 539.5,2788.2 547.2,2786.1 554.9,2783.9 562.5,2781.6 570.2,2779.2 577.8,2776.7 585.3,2774.2 592.9,2771.5 600.4,2768.7 607.9,2765.8 615.3,2762.8 622.7,2759.8 630.0,2756.5 637.3,2753.2 644.5,2749.8 651.6,2746.2 658.7,2742.5 665.8,2738.7 672.7,2734.8 679.6,2730.7 686.5,2726.5 693.2,2722.2 699.9,2717.8 706.4,2713.2 712.9,2708.6 719.3,2703.8 725.7,2698.9 731.9,2693.9 738.1,2688.8 744.1,2683.6 750.1,2678.3 756.0,2672.9 761.8,2667.4 767.6,2661.8 773.2,2656.1 778.8,2650.4 784.2,2644.5 789.6,2638.6 795.0,2632.6 800.2,2626.6 805.3,2620.5 810.4,2614.3 815.4,2608.0 820.3,2601.7 825.2,2595.3 829.9,2588.9 834.6,2582.4 839.2,2575.9 843.8,2569.3 848.2,2562.7 852.7,2556.0 857.0,2549.3 861.3,2542.5 865.5,2535.7 869.6,2528.9 873.7,2522.0 877.7,2515.1 881.7,2508.1 885.6,2501.1 889.4,2494.1 893.1,2487.0 896.8,2479.9 900.4,2472.8 903.9,2465.6 907.3,2458.3 910.6,2451.1 913.9,2443.8 917.1,2436.4 920.2,2429.1 923.2,2421.6 926.1,2414.2 929.0,2406.7 931.7,2399.2 934.4,2391.7 937.1,2384.1 939.6,2376.6 942.1,2369.0 944.6,2361.3 946.9,2353.7 949.2,2346.0 951.5,2338.4 953.7,2330.7 955.8,2323.0 957.9,2315.2 959.9,2307.5 961.9,2299.7 963.8,2292.0 965.7,2284.2 967.6,2276.4 969.4,2268.6 971.2,2260.8 972.9,2253.0 974.6,2245.2 976.3,2237.4 977.9,2229.5 979.5,2221.7 981.0,2213.9 982.6,2206.0 984.1,2198.1 985.6,2190.3 987.0,2182.4 988.5,2174.5 989.9,2166.7 991.3,2158.8 992.7,2150.9 994.0,2143.0 995.4,2135.1 996.7,2127.3 998.0,2119.4 999.3,2111.5 1000.6,2103.6 1001.9,2095.7 1003.2,2087.8 1004.5,2079.9 1005.7,2072.0 1007.0,2064.1 1008.2,2056.2 1009.5,2048.3 1010.7,2040.4 1011.9,2032.5 1013.2,2024.6 1014.4,2016.7 1015.6,2008.8 1016.8,2000.8 1018.1,1992.9 1019.3,1985.0 1020.5,1977.1 1021.7,1969.2 1023.0,1961.3 1024.2,1953.4 1025.4,1945.5 1026.6,1937.6 1027.9,1929.7 1029.1,1921.8 1030.4,1913.9 1031.7,1906.0 1032.9,1898.1 1034.2,1890.2 1035.5,1882.3 1036.8,1874.4 1038.2,1866.5 1039.5,1858.6 1040.9,1850.8 1042.3,1842.9 1043.7,1835.0 1045.2,1827.1 1046.7,1819.3 1048.2,1811.4 1049.7,1803.6 1051.3,1795.7 1053.0,1787.9 1054.7,1780.1 1056.4,1772.3 1058.2,1764.5 1060.1,1756.7 1062.0,1748.9 1064.0,1741.2 1066.1,1733.5 1068.3,1725.8 1070.7,1718.1 1073.1,1710.5 1075.7,1702.9 1078.4,1695.4 1081.3,1688.0 1084.5,1680.6 1087.9,1673.4 1091.6,1666.3 1095.6,1659.4 1100.0,1652.7 1104.7,1646.3 1109.8,1640.1 1115.4,1634.4 1121.6,1629.3 1128.5,1625.3 1136.1,1623.0 1144.0,1623.1 1151.5,1625.7 1158.1,1630.1 1163.9,1635.6 1168.9,1641.8 1173.4,1648.4 1177.4,1655.3 1181.2,1662.4 1184.6,1669.6 1187.9,1676.9 1190.9,1684.3 1193.8,1691.8 1196.6,1699.3 1199.2,1706.9 1201.7,1714.5 1204.1,1722.1 1206.4,1729.7 1208.6,1737.4 1210.6,1745.2 1212.6,1752.9 1214.3,1760.7 1216.0,1768.6 1217.6,1776.4 1219.0,1784.3 1220.4,1792.2 1221.7,1800.1 1222.9,1808.0 1224.0,1815.9 1225.1,1823.8 1226.1,1831.7 1227.1,1839.7 1228.0,1847.6 1228.9,1855.6 1229.7,1863.5 1230.5,1871.5 1231.3,1879.5 1232.0,1887.4 1232.7,1895.4 1233.3,1903.4 1234.0,1911.4 1234.6,1919.3 1235.2,1927.3 1235.8,1935.3 1236.3,1943.3 1236.8,1951.3 1237.4,1959.2 1237.9,1967.2 1238.4,1975.2 1238.9,1983.2 1239.3,1991.2 1239.8,1999.2 1240.3,2007.2 1240.7,2015.1 1241.1,2023.1 1241.6,2031.1 1242.0,2039.1 1242.4,2047.1 1242.8,2055.1 1243.2,2063.1 1243.6,2071.1 1244.0,2079.1 1244.4,2087.0 1244.8,2095.0 1245.1,2103.0 1245.5,2111.0 1245.9,2119.0 1246.2,2127.0 1246.6,2135.0 1246.9,2143.0 1247.3,2151.0 1247.6,2159.0 1247.9,2167.0 1248.3,2175.0 1248.6,2183.0 1248.9,2191.0 1249.3,2198.9 1249.6,2206.9 1249.9,2214.9 1250.3,2222.9 1250.6,2230.9 1251.0,2238.9 1251.3,2246.9 1251.7,2254.9 1252.0,2262.9 1252.3,2270.9 1252.7,2278.9 1253.0,2286.9 1253.4,2294.9 1253.8,2302.9 1254.1,2310.8 1254.5,2318.8 1254.8,2326.8 1255.2,2334.8 1255.5,2342.8 1255.9,2350.8 1256.3,2358.8 1256.6,2366.8 1257.0,2374.8 1257.3,2382.8 1257.7,2390.8 1258.1,2398.8 1258.5,2406.7 1258.8,2414.7 1259.2,2422.7 1259.6,2430.7 1260.0,2438.7 1260.3,2446.7 1260.7,2454.7 1261.1,2462.7 1261.5,2470.7 1261.8,2478.7 1262.2,2486.7 1262.5,2478.7 1262.8,2470.7 1263.2,2462.7 1263.6,2454.7 1264.0,2446.7 1264.3,2438.7 1264.7,2430.7 1265.1,2422.7 1265.5,2414.7 1265.8,2406.7 1266.2,2398.8 1266.6,2390.8 1267.0,2382.8 1267.3,2374.8 1267.7,2366.8 1268.0,2358.8 1268.4,2350.8 1268.8,2342.8 1269.1,2334.8 1269.5,2326.8 1269.8,2318.8 1270.2,2310.8 1270.5,2302.9 1270.9,2294.9 1271.3,2286.9 1271.6,2278.9 1272.0,2270.9 1272.3,2262.9 1272.6,2254.9 1273.0,2246.9 1273.3,2238.9 1273.7,2230.9 1274.0,2222.9 1274.4,2214.9 1274.7,2206.9 1275.0,2198.9 1275.4,2191.0 1275.7,2183.0 1276.0,2175.0 1276.4,2167.0 1276.7,2159.0 1277.0,2151.0 1277.4,2143.0 1277.7,2135.0 1278.1,2127.0 1278.4,2119.0 1278.8,2111.0 1279.2,2103.0 1279.5,2095.0 1279.9,2087.0 1280.3,2079.1 1280.7,2071.1 1281.1,2063.1 1281.5,2055.1 1281.9,2047.1 1282.3,2039.1 1282.7,2031.1 1283.2,2023.1 1283.6,2015.1 1284.0,2007.2 1284.5,1999.2 1285.0,1991.2 1285.4,1983.2 1285.9,1975.2 1286.4,1967.2 1286.9,1959.2 1287.5,1951.3 1288.0,1943.3 1288.5,1935.3 1289.1,1927.3 1289.7,1919.3 1290.3,1911.4 1291.0,1903.4 1291.6,1895.4 1292.3,1887.4 1293.0,1879.5 1293.8,1871.5 1294.6,1863.5 1295.4,1855.6 1296.3,1847.6 1297.2,1839.7 1298.2,1831.7 1299.2,1823.8 1300.3,1815.9 1301.4,1808.0 1302.6,1800.1 1303.9,1792.2 1305.3,1784.3 1306.7,1776.4 1308.3,1768.6 1310.0,1760.7 1311.7,1752.9 1313.7,1745.2 1315.7,1737.4 1317.9,1729.7 1320.2,1722.1 1322.6,1714.5 1325.1,1706.9 1327.7,1699.3 1330.5,1691.8 1333.4,1684.3 1336.4,1676.9 1339.7,1669.6 1343.1,1662.4 1346.9,1655.3 1350.9,1648.4 1355.4,1641.8 1360.4,1635.6 1366.2,1630.1 1372.8,1625.7 1380.3,1623.1 1388.2,1623.0 1395.8,1625.3 1402.7,1629.3 1408.9,1634.4 1414.5,1640.1 1419.6,1646.3 1424.3,1652.7 1428.7,1659.4 1432.7,1666.3 1436.4,1673.4 1439.8,1680.6 1443.0,1688.0 1445.9,1695.4 1448.6,1702.9 1451.2,1710.5 1453.6,1718.1 1456.0,1725.8 1458.2,1733.5 1460.3,1741.2 1462.3,1748.9 1464.2,1756.7 1466.1,1764.5 1467.9,1772.3 1469.6,1780.1 1471.3,1787.9 1473.0,1795.7 1474.6,1803.6 1476.1,1811.4 1477.6,1819.3 1479.1,1827.1 1480.6,1835.0 1482.0,1842.9 1483.4,1850.8 1484.8,1858.6 1486.1,1866.5 1487.5,1874.4 1488.8,1882.3 1490.1,1890.2 1491.4,1898.1 1492.6,1906.0 1493.9,1913.9 1495.2,1921.8 1496.4,1929.7 1497.7,1937.6 1498.9,1945.5 1500.1,1953.4 1501.3,1961.3 1502.6,1969.2 1503.8,1977.1 1505.0,1985.0 1506.2,1992.9 1507.5,2000.8 1508.7,2008.8 1509.9,2016.7 1511.1,2024.6 1512.4,2032.5 1513.6,2040.4 1514.8,2048.3 1516.1,2056.2 1517.3,2064.1 1518.6,2072.0 1519.8,2079.9 1521.1,2087.8 1522.4,2095.7 1523.7,2103.6 1525.0,2111.5 1526.3,2119.4 1527.6,2127.3 1528.9,2135.1 1530.3,2143.0 1531.6,2150.9 1533.0,2158.8 1534.4,2166.7 1535.8,2174.5 1537.3,2182.4 1538.7,2190.3 1540.2,2198.1 1541.7,2206.0 1543.3,2213.9 1544.8,2221.7 1546.4,2229.5 1548.0,2237.4 1549.7,2245.2 1551.4,2253.0 1553.1,2260.8 1554.9,2268.6 1556.7,2276.4 1558.6,2284.2 1560.5,2292.0 1562.4,2299.7 1564.4,2307.5 1566.4,2315.2 1568.5,2323.0 1570.6,2330.7 1572.8,2338.4 1575.1,2346.0 1577.4,2353.7 1579.7,2361.3 1582.2,2369.0 1584.7,2376.6 1587.2,2384.1 1589.9,2391.7 1592.6,2399.2 1595.3,2406.7 1598.2,2414.2 1601.1,2421.6 1604.1,2429.1 1607.2,2436.4 1610.4,2443.8 1613.7,2451.1 1617.0,2458.3 1620.4,2465.6 1623.9,2472.8 1627.5,2479.9 1631.2,2487.0 1634.9,2494.1 1638.7,2501.1 1642.6,2508.1 1646.6,2515.1 1650.6,2522.0 1654.7,2528.9 1658.8,2535.7 1663.0,2542.5 1667.3,2549.3 1671.6,2556.0 1676.1,2562.7 1680.5,2569.3 1685.1,2575.9 1689.7,2582.4 1694.4,2588.9 1699.1,2595.3 1704.0,2601.7 1708.9,2608.0 1713.9,2614.3 1719.0,2620.5 1724.1,2626.6 1729.3,2632.6 1734.7,2638.6 1740.1,2644.5 1745.5,2650.4 1751.1,2656.1 1756.7,2661.8 1762.5,2667.4 1768.3,2672.9 1774.2,2678.3 1780.2,2683.6 1786.2,2688.8 1792.4,2693.9 1798.6,2698.9 1805.0,2703.8 1811.4,2708.6 1817.9,2713.2 1824.4,2717.8 1831.1,2722.2 1837.8,2726.5 1844.7,2730.7 1851.6,2734.8 1858.5,2738.7 1865.6,2742.5 1872.7,2746.2 1879.8,2749.8 1887.0,2753.2 1894.3,2756.5 1901.6,2759.8 1909.0,2762.8 1916.4,2765.8 1923.9,2768.7 1931.4,2771.5 1939.0,2774.2 1946.5,2776.7 1954.1,2779.2 1961.8,2781.6 1969.4,2783.9 1977.1,2786.1 1984.8,2788.2 1992.6,2790.3 2000.3,2792.3 2008.1,2794.2 2015.9,2796.0 2023.7,2797.8 2031.5,2799.5 2039.3,2801.1 2047.2,2802.7 2055.0,2804.3 2062.9,2805.8 2070.7,2807.2 2078.6,2808.6 2086.5,2810.0 2094.4,2811.3 2102.3,2812.6 2110.2,2813.8 2118.1,2815.0 2126.0,2816.2 2128.0,2816.5" stroke="#00CACD"/>
<path d="M396.3,2815.8 396.3,2815.8 404.2,2814.6 412.1,2813.4 420.0,2812.1 427.9,2810.8 435.8,2809.4 443.7,2808.1 451.5,2806.6 459.4,2805.2 467.3,2803.7 475.1,2802.2 483.0,2800.6 490.8,2798.9 498.6,2797.2 506.4,2795.5 514.2,2793.7 522.0,2791.8 529.7,2789.8 537.5,2787.8 545.2,2785.7 552.9,2783.5 560.6,2781.3 568.2,2778.9 575.9,2776.5 583.4,2774.0 591.0,2771.3 598.5,2768.6 606.0,2765.8 613.5,2762.9 620.9,2759.8 628.2,2756.7 635.5,2753.4 642.7,2750.0 649.9,2746.5 657.1,2742.8 664.1,2739.1 671.1,2735.2 678.0,2731.1 684.9,2727.0 691.6,2722.7 698.3,2718.3 704.9,2713.8 711.4,2709.1 717.8,2704.4 724.2,2699.5 730.4,2694.5 736.6,2689.4 742.7,2684.2 748.7,2678.9 754.6,2673.5 760.4,2668.1 766.2,2662.5 771.8,2656.8 777.4,2651.1 782.9,2645.3 788.3,2639.4 793.6,2633.4 798.9,2627.3 804.0,2621.2 809.1,2615.1 814.1,2608.8 819.0,2602.5 823.9,2596.2 828.7,2589.7 833.4,2583.3 838.0,2576.8 842.6,2570.2 847.1,2563.6 851.5,2556.9 855.9,2550.2 860.2,2543.5 864.4,2536.7 868.6,2529.8 872.7,2523.0 876.7,2516.1 880.7,2509.1 884.7,2502.2 888.5,2495.2 892.3,2488.1 896.0,2481.0 899.6,2473.9 903.2,2466.7 906.6,2459.5 910.0,2452.3 913.3,2445.0 916.6,2437.6 919.7,2430.3 922.8,2422.9 925.8,2415.5 928.7,2408.0 931.5,2400.6 934.3,2393.0 937.0,2385.5 939.6,2377.9 942.1,2370.4 944.6,2362.7 947.0,2355.1 949.3,2347.5 951.6,2339.8 953.8,2332.1 956.0,2324.4 958.1,2316.7 960.2,2309.0 962.2,2301.2 964.1,2293.5 966.0,2285.7 967.9,2277.9 969.7,2270.1 971.5,2262.3 973.2,2254.5 974.9,2246.7 976.6,2238.9 978.2,2231.0 979.8,2223.2 981.4,2215.3 982.9,2207.5 984.4,2199.6 985.9,2191.8 987.4,2183.9 988.8,2176.0 990.2,2168.2 991.6,2160.3 993.0,2152.4 994.3,2144.5 995.7,2136.6 997.0,2128.7 998.3,2120.8 999.6,2112.9 1000.9,2105.1 1002.2,2097.2 1003.5,2089.3 1004.7,2081.4 1006.0,2073.5 1007.2,2065.6 1008.5,2057.7 1009.7,2049.7 1011.0,2041.8 1012.2,2033.9 1013.4,2026.0 1014.7,2018.1 1015.9,2010.2 1017.1,2002.3 1018.3,1994.4 1019.5,1986.5 1020.8,1978.6 1022.0,1970.7 1023.2,1962.8 1024.4,1954.9 1025.7,1947.0 1026.9,1939.1 1028.1,1931.2 1029.4,1923.3 1030.7,1915.4 1031.9,1907.5 1033.2,1899.6 1034.5,1891.7 1035.8,1883.8 1037.1,1875.9 1038.5,1868.0 1039.8,1860.1 1041.2,1852.2 1042.6,1844.4 1044.1,1836.5 1045.5,1828.6 1047.0,1820.8 1048.6,1812.9 1050.2,1805.1 1051.8,1797.2 1053.4,1789.4 1055.1,1781.6 1056.9,1773.8 1058.7,1766.0 1060.6,1758.2 1062.6,1750.5 1064.6,1742.7 1066.8,1735.0 1069.0,1727.3 1071.4,1719.7 1073.8,1712.1 1076.4,1704.5 1079.2,1697.0 1082.2,1689.6 1085.4,1682.3 1088.9,1675.0 1092.6,1668.0 1096.7,1661.1 1101.2,1654.5 1106.0,1648.1 1111.3,1642.1 1117.1,1636.6 1123.5,1631.9 1130.7,1628.4 1138.5,1627.1 1146.3,1628.2 1153.4,1631.7 1159.6,1636.7 1165.0,1642.6 1169.8,1649.0 1174.0,1655.8 1177.9,1662.8 1181.5,1669.9 1184.8,1677.2 1188.0,1684.6 1190.9,1692.0 1193.8,1699.5 1196.5,1707.0 1199.1,1714.6 1201.6,1722.2 1204.0,1729.8 1206.3,1737.5 1208.4,1745.2 1210.5,1752.9 1212.4,1760.7 1214.2,1768.5 1215.9,1776.3 1217.4,1784.1 1218.9,1792.0 1220.2,1799.9 1221.5,1807.8 1222.7,1815.7 1223.9,1823.6 1224.9,1831.6 1225.9,1839.5 1226.9,1847.4 1227.8,1855.4 1228.6,1863.3 1229.4,1871.3 1230.2,1879.3 1231.0,1887.2 1231.7,1895.2 1232.4,1903.2 1233.0,1911.1 1233.6,1919.1 1234.2,1927.1 1234.8,1935.1 1235.4,1943.1 1235.9,1951.0 1236.4,1959.0 1237.0,1967.0 1237.4,1975.0 1237.9,1983.0 1238.4,1991.0 1238.9,1999.0 1239.3,2006.9 1239.8,2014.9 1240.2,2022.9 1240.6,2030.9 1241.0,2038.9 1241.4,2046.9 1241.9,2054.9 1242.3,2062.9 1242.6,2070.9 1243.0,2078.9 1243.4,2086.8 1243.8,2094.8 1244.2,2102.8 1244.5,2110.8 1244.9,2118.8 1245.2,2126.8 1245.6,2134.8 1246.0,2142.8 1246.3,2150.8 1246.6,2158.8 1247.0,2166.8 1247.3,2174.8 1247.6,2182.8 1248.0,2190.8 1248.3,2198.7 1248.6,2206.7 1249.0,2214.7 1249.3,2222.7 1249.6,2230.7 1250.0,2238.7 1250.3,2246.7 1250.7,2254.7 1251.0,2262.7 1251.4,2270.7 1251.7,2278.7 1252.1,2286.7 1252.4,2294.7 1252.8,2302.7 1253.1,2310.7 1253.5,2318.6 1253.8,2326.6 1254.2,2334.6 1254.6,2342.6 1254.9,2350.6 1255.3,2358.6 1255.7,2366.6 1256.0,2374.6 1256.4,2382.6 1256.8,2390.6 1257.2,2398.6 1257.6,2406.6 1258.0,2414.5 1258.4,2422.5 1258.8,2430.5 1259.2,2438.5 1259.6,2446.5 1260.0,2454.5 1260.4,2462.5 1260.8,2470.5 1261.3,2478.5 1261.7,2486.5 1262.2,2494.4 1262.6,2486.5 1263.0,2478.5 1263.5,2470.5 1263.9,2462.5 1264.3,2454.5 1264.7,2446.5 1265.1,2438.5 1265.5,2430.5 1265.9,2422.5 1266.3,2414.5 1266.7,2406.6 1267.1,2398.6 1267.5,2390.6 1267.9,2382.6 1268.3,2374.6 1268.6,2366.6 1269.0,2358.6 1269.4,2350.6 1269.7,2342.6 1270.1,2334.6 1270.5,2326.6 1270.8,2318.6 1271.2,2310.7 1271.5,2302.7 1271.9,2294.7 1272.2,2286.7 1272.6,2278.7 1272.9,2270.7 1273.3,2262.7 1273.6,2254.7 1274.0,2246.7 1274.3,2238.7 1274.7,2230.7 1275.0,2222.7 1275.3,2214.7 1275.7,2206.7 1276.0,2198.7 1276.3,2190.8 1276.7,2182.8 1277.0,2174.8 1277.3,2166.8 1277.7,2158.8 1278.0,2150.8 1278.3,2142.8 1278.7,2134.8 1279.1,2126.8 1279.4,2118.8 1279.8,2110.8 1280.1,2102.8 1280.5,2094.8 1280.9,2086.8 1281.3,2078.9 1281.7,2070.9 1282.0,2062.9 1282.4,2054.9 1282.9,2046.9 1283.3,2038.9 1283.7,2030.9 1284.1,2022.9 1284.5,2014.9 1285.0,2006.9 1285.4,1999.0 1285.9,1991.0 1286.4,1983.0 1286.9,1975.0 1287.3,1967.0 1287.9,1959.0 1288.4,1951.0 1288.9,1943.1 1289.5,1935.1 1290.1,1927.1 1290.7,1919.1 1291.3,1911.1 1291.9,1903.2 1292.6,1895.2 1293.3,1887.2 1294.1,1879.3 1294.9,1871.3 1295.7,1863.3 1296.5,1855.4 1297.4,1847.4 1298.4,1839.5 1299.4,1831.6 1300.4,1823.6 1301.6,1815.7 1302.8,1807.8 1304.1,1799.9 1305.4,1792.0 1306.9,1784.1 1308.4,1776.3 1310.1,1768.5 1311.9,1760.7 1313.8,1752.9 1315.9,1745.2 1318.0,1737.5 1320.3,1729.8 1322.7,1722.2 1325.2,1714.6 1327.8,1707.0 1330.5,1699.5 1333.4,1692.0 1336.3,1684.6 1339.5,1677.2 1342.8,1669.9 1346.4,1662.8 1350.3,1655.8 1354.5,1649.0 1359.3,1642.6 1364.7,1636.7 1370.9,1631.7 1378.0,1628.2 1385.8,1627.1 1393.6,1628.4 1400.8,1631.9 1407.2,1636.6 1413.0,1642.1 1418.3,1648.1 1423.1,1654.5 1427.6,1661.1 1431.7,1668.0 1435.4,1675.0 1438.9,1682.3 1442.1,1689.6 1445.1,1697.0 1447.9,1704.5 1450.5,1712.1 1452.9,1719.7 1455.3,1727.3 1457.5,1735.0 1459.7,1742.7 1461.7,1750.5 1463.7,1758.2 1465.6,1766.0 1467.4,1773.8 1469.2,1781.6 1470.9,1789.4 1472.5,1797.2 1474.1,1805.1 1475.7,1812.9 1477.3,1820.8 1478.8,1828.6 1480.2,1836.5 1481.7,1844.4 1483.1,1852.2 1484.5,1860.1 1485.8,1868.0 1487.2,1875.9 1488.5,1883.8 1489.8,1891.7 1491.1,1899.6 1492.4,1907.5 1493.6,1915.4 1494.9,1923.3 1496.2,1931.2 1497.4,1939.1 1498.6,1947.0 1499.9,1954.9 1501.1,1962.8 1502.3,1970.7 1503.5,1978.6 1504.8,1986.5 1506.0,1994.4 1507.2,2002.3 1508.4,2010.2 1509.6,2018.1 1510.9,2026.0 1512.1,2033.9 1513.3,2041.8 1514.6,2049.7 1515.8,2057.7 1517.1,2065.6 1518.3,2073.5 1519.6,2081.4 1520.8,2089.3 1522.1,2097.2 1523.4,2105.1 1524.7,2112.9 1526.0,2120.8 1527.3,2128.7 1528.6,2136.6 1530.0,2144.5 1531.3,2152.4 1532.7,2160.3 1534.1,2168.2 1535.5,2176.0 1536.9,2183.9 1538.4,2191.8 1539.9,2199.6 1541.4,2207.5 1542.9,2215.3 1544.5,2223.2 1546.1,2231.0 1547.7,2238.9 1549.4,2246.7 1551.1,2254.5 1552.8,2262.3 1554.6,2270.1 1556.4,2277.9 1558.3,2285.7 1560.2,2293.5 1562.1,2301.2 1564.1,2309.0 1566.2,2316.7 1568.3,2324.4 1570.5,2332.1 1572.7,2339.8 1575.0,2347.5 1577.3,2355.1 1579.7,2362.7 1582.2,2370.4 1584.7,2377.9 1587.3,2385.5 1590.0,2393.0 1592.8,2400.6 1595.6,2408.0 1598.5,2415.5 1601.5,2422.9 1604.6,2430.3 1607.7,2437.6 1611.0,2445.0 1614.3,2452.3 1617.7,2459.5 1621.1,2466.7 1624.7,2473.9 1628.3,2481.0 1632.0,2488.1 1635.8,2495.2 1639.6,2502.2 1643.6,2509.1 1647.6,2516.1 1651.6,2523.0 1655.7,2529.8 1659.9,2536.7 1664.1,2543.5 1668.4,2550.2 1672.8,2556.9 1677.2,2563.6 1681.7,2570.2 1686.3,2576.8 1690.9,2583.3 1695.6,2589.7 1700.4,2596.2 1705.3,2602.5 1710.2,2608.8 1715.2,2615.1 1720.3,2621.2 1725.4,2627.3 1730.7,2633.4 1736.0,2639.4 1741.4,2645.3 1746.9,2651.1 1752.5,2656.8 1758.1,2662.5 1763.9,2668.1 1769.7,2673.5 1775.6,2678.9 1781.6,2684.2 1787.7,2689.4 1793.9,2694.5 1800.1,2699.5 1806.5,2704.4 1812.9,2709.1 1819.4,2713.8 1826.0,2718.3 1832.7,2722.7 1839.4,2727.0 1846.3,2731.1 1853.2,2735.2 1860.2,2739.1 1867.2,2742.8 1874.4,2746.5 1881.6,2750.0 1888.8,2753.4 1896.1,2756.7 1903.4,2759.8 1910.8,2762.9 1918.3,2765.8 1925.8,2768.6 1933.3,2771.3 1940.9,2774.0 1948.4,2776.5 1956.1,2778.9 1963.7,2781.3 1971.4,2783.5 1979.1,2785.7 1986.8,2787.8 1994.6,2789.8 2002.3,2791.8 2010.1,2793.7 2017.9,2795.5 2025.7,2797.2 2033.5,2798.9 2041.3,2800.6 2049.2,2802.2 2057.0,2803.7 2064.9,2805.2 2072.8,2806.6 2080.6,2808.1 2088.5,2809.4 2096.4,2810.8 2104.3,2812.1 2112.2,2813.4 2120.1,2814.6 2128.0,2815.8 2128.0,2815.8" stroke="#864C4C"/>
<path d="M396.3,2815.2 402.2,2814.2 410.1,2812.9 418.0,2811.6 425.9,2810.3 433.8,2808.9 441.7,2807.5 449.5,2806.1 457.4,2804.6 465.3,2803.1 473.1,2801.6 481.0,2800.0 488.8,2798.4 496.6,2796.7 504.4,2794.9 512.2,2793.1 520.0,2791.3 527.8,2789.4 535.5,2787.4 543.2,2785.3 551.0,2783.2 558.6,2780.9 566.3,2778.6 573.9,2776.2 581.6,2773.8 589.1,2771.2 596.7,2768.5 604.2,2765.7 611.6,2762.8 619.0,2759.8 626.4,2756.7 633.7,2753.5 641.0,2750.2 648.2,2746.7 655.4,2743.1 662.4,2739.4 669.5,2735.5 676.4,2731.5 683.3,2727.4 690.0,2723.2 696.7,2718.8 703.4,2714.3 709.9,2709.7 716.3,2704.9 722.7,2700.1 729.0,2695.1 735.1,2690.0 741.2,2684.8 747.3,2679.6 753.2,2674.2 759.0,2668.7 764.8,2663.2 770.4,2657.5 776.0,2651.8 781.5,2646.0 786.9,2640.1 792.3,2634.1 797.5,2628.1 802.7,2622.0 807.8,2615.8 812.8,2609.6 817.8,2603.3 822.6,2597.0 827.4,2590.5 832.2,2584.1 836.8,2577.6 841.4,2571.0 845.9,2564.4 850.4,2557.8 854.8,2551.1 859.1,2544.4 863.4,2537.6 867.6,2530.8 871.7,2523.9 875.8,2517.0 879.8,2510.1 883.7,2503.2 887.6,2496.2 891.4,2489.1 895.2,2482.1 898.9,2475.0 902.4,2467.8 906.0,2460.6 909.4,2453.4 912.8,2446.1 916.1,2438.8 919.3,2431.5 922.4,2424.1 925.4,2416.7 928.4,2409.3 931.3,2401.9 934.1,2394.4 936.8,2386.8 939.5,2379.3 942.1,2371.7 944.6,2364.1 947.1,2356.5 949.4,2348.9 951.8,2341.2 954.0,2333.5 956.2,2325.8 958.3,2318.1 960.4,2310.4 962.5,2302.7 964.4,2294.9 966.3,2287.1 968.2,2279.4 970.1,2271.6 971.8,2263.8 973.6,2256.0 975.3,2248.2 977.0,2240.3 978.6,2232.5 980.2,2224.7 981.7,2216.8 983.3,2209.0 984.8,2201.1 986.2,2193.2 987.7,2185.4 989.1,2177.5 990.5,2169.6 991.9,2161.7 993.3,2153.8 994.6,2146.0 996.0,2138.1 997.3,2130.2 998.6,2122.3 999.9,2114.4 1001.2,2106.5 1002.5,2098.6 1003.8,2090.7 1005.0,2082.8 1006.3,2074.9 1007.5,2067.0 1008.8,2059.1 1010.0,2051.2 1011.2,2043.3 1012.5,2035.4 1013.7,2027.5 1014.9,2019.6 1016.1,2011.6 1017.4,2003.7 1018.6,1995.8 1019.8,1987.9 1021.0,1980.0 1022.2,1972.1 1023.5,1964.2 1024.7,1956.3 1025.9,1948.4 1027.2,1940.5 1028.4,1932.6 1029.7,1924.7 1030.9,1916.8 1032.2,1908.9 1033.5,1901.0 1034.8,1893.1 1036.1,1885.2 1037.4,1877.3 1038.8,1869.4 1040.1,1861.5 1041.5,1853.7 1043.0,1845.8 1044.4,1837.9 1045.9,1830.1 1047.4,1822.2 1049.0,1814.4 1050.6,1806.5 1052.2,1798.7 1053.9,1790.9 1055.7,1783.0 1057.4,1775.2 1059.3,1767.5 1061.2,1759.7 1063.2,1751.9 1065.3,1744.2 1067.4,1736.5 1069.7,1728.8 1072.1,1721.2 1074.6,1713.6 1077.2,1706.1 1080.1,1698.6 1083.1,1691.2 1086.3,1683.9 1089.9,1676.7 1093.7,1669.6 1097.9,1662.8 1102.4,1656.3 1107.4,1650.0 1112.8,1644.1 1118.8,1638.8 1125.5,1634.5 1133.0,1631.8 1140.9,1631.5 1148.5,1633.8 1155.2,1638.0 1161.0,1643.5 1166.1,1649.7 1170.6,1656.3 1174.6,1663.2 1178.3,1670.2 1181.8,1677.5 1185.0,1684.8 1188.1,1692.2 1191.0,1699.6 1193.7,1707.2 1196.4,1714.7 1198.9,1722.3 1201.4,1729.9 1203.8,1737.5 1206.1,1745.2 1208.3,1752.9 1210.3,1760.6 1212.2,1768.4 1214.0,1776.2 1215.7,1784.0 1217.3,1791.9 1218.7,1799.7 1220.1,1807.6 1221.3,1815.5 1222.5,1823.4 1223.7,1831.4 1224.7,1839.3 1225.7,1847.2 1226.6,1855.2 1227.5,1863.1 1228.4,1871.1 1229.2,1879.0 1230.0,1887.0 1230.7,1895.0 1231.4,1902.9 1232.1,1910.9 1232.7,1918.9 1233.3,1926.9 1233.9,1934.8 1234.5,1942.8 1235.0,1950.8 1235.5,1958.8 1236.1,1966.8 1236.6,1974.8 1237.0,1982.8 1237.5,1990.7 1238.0,1998.7 1238.4,2006.7 1238.9,2014.7 1239.3,2022.7 1239.7,2030.7 1240.1,2038.7 1240.6,2046.7 1241.0,2054.7 1241.3,2062.6 1241.7,2070.6 1242.1,2078.6 1242.5,2086.6 1242.9,2094.6 1243.2,2102.6 1243.6,2110.6 1244.0,2118.6 1244.3,2126.6 1244.7,2134.6 1245.0,2142.6 1245.3,2150.6 1245.7,2158.6 1246.0,2166.6 1246.4,2174.6 1246.7,2182.6 1247.0,2190.5 1247.3,2198.5 1247.7,2206.5 1248.0,2214.5 1248.3,2222.5 1248.7,2230.5 1249.0,2238.5 1249.3,2246.5 1249.7,2254.5 1250.0,2262.5 1250.4,2270.5 1250.7,2278.5 1251.1,2286.5 1251.4,2294.5 1251.8,2302.5 1252.1,2310.5 1252.5,2318.5 1252.8,2326.4 1253.2,2334.4 1253.6,2342.4 1253.9,2350.4 1254.3,2358.4 1254.7,2366.4 1255.0,2374.4 1255.4,2382.4 1255.8,2390.4 1256.2,2398.4 1256.6,2406.4 1257.0,2414.4 1257.4,2422.4 1257.8,2430.3 1258.3,2438.3 1258.7,2446.3 1259.1,2454.3 1259.6,2462.3 1260.0,2470.3 1260.5,2478.3 1261.0,2486.3 1261.6,2494.2 1262.2,2502.2 1262.7,2494.2 1263.3,2486.3 1263.8,2478.3 1264.3,2470.3 1264.7,2462.3 1265.2,2454.3 1265.6,2446.3 1266.0,2438.3 1266.5,2430.3 1266.9,2422.4 1267.3,2414.4 1267.7,2406.4 1268.1,2398.4 1268.5,2390.4 1268.9,2382.4 1269.3,2374.4 1269.6,2366.4 1270.0,2358.4 1270.4,2350.4 1270.7,2342.4 1271.1,2334.4 1271.5,2326.4 1271.8,2318.5 1272.2,2310.5 1272.5,2302.5 1272.9,2294.5 1273.2,2286.5 1273.6,2278.5 1273.9,2270.5 1274.3,2262.5 1274.6,2254.5 1275.0,2246.5 1275.3,2238.5 1275.6,2230.5 1276.0,2222.5 1276.3,2214.5 1276.6,2206.5 1277.0,2198.5 1277.3,2190.5 1277.6,2182.6 1277.9,2174.6 1278.3,2166.6 1278.6,2158.6 1279.0,2150.6 1279.3,2142.6 1279.6,2134.6 1280.0,2126.6 1280.3,2118.6 1280.7,2110.6 1281.1,2102.6 1281.4,2094.6 1281.8,2086.6 1282.2,2078.6 1282.6,2070.6 1283.0,2062.6 1283.3,2054.7 1283.7,2046.7 1284.2,2038.7 1284.6,2030.7 1285.0,2022.7 1285.4,2014.7 1285.9,2006.7 1286.3,1998.7 1286.8,1990.7 1287.3,1982.8 1287.7,1974.8 1288.2,1966.8 1288.8,1958.8 1289.3,1950.8 1289.8,1942.8 1290.4,1934.8 1291.0,1926.9 1291.6,1918.9 1292.2,1910.9 1292.9,1902.9 1293.6,1895.0 1294.3,1887.0 1295.1,1879.0 1295.9,1871.1 1296.8,1863.1 1297.7,1855.2 1298.6,1847.2 1299.6,1839.3 1300.6,1831.4 1301.8,1823.4 1303.0,1815.5 1304.2,1807.6 1305.6,1799.7 1307.0,1791.9 1308.6,1784.0 1310.3,1776.2 1312.1,1768.4 1314.0,1760.6 1316.0,1752.9 1318.2,1745.2 1320.5,1737.5 1322.9,1729.9 1325.4,1722.3 1327.9,1714.7 1330.6,1707.2 1333.3,1699.6 1336.2,1692.2 1339.3,1684.8 1342.5,1677.5 1346.0,1670.2 1349.7,1663.2 1353.7,1656.3 1358.2,1649.7 1363.3,1643.5 1369.1,1638.0 1375.8,1633.8 1383.4,1631.5 1391.3,1631.8 1398.8,1634.5 1405.5,1638.8 1411.5,1644.1 1416.9,1650.0 1421.9,1656.3 1426.4,1662.8 1430.6,1669.6 1434.4,1676.7 1438.0,1683.9 1441.2,1691.2 1444.2,1698.6 1447.1,1706.1 1449.7,1713.6 1452.2,1721.2 1454.6,1728.8 1456.9,1736.5 1459.0,1744.2 1461.1,1751.9 1463.1,1759.7 1465.0,1767.5 1466.9,1775.2 1468.6,1783.0 1470.4,1790.9 1472.1,1798.7 1473.7,1806.5 1475.3,1814.4 1476.9,1822.2 1478.4,1830.1 1479.9,1837.9 1481.3,1845.8 1482.8,1853.7 1484.2,1861.5 1485.5,1869.4 1486.9,1877.3 1488.2,1885.2 1489.5,1893.1 1490.8,1901.0 1492.1,1908.9 1493.4,1916.8 1494.6,1924.7 1495.9,1932.6 1497.1,1940.5 1498.4,1948.4 1499.6,1956.3 1500.8,1964.2 1502.1,1972.1 1503.3,1980.0 1504.5,1987.9 1505.7,1995.8 1506.9,2003.7 1508.2,2011.6 1509.4,2019.6 1510.6,2027.5 1511.8,2035.4 1513.1,2043.3 1514.3,2051.2 1515.5,2059.1 1516.8,2067.0 1518.0,2074.9 1519.3,2082.8 1520.5,2090.7 1521.8,2098.6 1523.1,2106.5 1524.4,2114.4 1525.7,2122.3 1527.0,2130.2 1528.3,2138.1 1529.7,2146.0 1531.0,2153.8 1532.4,2161.7 1533.8,2169.6 1535.2,2177.5 1536.6,2185.4 1538.1,2193.2 1539.5,2201.1 1541.0,2209.0 1542.6,2216.8 1544.1,2224.7 1545.7,2232.5 1547.3,2240.3 1549.0,2248.2 1550.7,2256.0 1552.5,2263.8 1554.2,2271.6 1556.1,2279.4 1558.0,2287.1 1559.9,2294.9 1561.8,2302.7 1563.9,2310.4 1566.0,2318.1 1568.1,2325.8 1570.3,2333.5 1572.5,2341.2 1574.9,2348.9 1577.2,2356.5 1579.7,2364.1 1582.2,2371.7 1584.8,2379.3 1587.5,2386.8 1590.2,2394.4 1593.0,2401.9 1595.9,2409.3 1598.9,2416.7 1601.9,2424.1 1605.0,2431.5 1608.2,2438.8 1611.5,2446.1 1614.9,2453.4 1618.3,2460.6 1621.9,2467.8 1625.4,2475.0 1629.1,2482.1 1632.9,2489.1 1636.7,2496.2 1640.6,2503.2 1644.5,2510.1 1648.5,2517.0 1652.6,2523.9 1656.7,2530.8 1660.9,2537.6 1665.2,2544.4 1669.5,2551.1 1673.9,2557.8 1678.4,2564.4 1682.9,2571.0 1687.5,2577.6 1692.1,2584.1 1696.9,2590.5 1701.7,2597.0 1706.5,2603.3 1711.5,2609.6 1716.5,2615.8 1721.6,2622.0 1726.8,2628.1 1732.0,2634.1 1737.4,2640.1 1742.8,2646.0 1748.3,2651.8 1753.9,2657.5 1759.5,2663.2 1765.3,2668.7 1771.1,2674.2 1777.0,2679.6 1783.1,2684.8 1789.2,2690.0 1795.3,2695.1 1801.6,2700.1 1808.0,2704.9 1814.4,2709.7 1820.9,2714.3 1827.6,2718.8 1834.3,2723.2 1841.0,2727.4 1847.9,2731.5 1854.8,2735.5 1861.9,2739.4 1868.9,2743.1 1876.1,2746.7 1883.3,2750.2 1890.6,2753.5 1897.9,2756.7 1905.3,2759.8 1912.7,2762.8 1920.1,2765.7 1927.6,2768.5 1935.2,2771.2 1942.7,2773.8 1950.4,2776.2 1958.0,2778.6 1965.7,2780.9 1973.3,2783.2 1981.1,2785.3 1988.8,2787.4 1996.5,2789.4 2004.3,2791.3 2012.1,2793.1 2019.9,2794.9 2027.7,2796.7 2035.5,2798.4 2043.3,2800.0 2051.2,2801.6 2059.0,2803.1 2066.9,2804.6 2074.8,2806.1 2082.6,2807.5 2090.5,2808.9 2098.4,2810.3 2106.3,2811.6 2114.2,2812.9 2122.1,2814.2 2128.0,2815.2" stroke="#8F8C00"/>
<path d="M396.3,2814.5 400.2,2813.8 408.1,2812.5 416.0,2811.2 423.9,2809.8 431.8,2808.4 439.7,2807.0 447.5,2805.6 455.4,2804.1 463.3,2802.6 471.1,2801.0 479.0,2799.4 486.8,2797.8 494.6,2796.1 502.4,2794.4 510.2,2792.6 518.0,2790.8 525.8,2788.9 533.5,2786.9 541.3,2784.9 549.0,2782.8 556.7,2780.6 564.4,2778.3 572.0,2776.0 579.7,2773.5 587.2,2771.0 594.8,2768.4 602.3,2765.6 609.8,2762.8 617.2,2759.9 624.6,2756.8 632.0,2753.6 639.3,2750.3 646.5,2746.9 653.7,2743.3 660.8,2739.7 667.8,2735.9 674.8,2731.9 681.7,2727.8 688.5,2723.6 695.2,2719.3 701.8,2714.8 708.4,2710.2 714.8,2705.5 721.2,2700.6 727.5,2695.7 733.7,2690.6 739.8,2685.5 745.8,2680.2 751.8,2674.8 757.6,2669.4 763.4,2663.8 769.1,2658.2 774.7,2652.5 780.2,2646.7 785.6,2640.8 790.9,2634.8 796.2,2628.8 801.4,2622.7 806.5,2616.6 811.6,2610.3 816.5,2604.1 821.4,2597.7 826.2,2591.3 831.0,2584.9 835.6,2578.4 840.2,2571.9 844.8,2565.3 849.3,2558.6 853.7,2552.0 858.0,2545.2 862.3,2538.5 866.5,2531.7 870.7,2524.8 874.8,2518.0 878.8,2511.1 882.8,2504.1 886.7,2497.2 890.6,2490.1 894.4,2483.1 898.1,2476.0 901.7,2468.9 905.3,2461.7 908.8,2454.5 912.2,2447.3 915.5,2440.0 918.8,2432.7 922.0,2425.4 925.1,2418.0 928.1,2410.6 931.1,2403.1 933.9,2395.7 936.7,2388.2 939.5,2380.6 942.1,2373.1 944.7,2365.5 947.1,2357.9 949.6,2350.3 951.9,2342.6 954.2,2335.0 956.4,2327.3 958.6,2319.6 960.7,2311.8 962.7,2304.1 964.7,2296.4 966.7,2288.6 968.6,2280.8 970.4,2273.0 972.2,2265.2 973.9,2257.4 975.6,2249.6 977.3,2241.8 978.9,2233.9 980.5,2226.1 982.1,2218.2 983.6,2210.4 985.1,2202.5 986.6,2194.7 988.0,2186.8 989.4,2178.9 990.8,2171.0 992.2,2163.2 993.6,2155.3 995.0,2147.4 996.3,2139.5 997.6,2131.6 998.9,2123.7 1000.2,2115.8 1001.5,2107.9 1002.8,2100.0 1004.0,2092.1 1005.3,2084.2 1006.6,2076.3 1007.8,2068.4 1009.0,2060.5 1010.3,2052.6 1011.5,2044.7 1012.7,2036.8 1014.0,2028.9 1015.2,2021.0 1016.4,2013.0 1017.6,2005.1 1018.8,1997.2 1020.1,1989.3 1021.3,1981.4 1022.5,1973.5 1023.7,1965.6 1025.0,1957.7 1026.2,1949.8 1027.4,1941.9 1028.7,1934.0 1029.9,1926.1 1031.2,1918.2 1032.5,1910.3 1033.8,1902.4 1035.1,1894.5 1036.4,1886.6 1037.7,1878.7 1039.1,1870.8 1040.5,1862.9 1041.9,1855.0 1043.3,1847.2 1044.8,1839.3 1046.3,1831.4 1047.8,1823.6 1049.4,1815.8 1051.0,1807.9 1052.7,1800.1 1054.4,1792.3 1056.2,1784.5 1058.0,1776.7 1059.9,1768.9 1061.8,1761.1 1063.8,1753.4 1065.9,1745.7 1068.1,1738.0 1070.4,1730.3 1072.8,1722.7 1075.4,1715.1 1078.1,1707.5 1080.9,1700.1 1084.0,1692.7 1087.3,1685.4 1090.9,1678.2 1094.8,1671.3 1099.1,1664.5 1103.8,1658.0 1108.9,1651.9 1114.5,1646.2 1120.7,1641.2 1127.7,1637.4 1135.4,1635.6 1143.3,1636.4 1150.5,1639.6 1156.8,1644.5 1162.2,1650.4 1167.0,1656.8 1171.3,1663.6 1175.2,1670.5 1178.7,1677.7 1182.1,1685.0 1185.2,1692.3 1188.2,1699.8 1191.0,1707.3 1193.7,1714.8 1196.3,1722.4 1198.8,1730.0 1201.2,1737.6 1203.6,1745.2 1205.9,1752.9 1208.1,1760.6 1210.1,1768.3 1212.0,1776.1 1213.8,1783.9 1215.5,1791.7 1217.1,1799.6 1218.5,1807.4 1219.9,1815.3 1221.2,1823.2 1222.4,1831.1 1223.5,1839.1 1224.5,1847.0 1225.5,1854.9 1226.4,1862.9 1227.3,1870.8 1228.1,1878.8 1228.9,1886.8 1229.7,1894.7 1230.4,1902.7 1231.1,1910.7 1231.8,1918.6 1232.4,1926.6 1233.0,1934.6 1233.6,1942.6 1234.1,1950.6 1234.7,1958.6 1235.2,1966.5 1235.7,1974.5 1236.2,1982.5 1236.7,1990.5 1237.1,1998.5 1237.6,2006.5 1238.0,2014.5 1238.5,2022.5 1238.9,2030.5 1239.3,2038.4 1239.7,2046.4 1240.1,2054.4 1240.5,2062.4 1240.9,2070.4 1241.3,2078.4 1241.6,2086.4 1242.0,2094.4 1242.4,2102.4 1242.7,2110.4 1243.1,2118.4 1243.4,2126.4 1243.8,2134.4 1244.1,2142.4 1244.4,2150.4 1244.8,2158.4 1245.1,2166.3 1245.4,2174.3 1245.8,2182.3 1246.1,2190.3 1246.4,2198.3 1246.7,2206.3 1247.1,2214.3 1247.4,2222.3 1247.7,2230.3 1248.0,2238.3 1248.4,2246.3 1248.7,2254.3 1249.0,2262.3 1249.4,2270.3 1249.7,2278.3 1250.1,2286.3 1250.4,2294.3 1250.8,2302.3 1251.1,2310.3 1251.5,2318.3 1251.8,2326.3 1252.2,2334.2 1252.5,2342.2 1252.9,2350.2 1253.3,2358.2 1253.6,2366.2 1254.0,2374.2 1254.4,2382.2 1254.8,2390.2 1255.2,2398.2 1255.6,2406.2 1256.0,2414.2 1256.4,2422.2 1256.8,2430.2 1257.2,2438.2 1257.7,2446.1 1258.1,2454.1 1258.6,2462.1 1259.1,2470.1 1259.6,2478.1 1260.1,2486.1 1260.7,2494.1 1261.3,2502.0 1262.2,2510.0 1263.0,2502.0 1263.6,2494.1 1264.2,2486.1 1264.7,2478.1 1265.2,2470.1 1265.7,2462.1 1266.2,2454.1 1266.6,2446.1 1267.1,2438.2 1267.5,2430.2 1267.9,2422.2 1268.3,2414.2 1268.7,2406.2 1269.1,2398.2 1269.5,2390.2 1269.9,2382.2 1270.3,2374.2 1270.7,2366.2 1271.0,2358.2 1271.4,2350.2 1271.8,2342.2 1272.1,2334.2 1272.5,2326.3 1272.8,2318.3 1273.2,2310.3 1273.5,2302.3 1273.9,2294.3 1274.2,2286.3 1274.6,2278.3 1274.9,2270.3 1275.3,2262.3 1275.6,2254.3 1275.9,2246.3 1276.3,2238.3 1276.6,2230.3 1276.9,2222.3 1277.2,2214.3 1277.6,2206.3 1277.9,2198.3 1278.2,2190.3 1278.5,2182.3 1278.9,2174.3 1279.2,2166.3 1279.5,2158.4 1279.9,2150.4 1280.2,2142.4 1280.5,2134.4 1280.9,2126.4 1281.2,2118.4 1281.6,2110.4 1281.9,2102.4 1282.3,2094.4 1282.7,2086.4 1283.0,2078.4 1283.4,2070.4 1283.8,2062.4 1284.2,2054.4 1284.6,2046.4 1285.0,2038.4 1285.4,2030.5 1285.8,2022.5 1286.3,2014.5 1286.7,2006.5 1287.2,1998.5 1287.6,1990.5 1288.1,1982.5 1288.6,1974.5 1289.1,1966.5 1289.6,1958.6 1290.2,1950.6 1290.7,1942.6 1291.3,1934.6 1291.9,1926.6 1292.5,1918.6 1293.2,1910.7 1293.9,1902.7 1294.6,1894.7 1295.4,1886.8 1296.2,1878.8 1297.0,1870.8 1297.9,1862.9 1298.8,1854.9 1299.8,1847.0 1300.8,1839.1 1301.9,1831.1 1303.1,1823.2 1304.4,1815.3 1305.8,1807.4 1307.2,1799.6 1308.8,1791.7 1310.5,1783.9 1312.3,1776.1 1314.2,1768.3 1316.2,1760.6 1318.4,1752.9 1320.7,1745.2 1323.1,1737.6 1325.5,1730.0 1328.0,1722.4 1330.6,1714.8 1333.3,1707.3 1336.1,1699.8 1339.1,1692.3 1342.2,1685.0 1345.6,1677.7 1349.1,1670.5 1353.0,1663.6 1357.3,1656.8 1362.1,1650.4 1367.5,1644.5 1373.8,1639.6 1381.0,1636.4 1388.9,1635.6 1396.6,1637.4 1403.6,1641.2 1409.8,1646.2 1415.4,1651.9 1420.5,1658.0 1425.2,1664.5 1429.5,1671.3 1433.4,1678.2 1437.0,1685.4 1440.3,1692.7 1443.4,1700.1 1446.2,1707.5 1448.9,1715.1 1451.5,1722.7 1453.9,1730.3 1456.2,1738.0 1458.4,1745.7 1460.5,1753.4 1462.5,1761.1 1464.4,1768.9 1466.3,1776.7 1468.1,1784.5 1469.9,1792.3 1471.6,1800.1 1473.3,1807.9 1474.9,1815.8 1476.5,1823.6 1478.0,1831.4 1479.5,1839.3 1481.0,1847.2 1482.4,1855.0 1483.8,1862.9 1485.2,1870.8 1486.6,1878.7 1487.9,1886.6 1489.2,1894.5 1490.5,1902.4 1491.8,1910.3 1493.1,1918.2 1494.4,1926.1 1495.6,1934.0 1496.9,1941.9 1498.1,1949.8 1499.3,1957.7 1500.6,1965.6 1501.8,1973.5 1503.0,1981.4 1504.2,1989.3 1505.5,1997.2 1506.7,2005.1 1507.9,2013.0 1509.1,2021.0 1510.3,2028.9 1511.6,2036.8 1512.8,2044.7 1514.0,2052.6 1515.3,2060.5 1516.5,2068.4 1517.7,2076.3 1519.0,2084.2 1520.3,2092.1 1521.5,2100.0 1522.8,2107.9 1524.1,2115.8 1525.4,2123.7 1526.7,2131.6 1528.0,2139.5 1529.3,2147.4 1530.7,2155.3 1532.1,2163.2 1533.5,2171.0 1534.9,2178.9 1536.3,2186.8 1537.7,2194.7 1539.2,2202.5 1540.7,2210.4 1542.2,2218.2 1543.8,2226.1 1545.4,2233.9 1547.0,2241.8 1548.7,2249.6 1550.4,2257.4 1552.1,2265.2 1553.9,2273.0 1555.7,2280.8 1557.6,2288.6 1559.6,2296.4 1561.6,2304.1 1563.6,2311.8 1565.7,2319.6 1567.9,2327.3 1570.1,2335.0 1572.4,2342.6 1574.7,2350.3 1577.2,2357.9 1579.6,2365.5 1582.2,2373.1 1584.8,2380.6 1587.6,2388.2 1590.4,2395.7 1593.2,2403.1 1596.2,2410.6 1599.2,2418.0 1602.3,2425.4 1605.5,2432.7 1608.8,2440.0 1612.1,2447.3 1615.5,2454.5 1619.0,2461.7 1622.6,2468.9 1626.2,2476.0 1629.9,2483.1 1633.7,2490.1 1637.6,2497.2 1641.5,2504.1 1645.5,2511.1 1649.5,2518.0 1653.6,2524.8 1657.8,2531.7 1662.0,2538.5 1666.3,2545.2 1670.6,2552.0 1675.0,2558.6 1679.5,2565.3 1684.1,2571.9 1688.7,2578.4 1693.3,2584.9 1698.1,2591.3 1702.9,2597.7 1707.8,2604.1 1712.7,2610.3 1717.8,2616.6 1722.9,2622.7 1728.1,2628.8 1733.4,2634.8 1738.7,2640.8 1744.1,2646.7 1749.6,2652.5 1755.2,2658.2 1760.9,2663.8 1766.7,2669.4 1772.5,2674.8 1778.5,2680.2 1784.5,2685.5 1790.6,2690.6 1796.8,2695.7 1803.1,2700.6 1809.5,2705.5 1815.9,2710.2 1822.5,2714.8 1829.1,2719.3 1835.8,2723.6 1842.6,2727.8 1849.5,2731.9 1856.5,2735.9 1863.5,2739.7 1870.6,2743.3 1877.8,2746.9 1885.0,2750.3 1892.3,2753.6 1899.7,2756.8 1907.1,2759.9 1914.5,2762.8 1922.0,2765.6 1929.5,2768.4 1937.1,2771.0 1944.6,2773.5 1952.3,2776.0 1959.9,2778.3 1967.6,2780.6 1975.3,2782.8 1983.0,2784.9 1990.8,2786.9 1998.5,2788.9 2006.3,2790.8 2014.1,2792.6 2021.9,2794.4 2029.7,2796.1 2037.5,2797.8 2045.3,2799.4 2053.2,2801.0 2061.0,2802.6 2068.9,2804.1 2076.8,2805.6 2084.6,2807.0 2092.5,2808.4 2100.4,2809.8 2108.3,2811.2 2116.2,2812.5 2124.1,2813.8 2128.0,2814.5" stroke="#FF6501"/>
</g>
<rect x="399.3" y="1866.0" width="655.7" height="1007.0" fill="#fff" fill-opacity="0.5"/>
<g shape-rendering="crispEdges">
<rect x="399.3" y="1866.0" width="655.7" height="6.1" fill="#868686"/>
<rect x="1048.9" y="1866.0" width="6.1" height="1007.0" fill="#868686"/>
<rect x="405.6" y="1916.5" width="200.0" height="12.3" fill="#515151"/>
<rect x="405.6" y="2016.5" width="200.0" height="12.3" fill="#FB3E3E"/>
<rect x="405.6" y="2116.5" width="200.0" height="12.3" fill="#0A70E0"/>
<rect x="405.6" y="2216.5" width="200.0" height="12.3" fill="#1AAD66"/>
<rect x="405.6" y="2316.5" width="200.0" height="12.3" fill="#C078E0"/>
<rect x="405.6" y="2416.5" width="200.0" height="12.3" fill="#DA9A00"/>
<rect x="405.6" y="2516.5" width="200.0" height="12.3" fill="#00CACD"/>
<rect x="405.6" y="2616.5" width="200.0" height="12.3" fill="#864C4C"/>
<rect x="405.6" y="2716.5" width="200.0" height="12.3" fill="#8F8C00"/>
<rect x="405.6" y="2816.5" width="200.0" height="12.3" fill="#FF6501"/>
</g>
<text x="613.0" y="1947.5" font-size="88.0" text-anchor="start" fill="#0a0a14" textLength="436.0" lengthAdjust="spacingAndGlyphs">T=278.15K</text>
<text x="613.0" y="2047.5" font-size="88.0" text-anchor="start" fill="#0a0a14" textLength="436.0" lengthAdjust="spacingAndGlyphs">T=288.15K</text>
<text x="613.0" y="2147.5" font-size="88.0" text-anchor="start" fill="#0a0a14" textLength="436.0" lengthAdjust="spacingAndGlyphs">T=298.15K</text>
<text x="613.0" y="2247.5" font-size="88.0" text-anchor="start" fill="#0a0a14" textLength="436.0" lengthAdjust="spacingAndGlyphs">T=308.15K</text>
<text x="613.0" y="2347.5" font-size="88.0" text-anchor="start" fill="#0a0a14" textLength="436.0" lengthAdjust="spacingAndGlyphs">T=318.15K</text>
<text x="613.0" y="2447.5" font-size="88.0" text-anchor="start" fill="#0a0a14" textLength="436.0" lengthAdjust="spacingAndGlyphs">T=328.15K</text>
<text x="613.0" y="2547.5" font-size="88.0" text-anchor="start" fill="#0a0a14" textLength="436.0" lengthAdjust="spacingAndGlyphs">T=338.15K</text>
<text x="613.0" y="2647.5" font-size="88.0" text-anchor="start" fill="#0a0a14" textLength="436.0" lengthAdjust="spacingAndGlyphs">T=348.15K</text>
<text x="613.0" y="2747.5" font-size="88.0" text-anchor="start" fill="#0a0a14" textLength="436.0" lengthAdjust="spacingAndGlyphs">T=358.15K</text>
<text x="613.0" y="2847.5" font-size="88.0" text-anchor="start" fill="#0a0a14" textLength="436.0" lengthAdjust="spacingAndGlyphs">T=368.15K</text>
<g shape-rendering="crispEdges">
<rect x="374.8" y="2872.9" width="18.4" height="6.1" fill="#000"/>
<rect x="387.1" y="2762.5" width="6.1" height="6.1" fill="#000"/>
<rect x="374.8" y="2652.1" width="18.4" height="6.1" fill="#000"/>
<rect x="387.1" y="2541.7" width="6.1" height="6.1" fill="#000"/>
<rect x="374.8" y="2431.3" width="18.4" height="6.1" fill="#000"/>
<rect x="387.1" y="2320.8" width="6.1" height="6.1" fill="#000"/>
<rect x="374.8" y="2210.4" width="18.4" height="6.1" fill="#000"/>
<rect x="387.1" y="2100.0" width="6.1" height="6.1" fill="#000"/>
<rect x="374.8" y="1989.6" width="18.4" height="6.1" fill="#000"/>
<rect x="387.1" y="1879.2" width="6.1" height="6.1" fill="#000"/>
<rect x="374.8" y="1768.8" width="18.4" height="6.1" fill="#000"/>
<rect x="387.1" y="1658.3" width="6.1" height="6.1" fill="#000"/>
<rect x="374.8" y="1547.9" width="18.4" height="6.1" fill="#000"/>
<rect x="393.2" y="2879.1" width="6.1" height="24.6" fill="#000"/>
<rect x="479.8" y="2879.1" width="6.1" height="9.2" fill="#000"/>
<rect x="566.4" y="2879.1" width="6.1" height="21.5" fill="#000"/>
<rect x="653.0" y="2879.1" width="6.1" height="9.2" fill="#000"/>
<rect x="739.6" y="2879.1" width="6.1" height="21.5" fill="#000"/>
<rect x="826.2" y="2879.1" width="6.1" height="9.2" fill="#000"/>
<rect x="912.7" y="2879.1" width="6.1" height="21.5" fill="#000"/>
<rect x="999.3" y="2879.1" width="6.1" height="9.2" fill="#000"/>
<rect x="1085.9" y="2879.1" width="6.1" height="21.5" fill="#000"/>
<rect x="1172.5" y="2879.1" width="6.1" height="9.2" fill="#000"/>
<rect x="1259.1" y="2879.1" width="6.1" height="21.5" fill="#000"/>
<rect x="1345.7" y="2879.1" width="6.1" height="9.2" fill="#000"/>
<rect x="1432.3" y="2879.1" width="6.1" height="21.5" fill="#000"/>
<rect x="1518.8" y="2879.1" width="6.1" height="9.2" fill="#000"/>
<rect x="1605.4" y="2879.1" width="6.1" height="21.5" fill="#000"/>
<rect x="1692.0" y="2879.1" width="6.1" height="9.2" fill="#000"/>
<rect x="1778.6" y="2879.1" width="6.1" height="21.5" fill="#000"/>
<rect x="1865.2" y="2879.1" width="6.1" height="9.2" fill="#000"/>
<rect x="1951.8" y="2879.1" width="6.1" height="21.5" fill="#000"/>
<rect x="2038.3" y="2879.1" width="6.1" height="9.2" fill="#000"/>
<rect x="2124.9" y="2879.1" width="6.1" height="24.6" fill="#000"/>
</g>
<text x="349.0" y="2889.9" font-size="71.0" text-anchor="end" fill="#343434">0.0</text>
<text x="349.0" y="2670.0" font-size="71.0" text-anchor="end" fill="#343434">0.1</text>
<text x="349.0" y="2450.1" font-size="71.0" text-anchor="end" fill="#343434">0.2</text>
<text x="349.0" y="2230.2" font-size="71.0" text-anchor="end" fill="#343434">0.3</text>
<text x="349.0" y="2010.3" font-size="71.0" text-anchor="end" fill="#343434">0.4</text>
<text x="349.0" y="1790.4" font-size="71.0" text-anchor="end" fill="#343434">0.5</text>
<text x="349.0" y="1570.5" font-size="71.0" text-anchor="end" fill="#343434">0.6</text>
<text x="393.3" y="2972.0" font-size="71.0" text-anchor="middle" fill="#343434">-5</text>
<text x="566.5" y="2972.0" font-size="71.0" text-anchor="middle" fill="#343434">-4</text>
<text x="739.6" y="2972.0" font-size="71.0" text-anchor="middle" fill="#343434">-3</text>
<text x="912.8" y="2972.0" font-size="71.0" text-anchor="middle" fill="#343434">-2</text>
<text x="1086.0" y="2972.0" font-size="71.0" text-anchor="middle" fill="#343434">-1</text>
<text x="1262.2" y="2972.0" font-size="71.0" text-anchor="middle" fill="#343434">0</text>
<text x="1435.3" y="2972.0" font-size="71.0" text-anchor="middle" fill="#343434">1</text>
<text x="1608.5" y="2972.0" font-size="71.0" text-anchor="middle" fill="#343434">2</text>
<text x="1781.7" y="2972.0" font-size="71.0" text-anchor="middle" fill="#343434">3</text>
<text x="1954.8" y="2972.0" font-size="71.0" text-anchor="middle" fill="#343434">4</text>
<text x="2123.0" y="2972.0" font-size="71.0" text-anchor="middle" fill="#343434">5</text>
<text x="404.0" y="1672.0" font-size="113.0" text-anchor="start" fill="#000" font-weight="bold">b</text>
<text transform="translate(1937.0,2558.0) rotate(-90)" font-size="87.0" text-anchor="start" fill="#1a1a1a" textLength="989.0" lengthAdjust="spacingAndGlyphs">H=4.8Å,p<tspan dy="24" font-size="56">e</tspan><tspan dy="-24">=0,ε</tspan><tspan dy="24" font-size="56">br</tspan><tspan dy="-24">=78.5,ε</tspan><tspan dy="24" font-size="56">r</tspan><tspan dy="-24">=10</tspan></text>
<text transform="translate(2074.0,2555.0) rotate(-90)" font-size="87.0" text-anchor="start" fill="#1a1a1a" textLength="838.0" lengthAdjust="spacingAndGlyphs">c<tspan dy="24" font-size="56">1:1</tspan><tspan dy="-24">=0.25M,d</tspan><tspan dy="-32" font-size="56">+</tspan><tspan dy="32">=d</tspan><tspan dy="-32" font-size="56">-</tspan><tspan dy="32">=3.2Å,</tspan></text>
<text transform="translate(204.0,2389.0) rotate(-90)" font-size="100.0" text-anchor="start" fill="#1a1a1a" textLength="358.0" lengthAdjust="spacingAndGlyphs">C<tspan dy="26" font-size="66">d</tspan><tspan dy="-26">/(F/m</tspan><tspan dy="-44" font-size="66">2</tspan><tspan dy="44">)</tspan></text>
<g shape-rendering="crispEdges">
<rect x="399.5" y="3029.9" width="1737.5" height="6.1" fill="#000"/>
<rect x="399.5" y="4342.9" width="1737.5" height="6.1" fill="#000"/>
<rect x="399.5" y="3029.9" width="6.1" height="1319.1" fill="#000"/>
<rect x="2130.9" y="3029.9" width="6.1" height="1343.7" fill="#000"/>
</g>
<clipPath id="clipC"><rect x="405.7" y="3033.0" width="1731.4" height="1313.0"/></clipPath>
<g clip-path="url(#clipC)" fill="none" stroke-width="12.0" stroke-linejoin="miter" stroke-miterlimit="3" stroke-linecap="butt">
<path d="M402.6,4290.0 404.6,4289.6 412.4,4287.9 420.2,4286.1 428.0,4284.4 435.8,4282.6 443.6,4280.7 451.4,4278.9 459.1,4277.0 466.9,4275.0 474.6,4273.0 482.4,4271.0 490.1,4268.9 497.8,4266.7 505.5,4264.5 513.2,4262.3 520.8,4259.9 528.5,4257.6 536.1,4255.1 543.7,4252.6 551.3,4250.0 558.8,4247.3 566.3,4244.6 573.8,4241.7 581.3,4238.8 588.7,4235.8 596.1,4232.7 603.4,4229.5 610.7,4226.2 617.9,4222.8 625.1,4219.3 632.3,4215.7 639.4,4212.0 646.4,4208.2 653.4,4204.3 660.3,4200.2 667.1,4196.1 673.9,4191.8 680.6,4187.4 687.2,4182.9 693.7,4178.3 700.2,4173.6 706.6,4168.7 712.8,4163.7 719.0,4158.6 725.1,4153.4 731.1,4148.1 736.9,4142.7 742.7,4137.1 748.3,4131.4 753.9,4125.7 759.3,4119.8 764.7,4113.8 769.9,4107.8 775.0,4101.6 780.0,4095.4 784.9,4089.0 789.7,4082.6 794.3,4076.1 798.9,4069.6 803.4,4062.9 807.8,4056.2 812.0,4049.4 816.2,4042.6 820.3,4035.7 824.3,4028.8 828.2,4021.8 832.0,4014.8 835.8,4007.7 839.5,4000.6 843.1,3993.5 846.6,3986.3 850.1,3979.1 853.5,3971.9 856.9,3964.6 860.2,3957.3 863.5,3950.0 866.7,3942.7 869.8,3935.3 872.9,3927.9 876.0,3920.5 879.0,3913.1 882.0,3905.7 884.9,3898.3 887.8,3890.8 890.7,3883.3 893.5,3875.8 896.3,3868.3 899.0,3860.8 901.8,3853.3 904.5,3845.8 907.1,3838.2 909.8,3830.7 912.4,3823.1 914.9,3815.5 917.5,3807.9 920.0,3800.3 922.5,3792.7 925.0,3785.1 927.5,3777.5 929.9,3769.9 932.3,3762.2 934.7,3754.6 937.0,3747.0 939.4,3739.3 941.7,3731.7 944.0,3724.0 946.3,3716.3 948.6,3708.7 950.9,3701.0 953.1,3693.3 955.3,3685.6 957.5,3677.9 959.7,3670.2 961.9,3662.5 964.1,3654.8 966.2,3647.1 968.4,3639.4 970.5,3631.7 972.6,3624.0 974.7,3616.2 976.8,3608.5 978.9,3600.8 981.0,3593.1 983.1,3585.3 985.2,3577.6 987.3,3569.9 989.3,3562.2 991.4,3554.4 993.4,3546.7 995.5,3539.0 997.6,3531.2 999.6,3523.5 1001.7,3515.8 1003.8,3508.0 1005.8,3500.3 1007.9,3492.6 1010.0,3484.8 1012.1,3477.1 1014.2,3469.4 1016.3,3461.7 1018.4,3453.9 1020.5,3446.2 1022.6,3438.5 1024.8,3430.8 1027.0,3423.1 1029.2,3415.4 1031.4,3407.7 1033.7,3400.1 1036.0,3392.4 1038.3,3384.7 1040.6,3377.1 1043.0,3369.4 1045.4,3361.8 1047.9,3354.2 1050.4,3346.6 1052.9,3339.0 1055.5,3331.4 1058.1,3323.8 1060.7,3316.3 1063.5,3308.8 1066.2,3301.3 1069.1,3293.8 1072.0,3286.3 1074.9,3278.9 1078.0,3271.5 1081.1,3264.1 1084.4,3256.8 1087.7,3249.5 1091.2,3242.3 1094.8,3235.2 1098.5,3228.1 1102.4,3221.1 1106.5,3214.2 1110.9,3207.5 1115.5,3201.0 1120.5,3194.8 1125.9,3188.9 1131.9,3183.5 1138.5,3179.0 1145.8,3175.9 1153.6,3174.6 1161.5,3175.6 1168.8,3178.6 1175.5,3183.0 1181.5,3188.3 1187.0,3194.1 1192.1,3200.2 1196.9,3206.6 1201.3,3213.4 1205.2,3220.4 1208.5,3227.6 1211.5,3235.0 1214.1,3242.6 1216.4,3250.3 1218.5,3258.0 1220.3,3265.8 1222.0,3273.6 1223.5,3281.5 1224.9,3289.3 1226.3,3297.2 1227.5,3305.1 1228.6,3313.1 1229.7,3321.0 1230.8,3328.9 1231.8,3336.9 1232.7,3344.8 1233.6,3352.8 1234.5,3360.7 1235.3,3368.7 1236.1,3376.6 1236.9,3384.6 1237.7,3392.6 1238.4,3400.5 1239.1,3408.5 1239.8,3416.5 1240.5,3424.5 1241.1,3432.4 1241.8,3440.4 1242.4,3448.4 1243.0,3456.4 1243.6,3464.3 1244.1,3472.3 1244.7,3480.3 1245.3,3488.3 1245.8,3496.3 1246.3,3504.3 1246.8,3512.3 1247.3,3520.2 1247.8,3528.2 1248.3,3536.2 1248.8,3544.2 1249.3,3552.2 1249.7,3560.2 1250.2,3568.2 1250.6,3576.2 1251.0,3584.2 1251.5,3592.2 1251.9,3600.1 1252.3,3608.1 1252.7,3616.1 1253.1,3624.1 1253.4,3632.1 1253.8,3640.1 1254.2,3648.1 1254.5,3656.1 1254.9,3664.1 1255.2,3672.1 1255.6,3680.1 1255.9,3688.1 1256.3,3696.1 1256.6,3704.1 1257.0,3712.1 1257.3,3720.1 1257.7,3728.1 1258.0,3736.1 1258.4,3744.1 1258.7,3752.1 1259.0,3760.1 1259.3,3768.0 1259.7,3776.0 1260.0,3784.0 1260.3,3792.0 1260.6,3800.0 1261.0,3808.0 1261.3,3816.0 1261.6,3824.0 1261.9,3832.0 1262.2,3840.0 1262.5,3848.0 1262.8,3856.0 1263.1,3864.0 1263.4,3872.0 1263.7,3880.0 1264.0,3888.0 1264.3,3896.0 1264.5,3904.0 1264.8,3912.0 1265.1,3920.0 1265.3,3928.0 1265.6,3936.0 1265.9,3944.0 1266.1,3952.0 1266.4,3960.0 1266.6,3968.0 1266.8,3976.0 1267.1,3984.0 1267.3,3992.0 1267.5,4000.0 1267.7,4008.0 1267.9,4016.0 1268.0,4024.0 1268.2,4032.0 1268.3,4040.0 1268.4,4032.0 1268.6,4024.0 1268.7,4016.0 1268.9,4008.0 1269.1,4000.0 1269.3,3992.0 1269.5,3984.0 1269.8,3976.0 1270.0,3968.0 1270.2,3960.0 1270.5,3952.0 1270.7,3944.0 1271.0,3936.0 1271.3,3928.0 1271.5,3920.0 1271.8,3912.0 1272.1,3904.0 1272.3,3896.0 1272.6,3888.0 1272.9,3880.0 1273.2,3872.0 1273.5,3864.0 1273.8,3856.0 1274.1,3848.0 1274.4,3840.0 1274.7,3832.0 1275.0,3824.0 1275.3,3816.0 1275.6,3808.0 1276.0,3800.0 1276.3,3792.0 1276.6,3784.0 1276.9,3776.0 1277.3,3768.0 1277.6,3760.1 1277.9,3752.1 1278.2,3744.1 1278.6,3736.1 1278.9,3728.1 1279.3,3720.1 1279.6,3712.1 1280.0,3704.1 1280.3,3696.1 1280.7,3688.1 1281.0,3680.1 1281.4,3672.1 1281.7,3664.1 1282.1,3656.1 1282.4,3648.1 1282.8,3640.1 1283.2,3632.1 1283.5,3624.1 1283.9,3616.1 1284.3,3608.1 1284.7,3600.1 1285.1,3592.2 1285.6,3584.2 1286.0,3576.2 1286.4,3568.2 1286.9,3560.2 1287.3,3552.2 1287.8,3544.2 1288.3,3536.2 1288.8,3528.2 1289.3,3520.2 1289.8,3512.3 1290.3,3504.3 1290.8,3496.3 1291.3,3488.3 1291.9,3480.3 1292.5,3472.3 1293.0,3464.3 1293.6,3456.4 1294.2,3448.4 1294.8,3440.4 1295.5,3432.4 1296.1,3424.5 1296.8,3416.5 1297.5,3408.5 1298.2,3400.5 1298.9,3392.6 1299.7,3384.6 1300.5,3376.6 1301.3,3368.7 1302.1,3360.7 1303.0,3352.8 1303.9,3344.8 1304.8,3336.9 1305.8,3328.9 1306.9,3321.0 1308.0,3313.1 1309.1,3305.1 1310.3,3297.2 1311.7,3289.3 1313.1,3281.5 1314.6,3273.6 1316.3,3265.8 1318.1,3258.0 1320.2,3250.3 1322.5,3242.6 1325.1,3235.0 1328.1,3227.6 1331.4,3220.4 1335.3,3213.4 1339.7,3206.6 1344.5,3200.2 1349.6,3194.1 1355.1,3188.3 1361.1,3183.0 1367.8,3178.6 1375.1,3175.6 1383.0,3174.6 1390.8,3175.9 1398.1,3179.0 1404.7,3183.5 1410.7,3188.9 1416.1,3194.8 1421.1,3201.0 1425.7,3207.5 1430.1,3214.2 1434.2,3221.1 1438.1,3228.1 1441.8,3235.2 1445.4,3242.3 1448.9,3249.5 1452.2,3256.8 1455.5,3264.1 1458.6,3271.5 1461.7,3278.9 1464.6,3286.3 1467.5,3293.8 1470.4,3301.3 1473.1,3308.8 1475.9,3316.3 1478.5,3323.8 1481.1,3331.4 1483.7,3339.0 1486.2,3346.6 1488.7,3354.2 1491.2,3361.8 1493.6,3369.4 1496.0,3377.1 1498.3,3384.7 1500.6,3392.4 1502.9,3400.1 1505.2,3407.7 1507.4,3415.4 1509.6,3423.1 1511.8,3430.8 1514.0,3438.5 1516.1,3446.2 1518.2,3453.9 1520.3,3461.7 1522.4,3469.4 1524.5,3477.1 1526.6,3484.8 1528.7,3492.6 1530.8,3500.3 1532.8,3508.0 1534.9,3515.8 1537.0,3523.5 1539.0,3531.2 1541.1,3539.0 1543.2,3546.7 1545.2,3554.4 1547.3,3562.2 1549.3,3569.9 1551.4,3577.6 1553.5,3585.3 1555.6,3593.1 1557.7,3600.8 1559.8,3608.5 1561.9,3616.2 1564.0,3624.0 1566.1,3631.7 1568.2,3639.4 1570.4,3647.1 1572.5,3654.8 1574.7,3662.5 1576.9,3670.2 1579.1,3677.9 1581.3,3685.6 1583.5,3693.3 1585.7,3701.0 1588.0,3708.7 1590.3,3716.3 1592.6,3724.0 1594.9,3731.7 1597.2,3739.3 1599.6,3747.0 1601.9,3754.6 1604.3,3762.2 1606.7,3769.9 1609.1,3777.5 1611.6,3785.1 1614.1,3792.7 1616.6,3800.3 1619.1,3807.9 1621.7,3815.5 1624.2,3823.1 1626.8,3830.7 1629.5,3838.2 1632.1,3845.8 1634.8,3853.3 1637.6,3860.8 1640.3,3868.3 1643.1,3875.8 1645.9,3883.3 1648.8,3890.8 1651.7,3898.3 1654.6,3905.7 1657.6,3913.1 1660.6,3920.5 1663.7,3927.9 1666.8,3935.3 1669.9,3942.7 1673.1,3950.0 1676.4,3957.3 1679.7,3964.6 1683.1,3971.9 1686.5,3979.1 1690.0,3986.3 1693.5,3993.5 1697.1,4000.6 1700.8,4007.7 1704.6,4014.8 1708.4,4021.8 1712.3,4028.8 1716.3,4035.7 1720.4,4042.6 1724.6,4049.4 1728.8,4056.2 1733.2,4062.9 1737.7,4069.6 1742.3,4076.1 1746.9,4082.6 1751.7,4089.0 1756.6,4095.4 1761.6,4101.6 1766.7,4107.8 1771.9,4113.8 1777.3,4119.8 1782.7,4125.7 1788.3,4131.4 1793.9,4137.1 1799.7,4142.7 1805.5,4148.1 1811.5,4153.4 1817.6,4158.6 1823.8,4163.7 1830.0,4168.7 1836.4,4173.6 1842.9,4178.3 1849.4,4182.9 1856.0,4187.4 1862.7,4191.8 1869.5,4196.1 1876.3,4200.2 1883.2,4204.3 1890.2,4208.2 1897.2,4212.0 1904.3,4215.7 1911.5,4219.3 1918.7,4222.8 1925.9,4226.2 1933.2,4229.5 1940.5,4232.7 1947.9,4235.8 1955.3,4238.8 1962.8,4241.7 1970.3,4244.6 1977.8,4247.3 1985.3,4250.0 1992.9,4252.6 2000.5,4255.1 2008.1,4257.6 2015.8,4259.9 2023.4,4262.3 2031.1,4264.5 2038.8,4266.7 2046.5,4268.9 2054.2,4271.0 2062.0,4273.0 2069.7,4275.0 2077.5,4277.0 2085.2,4278.9 2093.0,4280.7 2100.8,4282.6 2108.6,4284.4 2116.4,4286.1 2124.2,4287.9 2132.0,4289.6 2134.0,4290.0" stroke="#515151"/>
<path d="M402.6,4288.7 406.5,4287.9 414.3,4286.2 422.2,4284.5 430.0,4282.7 437.8,4280.9 445.6,4279.1 453.3,4277.2 461.1,4275.3 468.9,4273.4 476.6,4271.4 484.4,4269.3 492.1,4267.2 499.8,4265.0 507.5,4262.8 515.2,4260.6 522.8,4258.2 530.5,4255.8 538.1,4253.3 545.7,4250.8 553.2,4248.2 560.8,4245.5 568.3,4242.7 575.7,4239.8 583.2,4236.9 590.6,4233.8 597.9,4230.7 605.3,4227.5 612.6,4224.1 619.8,4220.7 627.0,4217.2 634.1,4213.5 641.2,4209.8 648.2,4205.9 655.1,4202.0 662.0,4197.9 668.8,4193.7 675.6,4189.4 682.2,4184.9 688.8,4180.4 695.3,4175.7 701.8,4171.0 708.1,4166.1 714.3,4161.1 720.5,4155.9 726.5,4150.7 732.5,4145.3 738.3,4139.8 744.0,4134.3 749.7,4128.6 755.2,4122.8 760.6,4116.9 765.9,4110.9 771.1,4104.8 776.2,4098.6 781.2,4092.3 786.1,4086.0 790.8,4079.6 795.5,4073.1 800.1,4066.5 804.5,4059.8 808.9,4053.1 813.2,4046.4 817.3,4039.5 821.4,4032.6 825.4,4025.7 829.3,4018.7 833.2,4011.7 836.9,4004.6 840.6,3997.5 844.2,3990.4 847.8,3983.2 851.2,3976.0 854.7,3968.8 858.0,3961.5 861.3,3954.2 864.6,3946.9 867.8,3939.6 871.0,3932.2 874.1,3924.8 877.1,3917.4 880.2,3910.0 883.1,3902.6 886.1,3895.2 889.0,3887.7 891.9,3880.2 894.7,3872.7 897.5,3865.2 900.2,3857.7 903.0,3850.2 905.7,3842.7 908.3,3835.1 911.0,3827.5 913.6,3820.0 916.2,3812.4 918.7,3804.8 921.2,3797.2 923.7,3789.6 926.2,3782.0 928.7,3774.4 931.1,3766.8 933.5,3759.1 935.9,3751.5 938.3,3743.8 940.6,3736.2 943.0,3728.5 945.3,3720.9 947.6,3713.2 949.9,3705.5 952.1,3697.9 954.4,3690.2 956.6,3682.5 958.8,3674.8 961.0,3667.1 963.2,3659.4 965.4,3651.7 967.6,3644.0 969.7,3636.3 971.9,3628.6 974.0,3620.9 976.1,3613.1 978.3,3605.4 980.4,3597.7 982.5,3590.0 984.6,3582.2 986.7,3574.5 988.7,3566.8 990.8,3559.1 992.9,3551.3 995.0,3543.6 997.1,3535.9 999.2,3528.1 1001.2,3520.4 1003.3,3512.7 1005.4,3505.0 1007.5,3497.2 1009.6,3489.5 1011.7,3481.8 1013.8,3474.1 1016.0,3466.4 1018.1,3458.6 1020.2,3450.9 1022.4,3443.2 1024.6,3435.5 1026.8,3427.8 1029.0,3420.1 1031.3,3412.5 1033.5,3404.8 1035.8,3397.1 1038.2,3389.4 1040.5,3381.8 1042.9,3374.2 1045.4,3366.5 1047.8,3358.9 1050.3,3351.3 1052.9,3343.7 1055.4,3336.1 1058.1,3328.6 1060.8,3321.0 1063.5,3313.5 1066.3,3306.0 1069.2,3298.5 1072.1,3291.1 1075.1,3283.7 1078.2,3276.3 1081.3,3268.9 1084.6,3261.6 1088.0,3254.4 1091.5,3247.2 1095.1,3240.0 1098.9,3233.0 1102.8,3226.0 1107.0,3219.2 1111.4,3212.5 1116.1,3206.1 1121.2,3199.9 1126.8,3194.1 1132.8,3188.9 1139.6,3184.7 1147.1,3181.9 1155.0,3181.2 1162.7,3182.8 1169.9,3186.3 1176.3,3191.1 1182.1,3196.6 1187.4,3202.6 1192.4,3208.9 1197.0,3215.4 1201.1,3222.2 1204.9,3229.3 1208.2,3236.6 1211.1,3244.1 1213.6,3251.6 1215.9,3259.3 1217.9,3267.1 1219.8,3274.8 1221.5,3282.7 1223.0,3290.5 1224.4,3298.4 1225.7,3306.3 1227.0,3314.2 1228.1,3322.1 1229.2,3330.1 1230.3,3338.0 1231.2,3345.9 1232.2,3353.9 1233.1,3361.8 1234.0,3369.8 1234.8,3377.8 1235.6,3385.7 1236.4,3393.7 1237.2,3401.7 1237.9,3409.6 1238.6,3417.6 1239.3,3425.6 1240.0,3433.6 1240.6,3441.5 1241.2,3449.5 1241.9,3457.5 1242.5,3465.5 1243.1,3473.5 1243.6,3481.4 1244.2,3489.4 1244.7,3497.4 1245.3,3505.4 1245.8,3513.4 1246.3,3521.4 1246.8,3529.4 1247.3,3537.4 1247.8,3545.4 1248.3,3553.3 1248.8,3561.3 1249.2,3569.3 1249.7,3577.3 1250.1,3585.3 1250.6,3593.3 1251.0,3601.3 1251.4,3609.3 1251.8,3617.3 1252.3,3625.3 1252.7,3633.3 1253.0,3641.3 1253.4,3649.3 1253.8,3657.3 1254.1,3665.3 1254.5,3673.3 1254.9,3681.3 1255.2,3689.2 1255.6,3697.2 1255.9,3705.2 1256.3,3713.2 1256.6,3721.2 1257.0,3729.2 1257.3,3737.2 1257.7,3745.2 1258.0,3753.2 1258.4,3761.2 1258.7,3769.2 1259.0,3777.2 1259.4,3785.2 1259.7,3793.2 1260.0,3801.2 1260.4,3809.2 1260.7,3817.2 1261.0,3825.2 1261.3,3833.2 1261.6,3841.2 1262.0,3849.2 1262.3,3857.2 1262.6,3865.2 1262.9,3873.2 1263.2,3881.2 1263.5,3889.2 1263.8,3897.2 1264.1,3905.2 1264.4,3913.2 1264.6,3921.2 1264.9,3929.2 1265.2,3937.2 1265.5,3945.2 1265.7,3953.2 1266.0,3961.2 1266.2,3969.2 1266.5,3977.2 1266.7,3985.2 1267.0,3993.2 1267.2,4001.2 1267.4,4009.2 1267.6,4017.2 1267.8,4025.2 1268.0,4033.2 1268.2,4041.2 1268.3,4049.2 1268.4,4041.2 1268.6,4033.2 1268.8,4025.2 1269.0,4017.2 1269.2,4009.2 1269.4,4001.2 1269.6,3993.2 1269.9,3985.2 1270.1,3977.2 1270.4,3969.2 1270.6,3961.2 1270.9,3953.2 1271.1,3945.2 1271.4,3937.2 1271.7,3929.2 1272.0,3921.2 1272.2,3913.2 1272.5,3905.2 1272.8,3897.2 1273.1,3889.2 1273.4,3881.2 1273.7,3873.2 1274.0,3865.2 1274.3,3857.2 1274.6,3849.2 1275.0,3841.2 1275.3,3833.2 1275.6,3825.2 1275.9,3817.2 1276.2,3809.2 1276.6,3801.2 1276.9,3793.2 1277.2,3785.2 1277.6,3777.2 1277.9,3769.2 1278.2,3761.2 1278.6,3753.2 1278.9,3745.2 1279.3,3737.2 1279.6,3729.2 1280.0,3721.2 1280.3,3713.2 1280.7,3705.2 1281.0,3697.2 1281.4,3689.2 1281.7,3681.3 1282.1,3673.3 1282.5,3665.3 1282.8,3657.3 1283.2,3649.3 1283.6,3641.3 1283.9,3633.3 1284.3,3625.3 1284.8,3617.3 1285.2,3609.3 1285.6,3601.3 1286.0,3593.3 1286.5,3585.3 1286.9,3577.3 1287.4,3569.3 1287.8,3561.3 1288.3,3553.3 1288.8,3545.4 1289.3,3537.4 1289.8,3529.4 1290.3,3521.4 1290.8,3513.4 1291.3,3505.4 1291.9,3497.4 1292.4,3489.4 1293.0,3481.4 1293.5,3473.5 1294.1,3465.5 1294.7,3457.5 1295.4,3449.5 1296.0,3441.5 1296.6,3433.6 1297.3,3425.6 1298.0,3417.6 1298.7,3409.6 1299.4,3401.7 1300.2,3393.7 1301.0,3385.7 1301.8,3377.8 1302.6,3369.8 1303.5,3361.8 1304.4,3353.9 1305.4,3345.9 1306.3,3338.0 1307.4,3330.1 1308.5,3322.1 1309.6,3314.2 1310.9,3306.3 1312.2,3298.4 1313.6,3290.5 1315.1,3282.7 1316.8,3274.8 1318.7,3267.1 1320.7,3259.3 1323.0,3251.6 1325.5,3244.1 1328.4,3236.6 1331.7,3229.3 1335.5,3222.2 1339.6,3215.4 1344.2,3208.9 1349.2,3202.6 1354.5,3196.6 1360.3,3191.1 1366.7,3186.3 1373.9,3182.8 1381.6,3181.2 1389.5,3181.9 1397.0,3184.7 1403.8,3188.9 1409.8,3194.1 1415.4,3199.9 1420.5,3206.1 1425.2,3212.5 1429.6,3219.2 1433.8,3226.0 1437.7,3233.0 1441.5,3240.0 1445.1,3247.2 1448.6,3254.4 1452.0,3261.6 1455.3,3268.9 1458.4,3276.3 1461.5,3283.7 1464.5,3291.1 1467.4,3298.5 1470.3,3306.0 1473.1,3313.5 1475.8,3321.0 1478.5,3328.6 1481.2,3336.1 1483.7,3343.7 1486.3,3351.3 1488.8,3358.9 1491.2,3366.5 1493.7,3374.2 1496.1,3381.8 1498.4,3389.4 1500.8,3397.1 1503.1,3404.8 1505.3,3412.5 1507.6,3420.1 1509.8,3427.8 1512.0,3435.5 1514.2,3443.2 1516.4,3450.9 1518.5,3458.6 1520.6,3466.4 1522.8,3474.1 1524.9,3481.8 1527.0,3489.5 1529.1,3497.2 1531.2,3505.0 1533.3,3512.7 1535.4,3520.4 1537.4,3528.1 1539.5,3535.9 1541.6,3543.6 1543.7,3551.3 1545.8,3559.1 1547.9,3566.8 1549.9,3574.5 1552.0,3582.2 1554.1,3590.0 1556.2,3597.7 1558.3,3605.4 1560.5,3613.1 1562.6,3620.9 1564.7,3628.6 1566.9,3636.3 1569.0,3644.0 1571.2,3651.7 1573.4,3659.4 1575.6,3667.1 1577.8,3674.8 1580.0,3682.5 1582.2,3690.2 1584.5,3697.9 1586.7,3705.5 1589.0,3713.2 1591.3,3720.9 1593.6,3728.5 1596.0,3736.2 1598.3,3743.8 1600.7,3751.5 1603.1,3759.1 1605.5,3766.8 1607.9,3774.4 1610.4,3782.0 1612.9,3789.6 1615.4,3797.2 1617.9,3804.8 1620.4,3812.4 1623.0,3820.0 1625.6,3827.5 1628.3,3835.1 1630.9,3842.7 1633.6,3850.2 1636.4,3857.7 1639.1,3865.2 1641.9,3872.7 1644.7,3880.2 1647.6,3887.7 1650.5,3895.2 1653.5,3902.6 1656.4,3910.0 1659.5,3917.4 1662.5,3924.8 1665.6,3932.2 1668.8,3939.6 1672.0,3946.9 1675.3,3954.2 1678.6,3961.5 1681.9,3968.8 1685.4,3976.0 1688.8,3983.2 1692.4,3990.4 1696.0,3997.5 1699.7,4004.6 1703.4,4011.7 1707.3,4018.7 1711.2,4025.7 1715.2,4032.6 1719.3,4039.5 1723.4,4046.4 1727.7,4053.1 1732.1,4059.8 1736.5,4066.5 1741.1,4073.1 1745.8,4079.6 1750.5,4086.0 1755.4,4092.3 1760.4,4098.6 1765.5,4104.8 1770.7,4110.9 1776.0,4116.9 1781.4,4122.8 1786.9,4128.6 1792.6,4134.3 1798.3,4139.8 1804.1,4145.3 1810.1,4150.7 1816.1,4155.9 1822.3,4161.1 1828.5,4166.1 1834.8,4171.0 1841.3,4175.7 1847.8,4180.4 1854.4,4184.9 1861.0,4189.4 1867.8,4193.7 1874.6,4197.9 1881.5,4202.0 1888.4,4205.9 1895.4,4209.8 1902.5,4213.5 1909.6,4217.2 1916.8,4220.7 1924.0,4224.1 1931.3,4227.5 1938.7,4230.7 1946.0,4233.8 1953.4,4236.9 1960.9,4239.8 1968.3,4242.7 1975.8,4245.5 1983.4,4248.2 1990.9,4250.8 1998.5,4253.3 2006.1,4255.8 2013.8,4258.2 2021.4,4260.6 2029.1,4262.8 2036.8,4265.0 2044.5,4267.2 2052.2,4269.3 2060.0,4271.4 2067.7,4273.4 2075.5,4275.3 2083.3,4277.2 2091.0,4279.1 2098.8,4280.9 2106.6,4282.7 2114.4,4284.5 2122.3,4286.2 2130.1,4287.9 2134.0,4288.7" stroke="#FB3E3E"/>
<path d="M402.6,4287.5 402.6,4287.5 410.4,4285.8 418.2,4284.1 426.1,4282.4 433.9,4280.6 441.7,4278.8 449.4,4277.0 457.2,4275.1 465.0,4273.2 472.7,4271.2 480.5,4269.2 488.2,4267.1 495.9,4265.0 503.6,4262.8 511.3,4260.6 519.0,4258.3 526.6,4255.9 534.2,4253.5 541.8,4251.0 549.4,4248.4 556.9,4245.7 564.4,4243.0 571.9,4240.2 579.4,4237.3 586.8,4234.3 594.2,4231.2 601.5,4228.0 608.8,4224.7 616.1,4221.3 623.3,4217.8 630.4,4214.2 637.5,4210.5 644.5,4206.7 651.5,4202.8 658.4,4198.7 665.2,4194.6 672.0,4190.3 678.7,4186.0 685.3,4181.5 691.9,4176.9 698.3,4172.1 704.7,4167.3 711.0,4162.3 717.2,4157.3 723.2,4152.1 729.2,4146.8 735.1,4141.4 740.9,4135.8 746.6,4130.2 752.2,4124.5 757.6,4118.6 763.0,4112.7 768.3,4106.7 773.4,4100.5 778.5,4094.3 783.4,4088.0 788.2,4081.7 793.0,4075.2 797.6,4068.7 802.1,4062.1 806.6,4055.4 810.9,4048.7 815.1,4041.9 819.3,4035.1 823.3,4028.2 827.3,4021.3 831.2,4014.3 835.0,4007.2 838.8,4000.2 842.4,3993.1 846.0,3985.9 849.6,3978.7 853.0,3971.5 856.5,3964.3 859.8,3957.0 863.1,3949.7 866.4,3942.4 869.6,3935.1 872.7,3927.7 875.8,3920.4 878.9,3913.0 881.9,3905.6 884.9,3898.1 887.8,3890.7 890.7,3883.2 893.6,3875.8 896.4,3868.3 899.2,3860.8 901.9,3853.3 904.6,3845.8 907.3,3838.2 910.0,3830.7 912.6,3823.1 915.2,3815.6 917.8,3808.0 920.4,3800.4 922.9,3792.8 925.4,3785.2 927.9,3777.6 930.3,3770.0 932.8,3762.4 935.2,3754.7 937.6,3747.1 939.9,3739.5 942.3,3731.8 944.6,3724.2 946.9,3716.5 949.2,3708.9 951.5,3701.2 953.8,3693.5 956.0,3685.8 958.3,3678.2 960.5,3670.5 962.7,3662.8 964.9,3655.1 967.1,3647.4 969.3,3639.7 971.4,3632.0 973.6,3624.3 975.7,3616.6 977.9,3608.9 980.0,3601.2 982.1,3593.5 984.2,3585.7 986.4,3578.0 988.5,3570.3 990.6,3562.6 992.7,3554.9 994.8,3547.1 996.9,3539.4 999.0,3531.7 1001.1,3524.0 1003.2,3516.3 1005.3,3508.6 1007.4,3500.8 1009.5,3493.1 1011.7,3485.4 1013.8,3477.7 1016.0,3470.0 1018.1,3462.3 1020.3,3454.6 1022.5,3446.9 1024.7,3439.2 1026.9,3431.5 1029.1,3423.8 1031.4,3416.2 1033.7,3408.5 1036.0,3400.9 1038.4,3393.2 1040.7,3385.6 1043.1,3377.9 1045.6,3370.3 1048.1,3362.7 1050.6,3355.1 1053.1,3347.5 1055.8,3340.0 1058.4,3332.4 1061.1,3324.9 1063.9,3317.4 1066.7,3309.9 1069.6,3302.4 1072.5,3295.0 1075.6,3287.6 1078.7,3280.2 1081.9,3272.9 1085.2,3265.6 1088.6,3258.4 1092.1,3251.2 1095.8,3244.1 1099.7,3237.1 1103.7,3230.2 1108.0,3223.4 1112.5,3216.8 1117.3,3210.4 1122.5,3204.4 1128.2,3198.8 1134.6,3193.9 1141.6,3190.1 1149.2,3188.0 1157.1,3188.1 1164.7,3190.5 1171.6,3194.5 1177.7,3199.7 1183.2,3205.4 1188.3,3211.6 1193.0,3218.1 1197.4,3224.8 1201.3,3231.7 1204.9,3238.9 1208.0,3246.2 1210.9,3253.7 1213.3,3261.3 1215.6,3269.0 1217.6,3276.8 1219.4,3284.5 1221.1,3292.4 1222.6,3300.2 1224.0,3308.1 1225.3,3316.0 1226.5,3323.9 1227.7,3331.8 1228.8,3339.7 1229.8,3347.7 1230.8,3355.6 1231.7,3363.6 1232.7,3371.5 1233.5,3379.5 1234.4,3387.4 1235.2,3395.4 1235.9,3403.3 1236.7,3411.3 1237.4,3419.3 1238.1,3427.2 1238.8,3435.2 1239.5,3443.2 1240.1,3451.1 1240.8,3459.1 1241.4,3467.1 1242.0,3475.1 1242.6,3483.1 1243.2,3491.0 1243.7,3499.0 1244.3,3507.0 1244.8,3515.0 1245.3,3523.0 1245.9,3530.9 1246.4,3538.9 1246.9,3546.9 1247.4,3554.9 1247.8,3562.9 1248.3,3570.9 1248.8,3578.9 1249.2,3586.8 1249.7,3594.8 1250.1,3602.8 1250.6,3610.8 1251.0,3618.8 1251.4,3626.8 1251.8,3634.8 1252.2,3642.8 1252.6,3650.8 1253.0,3658.7 1253.4,3666.7 1253.7,3674.7 1254.1,3682.7 1254.5,3690.7 1254.8,3698.7 1255.2,3706.7 1255.6,3714.7 1255.9,3722.7 1256.3,3730.7 1256.6,3738.7 1257.0,3746.7 1257.3,3754.6 1257.7,3762.6 1258.0,3770.6 1258.4,3778.6 1258.7,3786.6 1259.1,3794.6 1259.4,3802.6 1259.7,3810.6 1260.1,3818.6 1260.4,3826.6 1260.7,3834.6 1261.1,3842.6 1261.4,3850.6 1261.7,3858.6 1262.0,3866.5 1262.3,3874.5 1262.6,3882.5 1263.0,3890.5 1263.3,3898.5 1263.6,3906.5 1263.9,3914.5 1264.2,3922.5 1264.5,3930.5 1264.8,3938.5 1265.0,3946.5 1265.3,3954.5 1265.6,3962.5 1265.9,3970.5 1266.1,3978.5 1266.4,3986.5 1266.6,3994.5 1266.9,4002.5 1267.1,4010.5 1267.4,4018.5 1267.6,4026.5 1267.8,4034.4 1268.0,4042.4 1268.2,4050.4 1268.3,4058.4 1268.4,4050.4 1268.6,4042.4 1268.8,4034.4 1269.0,4026.5 1269.2,4018.5 1269.5,4010.5 1269.7,4002.5 1270.0,3994.5 1270.2,3986.5 1270.5,3978.5 1270.7,3970.5 1271.0,3962.5 1271.3,3954.5 1271.6,3946.5 1271.8,3938.5 1272.1,3930.5 1272.4,3922.5 1272.7,3914.5 1273.0,3906.5 1273.3,3898.5 1273.6,3890.5 1274.0,3882.5 1274.3,3874.5 1274.6,3866.5 1274.9,3858.6 1275.2,3850.6 1275.5,3842.6 1275.9,3834.6 1276.2,3826.6 1276.5,3818.6 1276.9,3810.6 1277.2,3802.6 1277.5,3794.6 1277.9,3786.6 1278.2,3778.6 1278.6,3770.6 1278.9,3762.6 1279.3,3754.6 1279.6,3746.7 1280.0,3738.7 1280.3,3730.7 1280.7,3722.7 1281.0,3714.7 1281.4,3706.7 1281.8,3698.7 1282.1,3690.7 1282.5,3682.7 1282.9,3674.7 1283.2,3666.7 1283.6,3658.7 1284.0,3650.8 1284.4,3642.8 1284.8,3634.8 1285.2,3626.8 1285.6,3618.8 1286.0,3610.8 1286.5,3602.8 1286.9,3594.8 1287.4,3586.8 1287.8,3578.9 1288.3,3570.9 1288.8,3562.9 1289.2,3554.9 1289.7,3546.9 1290.2,3538.9 1290.7,3530.9 1291.3,3523.0 1291.8,3515.0 1292.3,3507.0 1292.9,3499.0 1293.4,3491.0 1294.0,3483.1 1294.6,3475.1 1295.2,3467.1 1295.8,3459.1 1296.5,3451.1 1297.1,3443.2 1297.8,3435.2 1298.5,3427.2 1299.2,3419.3 1299.9,3411.3 1300.7,3403.3 1301.4,3395.4 1302.2,3387.4 1303.1,3379.5 1303.9,3371.5 1304.9,3363.6 1305.8,3355.6 1306.8,3347.7 1307.8,3339.7 1308.9,3331.8 1310.1,3323.9 1311.3,3316.0 1312.6,3308.1 1314.0,3300.2 1315.5,3292.4 1317.2,3284.5 1319.0,3276.8 1321.0,3269.0 1323.3,3261.3 1325.7,3253.7 1328.6,3246.2 1331.7,3238.9 1335.3,3231.7 1339.2,3224.8 1343.6,3218.1 1348.3,3211.6 1353.4,3205.4 1358.9,3199.7 1365.0,3194.5 1371.9,3190.5 1379.5,3188.1 1387.4,3188.0 1395.0,3190.1 1402.0,3193.9 1408.4,3198.8 1414.1,3204.4 1419.3,3210.4 1424.1,3216.8 1428.6,3223.4 1432.9,3230.2 1436.9,3237.1 1440.8,3244.1 1444.5,3251.2 1448.0,3258.4 1451.4,3265.6 1454.7,3272.9 1457.9,3280.2 1461.0,3287.6 1464.1,3295.0 1467.0,3302.4 1469.9,3309.9 1472.7,3317.4 1475.5,3324.9 1478.2,3332.4 1480.8,3340.0 1483.5,3347.5 1486.0,3355.1 1488.5,3362.7 1491.0,3370.3 1493.5,3377.9 1495.9,3385.6 1498.2,3393.2 1500.6,3400.9 1502.9,3408.5 1505.2,3416.2 1507.5,3423.8 1509.7,3431.5 1511.9,3439.2 1514.1,3446.9 1516.3,3454.6 1518.5,3462.3 1520.6,3470.0 1522.8,3477.7 1524.9,3485.4 1527.1,3493.1 1529.2,3500.8 1531.3,3508.6 1533.4,3516.3 1535.5,3524.0 1537.6,3531.7 1539.7,3539.4 1541.8,3547.1 1543.9,3554.9 1546.0,3562.6 1548.1,3570.3 1550.2,3578.0 1552.4,3585.7 1554.5,3593.5 1556.6,3601.2 1558.7,3608.9 1560.9,3616.6 1563.0,3624.3 1565.2,3632.0 1567.3,3639.7 1569.5,3647.4 1571.7,3655.1 1573.9,3662.8 1576.1,3670.5 1578.3,3678.2 1580.6,3685.8 1582.8,3693.5 1585.1,3701.2 1587.4,3708.9 1589.7,3716.5 1592.0,3724.2 1594.3,3731.8 1596.7,3739.5 1599.0,3747.1 1601.4,3754.7 1603.8,3762.4 1606.3,3770.0 1608.7,3777.6 1611.2,3785.2 1613.7,3792.8 1616.2,3800.4 1618.8,3808.0 1621.4,3815.6 1624.0,3823.1 1626.6,3830.7 1629.3,3838.2 1632.0,3845.8 1634.7,3853.3 1637.4,3860.8 1640.2,3868.3 1643.0,3875.8 1645.9,3883.2 1648.8,3890.7 1651.7,3898.1 1654.7,3905.6 1657.7,3913.0 1660.8,3920.4 1663.9,3927.7 1667.0,3935.1 1670.2,3942.4 1673.5,3949.7 1676.8,3957.0 1680.1,3964.3 1683.6,3971.5 1687.0,3978.7 1690.6,3985.9 1694.2,3993.1 1697.8,4000.2 1701.6,4007.2 1705.4,4014.3 1709.3,4021.3 1713.3,4028.2 1717.3,4035.1 1721.5,4041.9 1725.7,4048.7 1730.0,4055.4 1734.5,4062.1 1739.0,4068.7 1743.6,4075.2 1748.4,4081.7 1753.2,4088.0 1758.1,4094.3 1763.2,4100.5 1768.3,4106.7 1773.6,4112.7 1779.0,4118.6 1784.4,4124.5 1790.0,4130.2 1795.7,4135.8 1801.5,4141.4 1807.4,4146.8 1813.4,4152.1 1819.4,4157.3 1825.6,4162.3 1831.9,4167.3 1838.3,4172.1 1844.7,4176.9 1851.3,4181.5 1857.9,4186.0 1864.6,4190.3 1871.4,4194.6 1878.2,4198.7 1885.1,4202.8 1892.1,4206.7 1899.1,4210.5 1906.2,4214.2 1913.3,4217.8 1920.5,4221.3 1927.8,4224.7 1935.1,4228.0 1942.4,4231.2 1949.8,4234.3 1957.2,4237.3 1964.7,4240.2 1972.2,4243.0 1979.7,4245.7 1987.2,4248.4 1994.8,4251.0 2002.4,4253.5 2010.0,4255.9 2017.6,4258.3 2025.3,4260.6 2033.0,4262.8 2040.7,4265.0 2048.4,4267.1 2056.1,4269.2 2063.9,4271.2 2071.6,4273.2 2079.4,4275.1 2087.2,4277.0 2094.9,4278.8 2102.7,4280.6 2110.5,4282.4 2118.4,4284.1 2126.2,4285.8 2134.0,4287.5 2134.0,4287.5" stroke="#0A70E0"/>
<path d="M402.6,4286.2 404.6,4285.8 412.4,4284.1 420.2,4282.5 428.0,4280.7 435.8,4279.0 443.6,4277.2 451.4,4275.4 459.2,4273.5 467.0,4271.5 474.7,4269.6 482.5,4267.5 490.2,4265.5 497.9,4263.3 505.6,4261.1 513.3,4258.9 520.9,4256.6 528.6,4254.2 536.2,4251.7 543.8,4249.2 551.3,4246.6 558.9,4243.9 566.4,4241.1 573.9,4238.3 581.3,4235.3 588.7,4232.3 596.1,4229.2 603.4,4226.0 610.7,4222.6 617.9,4219.2 625.1,4215.7 632.2,4212.0 639.3,4208.3 646.3,4204.4 653.3,4200.5 660.1,4196.4 667.0,4192.2 673.7,4187.9 680.4,4183.5 687.0,4179.0 693.5,4174.3 699.9,4169.5 706.3,4164.7 712.5,4159.7 718.7,4154.5 724.7,4149.3 730.7,4144.0 736.5,4138.5 742.3,4133.0 747.9,4127.3 753.5,4121.5 758.9,4115.7 764.3,4109.7 769.5,4103.7 774.7,4097.5 779.7,4091.3 784.6,4085.0 789.4,4078.6 794.1,4072.1 798.8,4065.6 803.3,4059.0 807.7,4052.3 812.0,4045.6 816.3,4038.8 820.4,4032.0 824.5,4025.1 828.5,4018.1 832.4,4011.1 836.2,4004.1 839.9,3997.0 843.6,3989.9 847.2,3982.8 850.7,3975.6 854.2,3968.4 857.6,3961.2 861.0,3953.9 864.3,3946.6 867.6,3939.3 870.8,3932.0 873.9,3924.6 877.0,3917.2 880.1,3909.9 883.1,3902.4 886.1,3895.0 889.0,3887.6 891.9,3880.1 894.8,3872.6 897.6,3865.2 900.4,3857.7 903.1,3850.1 905.9,3842.6 908.6,3835.1 911.2,3827.5 913.9,3820.0 916.5,3812.4 919.1,3804.8 921.6,3797.3 924.1,3789.7 926.7,3782.1 929.1,3774.5 931.6,3766.8 934.0,3759.2 936.4,3751.6 938.8,3744.0 941.2,3736.3 943.6,3728.7 945.9,3721.0 948.2,3713.4 950.6,3705.7 952.8,3698.0 955.1,3690.4 957.4,3682.7 959.6,3675.0 961.9,3667.3 964.1,3659.6 966.3,3651.9 968.5,3644.2 970.7,3636.5 972.8,3628.8 975.0,3621.1 977.2,3613.4 979.3,3605.7 981.5,3598.0 983.6,3590.3 985.8,3582.6 987.9,3574.9 990.0,3567.2 992.1,3559.5 994.3,3551.7 996.4,3544.0 998.5,3536.3 1000.7,3528.6 1002.8,3520.9 1004.9,3513.2 1007.1,3505.5 1009.2,3497.7 1011.3,3490.0 1013.5,3482.3 1015.7,3474.6 1017.8,3466.9 1020.0,3459.2 1022.2,3451.5 1024.5,3443.9 1026.7,3436.2 1029.0,3428.5 1031.2,3420.8 1033.6,3413.2 1035.9,3405.5 1038.3,3397.9 1040.6,3390.2 1043.1,3382.6 1045.5,3375.0 1048.0,3367.4 1050.6,3359.8 1053.1,3352.2 1055.8,3344.7 1058.4,3337.1 1061.2,3329.6 1063.9,3322.1 1066.8,3314.6 1069.7,3307.2 1072.7,3299.7 1075.7,3292.3 1078.9,3285.0 1082.1,3277.6 1085.4,3270.4 1088.9,3263.2 1092.5,3256.0 1096.2,3248.9 1100.1,3241.9 1104.2,3235.1 1108.5,3228.3 1113.1,3221.8 1118.0,3215.5 1123.4,3209.5 1129.2,3204.1 1135.7,3199.4 1142.9,3195.9 1150.6,3194.4 1158.5,3195.1 1165.9,3198.0 1172.6,3202.4 1178.5,3207.8 1183.8,3213.8 1188.6,3220.1 1193.2,3226.7 1197.4,3233.6 1201.2,3240.6 1204.6,3247.8 1207.7,3255.2 1210.4,3262.7 1212.9,3270.3 1215.1,3278.0 1217.1,3285.8 1218.9,3293.6 1220.5,3301.4 1222.1,3309.2 1223.5,3317.1 1224.8,3325.0 1226.0,3332.9 1227.2,3340.8 1228.3,3348.8 1229.3,3356.7 1230.3,3364.6 1231.2,3372.6 1232.1,3380.5 1233.0,3388.5 1233.9,3396.5 1234.7,3404.4 1235.4,3412.4 1236.2,3420.4 1236.9,3428.3 1237.6,3436.3 1238.3,3444.3 1239.0,3452.2 1239.6,3460.2 1240.3,3468.2 1240.9,3476.2 1241.5,3484.1 1242.1,3492.1 1242.7,3500.1 1243.2,3508.1 1243.8,3516.1 1244.3,3524.1 1244.8,3532.0 1245.4,3540.0 1245.9,3548.0 1246.4,3556.0 1246.9,3564.0 1247.3,3572.0 1247.8,3580.0 1248.3,3588.0 1248.7,3595.9 1249.2,3603.9 1249.6,3611.9 1250.1,3619.9 1250.5,3627.9 1250.9,3635.9 1251.4,3643.9 1251.8,3651.9 1252.2,3659.9 1252.6,3667.9 1253.0,3675.9 1253.3,3683.9 1253.7,3691.8 1254.1,3699.8 1254.4,3707.8 1254.8,3715.8 1255.2,3723.8 1255.5,3731.8 1255.9,3739.8 1256.3,3747.8 1256.6,3755.8 1257.0,3763.8 1257.3,3771.8 1257.7,3779.8 1258.0,3787.8 1258.4,3795.8 1258.7,3803.8 1259.1,3811.8 1259.4,3819.8 1259.8,3827.8 1260.1,3835.7 1260.4,3843.7 1260.8,3851.7 1261.1,3859.7 1261.4,3867.7 1261.8,3875.7 1262.1,3883.7 1262.4,3891.7 1262.7,3899.7 1263.0,3907.7 1263.4,3915.7 1263.7,3923.7 1264.0,3931.7 1264.3,3939.7 1264.6,3947.7 1264.9,3955.7 1265.2,3963.7 1265.4,3971.7 1265.7,3979.7 1266.0,3987.7 1266.3,3995.7 1266.5,4003.7 1266.8,4011.7 1267.1,4019.7 1267.3,4027.7 1267.5,4035.7 1267.8,4043.7 1268.0,4051.7 1268.1,4059.7 1268.3,4067.7 1268.5,4059.7 1268.6,4051.7 1268.8,4043.7 1269.1,4035.7 1269.3,4027.7 1269.5,4019.7 1269.8,4011.7 1270.1,4003.7 1270.3,3995.7 1270.6,3987.7 1270.9,3979.7 1271.2,3971.7 1271.4,3963.7 1271.7,3955.7 1272.0,3947.7 1272.3,3939.7 1272.6,3931.7 1272.9,3923.7 1273.2,3915.7 1273.6,3907.7 1273.9,3899.7 1274.2,3891.7 1274.5,3883.7 1274.8,3875.7 1275.2,3867.7 1275.5,3859.7 1275.8,3851.7 1276.2,3843.7 1276.5,3835.7 1276.8,3827.8 1277.2,3819.8 1277.5,3811.8 1277.9,3803.8 1278.2,3795.8 1278.6,3787.8 1278.9,3779.8 1279.3,3771.8 1279.6,3763.8 1280.0,3755.8 1280.3,3747.8 1280.7,3739.8 1281.1,3731.8 1281.4,3723.8 1281.8,3715.8 1282.2,3707.8 1282.5,3699.8 1282.9,3691.8 1283.3,3683.9 1283.6,3675.9 1284.0,3667.9 1284.4,3659.9 1284.8,3651.9 1285.2,3643.9 1285.7,3635.9 1286.1,3627.9 1286.5,3619.9 1287.0,3611.9 1287.4,3603.9 1287.9,3595.9 1288.3,3588.0 1288.8,3580.0 1289.3,3572.0 1289.7,3564.0 1290.2,3556.0 1290.7,3548.0 1291.2,3540.0 1291.8,3532.0 1292.3,3524.1 1292.8,3516.1 1293.4,3508.1 1293.9,3500.1 1294.5,3492.1 1295.1,3484.1 1295.7,3476.2 1296.3,3468.2 1297.0,3460.2 1297.6,3452.2 1298.3,3444.3 1299.0,3436.3 1299.7,3428.3 1300.4,3420.4 1301.2,3412.4 1301.9,3404.4 1302.7,3396.5 1303.6,3388.5 1304.5,3380.5 1305.4,3372.6 1306.3,3364.6 1307.3,3356.7 1308.3,3348.8 1309.4,3340.8 1310.6,3332.9 1311.8,3325.0 1313.1,3317.1 1314.5,3309.2 1316.1,3301.4 1317.7,3293.6 1319.5,3285.8 1321.5,3278.0 1323.7,3270.3 1326.2,3262.7 1328.9,3255.2 1332.0,3247.8 1335.4,3240.6 1339.2,3233.6 1343.4,3226.7 1348.0,3220.1 1352.8,3213.8 1358.1,3207.8 1364.0,3202.4 1370.7,3198.0 1378.1,3195.1 1386.0,3194.4 1393.7,3195.9 1400.9,3199.4 1407.4,3204.1 1413.2,3209.5 1418.6,3215.5 1423.5,3221.8 1428.1,3228.3 1432.4,3235.1 1436.5,3241.9 1440.4,3248.9 1444.1,3256.0 1447.7,3263.2 1451.2,3270.4 1454.5,3277.6 1457.7,3285.0 1460.9,3292.3 1463.9,3299.7 1466.9,3307.2 1469.8,3314.6 1472.7,3322.1 1475.4,3329.6 1478.2,3337.1 1480.8,3344.7 1483.5,3352.2 1486.0,3359.8 1488.6,3367.4 1491.1,3375.0 1493.5,3382.6 1496.0,3390.2 1498.3,3397.9 1500.7,3405.5 1503.0,3413.2 1505.4,3420.8 1507.6,3428.5 1509.9,3436.2 1512.1,3443.9 1514.4,3451.5 1516.6,3459.2 1518.8,3466.9 1520.9,3474.6 1523.1,3482.3 1525.3,3490.0 1527.4,3497.7 1529.5,3505.5 1531.7,3513.2 1533.8,3520.9 1535.9,3528.6 1538.1,3536.3 1540.2,3544.0 1542.3,3551.7 1544.5,3559.5 1546.6,3567.2 1548.7,3574.9 1550.8,3582.6 1553.0,3590.3 1555.1,3598.0 1557.3,3605.7 1559.4,3613.4 1561.6,3621.1 1563.8,3628.8 1565.9,3636.5 1568.1,3644.2 1570.3,3651.9 1572.5,3659.6 1574.7,3667.3 1577.0,3675.0 1579.2,3682.7 1581.5,3690.4 1583.8,3698.0 1586.0,3705.7 1588.4,3713.4 1590.7,3721.0 1593.0,3728.7 1595.4,3736.3 1597.8,3744.0 1600.2,3751.6 1602.6,3759.2 1605.0,3766.8 1607.5,3774.5 1609.9,3782.1 1612.5,3789.7 1615.0,3797.3 1617.5,3804.8 1620.1,3812.4 1622.7,3820.0 1625.4,3827.5 1628.0,3835.1 1630.7,3842.6 1633.5,3850.1 1636.2,3857.7 1639.0,3865.2 1641.8,3872.6 1644.7,3880.1 1647.6,3887.6 1650.5,3895.0 1653.5,3902.4 1656.5,3909.9 1659.6,3917.2 1662.7,3924.6 1665.8,3932.0 1669.0,3939.3 1672.3,3946.6 1675.6,3953.9 1679.0,3961.2 1682.4,3968.4 1685.9,3975.6 1689.4,3982.8 1693.0,3989.9 1696.7,3997.0 1700.4,4004.1 1704.2,4011.1 1708.1,4018.1 1712.1,4025.1 1716.2,4032.0 1720.3,4038.8 1724.6,4045.6 1728.9,4052.3 1733.3,4059.0 1737.8,4065.6 1742.5,4072.1 1747.2,4078.6 1752.0,4085.0 1756.9,4091.3 1761.9,4097.5 1767.1,4103.7 1772.3,4109.7 1777.7,4115.7 1783.1,4121.5 1788.7,4127.3 1794.3,4133.0 1800.1,4138.5 1805.9,4144.0 1811.9,4149.3 1817.9,4154.5 1824.1,4159.7 1830.3,4164.7 1836.7,4169.5 1843.1,4174.3 1849.6,4179.0 1856.2,4183.5 1862.9,4187.9 1869.6,4192.2 1876.5,4196.4 1883.3,4200.5 1890.3,4204.4 1897.3,4208.3 1904.4,4212.0 1911.5,4215.7 1918.7,4219.2 1925.9,4222.6 1933.2,4226.0 1940.5,4229.2 1947.9,4232.3 1955.3,4235.3 1962.7,4238.3 1970.2,4241.1 1977.7,4243.9 1985.3,4246.6 1992.8,4249.2 2000.4,4251.7 2008.0,4254.2 2015.7,4256.6 2023.3,4258.9 2031.0,4261.1 2038.7,4263.3 2046.4,4265.5 2054.1,4267.5 2061.9,4269.6 2069.6,4271.5 2077.4,4273.5 2085.2,4275.4 2093.0,4277.2 2100.8,4279.0 2108.6,4280.7 2116.4,4282.5 2124.2,4284.1 2132.0,4285.8 2134.0,4286.2" stroke="#1AAD66"/>
<path d="M402.6,4284.9 406.5,4284.1 414.4,4282.5 422.2,4280.8 430.0,4279.1 437.8,4277.3 445.6,4275.5 453.4,4273.7 461.2,4271.8 469.0,4269.9 476.7,4267.9 484.5,4265.9 492.2,4263.8 499.9,4261.7 507.6,4259.5 515.3,4257.2 522.9,4254.8 530.6,4252.4 538.2,4250.0 545.8,4247.4 553.3,4244.8 560.8,4242.1 568.3,4239.3 575.8,4236.4 583.2,4233.4 590.6,4230.4 598.0,4227.2 605.3,4223.9 612.6,4220.6 619.8,4217.1 626.9,4213.5 634.1,4209.9 641.1,4206.1 648.1,4202.2 655.0,4198.2 661.9,4194.0 668.7,4189.8 675.4,4185.5 682.1,4181.0 688.6,4176.4 695.1,4171.7 701.5,4166.9 707.8,4162.0 714.0,4157.0 720.2,4151.8 726.2,4146.5 732.1,4141.2 738.0,4135.7 743.7,4130.1 749.3,4124.4 754.8,4118.6 760.3,4112.7 765.6,4106.7 770.8,4100.7 775.9,4094.5 780.9,4088.3 785.8,4081.9 790.6,4075.5 795.3,4069.1 800.0,4062.5 804.5,4055.9 808.9,4049.2 813.2,4042.5 817.4,4035.7 821.6,4028.9 825.6,4022.0 829.6,4015.0 833.5,4008.0 837.3,4001.0 841.1,3993.9 844.8,3986.8 848.4,3979.7 851.9,3972.5 855.4,3965.3 858.8,3958.0 862.2,3950.8 865.5,3943.5 868.8,3936.2 872.0,3928.8 875.1,3921.5 878.2,3914.1 881.3,3906.7 884.3,3899.3 887.3,3891.9 890.2,3884.4 893.1,3877.0 896.0,3869.5 898.8,3862.0 901.6,3854.5 904.4,3847.0 907.1,3839.5 909.8,3831.9 912.5,3824.4 915.1,3816.8 917.7,3809.3 920.3,3801.7 922.9,3794.1 925.4,3786.5 927.9,3778.9 930.4,3771.3 932.9,3763.7 935.3,3756.0 937.7,3748.4 940.1,3740.8 942.5,3733.1 944.9,3725.5 947.2,3717.8 949.6,3710.2 951.9,3702.5 954.2,3694.9 956.5,3687.2 958.7,3679.5 961.0,3671.8 963.2,3664.1 965.5,3656.4 967.7,3648.8 969.9,3641.1 972.1,3633.4 974.3,3625.7 976.5,3618.0 978.6,3610.3 980.8,3602.6 983.0,3594.9 985.1,3587.1 987.3,3579.4 989.5,3571.7 991.6,3564.0 993.8,3556.3 995.9,3548.6 998.1,3540.9 1000.2,3533.2 1002.4,3525.5 1004.5,3517.8 1006.7,3510.0 1008.8,3502.3 1011.0,3494.6 1013.2,3486.9 1015.4,3479.2 1017.6,3471.5 1019.8,3463.8 1022.0,3456.2 1024.3,3448.5 1026.5,3440.8 1028.8,3433.1 1031.1,3425.5 1033.4,3417.8 1035.8,3410.1 1038.2,3402.5 1040.6,3394.9 1043.0,3387.2 1045.5,3379.6 1048.0,3372.0 1050.6,3364.4 1053.2,3356.9 1055.8,3349.3 1058.5,3341.8 1061.2,3334.3 1064.0,3326.8 1066.9,3319.3 1069.8,3311.8 1072.8,3304.4 1075.9,3297.0 1079.1,3289.7 1082.3,3282.4 1085.7,3275.1 1089.2,3267.9 1092.8,3260.8 1096.6,3253.7 1100.6,3246.7 1104.7,3239.9 1109.1,3233.2 1113.8,3226.7 1118.8,3220.5 1124.2,3214.6 1130.2,3209.3 1136.9,3204.9 1144.2,3201.9 1152.1,3200.9 1159.9,3202.2 1167.1,3205.6 1173.5,3210.4 1179.2,3216.0 1184.3,3222.2 1189.0,3228.7 1193.3,3235.4 1197.4,3242.3 1201.0,3249.4 1204.4,3256.7 1207.3,3264.1 1210.0,3271.7 1212.4,3279.3 1214.6,3287.0 1216.6,3294.8 1218.4,3302.6 1220.0,3310.4 1221.6,3318.2 1223.0,3326.1 1224.3,3334.0 1225.5,3341.9 1226.7,3349.9 1227.8,3357.8 1228.8,3365.7 1229.8,3373.7 1230.8,3381.6 1231.7,3389.6 1232.5,3397.5 1233.4,3405.5 1234.2,3413.4 1234.9,3421.4 1235.7,3429.4 1236.4,3437.4 1237.1,3445.3 1237.8,3453.3 1238.5,3461.3 1239.1,3469.3 1239.8,3477.2 1240.4,3485.2 1241.0,3493.2 1241.6,3501.2 1242.2,3509.2 1242.7,3517.2 1243.3,3525.1 1243.8,3533.1 1244.3,3541.1 1244.9,3549.1 1245.4,3557.1 1245.9,3565.1 1246.4,3573.1 1246.9,3581.1 1247.3,3589.1 1247.8,3597.0 1248.3,3605.0 1248.7,3613.0 1249.2,3621.0 1249.6,3629.0 1250.0,3637.0 1250.5,3645.0 1250.9,3653.0 1251.3,3661.0 1251.7,3669.0 1252.1,3677.0 1252.5,3685.0 1252.9,3693.0 1253.3,3701.0 1253.7,3709.0 1254.0,3717.0 1254.4,3725.0 1254.8,3732.9 1255.1,3740.9 1255.5,3748.9 1255.9,3756.9 1256.2,3764.9 1256.6,3772.9 1257.0,3780.9 1257.3,3788.9 1257.7,3796.9 1258.0,3804.9 1258.4,3812.9 1258.7,3820.9 1259.1,3828.9 1259.4,3836.9 1259.8,3844.9 1260.1,3852.9 1260.5,3860.9 1260.8,3868.9 1261.1,3876.9 1261.5,3884.9 1261.8,3892.9 1262.1,3900.9 1262.5,3908.9 1262.8,3916.9 1263.1,3924.9 1263.4,3932.9 1263.8,3940.9 1264.1,3948.9 1264.4,3956.9 1264.7,3964.9 1265.0,3972.9 1265.3,3980.9 1265.6,3988.9 1265.9,3996.9 1266.2,4004.9 1266.4,4012.9 1266.7,4020.9 1267.0,4028.9 1267.2,4036.9 1267.5,4044.9 1267.7,4052.9 1267.9,4060.9 1268.1,4068.9 1268.3,4076.9 1268.5,4068.9 1268.7,4060.9 1268.9,4052.9 1269.1,4044.9 1269.4,4036.9 1269.6,4028.9 1269.9,4020.9 1270.2,4012.9 1270.4,4004.9 1270.7,3996.9 1271.0,3988.9 1271.3,3980.9 1271.6,3972.9 1271.9,3964.9 1272.2,3956.9 1272.5,3948.9 1272.8,3940.9 1273.2,3932.9 1273.5,3924.9 1273.8,3916.9 1274.1,3908.9 1274.5,3900.9 1274.8,3892.9 1275.1,3884.9 1275.5,3876.9 1275.8,3868.9 1276.1,3860.9 1276.5,3852.9 1276.8,3844.9 1277.2,3836.9 1277.5,3828.9 1277.9,3820.9 1278.2,3812.9 1278.6,3804.9 1278.9,3796.9 1279.3,3788.9 1279.6,3780.9 1280.0,3772.9 1280.4,3764.9 1280.7,3756.9 1281.1,3748.9 1281.5,3740.9 1281.8,3732.9 1282.2,3725.0 1282.6,3717.0 1282.9,3709.0 1283.3,3701.0 1283.7,3693.0 1284.1,3685.0 1284.5,3677.0 1284.9,3669.0 1285.3,3661.0 1285.7,3653.0 1286.1,3645.0 1286.6,3637.0 1287.0,3629.0 1287.4,3621.0 1287.9,3613.0 1288.3,3605.0 1288.8,3597.0 1289.3,3589.1 1289.7,3581.1 1290.2,3573.1 1290.7,3565.1 1291.2,3557.1 1291.7,3549.1 1292.3,3541.1 1292.8,3533.1 1293.3,3525.1 1293.9,3517.2 1294.4,3509.2 1295.0,3501.2 1295.6,3493.2 1296.2,3485.2 1296.8,3477.2 1297.5,3469.3 1298.1,3461.3 1298.8,3453.3 1299.5,3445.3 1300.2,3437.4 1300.9,3429.4 1301.7,3421.4 1302.4,3413.4 1303.2,3405.5 1304.1,3397.5 1304.9,3389.6 1305.8,3381.6 1306.8,3373.7 1307.8,3365.7 1308.8,3357.8 1309.9,3349.9 1311.1,3341.9 1312.3,3334.0 1313.6,3326.1 1315.0,3318.2 1316.6,3310.4 1318.2,3302.6 1320.0,3294.8 1322.0,3287.0 1324.2,3279.3 1326.6,3271.7 1329.3,3264.1 1332.2,3256.7 1335.6,3249.4 1339.2,3242.3 1343.3,3235.4 1347.6,3228.7 1352.3,3222.2 1357.4,3216.0 1363.1,3210.4 1369.5,3205.6 1376.7,3202.2 1384.5,3200.9 1392.4,3201.9 1399.7,3204.9 1406.4,3209.3 1412.4,3214.6 1417.8,3220.5 1422.8,3226.7 1427.5,3233.2 1431.9,3239.9 1436.0,3246.7 1440.0,3253.7 1443.8,3260.8 1447.4,3267.9 1450.9,3275.1 1454.3,3282.4 1457.5,3289.7 1460.7,3297.0 1463.8,3304.4 1466.8,3311.8 1469.7,3319.3 1472.6,3326.8 1475.4,3334.3 1478.1,3341.8 1480.8,3349.3 1483.4,3356.9 1486.0,3364.4 1488.6,3372.0 1491.1,3379.6 1493.6,3387.2 1496.0,3394.9 1498.4,3402.5 1500.8,3410.1 1503.2,3417.8 1505.5,3425.5 1507.8,3433.1 1510.1,3440.8 1512.3,3448.5 1514.6,3456.2 1516.8,3463.8 1519.0,3471.5 1521.2,3479.2 1523.4,3486.9 1525.6,3494.6 1527.8,3502.3 1529.9,3510.0 1532.1,3517.8 1534.2,3525.5 1536.4,3533.2 1538.5,3540.9 1540.7,3548.6 1542.8,3556.3 1545.0,3564.0 1547.1,3571.7 1549.3,3579.4 1551.5,3587.1 1553.6,3594.9 1555.8,3602.6 1558.0,3610.3 1560.1,3618.0 1562.3,3625.7 1564.5,3633.4 1566.7,3641.1 1568.9,3648.8 1571.1,3656.4 1573.4,3664.1 1575.6,3671.8 1577.9,3679.5 1580.1,3687.2 1582.4,3694.9 1584.7,3702.5 1587.0,3710.2 1589.4,3717.8 1591.7,3725.5 1594.1,3733.1 1596.5,3740.8 1598.9,3748.4 1601.3,3756.0 1603.7,3763.7 1606.2,3771.3 1608.7,3778.9 1611.2,3786.5 1613.7,3794.1 1616.3,3801.7 1618.9,3809.3 1621.5,3816.8 1624.1,3824.4 1626.8,3831.9 1629.5,3839.5 1632.2,3847.0 1635.0,3854.5 1637.8,3862.0 1640.6,3869.5 1643.5,3877.0 1646.4,3884.4 1649.3,3891.9 1652.3,3899.3 1655.3,3906.7 1658.4,3914.1 1661.5,3921.5 1664.6,3928.8 1667.8,3936.2 1671.1,3943.5 1674.4,3950.8 1677.8,3958.0 1681.2,3965.3 1684.7,3972.5 1688.2,3979.7 1691.8,3986.8 1695.5,3993.9 1699.3,4001.0 1703.1,4008.0 1707.0,4015.0 1711.0,4022.0 1715.0,4028.9 1719.2,4035.7 1723.4,4042.5 1727.7,4049.2 1732.1,4055.9 1736.6,4062.5 1741.3,4069.1 1746.0,4075.5 1750.8,4081.9 1755.7,4088.3 1760.7,4094.5 1765.8,4100.7 1771.0,4106.7 1776.3,4112.7 1781.8,4118.6 1787.3,4124.4 1792.9,4130.1 1798.6,4135.7 1804.5,4141.2 1810.4,4146.5 1816.4,4151.8 1822.6,4157.0 1828.8,4162.0 1835.1,4166.9 1841.5,4171.7 1848.0,4176.4 1854.5,4181.0 1861.2,4185.5 1867.9,4189.8 1874.7,4194.0 1881.6,4198.2 1888.5,4202.2 1895.5,4206.1 1902.5,4209.9 1909.7,4213.5 1916.8,4217.1 1924.0,4220.6 1931.3,4223.9 1938.6,4227.2 1946.0,4230.4 1953.4,4233.4 1960.8,4236.4 1968.3,4239.3 1975.8,4242.1 1983.3,4244.8 1990.8,4247.4 1998.4,4250.0 2006.0,4252.4 2013.7,4254.8 2021.3,4257.2 2029.0,4259.5 2036.7,4261.7 2044.4,4263.8 2052.1,4265.9 2059.9,4267.9 2067.6,4269.9 2075.4,4271.8 2083.2,4273.7 2091.0,4275.5 2098.8,4277.3 2106.6,4279.1 2114.4,4280.8 2122.2,4282.5 2130.1,4284.1 2134.0,4284.9" stroke="#C078E0"/>
<path d="M402.6,4283.7 402.6,4283.7 410.4,4282.1 418.3,4280.4 426.1,4278.7 433.9,4277.0 441.7,4275.3 449.5,4273.5 457.3,4271.6 465.1,4269.7 472.8,4267.8 480.6,4265.8 488.3,4263.7 496.0,4261.6 503.7,4259.5 511.4,4257.2 519.1,4254.9 526.7,4252.6 534.3,4250.1 541.9,4247.6 549.5,4245.0 557.0,4242.3 564.5,4239.6 572.0,4236.7 579.5,4233.8 586.9,4230.8 594.2,4227.7 601.6,4224.4 608.8,4221.1 616.1,4217.7 623.3,4214.2 630.4,4210.5 637.5,4206.8 644.5,4203.0 651.4,4199.0 658.3,4194.9 665.1,4190.7 671.9,4186.4 678.6,4182.0 685.2,4177.5 691.7,4172.9 698.1,4168.1 704.4,4163.2 710.7,4158.2 716.9,4153.1 722.9,4147.9 728.9,4142.6 734.8,4137.2 740.6,4131.6 746.2,4126.0 751.8,4120.3 757.3,4114.4 762.7,4108.5 767.9,4102.5 773.1,4096.4 778.2,4090.2 783.2,4083.9 788.0,4077.6 792.8,4071.2 797.5,4064.7 802.1,4058.1 806.5,4051.5 810.9,4044.8 815.2,4038.0 819.4,4031.2 823.6,4024.4 827.6,4017.5 831.6,4010.5 835.4,4003.5 839.3,3996.5 843.0,3989.4 846.7,3982.3 850.2,3975.2 853.8,3968.0 857.2,3960.8 860.7,3953.5 864.0,3946.3 867.3,3939.0 870.6,3931.7 873.8,3924.3 876.9,3917.0 880.0,3909.6 883.1,3902.2 886.1,3894.8 889.1,3887.4 892.0,3879.9 894.9,3872.5 897.7,3865.0 900.6,3857.5 903.4,3850.0 906.1,3842.5 908.8,3835.0 911.5,3827.5 914.2,3819.9 916.8,3812.4 919.4,3804.8 922.0,3797.2 924.6,3789.6 927.1,3782.0 929.6,3774.5 932.1,3766.8 934.6,3759.2 937.0,3751.6 939.4,3744.0 941.8,3736.4 944.2,3728.7 946.6,3721.1 948.9,3713.4 951.3,3705.8 953.6,3698.1 955.9,3690.5 958.2,3682.8 960.5,3675.1 962.7,3667.4 965.0,3659.8 967.2,3652.1 969.4,3644.4 971.7,3636.7 973.9,3629.0 976.1,3621.3 978.3,3613.6 980.5,3606.0 982.7,3598.3 984.8,3590.6 987.0,3582.9 989.2,3575.2 991.4,3567.5 993.5,3559.8 995.7,3552.1 997.9,3544.4 1000.1,3536.7 1002.2,3529.0 1004.4,3521.3 1006.6,3513.6 1008.8,3505.9 1011.0,3498.2 1013.2,3490.5 1015.4,3482.8 1017.6,3475.1 1019.8,3467.4 1022.1,3459.7 1024.4,3452.1 1026.6,3444.4 1028.9,3436.7 1031.3,3429.1 1033.6,3421.4 1036.0,3413.8 1038.4,3406.2 1040.8,3398.5 1043.3,3390.9 1045.8,3383.3 1048.3,3375.7 1050.9,3368.2 1053.5,3360.6 1056.1,3353.1 1058.9,3345.5 1061.6,3338.0 1064.5,3330.5 1067.3,3323.1 1070.3,3315.6 1073.3,3308.2 1076.5,3300.9 1079.7,3293.5 1083.0,3286.3 1086.4,3279.0 1089.9,3271.8 1093.6,3264.7 1097.4,3257.7 1101.5,3250.8 1105.7,3244.0 1110.2,3237.4 1115.0,3231.0 1120.1,3224.9 1125.8,3219.2 1132.0,3214.2 1138.9,3210.2 1146.4,3207.8 1154.4,3207.6 1162.0,3209.8 1168.9,3213.8 1174.9,3219.0 1180.3,3224.9 1185.2,3231.2 1189.7,3237.9 1193.8,3244.7 1197.7,3251.7 1201.2,3258.9 1204.4,3266.2 1207.3,3273.7 1209.9,3281.3 1212.2,3288.9 1214.3,3296.6 1216.3,3304.4 1218.0,3312.2 1219.7,3320.0 1221.2,3327.9 1222.6,3335.7 1223.9,3343.6 1225.1,3351.5 1226.3,3359.5 1227.4,3367.4 1228.4,3375.3 1229.4,3383.3 1230.3,3391.2 1231.2,3399.2 1232.1,3407.1 1232.9,3415.1 1233.7,3423.0 1234.5,3431.0 1235.3,3439.0 1236.0,3446.9 1236.7,3454.9 1237.4,3462.9 1238.0,3470.8 1238.7,3478.8 1239.3,3486.8 1239.9,3494.8 1240.5,3502.7 1241.1,3510.7 1241.7,3518.7 1242.3,3526.7 1242.8,3534.7 1243.4,3542.7 1243.9,3550.6 1244.4,3558.6 1244.9,3566.6 1245.4,3574.6 1245.9,3582.6 1246.4,3590.6 1246.9,3598.5 1247.4,3606.5 1247.8,3614.5 1248.3,3622.5 1248.7,3630.5 1249.2,3638.5 1249.6,3646.5 1250.0,3654.5 1250.5,3662.5 1250.9,3670.4 1251.3,3678.4 1251.7,3686.4 1252.1,3694.4 1252.5,3702.4 1252.9,3710.4 1253.3,3718.4 1253.6,3726.4 1254.0,3734.4 1254.4,3742.4 1254.8,3750.4 1255.1,3758.3 1255.5,3766.3 1255.9,3774.3 1256.2,3782.3 1256.6,3790.3 1257.0,3798.3 1257.3,3806.3 1257.7,3814.3 1258.0,3822.3 1258.4,3830.3 1258.8,3838.3 1259.1,3846.3 1259.5,3854.3 1259.8,3862.3 1260.2,3870.2 1260.5,3878.2 1260.9,3886.2 1261.2,3894.2 1261.5,3902.2 1261.9,3910.2 1262.2,3918.2 1262.5,3926.2 1262.9,3934.2 1263.2,3942.2 1263.5,3950.2 1263.9,3958.2 1264.2,3966.2 1264.5,3974.2 1264.8,3982.2 1265.1,3990.2 1265.4,3998.2 1265.7,4006.1 1266.0,4014.1 1266.3,4022.1 1266.6,4030.1 1266.9,4038.1 1267.1,4046.1 1267.4,4054.1 1267.7,4062.1 1267.9,4070.1 1268.1,4078.1 1268.3,4086.1 1268.5,4078.1 1268.7,4070.1 1268.9,4062.1 1269.2,4054.1 1269.5,4046.1 1269.7,4038.1 1270.0,4030.1 1270.3,4022.1 1270.6,4014.1 1270.9,4006.1 1271.2,3998.2 1271.5,3990.2 1271.8,3982.2 1272.1,3974.2 1272.4,3966.2 1272.7,3958.2 1273.1,3950.2 1273.4,3942.2 1273.7,3934.2 1274.1,3926.2 1274.4,3918.2 1274.7,3910.2 1275.1,3902.2 1275.4,3894.2 1275.7,3886.2 1276.1,3878.2 1276.4,3870.2 1276.8,3862.3 1277.1,3854.3 1277.5,3846.3 1277.8,3838.3 1278.2,3830.3 1278.6,3822.3 1278.9,3814.3 1279.3,3806.3 1279.6,3798.3 1280.0,3790.3 1280.4,3782.3 1280.7,3774.3 1281.1,3766.3 1281.5,3758.3 1281.8,3750.4 1282.2,3742.4 1282.6,3734.4 1283.0,3726.4 1283.3,3718.4 1283.7,3710.4 1284.1,3702.4 1284.5,3694.4 1284.9,3686.4 1285.3,3678.4 1285.7,3670.4 1286.1,3662.5 1286.6,3654.5 1287.0,3646.5 1287.4,3638.5 1287.9,3630.5 1288.3,3622.5 1288.8,3614.5 1289.2,3606.5 1289.7,3598.5 1290.2,3590.6 1290.7,3582.6 1291.2,3574.6 1291.7,3566.6 1292.2,3558.6 1292.7,3550.6 1293.2,3542.7 1293.8,3534.7 1294.3,3526.7 1294.9,3518.7 1295.5,3510.7 1296.1,3502.7 1296.7,3494.8 1297.3,3486.8 1297.9,3478.8 1298.6,3470.8 1299.2,3462.9 1299.9,3454.9 1300.6,3446.9 1301.3,3439.0 1302.1,3431.0 1302.9,3423.0 1303.7,3415.1 1304.5,3407.1 1305.4,3399.2 1306.3,3391.2 1307.2,3383.3 1308.2,3375.3 1309.2,3367.4 1310.3,3359.5 1311.5,3351.5 1312.7,3343.6 1314.0,3335.7 1315.4,3327.9 1316.9,3320.0 1318.6,3312.2 1320.3,3304.4 1322.3,3296.6 1324.4,3288.9 1326.7,3281.3 1329.3,3273.7 1332.2,3266.2 1335.4,3258.9 1338.9,3251.7 1342.8,3244.7 1346.9,3237.9 1351.4,3231.2 1356.3,3224.9 1361.7,3219.0 1367.7,3213.8 1374.6,3209.8 1382.2,3207.6 1390.2,3207.8 1397.7,3210.2 1404.6,3214.2 1410.8,3219.2 1416.5,3224.9 1421.6,3231.0 1426.4,3237.4 1430.9,3244.0 1435.1,3250.8 1439.2,3257.7 1443.0,3264.7 1446.7,3271.8 1450.2,3279.0 1453.6,3286.3 1456.9,3293.5 1460.1,3300.9 1463.3,3308.2 1466.3,3315.6 1469.3,3323.1 1472.1,3330.5 1475.0,3338.0 1477.7,3345.5 1480.5,3353.1 1483.1,3360.6 1485.7,3368.2 1488.3,3375.7 1490.8,3383.3 1493.3,3390.9 1495.8,3398.5 1498.2,3406.2 1500.6,3413.8 1503.0,3421.4 1505.3,3429.1 1507.7,3436.7 1510.0,3444.4 1512.2,3452.1 1514.5,3459.7 1516.8,3467.4 1519.0,3475.1 1521.2,3482.8 1523.4,3490.5 1525.6,3498.2 1527.8,3505.9 1530.0,3513.6 1532.2,3521.3 1534.4,3529.0 1536.5,3536.7 1538.7,3544.4 1540.9,3552.1 1543.1,3559.8 1545.2,3567.5 1547.4,3575.2 1549.6,3582.9 1551.8,3590.6 1553.9,3598.3 1556.1,3606.0 1558.3,3613.6 1560.5,3621.3 1562.7,3629.0 1564.9,3636.7 1567.2,3644.4 1569.4,3652.1 1571.6,3659.8 1573.9,3667.4 1576.1,3675.1 1578.4,3682.8 1580.7,3690.5 1583.0,3698.1 1585.3,3705.8 1587.7,3713.4 1590.0,3721.1 1592.4,3728.7 1594.8,3736.4 1597.2,3744.0 1599.6,3751.6 1602.0,3759.2 1604.5,3766.8 1607.0,3774.5 1609.5,3782.0 1612.0,3789.6 1614.6,3797.2 1617.2,3804.8 1619.8,3812.4 1622.4,3819.9 1625.1,3827.5 1627.8,3835.0 1630.5,3842.5 1633.2,3850.0 1636.0,3857.5 1638.9,3865.0 1641.7,3872.5 1644.6,3879.9 1647.5,3887.4 1650.5,3894.8 1653.5,3902.2 1656.6,3909.6 1659.7,3917.0 1662.8,3924.3 1666.0,3931.7 1669.3,3939.0 1672.6,3946.3 1675.9,3953.5 1679.4,3960.8 1682.8,3968.0 1686.4,3975.2 1689.9,3982.3 1693.6,3989.4 1697.3,3996.5 1701.2,4003.5 1705.0,4010.5 1709.0,4017.5 1713.0,4024.4 1717.2,4031.2 1721.4,4038.0 1725.7,4044.8 1730.1,4051.5 1734.5,4058.1 1739.1,4064.7 1743.8,4071.2 1748.6,4077.6 1753.4,4083.9 1758.4,4090.2 1763.5,4096.4 1768.7,4102.5 1773.9,4108.5 1779.3,4114.4 1784.8,4120.3 1790.4,4126.0 1796.0,4131.6 1801.8,4137.2 1807.7,4142.6 1813.7,4147.9 1819.7,4153.1 1825.9,4158.2 1832.2,4163.2 1838.5,4168.1 1844.9,4172.9 1851.4,4177.5 1858.0,4182.0 1864.7,4186.4 1871.5,4190.7 1878.3,4194.9 1885.2,4199.0 1892.1,4203.0 1899.1,4206.8 1906.2,4210.5 1913.3,4214.2 1920.5,4217.7 1927.8,4221.1 1935.0,4224.4 1942.4,4227.7 1949.7,4230.8 1957.1,4233.8 1964.6,4236.7 1972.1,4239.6 1979.6,4242.3 1987.1,4245.0 1994.7,4247.6 2002.3,4250.1 2009.9,4252.6 2017.5,4254.9 2025.2,4257.2 2032.9,4259.5 2040.6,4261.6 2048.3,4263.7 2056.0,4265.8 2063.8,4267.8 2071.5,4269.7 2079.3,4271.6 2087.1,4273.5 2094.9,4275.3 2102.7,4277.0 2110.5,4278.7 2118.3,4280.4 2126.2,4282.1 2134.0,4283.7 2134.0,4283.7" stroke="#DA9A00"/>
<path d="M402.6,4282.4 404.6,4282.0 412.4,4280.4 420.2,4278.8 428.1,4277.1 435.9,4275.4 443.7,4273.6 451.5,4271.8 459.3,4270.0 467.1,4268.1 474.8,4266.1 482.6,4264.1 490.3,4262.1 498.0,4259.9 505.7,4257.8 513.4,4255.5 521.1,4253.2 528.7,4250.8 536.3,4248.3 543.9,4245.8 551.5,4243.2 559.0,4240.5 566.5,4237.7 574.0,4234.8 581.4,4231.9 588.8,4228.8 596.2,4225.7 603.5,4222.4 610.7,4219.1 618.0,4215.6 625.1,4212.0 632.2,4208.4 639.3,4204.6 646.3,4200.7 653.2,4196.7 660.1,4192.6 666.9,4188.3 673.6,4184.0 680.2,4179.5 686.8,4175.0 693.3,4170.3 699.7,4165.5 706.0,4160.6 712.2,4155.5 718.4,4150.4 724.4,4145.1 730.4,4139.8 736.2,4134.3 742.0,4128.8 747.6,4123.1 753.2,4117.3 758.6,4111.5 764.0,4105.5 769.2,4099.5 774.4,4093.4 779.4,4087.2 784.4,4080.9 789.3,4074.5 794.0,4068.1 798.7,4061.6 803.3,4055.0 807.7,4048.4 812.1,4041.7 816.4,4034.9 820.6,4028.1 824.8,4021.3 828.8,4014.3 832.8,4007.4 836.6,4000.4 840.5,3993.4 844.2,3986.3 847.9,3979.2 851.5,3972.0 855.0,3964.8 858.5,3957.6 861.9,3950.4 865.2,3943.1 868.5,3935.8 871.8,3928.5 875.0,3921.2 878.1,3913.8 881.2,3906.4 884.3,3899.0 887.3,3891.6 890.3,3884.2 893.2,3876.8 896.1,3869.3 899.0,3861.8 901.8,3854.3 904.6,3846.8 907.4,3839.3 910.1,3831.8 912.8,3824.3 915.5,3816.7 918.1,3809.2 920.7,3801.6 923.3,3794.0 925.9,3786.4 928.4,3778.8 930.9,3771.3 933.4,3763.6 935.9,3756.0 938.3,3748.4 940.8,3740.8 943.2,3733.2 945.6,3725.5 947.9,3717.9 950.3,3710.2 952.6,3702.6 955.0,3694.9 957.3,3687.2 959.6,3679.6 961.9,3671.9 964.1,3664.2 966.4,3656.6 968.7,3648.9 970.9,3641.2 973.1,3633.5 975.4,3625.8 977.6,3618.1 979.8,3610.4 982.0,3602.8 984.2,3595.1 986.4,3587.4 988.6,3579.7 990.8,3572.0 993.0,3564.3 995.2,3556.6 997.4,3548.9 999.6,3541.2 1001.8,3533.5 1004.0,3525.8 1006.2,3518.1 1008.4,3510.4 1010.7,3502.7 1012.9,3495.0 1015.1,3487.3 1017.4,3479.7 1019.6,3472.0 1021.9,3464.3 1024.2,3456.6 1026.5,3449.0 1028.8,3441.3 1031.1,3433.7 1033.5,3426.0 1035.9,3418.4 1038.3,3410.7 1040.7,3403.1 1043.2,3395.5 1045.7,3387.9 1048.3,3380.3 1050.9,3372.8 1053.5,3365.2 1056.2,3357.7 1058.9,3350.1 1061.7,3342.6 1064.6,3335.2 1067.5,3327.7 1070.5,3320.3 1073.5,3312.9 1076.7,3305.5 1079.9,3298.2 1083.2,3290.9 1086.7,3283.7 1090.3,3276.5 1094.0,3269.5 1097.9,3262.5 1102.0,3255.6 1106.3,3248.8 1110.8,3242.3 1115.7,3235.9 1121.0,3229.9 1126.8,3224.4 1133.1,3219.6 1140.2,3215.9 1147.9,3214.0 1155.8,3214.5 1163.3,3217.3 1169.9,3221.7 1175.8,3227.1 1181.0,3233.2 1185.7,3239.7 1190.0,3246.4 1194.0,3253.4 1197.7,3260.4 1201.1,3267.7 1204.1,3275.1 1206.9,3282.6 1209.5,3290.2 1211.8,3297.8 1213.9,3305.6 1215.8,3313.3 1217.6,3321.1 1219.2,3329.0 1220.7,3336.8 1222.1,3344.7 1223.4,3352.6 1224.6,3360.5 1225.8,3368.4 1226.9,3376.4 1227.9,3384.3 1228.9,3392.2 1229.9,3400.2 1230.8,3408.1 1231.6,3416.1 1232.5,3424.1 1233.3,3432.0 1234.0,3440.0 1234.8,3448.0 1235.5,3455.9 1236.2,3463.9 1236.9,3471.9 1237.6,3479.9 1238.2,3487.8 1238.8,3495.8 1239.5,3503.8 1240.1,3511.8 1240.6,3519.8 1241.2,3527.7 1241.8,3535.7 1242.3,3543.7 1242.9,3551.7 1243.4,3559.7 1243.9,3567.7 1244.4,3575.6 1244.9,3583.6 1245.4,3591.6 1245.9,3599.6 1246.4,3607.6 1246.9,3615.6 1247.3,3623.6 1247.8,3631.6 1248.3,3639.6 1248.7,3647.6 1249.1,3655.5 1249.6,3663.5 1250.0,3671.5 1250.4,3679.5 1250.8,3687.5 1251.2,3695.5 1251.7,3703.5 1252.1,3711.5 1252.5,3719.5 1252.8,3727.5 1253.2,3735.5 1253.6,3743.5 1254.0,3751.5 1254.4,3759.5 1254.7,3767.5 1255.1,3775.5 1255.5,3783.5 1255.8,3791.4 1256.2,3799.4 1256.6,3807.4 1256.9,3815.4 1257.3,3823.4 1257.7,3831.4 1258.0,3839.4 1258.4,3847.4 1258.8,3855.4 1259.1,3863.4 1259.5,3871.4 1259.8,3879.4 1260.2,3887.4 1260.5,3895.4 1260.9,3903.4 1261.2,3911.4 1261.6,3919.4 1261.9,3927.4 1262.3,3935.4 1262.6,3943.4 1263.0,3951.4 1263.3,3959.4 1263.6,3967.4 1264.0,3975.4 1264.3,3983.4 1264.6,3991.4 1264.9,3999.3 1265.2,4007.3 1265.6,4015.3 1265.9,4023.3 1266.2,4031.3 1266.5,4039.3 1266.8,4047.3 1267.1,4055.3 1267.3,4063.3 1267.6,4071.3 1267.9,4079.3 1268.1,4087.3 1268.3,4095.3 1268.5,4087.3 1268.7,4079.3 1269.0,4071.3 1269.3,4063.3 1269.5,4055.3 1269.8,4047.3 1270.1,4039.3 1270.4,4031.3 1270.7,4023.3 1271.0,4015.3 1271.4,4007.3 1271.7,3999.3 1272.0,3991.4 1272.3,3983.4 1272.6,3975.4 1273.0,3967.4 1273.3,3959.4 1273.6,3951.4 1274.0,3943.4 1274.3,3935.4 1274.7,3927.4 1275.0,3919.4 1275.4,3911.4 1275.7,3903.4 1276.1,3895.4 1276.4,3887.4 1276.8,3879.4 1277.1,3871.4 1277.5,3863.4 1277.8,3855.4 1278.2,3847.4 1278.6,3839.4 1278.9,3831.4 1279.3,3823.4 1279.7,3815.4 1280.0,3807.4 1280.4,3799.4 1280.8,3791.4 1281.1,3783.5 1281.5,3775.5 1281.9,3767.5 1282.2,3759.5 1282.6,3751.5 1283.0,3743.5 1283.4,3735.5 1283.8,3727.5 1284.1,3719.5 1284.5,3711.5 1284.9,3703.5 1285.4,3695.5 1285.8,3687.5 1286.2,3679.5 1286.6,3671.5 1287.0,3663.5 1287.5,3655.5 1287.9,3647.6 1288.3,3639.6 1288.8,3631.6 1289.3,3623.6 1289.7,3615.6 1290.2,3607.6 1290.7,3599.6 1291.2,3591.6 1291.7,3583.6 1292.2,3575.6 1292.7,3567.7 1293.2,3559.7 1293.7,3551.7 1294.3,3543.7 1294.8,3535.7 1295.4,3527.7 1296.0,3519.8 1296.5,3511.8 1297.1,3503.8 1297.8,3495.8 1298.4,3487.8 1299.0,3479.9 1299.7,3471.9 1300.4,3463.9 1301.1,3455.9 1301.8,3448.0 1302.6,3440.0 1303.3,3432.0 1304.1,3424.1 1305.0,3416.1 1305.8,3408.1 1306.7,3400.2 1307.7,3392.2 1308.7,3384.3 1309.7,3376.4 1310.8,3368.4 1312.0,3360.5 1313.2,3352.6 1314.5,3344.7 1315.9,3336.8 1317.4,3329.0 1319.0,3321.1 1320.8,3313.3 1322.7,3305.6 1324.8,3297.8 1327.1,3290.2 1329.7,3282.6 1332.5,3275.1 1335.5,3267.7 1338.9,3260.4 1342.6,3253.4 1346.6,3246.4 1350.9,3239.7 1355.6,3233.2 1360.8,3227.1 1366.7,3221.7 1373.3,3217.3 1380.8,3214.5 1388.7,3214.0 1396.4,3215.9 1403.5,3219.6 1409.8,3224.4 1415.6,3229.9 1420.9,3235.9 1425.8,3242.3 1430.3,3248.8 1434.6,3255.6 1438.7,3262.5 1442.6,3269.5 1446.3,3276.5 1449.9,3283.7 1453.4,3290.9 1456.7,3298.2 1459.9,3305.5 1463.1,3312.9 1466.1,3320.3 1469.1,3327.7 1472.0,3335.2 1474.9,3342.6 1477.7,3350.1 1480.4,3357.7 1483.1,3365.2 1485.7,3372.8 1488.3,3380.3 1490.9,3387.9 1493.4,3395.5 1495.9,3403.1 1498.3,3410.7 1500.7,3418.4 1503.1,3426.0 1505.5,3433.7 1507.8,3441.3 1510.1,3449.0 1512.4,3456.6 1514.7,3464.3 1517.0,3472.0 1519.2,3479.7 1521.5,3487.3 1523.7,3495.0 1525.9,3502.7 1528.2,3510.4 1530.4,3518.1 1532.6,3525.8 1534.8,3533.5 1537.0,3541.2 1539.2,3548.9 1541.4,3556.6 1543.6,3564.3 1545.8,3572.0 1548.0,3579.7 1550.2,3587.4 1552.4,3595.1 1554.6,3602.8 1556.8,3610.4 1559.0,3618.1 1561.2,3625.8 1563.5,3633.5 1565.7,3641.2 1567.9,3648.9 1570.2,3656.6 1572.5,3664.2 1574.7,3671.9 1577.0,3679.6 1579.3,3687.2 1581.6,3694.9 1584.0,3702.6 1586.3,3710.2 1588.7,3717.9 1591.0,3725.5 1593.4,3733.2 1595.8,3740.8 1598.3,3748.4 1600.7,3756.0 1603.2,3763.6 1605.7,3771.3 1608.2,3778.8 1610.7,3786.4 1613.3,3794.0 1615.9,3801.6 1618.5,3809.2 1621.1,3816.7 1623.8,3824.3 1626.5,3831.8 1629.2,3839.3 1632.0,3846.8 1634.8,3854.3 1637.6,3861.8 1640.5,3869.3 1643.4,3876.8 1646.3,3884.2 1649.3,3891.6 1652.3,3899.0 1655.4,3906.4 1658.5,3913.8 1661.6,3921.2 1664.8,3928.5 1668.1,3935.8 1671.4,3943.1 1674.7,3950.4 1678.1,3957.6 1681.6,3964.8 1685.1,3972.0 1688.7,3979.2 1692.4,3986.3 1696.1,3993.4 1700.0,4000.4 1703.8,4007.4 1707.8,4014.3 1711.8,4021.3 1716.0,4028.1 1720.2,4034.9 1724.5,4041.7 1728.9,4048.4 1733.3,4055.0 1737.9,4061.6 1742.6,4068.1 1747.3,4074.5 1752.2,4080.9 1757.2,4087.2 1762.2,4093.4 1767.4,4099.5 1772.6,4105.5 1778.0,4111.5 1783.4,4117.3 1789.0,4123.1 1794.6,4128.8 1800.4,4134.3 1806.2,4139.8 1812.2,4145.1 1818.2,4150.4 1824.4,4155.5 1830.6,4160.6 1836.9,4165.5 1843.3,4170.3 1849.8,4175.0 1856.4,4179.5 1863.0,4184.0 1869.7,4188.3 1876.5,4192.6 1883.4,4196.7 1890.3,4200.7 1897.3,4204.6 1904.4,4208.4 1911.5,4212.0 1918.6,4215.6 1925.9,4219.1 1933.1,4222.4 1940.4,4225.7 1947.8,4228.8 1955.2,4231.9 1962.6,4234.8 1970.1,4237.7 1977.6,4240.5 1985.1,4243.2 1992.7,4245.8 2000.3,4248.3 2007.9,4250.8 2015.5,4253.2 2023.2,4255.5 2030.9,4257.8 2038.6,4259.9 2046.3,4262.1 2054.0,4264.1 2061.8,4266.1 2069.5,4268.1 2077.3,4270.0 2085.1,4271.8 2092.9,4273.6 2100.7,4275.4 2108.5,4277.1 2116.4,4278.8 2124.2,4280.4 2132.0,4282.0 2134.0,4282.4" stroke="#00CACD"/>
<path d="M402.6,4281.1 408.5,4280.0 416.3,4278.4 424.2,4276.7 432.0,4275.0 439.8,4273.3 447.6,4271.6 455.4,4269.7 463.2,4267.9 470.9,4266.0 478.7,4264.0 486.4,4262.0 494.1,4259.9 501.9,4257.7 509.5,4255.5 517.2,4253.3 524.9,4250.9 532.5,4248.5 540.1,4246.0 547.7,4243.4 555.2,4240.7 562.7,4238.0 570.2,4235.2 577.6,4232.2 585.1,4229.2 592.4,4226.1 599.7,4222.9 607.0,4219.6 614.3,4216.2 621.5,4212.7 628.6,4209.0 635.7,4205.3 642.7,4201.5 649.6,4197.5 656.5,4193.4 663.3,4189.3 670.1,4185.0 676.8,4180.5 683.4,4176.0 689.9,4171.4 696.3,4166.6 702.7,4161.8 708.9,4156.8 715.1,4151.7 721.2,4146.5 727.2,4141.2 733.1,4135.8 738.9,4130.3 744.6,4124.7 750.2,4119.0 755.7,4113.2 761.1,4107.3 766.4,4101.3 771.6,4095.2 776.7,4089.1 781.7,4082.8 786.6,4076.5 791.5,4070.1 796.2,4063.7 800.8,4057.2 805.4,4050.6 809.8,4043.9 814.2,4037.2 818.4,4030.5 822.6,4023.6 826.7,4016.8 830.8,4009.9 834.7,4002.9 838.6,3995.9 842.4,3988.9 846.1,3981.8 849.8,3974.7 853.4,3967.5 856.9,3960.3 860.3,3953.1 863.7,3945.9 867.1,3938.6 870.4,3931.3 873.6,3924.0 876.8,3916.7 880.0,3909.3 883.1,3901.9 886.1,3894.5 889.1,3887.1 892.1,3879.7 895.0,3872.3 897.9,3864.8 900.8,3857.3 903.6,3849.8 906.4,3842.3 909.1,3834.8 911.9,3827.3 914.6,3819.8 917.2,3812.2 919.9,3804.7 922.5,3797.1 925.1,3789.5 927.6,3782.0 930.1,3774.4 932.7,3766.8 935.1,3759.2 937.6,3751.6 940.1,3744.0 942.5,3736.3 944.9,3728.7 947.3,3721.1 949.7,3713.4 952.0,3705.8 954.4,3698.1 956.7,3690.5 959.0,3682.8 961.3,3675.2 963.6,3667.5 965.9,3659.8 968.2,3652.2 970.5,3644.5 972.7,3636.8 975.0,3629.1 977.2,3621.5 979.4,3613.8 981.7,3606.1 983.9,3598.4 986.1,3590.7 988.4,3583.1 990.6,3575.4 992.8,3567.7 995.0,3560.0 997.2,3552.3 999.5,3544.6 1001.7,3536.9 1003.9,3529.3 1006.1,3521.6 1008.4,3513.9 1010.6,3506.2 1012.9,3498.5 1015.1,3490.9 1017.4,3483.2 1019.7,3475.5 1022.0,3467.9 1024.3,3460.2 1026.6,3452.5 1028.9,3444.9 1031.3,3437.2 1033.7,3429.6 1036.1,3422.0 1038.5,3414.4 1041.0,3406.7 1043.5,3399.1 1046.0,3391.6 1048.6,3384.0 1051.2,3376.4 1053.9,3368.9 1056.6,3361.3 1059.3,3353.8 1062.1,3346.4 1065.0,3338.9 1068.0,3331.4 1071.0,3324.0 1074.1,3316.7 1077.3,3309.3 1080.5,3302.0 1083.9,3294.8 1087.4,3287.6 1091.1,3280.5 1094.8,3273.4 1098.8,3266.5 1103.0,3259.6 1107.4,3252.9 1112.0,3246.5 1117.0,3240.2 1122.5,3234.4 1128.5,3229.0 1135.1,3224.6 1142.4,3221.5 1150.2,3220.4 1158.0,3221.8 1165.2,3225.3 1171.5,3230.1 1177.0,3235.9 1182.0,3242.2 1186.5,3248.8 1190.6,3255.6 1194.4,3262.7 1198.0,3269.8 1201.2,3277.1 1204.2,3284.6 1206.9,3292.1 1209.3,3299.7 1211.6,3307.4 1213.6,3315.1 1215.5,3322.9 1217.2,3330.7 1218.8,3338.6 1220.3,3346.4 1221.7,3354.3 1223.0,3362.2 1224.3,3370.1 1225.4,3378.0 1226.5,3385.9 1227.5,3393.9 1228.5,3401.8 1229.5,3409.7 1230.4,3417.7 1231.2,3425.7 1232.1,3433.6 1232.8,3441.6 1233.6,3449.5 1234.4,3457.5 1235.1,3465.5 1235.8,3473.4 1236.5,3481.4 1237.1,3489.4 1237.8,3497.4 1238.4,3505.3 1239.0,3513.3 1239.6,3521.3 1240.2,3529.3 1240.8,3537.2 1241.3,3545.2 1241.9,3553.2 1242.4,3561.2 1243.0,3569.2 1243.5,3577.1 1244.0,3585.1 1244.5,3593.1 1245.0,3601.1 1245.5,3609.1 1246.0,3617.1 1246.4,3625.1 1246.9,3633.0 1247.4,3641.0 1247.8,3649.0 1248.3,3657.0 1248.7,3665.0 1249.1,3673.0 1249.6,3681.0 1250.0,3689.0 1250.4,3696.9 1250.8,3704.9 1251.2,3712.9 1251.6,3720.9 1252.0,3728.9 1252.4,3736.9 1252.8,3744.9 1253.2,3752.9 1253.6,3760.9 1253.9,3768.9 1254.3,3776.9 1254.7,3784.8 1255.1,3792.8 1255.5,3800.8 1255.8,3808.8 1256.2,3816.8 1256.6,3824.8 1256.9,3832.8 1257.3,3840.8 1257.7,3848.8 1258.1,3856.8 1258.4,3864.8 1258.8,3872.8 1259.2,3880.7 1259.5,3888.7 1259.9,3896.7 1260.2,3904.7 1260.6,3912.7 1260.9,3920.7 1261.3,3928.7 1261.7,3936.7 1262.0,3944.7 1262.4,3952.7 1262.7,3960.7 1263.0,3968.7 1263.4,3976.6 1263.7,3984.6 1264.1,3992.6 1264.4,4000.6 1264.7,4008.6 1265.1,4016.6 1265.4,4024.6 1265.7,4032.6 1266.0,4040.6 1266.3,4048.6 1266.7,4056.6 1267.0,4064.6 1267.3,4072.6 1267.5,4080.6 1267.8,4088.6 1268.1,4096.6 1268.3,4104.6 1268.5,4096.6 1268.8,4088.6 1269.1,4080.6 1269.3,4072.6 1269.6,4064.6 1269.9,4056.6 1270.3,4048.6 1270.6,4040.6 1270.9,4032.6 1271.2,4024.6 1271.5,4016.6 1271.9,4008.6 1272.2,4000.6 1272.5,3992.6 1272.9,3984.6 1273.2,3976.6 1273.6,3968.7 1273.9,3960.7 1274.2,3952.7 1274.6,3944.7 1274.9,3936.7 1275.3,3928.7 1275.7,3920.7 1276.0,3912.7 1276.4,3904.7 1276.7,3896.7 1277.1,3888.7 1277.4,3880.7 1277.8,3872.8 1278.2,3864.8 1278.5,3856.8 1278.9,3848.8 1279.3,3840.8 1279.7,3832.8 1280.0,3824.8 1280.4,3816.8 1280.8,3808.8 1281.1,3800.8 1281.5,3792.8 1281.9,3784.8 1282.3,3776.9 1282.7,3768.9 1283.0,3760.9 1283.4,3752.9 1283.8,3744.9 1284.2,3736.9 1284.6,3728.9 1285.0,3720.9 1285.4,3712.9 1285.8,3704.9 1286.2,3696.9 1286.6,3689.0 1287.0,3681.0 1287.5,3673.0 1287.9,3665.0 1288.3,3657.0 1288.8,3649.0 1289.2,3641.0 1289.7,3633.0 1290.2,3625.1 1290.6,3617.1 1291.1,3609.1 1291.6,3601.1 1292.1,3593.1 1292.6,3585.1 1293.1,3577.1 1293.6,3569.2 1294.2,3561.2 1294.7,3553.2 1295.3,3545.2 1295.8,3537.2 1296.4,3529.3 1297.0,3521.3 1297.6,3513.3 1298.2,3505.3 1298.8,3497.4 1299.5,3489.4 1300.1,3481.4 1300.8,3473.4 1301.5,3465.5 1302.2,3457.5 1303.0,3449.5 1303.8,3441.6 1304.5,3433.6 1305.4,3425.7 1306.2,3417.7 1307.1,3409.7 1308.1,3401.8 1309.1,3393.9 1310.1,3385.9 1311.2,3378.0 1312.3,3370.1 1313.6,3362.2 1314.9,3354.3 1316.3,3346.4 1317.8,3338.6 1319.4,3330.7 1321.1,3322.9 1323.0,3315.1 1325.0,3307.4 1327.3,3299.7 1329.7,3292.1 1332.4,3284.6 1335.4,3277.1 1338.6,3269.8 1342.2,3262.7 1346.0,3255.6 1350.1,3248.8 1354.6,3242.2 1359.6,3235.9 1365.1,3230.1 1371.4,3225.3 1378.6,3221.8 1386.4,3220.4 1394.2,3221.5 1401.5,3224.6 1408.1,3229.0 1414.1,3234.4 1419.6,3240.2 1424.6,3246.5 1429.2,3252.9 1433.6,3259.6 1437.8,3266.5 1441.8,3273.4 1445.5,3280.5 1449.2,3287.6 1452.7,3294.8 1456.1,3302.0 1459.3,3309.3 1462.5,3316.7 1465.6,3324.0 1468.6,3331.4 1471.6,3338.9 1474.5,3346.4 1477.3,3353.8 1480.0,3361.3 1482.7,3368.9 1485.4,3376.4 1488.0,3384.0 1490.6,3391.6 1493.1,3399.1 1495.6,3406.7 1498.1,3414.4 1500.5,3422.0 1502.9,3429.6 1505.3,3437.2 1507.7,3444.9 1510.0,3452.5 1512.3,3460.2 1514.6,3467.9 1516.9,3475.5 1519.2,3483.2 1521.5,3490.9 1523.7,3498.5 1526.0,3506.2 1528.2,3513.9 1530.5,3521.6 1532.7,3529.3 1534.9,3536.9 1537.1,3544.6 1539.4,3552.3 1541.6,3560.0 1543.8,3567.7 1546.0,3575.4 1548.2,3583.1 1550.5,3590.7 1552.7,3598.4 1554.9,3606.1 1557.2,3613.8 1559.4,3621.5 1561.6,3629.1 1563.9,3636.8 1566.1,3644.5 1568.4,3652.2 1570.7,3659.8 1573.0,3667.5 1575.3,3675.2 1577.6,3682.8 1579.9,3690.5 1582.2,3698.1 1584.6,3705.8 1586.9,3713.4 1589.3,3721.1 1591.7,3728.7 1594.1,3736.3 1596.5,3744.0 1599.0,3751.6 1601.5,3759.2 1603.9,3766.8 1606.5,3774.4 1609.0,3782.0 1611.5,3789.5 1614.1,3797.1 1616.7,3804.7 1619.4,3812.2 1622.0,3819.8 1624.7,3827.3 1627.5,3834.8 1630.2,3842.3 1633.0,3849.8 1635.8,3857.3 1638.7,3864.8 1641.6,3872.3 1644.5,3879.7 1647.5,3887.1 1650.5,3894.5 1653.5,3901.9 1656.6,3909.3 1659.8,3916.7 1663.0,3924.0 1666.2,3931.3 1669.5,3938.6 1672.9,3945.9 1676.3,3953.1 1679.7,3960.3 1683.2,3967.5 1686.8,3974.7 1690.5,3981.8 1694.2,3988.9 1698.0,3995.9 1701.9,4002.9 1705.8,4009.9 1709.9,4016.8 1714.0,4023.6 1718.2,4030.5 1722.4,4037.2 1726.8,4043.9 1731.2,4050.6 1735.8,4057.2 1740.4,4063.7 1745.1,4070.1 1750.0,4076.5 1754.9,4082.8 1759.9,4089.1 1765.0,4095.2 1770.2,4101.3 1775.5,4107.3 1780.9,4113.2 1786.4,4119.0 1792.0,4124.7 1797.7,4130.3 1803.5,4135.8 1809.4,4141.2 1815.4,4146.5 1821.5,4151.7 1827.7,4156.8 1833.9,4161.8 1840.3,4166.6 1846.7,4171.4 1853.2,4176.0 1859.8,4180.5 1866.5,4185.0 1873.3,4189.3 1880.1,4193.4 1887.0,4197.5 1893.9,4201.5 1900.9,4205.3 1908.0,4209.0 1915.1,4212.7 1922.3,4216.2 1929.6,4219.6 1936.9,4222.9 1944.2,4226.1 1951.5,4229.2 1959.0,4232.2 1966.4,4235.2 1973.9,4238.0 1981.4,4240.7 1988.9,4243.4 1996.5,4246.0 2004.1,4248.5 2011.7,4250.9 2019.4,4253.3 2027.1,4255.5 2034.7,4257.7 2042.5,4259.9 2050.2,4262.0 2057.9,4264.0 2065.7,4266.0 2073.4,4267.9 2081.2,4269.7 2089.0,4271.6 2096.8,4273.3 2104.6,4275.0 2112.4,4276.7 2120.3,4278.4 2128.1,4280.0 2134.0,4281.1" stroke="#864C4C"/>
<path d="M402.6,4279.9 402.6,4279.9 410.4,4278.3 418.3,4276.7 426.1,4275.1 434.0,4273.4 441.8,4271.7 449.6,4269.9 457.4,4268.1 465.2,4266.2 472.9,4264.3 480.7,4262.3 488.4,4260.3 496.1,4258.2 503.9,4256.1 511.5,4253.8 519.2,4251.5 526.8,4249.2 534.5,4246.7 542.1,4244.2 549.6,4241.6 557.2,4238.9 564.7,4236.1 572.2,4233.3 579.6,4230.3 587.0,4227.3 594.4,4224.1 601.7,4220.9 608.9,4217.5 616.2,4214.1 623.3,4210.5 630.4,4206.8 637.5,4203.1 644.5,4199.2 651.4,4195.2 658.3,4191.1 665.1,4186.8 671.8,4182.5 678.5,4178.1 685.0,4173.5 691.5,4168.8 697.9,4164.0 704.3,4159.1 710.5,4154.1 716.6,4149.0 722.7,4143.7 728.6,4138.4 734.5,4132.9 740.3,4127.4 746.0,4121.8 751.5,4116.0 757.0,4110.2 762.4,4104.3 767.7,4098.3 772.9,4092.2 778.0,4086.0 783.0,4079.8 787.9,4073.4 792.7,4067.0 797.4,4060.6 802.0,4054.0 806.6,4047.4 811.0,4040.8 815.4,4034.1 819.7,4027.3 823.9,4020.5 828.0,4013.6 832.0,4006.7 835.9,3999.7 839.8,3992.7 843.6,3985.7 847.3,3978.6 851.0,3971.5 854.6,3964.3 858.1,3957.2 861.6,3949.9 865.0,3942.7 868.3,3935.4 871.6,3928.1 874.9,3920.8 878.1,3913.5 881.2,3906.1 884.3,3898.8 887.4,3891.4 890.4,3883.9 893.4,3876.5 896.3,3869.1 899.2,3861.6 902.1,3854.1 904.9,3846.6 907.7,3839.1 910.4,3831.6 913.2,3824.1 915.9,3816.6 918.5,3809.0 921.2,3801.5 923.8,3793.9 926.4,3786.3 928.9,3778.7 931.5,3771.2 934.0,3763.6 936.5,3756.0 939.0,3748.3 941.4,3740.7 943.8,3733.1 946.3,3725.5 948.7,3717.8 951.1,3710.2 953.4,3702.6 955.8,3694.9 958.1,3687.2 960.5,3679.6 962.8,3671.9 965.1,3664.3 967.4,3656.6 969.7,3648.9 972.0,3641.3 974.2,3633.6 976.5,3625.9 978.8,3618.2 981.0,3610.6 983.3,3602.9 985.5,3595.2 987.8,3587.5 990.0,3579.8 992.3,3572.2 994.5,3564.5 996.8,3556.8 999.0,3549.1 1001.3,3541.4 1003.5,3533.7 1005.8,3526.1 1008.0,3518.4 1010.3,3510.7 1012.6,3503.0 1014.9,3495.4 1017.2,3487.7 1019.5,3480.0 1021.8,3472.4 1024.1,3464.7 1026.4,3457.1 1028.8,3449.4 1031.2,3441.8 1033.6,3434.1 1036.0,3426.5 1038.5,3418.9 1040.9,3411.3 1043.5,3403.7 1046.0,3396.1 1048.6,3388.5 1051.2,3381.0 1053.9,3373.4 1056.6,3365.9 1059.4,3358.4 1062.3,3350.9 1065.2,3343.5 1068.1,3336.0 1071.2,3328.6 1074.3,3321.3 1077.5,3313.9 1080.8,3306.6 1084.2,3299.4 1087.8,3292.2 1091.5,3285.1 1095.3,3278.1 1099.3,3271.2 1103.5,3264.4 1108.0,3257.7 1112.8,3251.3 1117.9,3245.2 1123.4,3239.4 1129.6,3234.3 1136.4,3230.1 1143.9,3227.5 1151.8,3227.1 1159.4,3229.0 1166.4,3233.0 1172.4,3238.2 1177.7,3244.1 1182.5,3250.6 1186.8,3257.3 1190.8,3264.2 1194.5,3271.3 1197.9,3278.6 1201.1,3285.9 1203.9,3293.4 1206.6,3301.0 1209.0,3308.6 1211.2,3316.3 1213.2,3324.0 1215.1,3331.8 1216.8,3339.6 1218.4,3347.5 1219.9,3355.3 1221.3,3363.2 1222.6,3371.1 1223.8,3379.0 1224.9,3386.9 1226.0,3394.9 1227.1,3402.8 1228.1,3410.7 1229.0,3418.7 1229.9,3426.6 1230.8,3434.6 1231.6,3442.6 1232.4,3450.5 1233.2,3458.5 1233.9,3466.5 1234.6,3474.4 1235.3,3482.4 1236.0,3490.4 1236.7,3498.4 1237.3,3506.3 1237.9,3514.3 1238.6,3522.3 1239.2,3530.3 1239.7,3538.3 1240.3,3546.2 1240.9,3554.2 1241.4,3562.2 1242.0,3570.2 1242.5,3578.2 1243.0,3586.2 1243.5,3594.2 1244.0,3602.1 1244.5,3610.1 1245.0,3618.1 1245.5,3626.1 1246.0,3634.1 1246.4,3642.1 1246.9,3650.1 1247.4,3658.1 1247.8,3666.1 1248.2,3674.0 1248.7,3682.0 1249.1,3690.0 1249.5,3698.0 1249.9,3706.0 1250.4,3714.0 1250.8,3722.0 1251.2,3730.0 1251.6,3738.0 1252.0,3746.0 1252.4,3754.0 1252.8,3762.0 1253.1,3770.0 1253.5,3778.0 1253.9,3786.0 1254.3,3793.9 1254.7,3801.9 1255.1,3809.9 1255.4,3817.9 1255.8,3825.9 1256.2,3833.9 1256.6,3841.9 1256.9,3849.9 1257.3,3857.9 1257.7,3865.9 1258.1,3873.9 1258.4,3881.9 1258.8,3889.9 1259.2,3897.9 1259.5,3905.9 1259.9,3913.9 1260.3,3921.9 1260.6,3929.9 1261.0,3937.9 1261.4,3945.8 1261.7,3953.8 1262.1,3961.8 1262.4,3969.8 1262.8,3977.8 1263.1,3985.8 1263.5,3993.8 1263.8,4001.8 1264.2,4009.8 1264.5,4017.8 1264.9,4025.8 1265.2,4033.8 1265.5,4041.8 1265.9,4049.8 1266.2,4057.8 1266.5,4065.8 1266.9,4073.8 1267.2,4081.8 1267.5,4089.8 1267.8,4097.8 1268.0,4105.8 1268.3,4113.8 1268.6,4105.8 1268.8,4097.8 1269.1,4089.8 1269.4,4081.8 1269.7,4073.8 1270.1,4065.8 1270.4,4057.8 1270.7,4049.8 1271.1,4041.8 1271.4,4033.8 1271.7,4025.8 1272.1,4017.8 1272.4,4009.8 1272.8,4001.8 1273.1,3993.8 1273.5,3985.8 1273.8,3977.8 1274.2,3969.8 1274.5,3961.8 1274.9,3953.8 1275.2,3945.8 1275.6,3937.9 1276.0,3929.9 1276.3,3921.9 1276.7,3913.9 1277.1,3905.9 1277.4,3897.9 1277.8,3889.9 1278.2,3881.9 1278.5,3873.9 1278.9,3865.9 1279.3,3857.9 1279.7,3849.9 1280.0,3841.9 1280.4,3833.9 1280.8,3825.9 1281.2,3817.9 1281.5,3809.9 1281.9,3801.9 1282.3,3793.9 1282.7,3786.0 1283.1,3778.0 1283.5,3770.0 1283.8,3762.0 1284.2,3754.0 1284.6,3746.0 1285.0,3738.0 1285.4,3730.0 1285.8,3722.0 1286.2,3714.0 1286.7,3706.0 1287.1,3698.0 1287.5,3690.0 1287.9,3682.0 1288.4,3674.0 1288.8,3666.1 1289.2,3658.1 1289.7,3650.1 1290.2,3642.1 1290.6,3634.1 1291.1,3626.1 1291.6,3618.1 1292.1,3610.1 1292.6,3602.1 1293.1,3594.2 1293.6,3586.2 1294.1,3578.2 1294.6,3570.2 1295.2,3562.2 1295.7,3554.2 1296.3,3546.2 1296.9,3538.3 1297.4,3530.3 1298.0,3522.3 1298.7,3514.3 1299.3,3506.3 1299.9,3498.4 1300.6,3490.4 1301.3,3482.4 1302.0,3474.4 1302.7,3466.5 1303.4,3458.5 1304.2,3450.5 1305.0,3442.6 1305.8,3434.6 1306.7,3426.6 1307.6,3418.7 1308.5,3410.7 1309.5,3402.8 1310.6,3394.9 1311.7,3386.9 1312.8,3379.0 1314.0,3371.1 1315.3,3363.2 1316.7,3355.3 1318.2,3347.5 1319.8,3339.6 1321.5,3331.8 1323.4,3324.0 1325.4,3316.3 1327.6,3308.6 1330.0,3301.0 1332.7,3293.4 1335.5,3285.9 1338.7,3278.6 1342.1,3271.3 1345.8,3264.2 1349.8,3257.3 1354.1,3250.6 1358.9,3244.1 1364.2,3238.2 1370.2,3233.0 1377.2,3229.0 1384.8,3227.1 1392.7,3227.5 1400.2,3230.1 1407.0,3234.3 1413.2,3239.4 1418.7,3245.2 1423.8,3251.3 1428.6,3257.7 1433.1,3264.4 1437.3,3271.2 1441.3,3278.1 1445.1,3285.1 1448.8,3292.2 1452.4,3299.4 1455.8,3306.6 1459.1,3313.9 1462.3,3321.3 1465.4,3328.6 1468.5,3336.0 1471.4,3343.5 1474.3,3350.9 1477.2,3358.4 1480.0,3365.9 1482.7,3373.4 1485.4,3381.0 1488.0,3388.5 1490.6,3396.1 1493.1,3403.7 1495.7,3411.3 1498.1,3418.9 1500.6,3426.5 1503.0,3434.1 1505.4,3441.8 1507.8,3449.4 1510.2,3457.1 1512.5,3464.7 1514.8,3472.4 1517.1,3480.0 1519.4,3487.7 1521.7,3495.4 1524.0,3503.0 1526.3,3510.7 1528.6,3518.4 1530.8,3526.1 1533.1,3533.7 1535.3,3541.4 1537.6,3549.1 1539.8,3556.8 1542.1,3564.5 1544.3,3572.2 1546.6,3579.8 1548.8,3587.5 1551.1,3595.2 1553.3,3602.9 1555.6,3610.6 1557.8,3618.2 1560.1,3625.9 1562.4,3633.6 1564.6,3641.3 1566.9,3648.9 1569.2,3656.6 1571.5,3664.3 1573.8,3671.9 1576.1,3679.6 1578.5,3687.2 1580.8,3694.9 1583.2,3702.6 1585.5,3710.2 1587.9,3717.8 1590.3,3725.5 1592.8,3733.1 1595.2,3740.7 1597.6,3748.3 1600.1,3756.0 1602.6,3763.6 1605.1,3771.2 1607.7,3778.7 1610.2,3786.3 1612.8,3793.9 1615.4,3801.5 1618.1,3809.0 1620.7,3816.6 1623.4,3824.1 1626.2,3831.6 1628.9,3839.1 1631.7,3846.6 1634.5,3854.1 1637.4,3861.6 1640.3,3869.1 1643.2,3876.5 1646.2,3883.9 1649.2,3891.4 1652.3,3898.8 1655.4,3906.1 1658.5,3913.5 1661.7,3920.8 1665.0,3928.1 1668.3,3935.4 1671.6,3942.7 1675.0,3949.9 1678.5,3957.2 1682.0,3964.3 1685.6,3971.5 1689.3,3978.6 1693.0,3985.7 1696.8,3992.7 1700.7,3999.7 1704.6,4006.7 1708.6,4013.6 1712.7,4020.5 1716.9,4027.3 1721.2,4034.1 1725.6,4040.8 1730.0,4047.4 1734.6,4054.0 1739.2,4060.6 1743.9,4067.0 1748.7,4073.4 1753.6,4079.8 1758.6,4086.0 1763.7,4092.2 1768.9,4098.3 1774.2,4104.3 1779.6,4110.2 1785.1,4116.0 1790.6,4121.8 1796.3,4127.4 1802.1,4132.9 1808.0,4138.4 1813.9,4143.7 1820.0,4149.0 1826.1,4154.1 1832.3,4159.1 1838.7,4164.0 1845.1,4168.8 1851.6,4173.5 1858.1,4178.1 1864.8,4182.5 1871.5,4186.8 1878.3,4191.1 1885.2,4195.2 1892.1,4199.2 1899.1,4203.1 1906.2,4206.8 1913.3,4210.5 1920.4,4214.1 1927.7,4217.5 1934.9,4220.9 1942.2,4224.1 1949.6,4227.3 1957.0,4230.3 1964.4,4233.3 1971.9,4236.1 1979.4,4238.9 1987.0,4241.6 1994.5,4244.2 2002.1,4246.7 2009.8,4249.2 2017.4,4251.5 2025.1,4253.8 2032.7,4256.1 2040.5,4258.2 2048.2,4260.3 2055.9,4262.3 2063.7,4264.3 2071.4,4266.2 2079.2,4268.1 2087.0,4269.9 2094.8,4271.7 2102.6,4273.4 2110.5,4275.1 2118.3,4276.7 2126.2,4278.3 2134.0,4279.9 2134.0,4279.9" stroke="#8F8C00"/>
<path d="M402.6,4278.6 406.5,4277.8 414.4,4276.3 422.2,4274.7 430.0,4273.0 437.9,4271.4 445.7,4269.6 453.5,4267.9 461.3,4266.0 469.0,4264.1 476.8,4262.2 484.5,4260.2 492.3,4258.2 500.0,4256.0 507.7,4253.8 515.4,4251.6 523.0,4249.3 530.6,4246.8 538.2,4244.4 545.8,4241.8 553.4,4239.2 560.9,4236.4 568.4,4233.6 575.8,4230.7 583.2,4227.7 590.6,4224.6 597.9,4221.4 605.2,4218.1 612.5,4214.7 619.7,4211.2 626.8,4207.5 633.9,4203.8 640.9,4200.0 647.8,4196.0 654.7,4191.9 661.6,4187.8 668.3,4183.5 675.0,4179.1 681.6,4174.5 688.1,4169.9 694.5,4165.2 700.9,4160.3 707.2,4155.3 713.4,4150.3 719.5,4145.1 725.5,4139.8 731.4,4134.4 737.2,4128.9 742.9,4123.3 748.5,4117.6 754.1,4111.9 759.5,4106.0 764.8,4100.0 770.1,4094.0 775.2,4087.9 780.3,4081.7 785.3,4075.4 790.1,4069.0 794.9,4062.6 799.6,4056.1 804.2,4049.6 808.7,4043.0 813.1,4036.3 817.5,4029.6 821.7,4022.8 825.9,4016.0 830.0,4009.1 834.0,4002.2 837.9,3995.2 841.8,3988.2 845.6,3981.2 849.3,3974.1 852.9,3967.0 856.5,3959.8 860.0,3952.6 863.5,3945.4 866.9,3938.2 870.2,3930.9 873.5,3923.6 876.7,3916.3 879.9,3909.0 883.1,3901.6 886.2,3894.2 889.2,3886.8 892.2,3879.4 895.2,3872.0 898.1,3864.5 901.0,3857.1 903.9,3849.6 906.7,3842.1 909.5,3834.6 912.2,3827.1 914.9,3819.6 917.6,3812.1 920.3,3804.5 922.9,3797.0 925.6,3789.4 928.1,3781.8 930.7,3774.3 933.2,3766.7 935.7,3759.1 938.2,3751.5 940.7,3743.9 943.2,3736.2 945.6,3728.6 948.0,3721.0 950.4,3713.4 952.8,3705.7 955.2,3698.1 957.6,3690.5 959.9,3682.8 962.3,3675.2 964.6,3667.5 966.9,3659.9 969.2,3652.2 971.5,3644.5 973.8,3636.9 976.1,3629.2 978.4,3621.5 980.7,3613.9 983.0,3606.2 985.2,3598.5 987.5,3590.9 989.8,3583.2 992.1,3575.5 994.3,3567.8 996.6,3560.2 998.9,3552.5 1001.1,3544.8 1003.4,3537.2 1005.7,3529.5 1008.0,3521.8 1010.3,3514.2 1012.6,3506.5 1014.9,3498.8 1017.2,3491.2 1019.5,3483.5 1021.9,3475.9 1024.2,3468.2 1026.6,3460.6 1029.0,3453.0 1031.4,3445.3 1033.8,3437.7 1036.2,3430.1 1038.7,3422.5 1041.2,3414.9 1043.7,3407.3 1046.3,3399.7 1048.9,3392.1 1051.6,3384.6 1054.3,3377.1 1057.0,3369.6 1059.8,3362.1 1062.7,3354.6 1065.6,3347.2 1068.6,3339.7 1071.7,3332.4 1074.9,3325.0 1078.1,3317.7 1081.5,3310.4 1085.0,3303.2 1088.6,3296.1 1092.3,3289.0 1096.2,3282.0 1100.3,3275.1 1104.6,3268.4 1109.2,3261.9 1114.1,3255.5 1119.3,3249.5 1125.1,3244.0 1131.4,3239.1 1138.5,3235.4 1146.2,3233.5 1154.1,3234.0 1161.5,3236.8 1168.1,3241.3 1173.8,3246.8 1178.9,3253.0 1183.4,3259.6 1187.5,3266.5 1191.4,3273.5 1194.9,3280.7 1198.2,3288.0 1201.2,3295.4 1204.0,3302.9 1206.5,3310.5 1208.8,3318.1 1211.0,3325.8 1213.0,3333.6 1214.8,3341.4 1216.5,3349.2 1218.1,3357.0 1219.5,3364.9 1220.9,3372.8 1222.2,3380.7 1223.4,3388.6 1224.6,3396.5 1225.7,3404.4 1226.7,3412.3 1227.7,3420.3 1228.6,3428.2 1229.5,3436.2 1230.4,3444.1 1231.2,3452.1 1232.0,3460.0 1232.8,3468.0 1233.5,3476.0 1234.2,3483.9 1234.9,3491.9 1235.6,3499.9 1236.3,3507.9 1236.9,3515.8 1237.5,3523.8 1238.1,3531.8 1238.7,3539.8 1239.3,3547.7 1239.9,3555.7 1240.5,3563.7 1241.0,3571.7 1241.5,3579.7 1242.1,3587.6 1242.6,3595.6 1243.1,3603.6 1243.6,3611.6 1244.1,3619.6 1244.6,3627.6 1245.1,3635.5 1245.5,3643.5 1246.0,3651.5 1246.5,3659.5 1246.9,3667.5 1247.4,3675.5 1247.8,3683.5 1248.2,3691.5 1248.7,3699.4 1249.1,3707.4 1249.5,3715.4 1249.9,3723.4 1250.3,3731.4 1250.7,3739.4 1251.2,3747.4 1251.5,3755.4 1251.9,3763.4 1252.3,3771.4 1252.7,3779.3 1253.1,3787.3 1253.5,3795.3 1253.9,3803.3 1254.3,3811.3 1254.6,3819.3 1255.0,3827.3 1255.4,3835.3 1255.8,3843.3 1256.2,3851.3 1256.6,3859.3 1256.9,3867.2 1257.3,3875.2 1257.7,3883.2 1258.1,3891.2 1258.4,3899.2 1258.8,3907.2 1259.2,3915.2 1259.6,3923.2 1259.9,3931.2 1260.3,3939.2 1260.7,3947.2 1261.0,3955.2 1261.4,3963.1 1261.8,3971.1 1262.1,3979.1 1262.5,3987.1 1262.9,3995.1 1263.2,4003.1 1263.6,4011.1 1264.0,4019.1 1264.3,4027.1 1264.7,4035.1 1265.0,4043.1 1265.4,4051.1 1265.7,4059.1 1266.1,4067.0 1266.4,4075.0 1266.7,4083.0 1267.1,4091.0 1267.4,4099.0 1267.7,4107.0 1268.0,4115.0 1268.3,4123.0 1268.6,4115.0 1268.9,4107.0 1269.2,4099.0 1269.5,4091.0 1269.9,4083.0 1270.2,4075.0 1270.5,4067.0 1270.9,4059.1 1271.2,4051.1 1271.6,4043.1 1271.9,4035.1 1272.3,4027.1 1272.6,4019.1 1273.0,4011.1 1273.4,4003.1 1273.7,3995.1 1274.1,3987.1 1274.5,3979.1 1274.8,3971.1 1275.2,3963.1 1275.6,3955.2 1275.9,3947.2 1276.3,3939.2 1276.7,3931.2 1277.0,3923.2 1277.4,3915.2 1277.8,3907.2 1278.2,3899.2 1278.5,3891.2 1278.9,3883.2 1279.3,3875.2 1279.7,3867.2 1280.0,3859.3 1280.4,3851.3 1280.8,3843.3 1281.2,3835.3 1281.6,3827.3 1282.0,3819.3 1282.3,3811.3 1282.7,3803.3 1283.1,3795.3 1283.5,3787.3 1283.9,3779.3 1284.3,3771.4 1284.7,3763.4 1285.1,3755.4 1285.4,3747.4 1285.9,3739.4 1286.3,3731.4 1286.7,3723.4 1287.1,3715.4 1287.5,3707.4 1287.9,3699.4 1288.4,3691.5 1288.8,3683.5 1289.2,3675.5 1289.7,3667.5 1290.1,3659.5 1290.6,3651.5 1291.1,3643.5 1291.5,3635.5 1292.0,3627.6 1292.5,3619.6 1293.0,3611.6 1293.5,3603.6 1294.0,3595.6 1294.5,3587.6 1295.1,3579.7 1295.6,3571.7 1296.1,3563.7 1296.7,3555.7 1297.3,3547.7 1297.9,3539.8 1298.5,3531.8 1299.1,3523.8 1299.7,3515.8 1300.3,3507.9 1301.0,3499.9 1301.7,3491.9 1302.4,3483.9 1303.1,3476.0 1303.8,3468.0 1304.6,3460.0 1305.4,3452.1 1306.2,3444.1 1307.1,3436.2 1308.0,3428.2 1308.9,3420.3 1309.9,3412.3 1310.9,3404.4 1312.0,3396.5 1313.2,3388.6 1314.4,3380.7 1315.7,3372.8 1317.1,3364.9 1318.5,3357.0 1320.1,3349.2 1321.8,3341.4 1323.6,3333.6 1325.6,3325.8 1327.8,3318.1 1330.1,3310.5 1332.6,3302.9 1335.4,3295.4 1338.4,3288.0 1341.7,3280.7 1345.2,3273.5 1349.1,3266.5 1353.2,3259.6 1357.7,3253.0 1362.8,3246.8 1368.5,3241.3 1375.1,3236.8 1382.5,3234.0 1390.4,3233.5 1398.1,3235.4 1405.2,3239.1 1411.5,3244.0 1417.3,3249.5 1422.5,3255.5 1427.4,3261.9 1432.0,3268.4 1436.3,3275.1 1440.4,3282.0 1444.3,3289.0 1448.0,3296.1 1451.6,3303.2 1455.1,3310.4 1458.5,3317.7 1461.7,3325.0 1464.9,3332.4 1468.0,3339.7 1471.0,3347.2 1473.9,3354.6 1476.8,3362.1 1479.6,3369.6 1482.3,3377.1 1485.0,3384.6 1487.7,3392.1 1490.3,3399.7 1492.9,3407.3 1495.4,3414.9 1497.9,3422.5 1500.4,3430.1 1502.8,3437.7 1505.2,3445.3 1507.6,3453.0 1510.0,3460.6 1512.4,3468.2 1514.7,3475.9 1517.1,3483.5 1519.4,3491.2 1521.7,3498.8 1524.0,3506.5 1526.3,3514.2 1528.6,3521.8 1530.9,3529.5 1533.2,3537.2 1535.5,3544.8 1537.7,3552.5 1540.0,3560.2 1542.3,3567.8 1544.5,3575.5 1546.8,3583.2 1549.1,3590.9 1551.4,3598.5 1553.6,3606.2 1555.9,3613.9 1558.2,3621.5 1560.5,3629.2 1562.8,3636.9 1565.1,3644.5 1567.4,3652.2 1569.7,3659.9 1572.0,3667.5 1574.3,3675.2 1576.7,3682.8 1579.0,3690.5 1581.4,3698.1 1583.8,3705.7 1586.2,3713.4 1588.6,3721.0 1591.0,3728.6 1593.4,3736.2 1595.9,3743.9 1598.4,3751.5 1600.9,3759.1 1603.4,3766.7 1605.9,3774.3 1608.5,3781.8 1611.0,3789.4 1613.7,3797.0 1616.3,3804.5 1619.0,3812.1 1621.7,3819.6 1624.4,3827.1 1627.1,3834.6 1629.9,3842.1 1632.7,3849.6 1635.6,3857.1 1638.5,3864.5 1641.4,3872.0 1644.4,3879.4 1647.4,3886.8 1650.4,3894.2 1653.5,3901.6 1656.7,3909.0 1659.9,3916.3 1663.1,3923.6 1666.4,3930.9 1669.7,3938.2 1673.1,3945.4 1676.6,3952.6 1680.1,3959.8 1683.7,3967.0 1687.3,3974.1 1691.0,3981.2 1694.8,3988.2 1698.7,3995.2 1702.6,4002.2 1706.6,4009.1 1710.7,4016.0 1714.9,4022.8 1719.1,4029.6 1723.5,4036.3 1727.9,4043.0 1732.4,4049.6 1737.0,4056.1 1741.7,4062.6 1746.5,4069.0 1751.3,4075.4 1756.3,4081.7 1761.4,4087.9 1766.5,4094.0 1771.8,4100.0 1777.1,4106.0 1782.5,4111.9 1788.1,4117.6 1793.7,4123.3 1799.4,4128.9 1805.2,4134.4 1811.1,4139.8 1817.1,4145.1 1823.2,4150.3 1829.4,4155.3 1835.7,4160.3 1842.1,4165.2 1848.5,4169.9 1855.0,4174.5 1861.6,4179.1 1868.3,4183.5 1875.0,4187.8 1881.9,4191.9 1888.8,4196.0 1895.7,4200.0 1902.7,4203.8 1909.8,4207.5 1916.9,4211.2 1924.1,4214.7 1931.4,4218.1 1938.7,4221.4 1946.0,4224.6 1953.4,4227.7 1960.8,4230.7 1968.2,4233.6 1975.7,4236.4 1983.2,4239.2 1990.8,4241.8 1998.4,4244.4 2006.0,4246.8 2013.6,4249.3 2021.2,4251.6 2028.9,4253.8 2036.6,4256.0 2044.3,4258.2 2052.1,4260.2 2059.8,4262.2 2067.6,4264.1 2075.3,4266.0 2083.1,4267.9 2090.9,4269.6 2098.7,4271.4 2106.6,4273.0 2114.4,4274.7 2122.2,4276.3 2130.1,4277.8 2134.0,4278.6" stroke="#FF6501"/>
</g>
<rect x="405.7" y="3340.0" width="655.3" height="1003.0" fill="#fff" fill-opacity="0.5"/>
<g shape-rendering="crispEdges">
<rect x="405.7" y="3340.0" width="655.3" height="6.1" fill="#868686"/>
<rect x="1054.9" y="3340.0" width="6.1" height="1003.0" fill="#868686"/>
<rect x="412.0" y="3396.9" width="200.0" height="12.3" fill="#515151"/>
<rect x="412.0" y="3495.8" width="200.0" height="12.3" fill="#FB3E3E"/>
<rect x="412.0" y="3594.7" width="200.0" height="12.3" fill="#0A70E0"/>
<rect x="412.0" y="3693.6" width="200.0" height="12.3" fill="#1AAD66"/>
<rect x="412.0" y="3792.5" width="200.0" height="12.3" fill="#C078E0"/>
<rect x="412.0" y="3891.4" width="200.0" height="12.3" fill="#DA9A00"/>
<rect x="412.0" y="3990.3" width="200.0" height="12.3" fill="#00CACD"/>
<rect x="412.0" y="4089.2" width="200.0" height="12.3" fill="#864C4C"/>
<rect x="412.0" y="4188.1" width="200.0" height="12.3" fill="#8F8C00"/>
<rect x="412.0" y="4287.0" width="200.0" height="12.3" fill="#FF6501"/>
</g>
<text x="621.0" y="3428.0" font-size="88.0" text-anchor="start" fill="#0a0a14" textLength="436.0" lengthAdjust="spacingAndGlyphs">T=278.15K</text>
<text x="621.0" y="3526.7" font-size="88.0" text-anchor="start" fill="#0a0a14" textLength="436.0" lengthAdjust="spacingAndGlyphs">T=288.15K</text>
<text x="621.0" y="3625.4" font-size="88.0" text-anchor="start" fill="#0a0a14" textLength="436.0" lengthAdjust="spacingAndGlyphs">T=298.15K</text>
<text x="621.0" y="3724.1" font-size="88.0" text-anchor="start" fill="#0a0a14" textLength="436.0" lengthAdjust="spacingAndGlyphs">T=308.15K</text>
<text x="621.0" y="3822.8" font-size="88.0" text-anchor="start" fill="#0a0a14" textLength="436.0" lengthAdjust="spacingAndGlyphs">T=318.15K</text>
<text x="621.0" y="3921.5" font-size="88.0" text-anchor="start" fill="#0a0a14" textLength="436.0" lengthAdjust="spacingAndGlyphs">T=328.15K</text>
<text x="621.0" y="4020.2" font-size="88.0" text-anchor="start" fill="#0a0a14" textLength="436.0" lengthAdjust="spacingAndGlyphs">T=338.15K</text>
<text x="621.0" y="4118.9" font-size="88.0" text-anchor="start" fill="#0a0a14" textLength="436.0" lengthAdjust="spacingAndGlyphs">T=348.15K</text>
<text x="621.0" y="4217.6" font-size="88.0" text-anchor="start" fill="#0a0a14" textLength="436.0" lengthAdjust="spacingAndGlyphs">T=358.15K</text>
<text x="621.0" y="4316.3" font-size="88.0" text-anchor="start" fill="#0a0a14" textLength="436.0" lengthAdjust="spacingAndGlyphs">T=368.15K</text>
<g shape-rendering="crispEdges">
<rect x="381.1" y="4342.9" width="18.4" height="6.1" fill="#000"/>
<rect x="393.4" y="4233.5" width="6.1" height="6.1" fill="#000"/>
<rect x="381.1" y="4124.1" width="18.4" height="6.1" fill="#000"/>
<rect x="393.4" y="4014.7" width="6.1" height="6.1" fill="#000"/>
<rect x="381.1" y="3905.3" width="18.4" height="6.1" fill="#000"/>
<rect x="393.4" y="3795.8" width="6.1" height="6.1" fill="#000"/>
<rect x="381.1" y="3686.4" width="18.4" height="6.1" fill="#000"/>
<rect x="393.4" y="3577.0" width="6.1" height="6.1" fill="#000"/>
<rect x="381.1" y="3467.6" width="18.4" height="6.1" fill="#000"/>
<rect x="393.4" y="3358.2" width="6.1" height="6.1" fill="#000"/>
<rect x="381.1" y="3248.8" width="18.4" height="6.1" fill="#000"/>
<rect x="393.4" y="3139.3" width="6.1" height="6.1" fill="#000"/>
<rect x="381.1" y="3029.9" width="18.4" height="6.1" fill="#000"/>
<rect x="399.5" y="4349.1" width="6.1" height="24.6" fill="#000"/>
<rect x="486.1" y="4349.1" width="6.1" height="9.2" fill="#000"/>
<rect x="572.7" y="4349.1" width="6.1" height="21.5" fill="#000"/>
<rect x="659.2" y="4349.1" width="6.1" height="9.2" fill="#000"/>
<rect x="745.8" y="4349.1" width="6.1" height="21.5" fill="#000"/>
<rect x="832.4" y="4349.1" width="6.1" height="9.2" fill="#000"/>
<rect x="919.0" y="4349.1" width="6.1" height="21.5" fill="#000"/>
<rect x="1005.5" y="4349.1" width="6.1" height="9.2" fill="#000"/>
<rect x="1092.1" y="4349.1" width="6.1" height="21.5" fill="#000"/>
<rect x="1178.7" y="4349.1" width="6.1" height="9.2" fill="#000"/>
<rect x="1265.2" y="4349.1" width="6.1" height="21.5" fill="#000"/>
<rect x="1351.8" y="4349.1" width="6.1" height="9.2" fill="#000"/>
<rect x="1438.4" y="4349.1" width="6.1" height="21.5" fill="#000"/>
<rect x="1524.9" y="4349.1" width="6.1" height="9.2" fill="#000"/>
<rect x="1611.5" y="4349.1" width="6.1" height="21.5" fill="#000"/>
<rect x="1698.1" y="4349.1" width="6.1" height="9.2" fill="#000"/>
<rect x="1784.7" y="4349.1" width="6.1" height="21.5" fill="#000"/>
<rect x="1871.2" y="4349.1" width="6.1" height="9.2" fill="#000"/>
<rect x="1957.8" y="4349.1" width="6.1" height="21.5" fill="#000"/>
<rect x="2044.4" y="4349.1" width="6.1" height="9.2" fill="#000"/>
<rect x="2130.9" y="4349.1" width="6.1" height="24.6" fill="#000"/>
</g>
<text x="356.0" y="4364.6" font-size="71.0" text-anchor="end" fill="#343434">0.0</text>
<text x="356.0" y="4145.0" font-size="71.0" text-anchor="end" fill="#343434">0.1</text>
<text x="356.0" y="3925.4" font-size="71.0" text-anchor="end" fill="#343434">0.2</text>
<text x="356.0" y="3705.8" font-size="71.0" text-anchor="end" fill="#343434">0.3</text>
<text x="356.0" y="3486.2" font-size="71.0" text-anchor="end" fill="#343434">0.4</text>
<text x="356.0" y="3266.6" font-size="71.0" text-anchor="end" fill="#343434">0.5</text>
<text x="356.0" y="3047.0" font-size="71.0" text-anchor="end" fill="#343434">0.6</text>
<text x="399.6" y="4441.5" font-size="71.0" text-anchor="middle" fill="#343434">-5</text>
<text x="572.7" y="4441.5" font-size="71.0" text-anchor="middle" fill="#343434">-4</text>
<text x="745.9" y="4441.5" font-size="71.0" text-anchor="middle" fill="#343434">-3</text>
<text x="919.0" y="4441.5" font-size="71.0" text-anchor="middle" fill="#343434">-2</text>
<text x="1092.2" y="4441.5" font-size="71.0" text-anchor="middle" fill="#343434">-1</text>
<text x="1268.3" y="4441.5" font-size="71.0" text-anchor="middle" fill="#343434">0</text>
<text x="1441.4" y="4441.5" font-size="71.0" text-anchor="middle" fill="#343434">1</text>
<text x="1614.6" y="4441.5" font-size="71.0" text-anchor="middle" fill="#343434">2</text>
<text x="1787.7" y="4441.5" font-size="71.0" text-anchor="middle" fill="#343434">3</text>
<text x="1960.9" y="4441.5" font-size="71.0" text-anchor="middle" fill="#343434">4</text>
<text x="2129.0" y="4441.5" font-size="71.0" text-anchor="middle" fill="#343434">5</text>
<text x="414.0" y="3152.0" font-size="115.0" text-anchor="start" fill="#000" font-weight="bold">c</text>
<text transform="translate(1943.0,3985.0) rotate(-90)" font-size="87.0" text-anchor="start" fill="#1a1a1a" textLength="940.0" lengthAdjust="spacingAndGlyphs">H=4.8Å,PM,ε<tspan dy="24" font-size="56">br</tspan><tspan dy="-24">=78.5,ε</tspan><tspan dy="24" font-size="56">r</tspan><tspan dy="-24">=10</tspan></text>
<text transform="translate(2081.0,3981.5) rotate(-90)" font-size="87.0" text-anchor="start" fill="#1a1a1a" textLength="833.0" lengthAdjust="spacingAndGlyphs">c<tspan dy="24" font-size="56">1:1</tspan><tspan dy="-24">=0.25M,d</tspan><tspan dy="-32" font-size="56">+</tspan><tspan dy="32">=d</tspan><tspan dy="-32" font-size="56">-</tspan><tspan dy="32">=3.2Å,</tspan></text>
<text transform="translate(210.5,3864.0) rotate(-90)" font-size="100.0" text-anchor="start" fill="#1a1a1a" textLength="358.0" lengthAdjust="spacingAndGlyphs">C<tspan dy="26" font-size="66">d</tspan><tspan dy="-26">/(F/m</tspan><tspan dy="-44" font-size="66">2</tspan><tspan dy="44">)</tspan></text>
<text x="1180.5" y="4567.0" font-size="87.0" text-anchor="start" fill="#3a3a3a" textLength="164.0" lengthAdjust="spacingAndGlyphs">U/V</text>
</svg>
</body>
</html>
